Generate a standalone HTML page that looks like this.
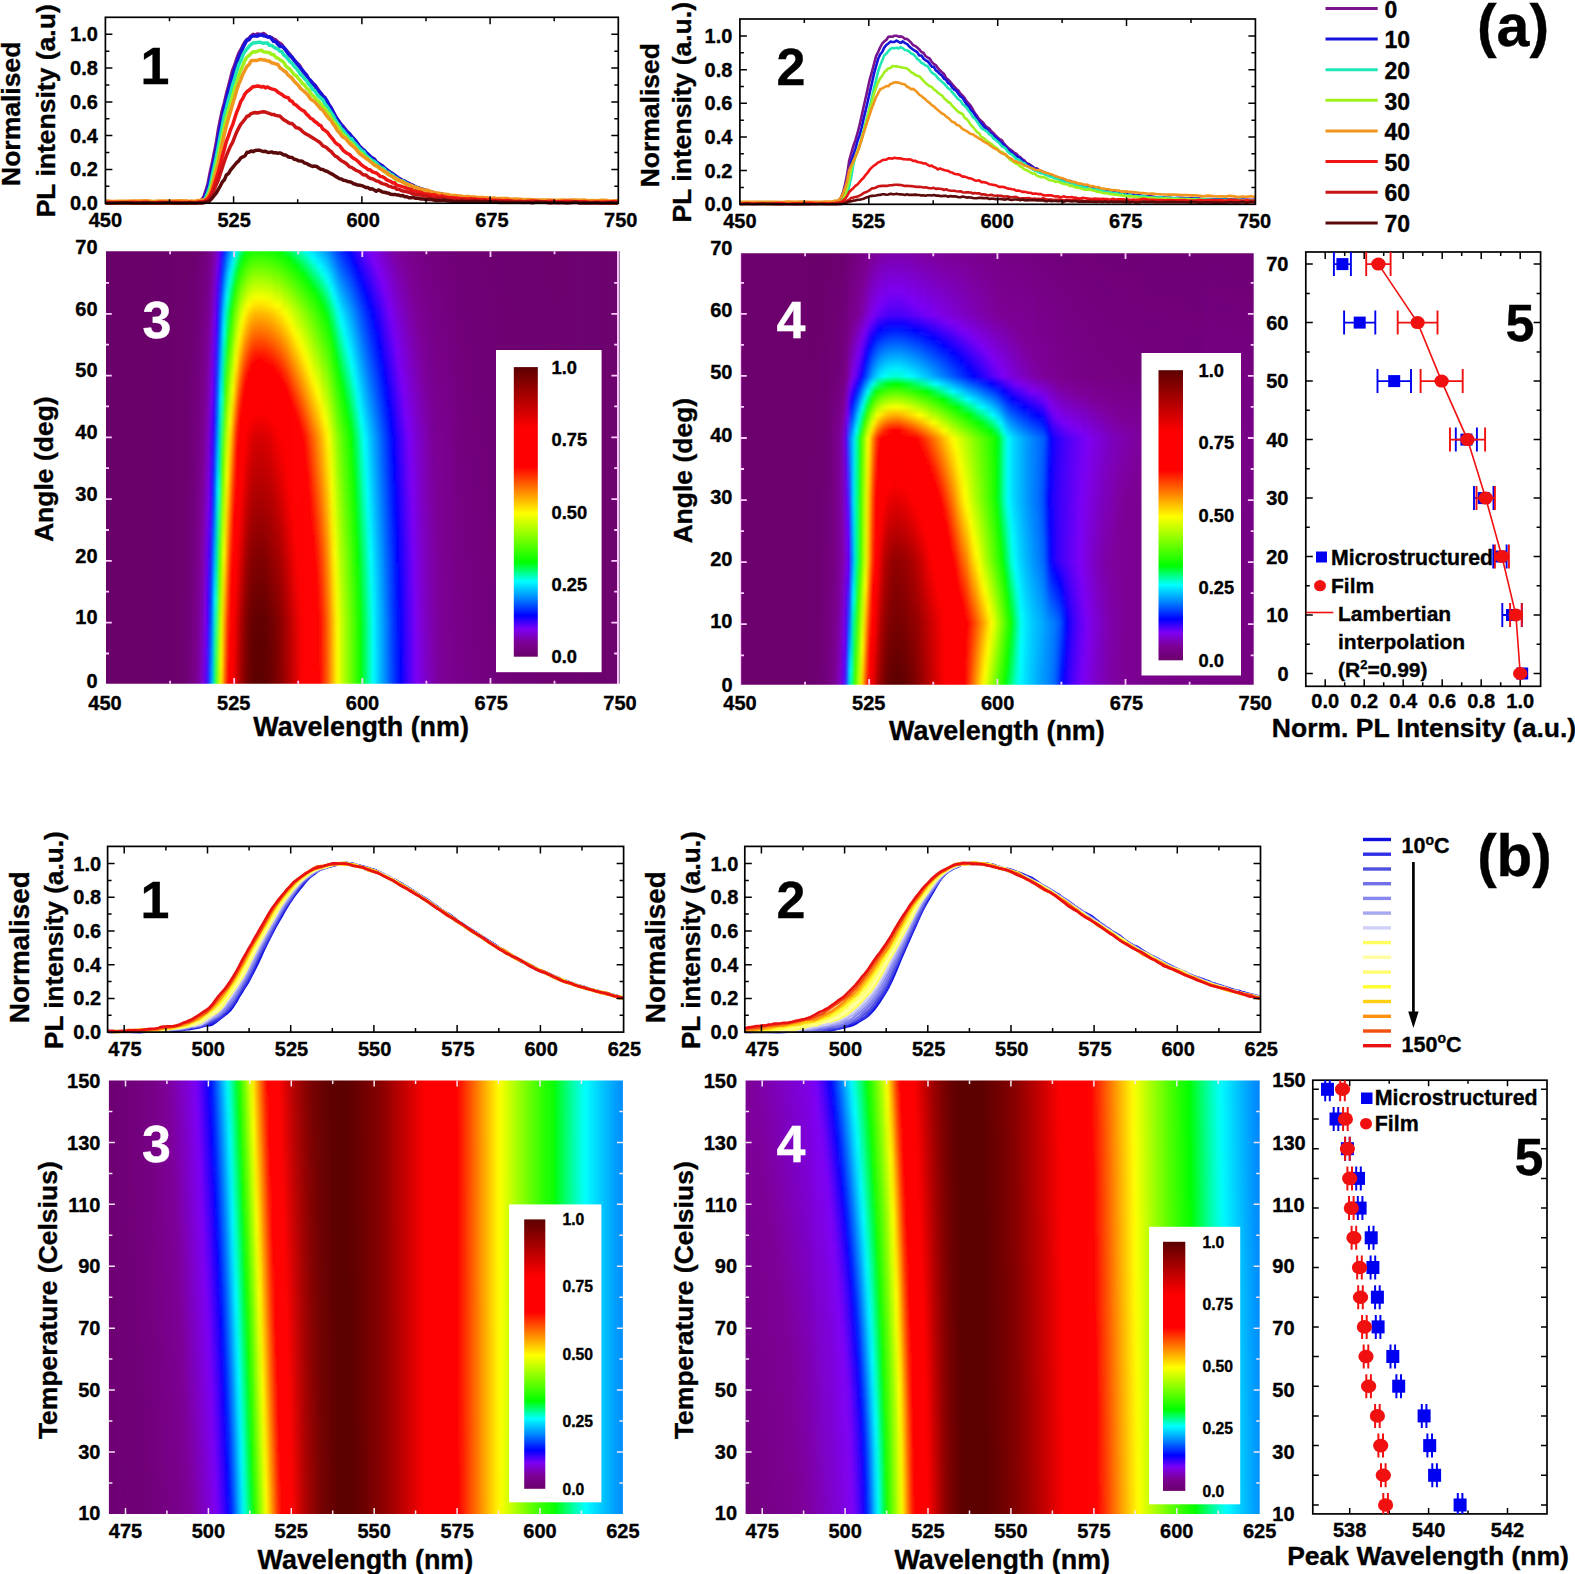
<!DOCTYPE html>
<html><head><meta charset="utf-8"><title>Figure</title>
<style>html,body{margin:0;padding:0;background:#fff}svg{display:block}text{font-family:"Liberation Sans",sans-serif;font-weight:bold;stroke-width:.35px}</style></head>
<body>
<svg width="1575" height="1574" viewBox="0 0 1575 1574">
<rect width="1575" height="1574" fill="#fff"/>
<defs>
<filter id="bl" filterUnits="userSpaceOnUse" x="0" y="0" width="1575" height="1574"><feGaussianBlur stdDeviation="1.7 0"/></filter>
<linearGradient id="p0" x2="0" y2="1"><stop offset="0.022" stop-color="#6c006c"/><stop offset="0.978" stop-color="#6e0073"/></linearGradient>
<linearGradient id="p1" x2="0" y2="1"><stop offset="0.022" stop-color="#6c006d"/><stop offset="0.978" stop-color="#710079"/></linearGradient>
<linearGradient id="p2" x2="0" y2="1"><stop offset="0.022" stop-color="#6c006e"/><stop offset="0.978" stop-color="#740080"/></linearGradient>
<linearGradient id="p3" x2="0" y2="1"><stop offset="0.022" stop-color="#6d0071"/><stop offset="0.978" stop-color="#770089"/></linearGradient>
<linearGradient id="p4" x2="0" y2="1"><stop offset="0.022" stop-color="#6e0073"/><stop offset="0.978" stop-color="#7c0094"/></linearGradient>
<linearGradient id="p5" x2="0" y2="1"><stop offset="0.022" stop-color="#700076"/><stop offset="0.722" stop-color="#7d0096"/><stop offset="0.978" stop-color="#7d00b3"/></linearGradient>
<linearGradient id="p6" x2="0" y2="1"><stop offset="0.022" stop-color="#71007a"/><stop offset="0.5" stop-color="#7d0096"/><stop offset="0.978" stop-color="#7d00d9"/></linearGradient>
<linearGradient id="p7" x2="0" y2="1"><stop offset="0.022" stop-color="#740080"/><stop offset="0.329" stop-color="#7d0098"/><stop offset="0.841" stop-color="#7d00f4"/><stop offset="0.978" stop-color="#5200f8"/></linearGradient>
<linearGradient id="p8" x2="0" y2="1"><stop offset="0.022" stop-color="#760085"/><stop offset="0.193" stop-color="#7d0098"/><stop offset="0.585" stop-color="#7d00f4"/><stop offset="0.824" stop-color="#0200ff"/><stop offset="0.978" stop-color="#002cff"/></linearGradient>
<linearGradient id="p9" x2="0" y2="1"><stop offset="0.022" stop-color="#7b0091"/><stop offset="0.329" stop-color="#7d00f3"/><stop offset="0.585" stop-color="#0100ff"/><stop offset="0.705" stop-color="#002eff"/><stop offset="0.978" stop-color="#00b0ff"/></linearGradient>
<linearGradient id="p10" x2="0" y2="1"><stop offset="0.022" stop-color="#7d00ab"/><stop offset="0.176" stop-color="#7900f5"/><stop offset="0.398" stop-color="#0003ff"/><stop offset="0.568" stop-color="#0061ff"/><stop offset="0.79" stop-color="#00fbff"/><stop offset="0.978" stop-color="#00ff2c"/></linearGradient>
<linearGradient id="p11" x2="0" y2="1"><stop offset="0.022" stop-color="#7d00e0"/><stop offset="0.056" stop-color="#7800f5"/><stop offset="0.159" stop-color="#1500fd"/><stop offset="0.193" stop-color="#0003ff"/><stop offset="0.295" stop-color="#0042ff"/><stop offset="0.551" stop-color="#00ffff"/><stop offset="0.722" stop-color="#01ff00"/><stop offset="0.841" stop-color="#49ff00"/><stop offset="0.978" stop-color="#8aff00"/></linearGradient>
<linearGradient id="p12" x2="0" y2="1"><stop offset="0.022" stop-color="#3f00fa"/><stop offset="0.073" stop-color="#0004ff"/><stop offset="0.159" stop-color="#0062ff"/><stop offset="0.346" stop-color="#00fffe"/><stop offset="0.483" stop-color="#00ff14"/><stop offset="0.5" stop-color="#03ff00"/><stop offset="0.841" stop-color="#deff00"/><stop offset="0.927" stop-color="#fffe00"/><stop offset="0.978" stop-color="#ffe900"/></linearGradient>
<linearGradient id="p13" x2="0" y2="1"><stop offset="0.022" stop-color="#001bff"/><stop offset="0.159" stop-color="#00d7ff"/><stop offset="0.193" stop-color="#00faff"/><stop offset="0.21" stop-color="#00ffe8"/><stop offset="0.329" stop-color="#01ff00"/><stop offset="0.432" stop-color="#57ff00"/><stop offset="0.688" stop-color="#feff00"/><stop offset="0.841" stop-color="#ffa300"/><stop offset="0.978" stop-color="#ff7000"/></linearGradient>
<linearGradient id="p14" x2="0" y2="1"><stop offset="0.022" stop-color="#005dff"/><stop offset="0.125" stop-color="#00fff9"/><stop offset="0.159" stop-color="#00ff95"/><stop offset="0.227" stop-color="#02ff00"/><stop offset="0.432" stop-color="#c2ff00"/><stop offset="0.517" stop-color="#faff00"/><stop offset="0.841" stop-color="#ff3100"/><stop offset="0.978" stop-color="#ff0000"/></linearGradient>
<linearGradient id="p15" x2="0" y2="1"><stop offset="0.022" stop-color="#0095ff"/><stop offset="0.073" stop-color="#00f1ff"/><stop offset="0.09" stop-color="#00ffdf"/><stop offset="0.159" stop-color="#02ff00"/><stop offset="0.398" stop-color="#faff00"/><stop offset="0.432" stop-color="#ffde00"/><stop offset="0.739" stop-color="#ff0400"/><stop offset="0.978" stop-color="#ff0000"/></linearGradient>
<linearGradient id="p16" x2="0" y2="1"><stop offset="0.022" stop-color="#00c8ff"/><stop offset="0.039" stop-color="#00eaff"/><stop offset="0.056" stop-color="#00ffe7"/><stop offset="0.107" stop-color="#00ff27"/><stop offset="0.125" stop-color="#09ff00"/><stop offset="0.159" stop-color="#3bff00"/><stop offset="0.329" stop-color="#fdff00"/><stop offset="0.432" stop-color="#ff8000"/><stop offset="0.602" stop-color="#ff0000"/><stop offset="0.978" stop-color="#fe0000"/></linearGradient>
<linearGradient id="p17" x2="0" y2="1"><stop offset="0.022" stop-color="#00fffe"/><stop offset="0.073" stop-color="#00ff29"/><stop offset="0.09" stop-color="#0cff00"/><stop offset="0.159" stop-color="#7aff00"/><stop offset="0.261" stop-color="#faff00"/><stop offset="0.278" stop-color="#ffed00"/><stop offset="0.432" stop-color="#ff1b00"/><stop offset="0.466" stop-color="#ff0100"/><stop offset="0.756" stop-color="#ff0000"/><stop offset="0.841" stop-color="#e70000"/><stop offset="0.978" stop-color="#d60000"/></linearGradient>
<linearGradient id="p18" x2="0" y2="1"><stop offset="0.022" stop-color="#00ffa5"/><stop offset="0.056" stop-color="#00ff0a"/><stop offset="0.073" stop-color="#1aff00"/><stop offset="0.159" stop-color="#b1ff00"/><stop offset="0.21" stop-color="#f7ff00"/><stop offset="0.227" stop-color="#ffef00"/><stop offset="0.381" stop-color="#ff0f00"/><stop offset="0.398" stop-color="#ff0000"/><stop offset="0.637" stop-color="#fe0000"/><stop offset="0.841" stop-color="#c10000"/><stop offset="0.978" stop-color="#b40000"/></linearGradient>
<linearGradient id="p19" x2="0" y2="1"><stop offset="0.022" stop-color="#00ff5a"/><stop offset="0.039" stop-color="#00ff08"/><stop offset="0.159" stop-color="#dfff00"/><stop offset="0.176" stop-color="#f8ff00"/><stop offset="0.193" stop-color="#ffed00"/><stop offset="0.346" stop-color="#ff0000"/><stop offset="0.534" stop-color="#ff0000"/><stop offset="0.841" stop-color="#a30000"/><stop offset="0.978" stop-color="#980000"/></linearGradient>
<linearGradient id="p20" x2="0" y2="1"><stop offset="0.022" stop-color="#00ff1f"/><stop offset="0.039" stop-color="#16ff00"/><stop offset="0.159" stop-color="#fffb00"/><stop offset="0.312" stop-color="#ff0400"/><stop offset="0.449" stop-color="#ff0000"/><stop offset="0.705" stop-color="#ab0000"/><stop offset="0.841" stop-color="#890000"/><stop offset="0.978" stop-color="#800000"/></linearGradient>
<linearGradient id="p21" x2="0" y2="1"><stop offset="0.022" stop-color="#07ff00"/><stop offset="0.142" stop-color="#fdff00"/><stop offset="0.159" stop-color="#ffdc00"/><stop offset="0.295" stop-color="#ff0000"/><stop offset="0.415" stop-color="#ff0000"/><stop offset="0.432" stop-color="#f10000"/><stop offset="0.705" stop-color="#970000"/><stop offset="0.841" stop-color="#770000"/><stop offset="0.978" stop-color="#700000"/></linearGradient>
<linearGradient id="p22" x2="0" y2="1"><stop offset="0.022" stop-color="#12ff00"/><stop offset="0.125" stop-color="#eaff00"/><stop offset="0.142" stop-color="#ffef00"/><stop offset="0.159" stop-color="#ffc900"/><stop offset="0.278" stop-color="#ff0000"/><stop offset="0.398" stop-color="#ff0000"/><stop offset="0.432" stop-color="#e30000"/><stop offset="0.705" stop-color="#890000"/><stop offset="0.841" stop-color="#6a0000"/><stop offset="0.978" stop-color="#640000"/></linearGradient>
<linearGradient id="p23" x2="0" y2="1"><stop offset="0.022" stop-color="#1aff00"/><stop offset="0.125" stop-color="#f5ff00"/><stop offset="0.142" stop-color="#ffe300"/><stop offset="0.159" stop-color="#ffbd00"/><stop offset="0.261" stop-color="#ff0c00"/><stop offset="0.278" stop-color="#ff0000"/><stop offset="0.381" stop-color="#ff0000"/><stop offset="0.432" stop-color="#da0000"/><stop offset="0.705" stop-color="#820000"/><stop offset="0.841" stop-color="#630000"/><stop offset="0.978" stop-color="#5f0000"/></linearGradient>
<linearGradient id="p24" x2="0" y2="1"><stop offset="0.022" stop-color="#1cff00"/><stop offset="0.125" stop-color="#f8ff00"/><stop offset="0.142" stop-color="#ffe000"/><stop offset="0.159" stop-color="#ffb900"/><stop offset="0.261" stop-color="#ff0700"/><stop offset="0.278" stop-color="#ff0000"/><stop offset="0.381" stop-color="#ff0000"/><stop offset="0.432" stop-color="#d80000"/><stop offset="0.705" stop-color="#7f0000"/><stop offset="0.841" stop-color="#610000"/><stop offset="0.978" stop-color="#5d0000"/></linearGradient>
<linearGradient id="p25" x2="0" y2="1"><stop offset="0.022" stop-color="#1dff00"/><stop offset="0.125" stop-color="#f9ff00"/><stop offset="0.142" stop-color="#ffde00"/><stop offset="0.159" stop-color="#ffb800"/><stop offset="0.261" stop-color="#ff0600"/><stop offset="0.278" stop-color="#ff0000"/><stop offset="0.381" stop-color="#ff0000"/><stop offset="0.432" stop-color="#d60000"/><stop offset="0.705" stop-color="#7e0000"/><stop offset="0.841" stop-color="#600000"/><stop offset="0.978" stop-color="#5c0000"/></linearGradient>
<linearGradient id="p26" x2="0" y2="1"><stop offset="0.022" stop-color="#1cff00"/><stop offset="0.125" stop-color="#f8ff00"/><stop offset="0.142" stop-color="#ffe000"/><stop offset="0.159" stop-color="#ffba00"/><stop offset="0.261" stop-color="#ff0800"/><stop offset="0.278" stop-color="#ff0000"/><stop offset="0.381" stop-color="#ff0000"/><stop offset="0.432" stop-color="#d80000"/><stop offset="0.705" stop-color="#800000"/><stop offset="0.841" stop-color="#610000"/><stop offset="0.978" stop-color="#5e0000"/></linearGradient>
<linearGradient id="p27" x2="0" y2="1"><stop offset="0.022" stop-color="#19ff00"/><stop offset="0.125" stop-color="#f4ff00"/><stop offset="0.142" stop-color="#ffe400"/><stop offset="0.159" stop-color="#ffbd00"/><stop offset="0.261" stop-color="#ff0c00"/><stop offset="0.278" stop-color="#ff0000"/><stop offset="0.381" stop-color="#ff0000"/><stop offset="0.432" stop-color="#db0000"/><stop offset="0.705" stop-color="#830000"/><stop offset="0.841" stop-color="#650000"/><stop offset="0.978" stop-color="#610000"/></linearGradient>
<linearGradient id="p28" x2="0" y2="1"><stop offset="0.022" stop-color="#16ff00"/><stop offset="0.125" stop-color="#f0ff00"/><stop offset="0.142" stop-color="#ffe900"/><stop offset="0.159" stop-color="#ffc300"/><stop offset="0.261" stop-color="#ff1300"/><stop offset="0.278" stop-color="#ff0000"/><stop offset="0.398" stop-color="#fb0000"/><stop offset="0.432" stop-color="#df0000"/><stop offset="0.568" stop-color="#b20000"/><stop offset="0.841" stop-color="#6a0000"/><stop offset="0.978" stop-color="#660000"/></linearGradient>
<linearGradient id="p29" x2="0" y2="1"><stop offset="0.022" stop-color="#11ff00"/><stop offset="0.125" stop-color="#e9ff00"/><stop offset="0.142" stop-color="#fff100"/><stop offset="0.159" stop-color="#ffcb00"/><stop offset="0.278" stop-color="#ff0000"/><stop offset="0.398" stop-color="#ff0000"/><stop offset="0.432" stop-color="#e50000"/><stop offset="0.705" stop-color="#8f0000"/><stop offset="0.841" stop-color="#710000"/><stop offset="0.978" stop-color="#6d0000"/></linearGradient>
<linearGradient id="p30" x2="0" y2="1"><stop offset="0.022" stop-color="#0cff00"/><stop offset="0.142" stop-color="#fff900"/><stop offset="0.159" stop-color="#ffd400"/><stop offset="0.278" stop-color="#ff0b00"/><stop offset="0.295" stop-color="#ff0000"/><stop offset="0.398" stop-color="#ff0000"/><stop offset="0.568" stop-color="#bf0000"/><stop offset="0.841" stop-color="#790000"/><stop offset="0.978" stop-color="#750000"/></linearGradient>
<linearGradient id="p31" x2="0" y2="1"><stop offset="0.022" stop-color="#05ff00"/><stop offset="0.142" stop-color="#fbff00"/><stop offset="0.159" stop-color="#ffdf00"/><stop offset="0.295" stop-color="#ff0000"/><stop offset="0.415" stop-color="#ff0000"/><stop offset="0.705" stop-color="#a00000"/><stop offset="0.841" stop-color="#830000"/><stop offset="0.978" stop-color="#7f0000"/></linearGradient>
<linearGradient id="p32" x2="0" y2="1"><stop offset="0.022" stop-color="#00ff07"/><stop offset="0.142" stop-color="#efff00"/><stop offset="0.159" stop-color="#ffec00"/><stop offset="0.295" stop-color="#ff0c00"/><stop offset="0.312" stop-color="#ff0000"/><stop offset="0.432" stop-color="#fd0000"/><stop offset="0.705" stop-color="#ab0000"/><stop offset="0.841" stop-color="#8e0000"/><stop offset="0.978" stop-color="#8a0000"/></linearGradient>
<linearGradient id="p33" x2="0" y2="1"><stop offset="0.022" stop-color="#00ff1f"/><stop offset="0.039" stop-color="#16ff00"/><stop offset="0.159" stop-color="#fffb00"/><stop offset="0.312" stop-color="#ff0500"/><stop offset="0.466" stop-color="#fe0000"/><stop offset="0.705" stop-color="#b80000"/><stop offset="0.841" stop-color="#9c0000"/><stop offset="0.978" stop-color="#980000"/></linearGradient>
<linearGradient id="p34" x2="0" y2="1"><stop offset="0.022" stop-color="#00ff39"/><stop offset="0.039" stop-color="#0bff00"/><stop offset="0.159" stop-color="#f3ff00"/><stop offset="0.176" stop-color="#fff100"/><stop offset="0.329" stop-color="#ff0000"/><stop offset="0.5" stop-color="#ff0000"/><stop offset="0.841" stop-color="#aa0000"/><stop offset="0.978" stop-color="#a70000"/></linearGradient>
<linearGradient id="p35" x2="0" y2="1"><stop offset="0.022" stop-color="#00ff55"/><stop offset="0.039" stop-color="#00ff02"/><stop offset="0.159" stop-color="#e2ff00"/><stop offset="0.176" stop-color="#fbff00"/><stop offset="0.193" stop-color="#ffe900"/><stop offset="0.346" stop-color="#ff0000"/><stop offset="0.551" stop-color="#ff0000"/><stop offset="0.841" stop-color="#ba0000"/><stop offset="0.978" stop-color="#b70000"/></linearGradient>
<linearGradient id="p36" x2="0" y2="1"><stop offset="0.022" stop-color="#00ff72"/><stop offset="0.039" stop-color="#00ff21"/><stop offset="0.056" stop-color="#13ff00"/><stop offset="0.159" stop-color="#d1ff00"/><stop offset="0.193" stop-color="#fffd00"/><stop offset="0.363" stop-color="#ff0000"/><stop offset="0.602" stop-color="#ff0000"/><stop offset="0.841" stop-color="#cb0000"/><stop offset="0.978" stop-color="#c70000"/></linearGradient>
<linearGradient id="p37" x2="0" y2="1"><stop offset="0.022" stop-color="#00ff8f"/><stop offset="0.039" stop-color="#00ff40"/><stop offset="0.056" stop-color="#06ff00"/><stop offset="0.159" stop-color="#beff00"/><stop offset="0.21" stop-color="#fff800"/><stop offset="0.381" stop-color="#ff0000"/><stop offset="0.671" stop-color="#fe0000"/><stop offset="0.841" stop-color="#dc0000"/><stop offset="0.978" stop-color="#d80000"/></linearGradient>
<linearGradient id="p38" x2="0" y2="1"><stop offset="0.022" stop-color="#00ffad"/><stop offset="0.056" stop-color="#00ff14"/><stop offset="0.073" stop-color="#16ff00"/><stop offset="0.159" stop-color="#acff00"/><stop offset="0.21" stop-color="#f1ff00"/><stop offset="0.227" stop-color="#fff500"/><stop offset="0.398" stop-color="#ff0300"/><stop offset="0.739" stop-color="#ff0000"/><stop offset="0.841" stop-color="#ed0000"/><stop offset="0.978" stop-color="#ea0000"/></linearGradient>
<linearGradient id="p39" x2="0" y2="1"><stop offset="0.022" stop-color="#00ffcb"/><stop offset="0.056" stop-color="#00ff35"/><stop offset="0.073" stop-color="#08ff00"/><stop offset="0.159" stop-color="#9aff00"/><stop offset="0.227" stop-color="#f4ff00"/><stop offset="0.244" stop-color="#fff300"/><stop offset="0.415" stop-color="#ff0800"/><stop offset="0.432" stop-color="#ff0000"/><stop offset="0.978" stop-color="#fb0000"/></linearGradient>
<linearGradient id="p40" x2="0" y2="1"><stop offset="0.022" stop-color="#00ffe9"/><stop offset="0.073" stop-color="#00ff0f"/><stop offset="0.09" stop-color="#16ff00"/><stop offset="0.159" stop-color="#88ff00"/><stop offset="0.244" stop-color="#f5ff00"/><stop offset="0.261" stop-color="#fff300"/><stop offset="0.432" stop-color="#ff0e00"/><stop offset="0.449" stop-color="#ff0500"/><stop offset="0.978" stop-color="#ff0000"/></linearGradient>
<linearGradient id="p41" x2="0" y2="1"><stop offset="0.022" stop-color="#00fbff"/><stop offset="0.073" stop-color="#00ff34"/><stop offset="0.09" stop-color="#07ff00"/><stop offset="0.159" stop-color="#75ff00"/><stop offset="0.261" stop-color="#f4ff00"/><stop offset="0.278" stop-color="#fff400"/><stop offset="0.432" stop-color="#ff2c00"/><stop offset="0.517" stop-color="#ff0000"/><stop offset="0.978" stop-color="#ff0000"/></linearGradient>
<linearGradient id="p42" x2="0" y2="1"><stop offset="0.022" stop-color="#00eaff"/><stop offset="0.039" stop-color="#00ffe1"/><stop offset="0.09" stop-color="#00ff14"/><stop offset="0.107" stop-color="#13ff00"/><stop offset="0.159" stop-color="#63ff00"/><stop offset="0.278" stop-color="#f2ff00"/><stop offset="0.295" stop-color="#fff700"/><stop offset="0.432" stop-color="#ff4b00"/><stop offset="0.568" stop-color="#ff0600"/><stop offset="0.978" stop-color="#ff0000"/></linearGradient>
<linearGradient id="p43" x2="0" y2="1"><stop offset="0.022" stop-color="#00daff"/><stop offset="0.039" stop-color="#00feff"/><stop offset="0.107" stop-color="#03ff00"/><stop offset="0.159" stop-color="#51ff00"/><stop offset="0.312" stop-color="#fffa00"/><stop offset="0.432" stop-color="#ff6800"/><stop offset="0.654" stop-color="#ff0000"/><stop offset="0.978" stop-color="#ff0000"/></linearGradient>
<linearGradient id="p44" x2="0" y2="1"><stop offset="0.022" stop-color="#00cbff"/><stop offset="0.039" stop-color="#00edff"/><stop offset="0.056" stop-color="#00ffdf"/><stop offset="0.107" stop-color="#00ff1f"/><stop offset="0.125" stop-color="#0dff00"/><stop offset="0.159" stop-color="#3fff00"/><stop offset="0.329" stop-color="#fffe00"/><stop offset="0.432" stop-color="#ff8500"/><stop offset="0.705" stop-color="#ff0900"/><stop offset="0.739" stop-color="#ff0000"/><stop offset="0.978" stop-color="#ff0000"/></linearGradient>
<linearGradient id="p45" x2="0" y2="1"><stop offset="0.022" stop-color="#00bbff"/><stop offset="0.056" stop-color="#00feff"/><stop offset="0.125" stop-color="#00ff08"/><stop offset="0.142" stop-color="#15ff00"/><stop offset="0.346" stop-color="#fbff00"/><stop offset="0.432" stop-color="#ffa100"/><stop offset="0.705" stop-color="#ff2900"/><stop offset="0.841" stop-color="#ff0000"/><stop offset="0.978" stop-color="#ff0000"/></linearGradient>
<linearGradient id="p46" x2="0" y2="1"><stop offset="0.022" stop-color="#00abff"/><stop offset="0.056" stop-color="#00ecff"/><stop offset="0.073" stop-color="#00ffe6"/><stop offset="0.125" stop-color="#00ff32"/><stop offset="0.142" stop-color="#04ff00"/><stop offset="0.381" stop-color="#fff800"/><stop offset="0.432" stop-color="#ffbf00"/><stop offset="0.705" stop-color="#ff4b00"/><stop offset="0.841" stop-color="#ff2300"/><stop offset="0.978" stop-color="#ff1e00"/></linearGradient>
<linearGradient id="p47" x2="0" y2="1"><stop offset="0.022" stop-color="#009aff"/><stop offset="0.073" stop-color="#00f8ff"/><stop offset="0.09" stop-color="#00ffd3"/><stop offset="0.142" stop-color="#00ff26"/><stop offset="0.159" stop-color="#08ff00"/><stop offset="0.398" stop-color="#fbff00"/><stop offset="0.432" stop-color="#ffdf00"/><stop offset="0.705" stop-color="#ff6f00"/><stop offset="0.841" stop-color="#ff4800"/><stop offset="0.978" stop-color="#ff4400"/></linearGradient>
<linearGradient id="p48" x2="0" y2="1"><stop offset="0.022" stop-color="#0086ff"/><stop offset="0.09" stop-color="#00fdff"/><stop offset="0.159" stop-color="#00ff25"/><stop offset="0.176" stop-color="#02ff00"/><stop offset="0.432" stop-color="#fbff00"/><stop offset="0.705" stop-color="#ff9900"/><stop offset="0.841" stop-color="#ff7400"/><stop offset="0.978" stop-color="#ff6f00"/></linearGradient>
<linearGradient id="p49" x2="0" y2="1"><stop offset="0.022" stop-color="#006fff"/><stop offset="0.107" stop-color="#00feff"/><stop offset="0.159" stop-color="#00ff65"/><stop offset="0.193" stop-color="#00ff14"/><stop offset="0.21" stop-color="#08ff00"/><stop offset="0.432" stop-color="#d4ff00"/><stop offset="0.534" stop-color="#faff00"/><stop offset="0.841" stop-color="#ffa400"/><stop offset="0.978" stop-color="#ff9f00"/></linearGradient>
<linearGradient id="p50" x2="0" y2="1"><stop offset="0.022" stop-color="#0057ff"/><stop offset="0.125" stop-color="#00faff"/><stop offset="0.159" stop-color="#00ffa6"/><stop offset="0.227" stop-color="#00ff0e"/><stop offset="0.244" stop-color="#09ff00"/><stop offset="0.432" stop-color="#acff00"/><stop offset="0.568" stop-color="#dcff00"/><stop offset="0.688" stop-color="#fffc00"/><stop offset="0.841" stop-color="#ffd500"/><stop offset="0.978" stop-color="#ffd100"/></linearGradient>
<linearGradient id="p51" x2="0" y2="1"><stop offset="0.022" stop-color="#0040ff"/><stop offset="0.142" stop-color="#00f4ff"/><stop offset="0.159" stop-color="#00ffe4"/><stop offset="0.261" stop-color="#00ff0d"/><stop offset="0.278" stop-color="#09ff00"/><stop offset="0.432" stop-color="#87ff00"/><stop offset="0.705" stop-color="#ddff00"/><stop offset="0.841" stop-color="#faff00"/><stop offset="0.978" stop-color="#feff00"/></linearGradient>
<linearGradient id="p52" x2="0" y2="1"><stop offset="0.022" stop-color="#002cff"/><stop offset="0.159" stop-color="#00f0ff"/><stop offset="0.176" stop-color="#00fff8"/><stop offset="0.295" stop-color="#00ff0b"/><stop offset="0.312" stop-color="#09ff00"/><stop offset="0.432" stop-color="#66ff00"/><stop offset="0.568" stop-color="#90ff00"/><stop offset="0.841" stop-color="#d3ff00"/><stop offset="0.978" stop-color="#d7ff00"/></linearGradient>
<linearGradient id="p53" x2="0" y2="1"><stop offset="0.022" stop-color="#001bff"/><stop offset="0.159" stop-color="#00d7ff"/><stop offset="0.193" stop-color="#00faff"/><stop offset="0.21" stop-color="#00ffe7"/><stop offset="0.329" stop-color="#00ff05"/><stop offset="0.346" stop-color="#0bff00"/><stop offset="0.432" stop-color="#4aff00"/><stop offset="0.705" stop-color="#97ff00"/><stop offset="0.841" stop-color="#b2ff00"/><stop offset="0.978" stop-color="#b5ff00"/></linearGradient>
<linearGradient id="p54" x2="0" y2="1"><stop offset="0.022" stop-color="#000bff"/><stop offset="0.159" stop-color="#00c1ff"/><stop offset="0.227" stop-color="#00fff7"/><stop offset="0.363" stop-color="#00ff00"/><stop offset="0.432" stop-color="#30ff00"/><stop offset="0.705" stop-color="#7aff00"/><stop offset="0.841" stop-color="#94ff00"/><stop offset="0.978" stop-color="#97ff00"/></linearGradient>
<linearGradient id="p55" x2="0" y2="1"><stop offset="0.022" stop-color="#0500ff"/><stop offset="0.159" stop-color="#00abff"/><stop offset="0.244" stop-color="#00faff"/><stop offset="0.261" stop-color="#00ffea"/><stop offset="0.398" stop-color="#01ff00"/><stop offset="0.432" stop-color="#18ff00"/><stop offset="0.705" stop-color="#5eff00"/><stop offset="0.841" stop-color="#77ff00"/><stop offset="0.978" stop-color="#7aff00"/></linearGradient>
<linearGradient id="p56" x2="0" y2="1"><stop offset="0.022" stop-color="#1800fd"/><stop offset="0.039" stop-color="#0002ff"/><stop offset="0.159" stop-color="#0094ff"/><stop offset="0.278" stop-color="#00feff"/><stop offset="0.432" stop-color="#00ff06"/><stop offset="0.841" stop-color="#58ff00"/><stop offset="0.978" stop-color="#5bff00"/></linearGradient>
<linearGradient id="p57" x2="0" y2="1"><stop offset="0.022" stop-color="#2b00fc"/><stop offset="0.056" stop-color="#0004ff"/><stop offset="0.159" stop-color="#007cff"/><stop offset="0.312" stop-color="#00fdff"/><stop offset="0.432" stop-color="#00ff4a"/><stop offset="0.551" stop-color="#00ff00"/><stop offset="0.841" stop-color="#38ff00"/><stop offset="0.978" stop-color="#3bff00"/></linearGradient>
<linearGradient id="p58" x2="0" y2="1"><stop offset="0.022" stop-color="#3f00fa"/><stop offset="0.073" stop-color="#0005ff"/><stop offset="0.159" stop-color="#0063ff"/><stop offset="0.346" stop-color="#00f9ff"/><stop offset="0.363" stop-color="#00fff1"/><stop offset="0.432" stop-color="#00ff8e"/><stop offset="0.688" stop-color="#01ff00"/><stop offset="0.841" stop-color="#19ff00"/><stop offset="0.978" stop-color="#1cff00"/></linearGradient>
<linearGradient id="p59" x2="0" y2="1"><stop offset="0.022" stop-color="#5100f9"/><stop offset="0.09" stop-color="#0004ff"/><stop offset="0.159" stop-color="#004bff"/><stop offset="0.398" stop-color="#00fffc"/><stop offset="0.432" stop-color="#00ffcd"/><stop offset="0.705" stop-color="#00ff3c"/><stop offset="0.841" stop-color="#00ff0a"/><stop offset="0.978" stop-color="#00ff04"/></linearGradient>
<linearGradient id="p60" x2="0" y2="1"><stop offset="0.022" stop-color="#6200f7"/><stop offset="0.107" stop-color="#0003ff"/><stop offset="0.159" stop-color="#0035ff"/><stop offset="0.432" stop-color="#00fbff"/><stop offset="0.449" stop-color="#00fffe"/><stop offset="0.705" stop-color="#00ff7e"/><stop offset="0.841" stop-color="#00ff4f"/><stop offset="0.978" stop-color="#00ff49"/></linearGradient>
<linearGradient id="p61" x2="0" y2="1"><stop offset="0.022" stop-color="#7200f6"/><stop offset="0.125" stop-color="#0001ff"/><stop offset="0.159" stop-color="#0021ff"/><stop offset="0.432" stop-color="#00ddff"/><stop offset="0.551" stop-color="#00fdff"/><stop offset="0.705" stop-color="#00ffbd"/><stop offset="0.841" stop-color="#00ff90"/><stop offset="0.978" stop-color="#00ff8a"/></linearGradient>
<linearGradient id="p62" x2="0" y2="1"><stop offset="0.022" stop-color="#7d00f2"/><stop offset="0.142" stop-color="#0200ff"/><stop offset="0.432" stop-color="#00c1ff"/><stop offset="0.688" stop-color="#00ffff"/><stop offset="0.841" stop-color="#00ffce"/><stop offset="0.978" stop-color="#00ffc8"/></linearGradient>
<linearGradient id="p63" x2="0" y2="1"><stop offset="0.022" stop-color="#7d00e7"/><stop offset="0.039" stop-color="#7d00f4"/><stop offset="0.159" stop-color="#0600ff"/><stop offset="0.176" stop-color="#0006ff"/><stop offset="0.432" stop-color="#00a6ff"/><stop offset="0.722" stop-color="#00e7ff"/><stop offset="0.841" stop-color="#00faff"/><stop offset="0.978" stop-color="#00fcff"/></linearGradient>
<linearGradient id="p64" x2="0" y2="1"><stop offset="0.022" stop-color="#7d00dd"/><stop offset="0.056" stop-color="#7d00f5"/><stop offset="0.159" stop-color="#1c00fd"/><stop offset="0.21" stop-color="#0008ff"/><stop offset="0.432" stop-color="#008dff"/><stop offset="0.756" stop-color="#00cfff"/><stop offset="0.978" stop-color="#00deff"/></linearGradient>
<linearGradient id="p65" x2="0" y2="1"><stop offset="0.022" stop-color="#7d00d3"/><stop offset="0.073" stop-color="#7d00f5"/><stop offset="0.159" stop-color="#3000fb"/><stop offset="0.227" stop-color="#0200ff"/><stop offset="0.432" stop-color="#0073ff"/><stop offset="0.705" stop-color="#00abff"/><stop offset="0.841" stop-color="#00beff"/><stop offset="0.978" stop-color="#00c0ff"/></linearGradient>
<linearGradient id="p66" x2="0" y2="1"><stop offset="0.022" stop-color="#7d00c9"/><stop offset="0.09" stop-color="#7d00f4"/><stop offset="0.159" stop-color="#4500f9"/><stop offset="0.278" stop-color="#0007ff"/><stop offset="0.432" stop-color="#0058ff"/><stop offset="0.705" stop-color="#008fff"/><stop offset="0.841" stop-color="#00a1ff"/><stop offset="0.978" stop-color="#00a3ff"/></linearGradient>
<linearGradient id="p67" x2="0" y2="1"><stop offset="0.022" stop-color="#7d00bf"/><stop offset="0.107" stop-color="#7d00f2"/><stop offset="0.312" stop-color="#0003ff"/><stop offset="0.432" stop-color="#003eff"/><stop offset="0.568" stop-color="#005aff"/><stop offset="0.841" stop-color="#0084ff"/><stop offset="0.978" stop-color="#0087ff"/></linearGradient>
<linearGradient id="p68" x2="0" y2="1"><stop offset="0.022" stop-color="#7d00b5"/><stop offset="0.142" stop-color="#7900f5"/><stop offset="0.363" stop-color="#0005ff"/><stop offset="0.432" stop-color="#0025ff"/><stop offset="0.705" stop-color="#0056ff"/><stop offset="0.841" stop-color="#0067ff"/><stop offset="0.978" stop-color="#0069ff"/></linearGradient>
<linearGradient id="p69" x2="0" y2="1"><stop offset="0.022" stop-color="#7d00ac"/><stop offset="0.159" stop-color="#7d00f3"/><stop offset="0.398" stop-color="#0200ff"/><stop offset="0.705" stop-color="#003bff"/><stop offset="0.978" stop-color="#004dff"/></linearGradient>
<linearGradient id="p70" x2="0" y2="1"><stop offset="0.022" stop-color="#7d00a3"/><stop offset="0.21" stop-color="#7800f5"/><stop offset="0.432" stop-color="#0c00fe"/><stop offset="0.483" stop-color="#0200ff"/><stop offset="0.841" stop-color="#002fff"/><stop offset="0.978" stop-color="#0031ff"/></linearGradient>
<linearGradient id="p71" x2="0" y2="1"><stop offset="0.022" stop-color="#7d009b"/><stop offset="0.244" stop-color="#7c00f5"/><stop offset="0.432" stop-color="#2700fc"/><stop offset="0.568" stop-color="#0e00fe"/><stop offset="0.654" stop-color="#0000ff"/><stop offset="0.841" stop-color="#0015ff"/><stop offset="0.978" stop-color="#0017ff"/></linearGradient>
<linearGradient id="p72" x2="0" y2="1"><stop offset="0.022" stop-color="#7d0095"/><stop offset="0.159" stop-color="#7d00cc"/><stop offset="0.295" stop-color="#7900f5"/><stop offset="0.432" stop-color="#3f00fa"/><stop offset="0.722" stop-color="#1100fe"/><stop offset="0.978" stop-color="#0200ff"/></linearGradient>
<linearGradient id="p73" x2="0" y2="1"><stop offset="0.022" stop-color="#7b0092"/><stop offset="0.329" stop-color="#7d00f4"/><stop offset="0.432" stop-color="#5600f8"/><stop offset="0.568" stop-color="#4000fa"/><stop offset="0.841" stop-color="#1e00fd"/><stop offset="0.978" stop-color="#1c00fd"/></linearGradient>
<linearGradient id="p74" x2="0" y2="1"><stop offset="0.022" stop-color="#7a008f"/><stop offset="0.381" stop-color="#7d00f5"/><stop offset="0.432" stop-color="#6a00f7"/><stop offset="0.705" stop-color="#4300fa"/><stop offset="0.978" stop-color="#3400fb"/></linearGradient>
<linearGradient id="p75" x2="0" y2="1"><stop offset="0.022" stop-color="#79008d"/><stop offset="0.09" stop-color="#7d0097"/><stop offset="0.432" stop-color="#7d00f5"/><stop offset="0.722" stop-color="#5800f8"/><stop offset="0.978" stop-color="#4b00f9"/></linearGradient>
<linearGradient id="p76" x2="0" y2="1"><stop offset="0.022" stop-color="#78008b"/><stop offset="0.107" stop-color="#7d0096"/><stop offset="0.432" stop-color="#7d00e7"/><stop offset="0.585" stop-color="#7c00f5"/><stop offset="0.841" stop-color="#6300f7"/><stop offset="0.978" stop-color="#6100f7"/></linearGradient>
<linearGradient id="p77" x2="0" y2="1"><stop offset="0.022" stop-color="#770088"/><stop offset="0.142" stop-color="#7d0097"/><stop offset="0.432" stop-color="#7d00d9"/><stop offset="0.773" stop-color="#7d00f4"/><stop offset="0.978" stop-color="#7700f5"/></linearGradient>
<linearGradient id="p78" x2="0" y2="1"><stop offset="0.022" stop-color="#760086"/><stop offset="0.176" stop-color="#7d0097"/><stop offset="0.432" stop-color="#7d00cc"/><stop offset="0.978" stop-color="#7d00ea"/></linearGradient>
<linearGradient id="p79" x2="0" y2="1"><stop offset="0.022" stop-color="#750084"/><stop offset="0.21" stop-color="#7d0096"/><stop offset="0.432" stop-color="#7d00c0"/><stop offset="0.978" stop-color="#7d00dc"/></linearGradient>
<linearGradient id="p80" x2="0" y2="1"><stop offset="0.022" stop-color="#750082"/><stop offset="0.261" stop-color="#7d0097"/><stop offset="0.432" stop-color="#7d00b5"/><stop offset="0.978" stop-color="#7d00ce"/></linearGradient>
<linearGradient id="p81" x2="0" y2="1"><stop offset="0.022" stop-color="#740080"/><stop offset="0.312" stop-color="#7d0097"/><stop offset="0.432" stop-color="#7d00aa"/><stop offset="0.978" stop-color="#7d00c2"/></linearGradient>
<linearGradient id="p82" x2="0" y2="1"><stop offset="0.022" stop-color="#73007f"/><stop offset="0.568" stop-color="#7d00a9"/><stop offset="0.978" stop-color="#7d00b7"/></linearGradient>
<linearGradient id="p83" x2="0" y2="1"><stop offset="0.022" stop-color="#73007d"/><stop offset="0.705" stop-color="#7d00a7"/><stop offset="0.978" stop-color="#7d00ad"/></linearGradient>
<linearGradient id="p84" x2="0" y2="1"><stop offset="0.022" stop-color="#72007c"/><stop offset="0.432" stop-color="#7c0094"/><stop offset="0.978" stop-color="#7d00a4"/></linearGradient>
<linearGradient id="p85" x2="0" y2="1"><stop offset="0.022" stop-color="#72007b"/><stop offset="0.432" stop-color="#7b0091"/><stop offset="0.978" stop-color="#7d009b"/></linearGradient>
<linearGradient id="p86" x2="0" y2="1"><stop offset="0.022" stop-color="#71007a"/><stop offset="0.432" stop-color="#7a008f"/><stop offset="0.978" stop-color="#7d0095"/></linearGradient>
<linearGradient id="p87" x2="0" y2="1"><stop offset="0.022" stop-color="#710079"/><stop offset="0.432" stop-color="#79008d"/><stop offset="0.978" stop-color="#7c0093"/></linearGradient>
<linearGradient id="p88" x2="0" y2="1"><stop offset="0.022" stop-color="#700078"/><stop offset="0.432" stop-color="#78008b"/><stop offset="0.978" stop-color="#7b0091"/></linearGradient>
<linearGradient id="p89" x2="0" y2="1"><stop offset="0.022" stop-color="#700077"/><stop offset="0.432" stop-color="#770089"/><stop offset="0.978" stop-color="#7a008f"/></linearGradient>
<linearGradient id="p90" x2="0" y2="1"><stop offset="0.022" stop-color="#700077"/><stop offset="0.432" stop-color="#770087"/><stop offset="0.978" stop-color="#79008d"/></linearGradient>
<linearGradient id="p91" x2="0" y2="1"><stop offset="0.022" stop-color="#700076"/><stop offset="0.978" stop-color="#78008b"/></linearGradient>
<linearGradient id="p92" x2="0" y2="1"><stop offset="0.022" stop-color="#6f0075"/><stop offset="0.978" stop-color="#780089"/></linearGradient>
<linearGradient id="p93" x2="0" y2="1"><stop offset="0.022" stop-color="#6f0075"/><stop offset="0.978" stop-color="#770088"/></linearGradient>
<linearGradient id="p94" x2="0" y2="1"><stop offset="0.022" stop-color="#6f0074"/><stop offset="0.978" stop-color="#760086"/></linearGradient>
<linearGradient id="p95" x2="0" y2="1"><stop offset="0.022" stop-color="#6f0074"/><stop offset="0.978" stop-color="#760085"/></linearGradient>
<linearGradient id="p96" x2="0" y2="1"><stop offset="0.022" stop-color="#6f0074"/><stop offset="0.978" stop-color="#750084"/></linearGradient>
<linearGradient id="p97" x2="0" y2="1"><stop offset="0.022" stop-color="#6e0073"/><stop offset="0.978" stop-color="#750083"/></linearGradient>
<linearGradient id="p98" x2="0" y2="1"><stop offset="0.022" stop-color="#6e0073"/><stop offset="0.978" stop-color="#740082"/></linearGradient>
<linearGradient id="p99" x2="0" y2="1"><stop offset="0.022" stop-color="#6e0072"/><stop offset="0.978" stop-color="#740081"/></linearGradient>
<linearGradient id="p100" x2="0" y2="1"><stop offset="0.022" stop-color="#6e0072"/><stop offset="0.978" stop-color="#740080"/></linearGradient>
<linearGradient id="p101" x2="0" y2="1"><stop offset="0.022" stop-color="#6e0072"/><stop offset="0.978" stop-color="#73007f"/></linearGradient>
<linearGradient id="p102" x2="0" y2="1"><stop offset="0.022" stop-color="#6e0071"/><stop offset="0.978" stop-color="#73007e"/></linearGradient>
<linearGradient id="p103" x2="0" y2="1"><stop offset="0.022" stop-color="#6e0071"/><stop offset="0.978" stop-color="#72007d"/></linearGradient>
<linearGradient id="p104" x2="0" y2="1"><stop offset="0.022" stop-color="#6d0071"/><stop offset="0.978" stop-color="#72007c"/></linearGradient>
<linearGradient id="p105" x2="0" y2="1"><stop offset="0.022" stop-color="#6d0071"/><stop offset="0.978" stop-color="#72007b"/></linearGradient>
<linearGradient id="p106" x2="0" y2="1"><stop offset="0.022" stop-color="#6d0070"/><stop offset="0.978" stop-color="#71007a"/></linearGradient>
<linearGradient id="p107" x2="0" y2="1"><stop offset="0.022" stop-color="#6d0070"/><stop offset="0.978" stop-color="#710079"/></linearGradient>
<linearGradient id="p108" x2="0" y2="1"><stop offset="0.022" stop-color="#6d0070"/><stop offset="0.978" stop-color="#710078"/></linearGradient>
<linearGradient id="p109" x2="0" y2="1"><stop offset="0.022" stop-color="#6d006f"/><stop offset="0.978" stop-color="#700078"/></linearGradient>
<linearGradient id="p110" x2="0" y2="1"><stop offset="0.022" stop-color="#6d006f"/><stop offset="0.978" stop-color="#700077"/></linearGradient>
<linearGradient id="p111" x2="0" y2="1"><stop offset="0.022" stop-color="#6d006f"/><stop offset="0.978" stop-color="#700076"/></linearGradient>
<linearGradient id="p112" x2="0" y2="1"><stop offset="0.022" stop-color="#6d006f"/><stop offset="0.978" stop-color="#6f0075"/></linearGradient>
<linearGradient id="p113" x2="0" y2="1"><stop offset="0.022" stop-color="#6c006e"/><stop offset="0.978" stop-color="#6f0075"/></linearGradient>
<linearGradient id="p114" x2="0" y2="1"><stop offset="0.022" stop-color="#6c006e"/><stop offset="0.978" stop-color="#6f0074"/></linearGradient>
<linearGradient id="p115" x2="0" y2="1"><stop offset="0.022" stop-color="#6c006e"/><stop offset="0.978" stop-color="#6e0073"/></linearGradient>
<linearGradient id="p116" x2="0" y2="1"><stop offset="0.022" stop-color="#6c006e"/><stop offset="0.978" stop-color="#6e0072"/></linearGradient>
<linearGradient id="p117" x2="0" y2="1"><stop offset="0.022" stop-color="#6c006d"/><stop offset="0.978" stop-color="#6e0072"/></linearGradient>
<linearGradient id="p118" x2="0" y2="1"><stop offset="0.022" stop-color="#6c006d"/><stop offset="0.978" stop-color="#6e0071"/></linearGradient>
<linearGradient id="p119" x2="0" y2="1"><stop offset="0.022" stop-color="#6c006d"/><stop offset="0.978" stop-color="#6d0071"/></linearGradient>
<linearGradient id="cbA3" x1="0" y1="0" x2="0" y2="1"><stop offset="0.000" stop-color="#5c0000"/><stop offset="0.213" stop-color="#ff0000"/><stop offset="0.344" stop-color="#ff0000"/><stop offset="0.505" stop-color="#ffff00"/><stop offset="0.674" stop-color="#00ff00"/><stop offset="0.740" stop-color="#00ffff"/><stop offset="0.800" stop-color="#0082ff"/><stop offset="0.858" stop-color="#0000ff"/><stop offset="0.904" stop-color="#7d00f5"/><stop offset="0.950" stop-color="#7d0096"/><stop offset="1.000" stop-color="#6b006b"/></linearGradient>
<linearGradient id="q0" x2="0" y2="1"><stop offset="0.022" stop-color="#6b006b"/><stop offset="0.978" stop-color="#6d0070"/></linearGradient>
<linearGradient id="q1" x2="0" y2="1"><stop offset="0.022" stop-color="#6b006b"/><stop offset="0.978" stop-color="#6d0071"/></linearGradient>
<linearGradient id="q2" x2="0" y2="1"><stop offset="0.022" stop-color="#6b006b"/><stop offset="0.978" stop-color="#6e0072"/></linearGradient>
<linearGradient id="q3" x2="0" y2="1"><stop offset="0.022" stop-color="#6b006c"/><stop offset="0.978" stop-color="#6f0075"/></linearGradient>
<linearGradient id="q4" x2="0" y2="1"><stop offset="0.022" stop-color="#6b006c"/><stop offset="0.978" stop-color="#710078"/></linearGradient>
<linearGradient id="q5" x2="0" y2="1"><stop offset="0.022" stop-color="#6b006c"/><stop offset="0.978" stop-color="#73007e"/></linearGradient>
<linearGradient id="q6" x2="0" y2="1"><stop offset="0.022" stop-color="#6c006d"/><stop offset="0.978" stop-color="#760084"/></linearGradient>
<linearGradient id="q7" x2="0" y2="1"><stop offset="0.022" stop-color="#6c006d"/><stop offset="0.295" stop-color="#6f0074"/><stop offset="0.432" stop-color="#750083"/><stop offset="0.705" stop-color="#740080"/><stop offset="0.978" stop-color="#79008c"/></linearGradient>
<linearGradient id="q8" x2="0" y2="1"><stop offset="0.022" stop-color="#6c006e"/><stop offset="0.295" stop-color="#700077"/><stop offset="0.432" stop-color="#78008a"/><stop offset="0.705" stop-color="#770087"/><stop offset="0.978" stop-color="#7d0096"/></linearGradient>
<linearGradient id="q9" x2="0" y2="1"><stop offset="0.022" stop-color="#6c006e"/><stop offset="0.295" stop-color="#71007a"/><stop offset="0.432" stop-color="#7c0093"/><stop offset="0.79" stop-color="#7d0095"/><stop offset="0.978" stop-color="#7d00b5"/></linearGradient>
<linearGradient id="q10" x2="0" y2="1"><stop offset="0.022" stop-color="#6d006f"/><stop offset="0.295" stop-color="#73007e"/><stop offset="0.398" stop-color="#7d0096"/><stop offset="0.432" stop-color="#7d00a9"/><stop offset="0.705" stop-color="#7d009f"/><stop offset="0.978" stop-color="#7d00da"/></linearGradient>
<linearGradient id="q11" x2="0" y2="1"><stop offset="0.022" stop-color="#6d0071"/><stop offset="0.295" stop-color="#760085"/><stop offset="0.346" stop-color="#7d0095"/><stop offset="0.432" stop-color="#7d00d4"/><stop offset="0.705" stop-color="#7d00bf"/><stop offset="0.875" stop-color="#7d00f0"/><stop offset="0.978" stop-color="#4f00f9"/></linearGradient>
<linearGradient id="q12" x2="0" y2="1"><stop offset="0.022" stop-color="#6f0074"/><stop offset="0.159" stop-color="#72007c"/><stop offset="0.295" stop-color="#7c0094"/><stop offset="0.381" stop-color="#7d00f4"/><stop offset="0.432" stop-color="#3000fb"/><stop offset="0.654" stop-color="#7d00f5"/><stop offset="0.705" stop-color="#7d00e8"/><stop offset="0.722" stop-color="#7d00f1"/><stop offset="0.875" stop-color="#0800fe"/><stop offset="0.978" stop-color="#004aff"/></linearGradient>
<linearGradient id="q13" x2="0" y2="1"><stop offset="0.022" stop-color="#710079"/><stop offset="0.21" stop-color="#7c0095"/><stop offset="0.295" stop-color="#7d00ca"/><stop offset="0.312" stop-color="#7d00ea"/><stop offset="0.329" stop-color="#6200f7"/><stop offset="0.363" stop-color="#0e00fe"/><stop offset="0.381" stop-color="#0017ff"/><stop offset="0.432" stop-color="#007eff"/><stop offset="0.671" stop-color="#0004ff"/><stop offset="0.705" stop-color="#0f00fe"/><stop offset="0.722" stop-color="#0004ff"/><stop offset="0.841" stop-color="#0079ff"/><stop offset="0.944" stop-color="#00fbff"/><stop offset="0.978" stop-color="#00ffb5"/></linearGradient>
<linearGradient id="q14" x2="0" y2="1"><stop offset="0.022" stop-color="#72007c"/><stop offset="0.176" stop-color="#7b0091"/><stop offset="0.295" stop-color="#7d00e8"/><stop offset="0.312" stop-color="#5c00f8"/><stop offset="0.329" stop-color="#2a00fc"/><stop offset="0.346" stop-color="#0006ff"/><stop offset="0.432" stop-color="#00ceff"/><stop offset="0.568" stop-color="#00dfff"/><stop offset="0.705" stop-color="#00afff"/><stop offset="0.773" stop-color="#00f5ff"/><stop offset="0.79" stop-color="#00fff0"/><stop offset="0.841" stop-color="#00ff8e"/><stop offset="0.944" stop-color="#00ff0f"/><stop offset="0.961" stop-color="#02ff00"/><stop offset="0.978" stop-color="#0bff00"/></linearGradient>
<linearGradient id="q15" x2="0" y2="1"><stop offset="0.022" stop-color="#73007f"/><stop offset="0.159" stop-color="#7b0092"/><stop offset="0.261" stop-color="#7d00eb"/><stop offset="0.295" stop-color="#6100f7"/><stop offset="0.312" stop-color="#2600fc"/><stop offset="0.329" stop-color="#0011ff"/><stop offset="0.415" stop-color="#00faff"/><stop offset="0.432" stop-color="#00ffb4"/><stop offset="0.568" stop-color="#00ff91"/><stop offset="0.705" stop-color="#00ff8d"/><stop offset="0.79" stop-color="#00ff10"/><stop offset="0.807" stop-color="#04ff00"/><stop offset="0.978" stop-color="#66ff00"/></linearGradient>
<linearGradient id="q16" x2="0" y2="1"><stop offset="0.022" stop-color="#750083"/><stop offset="0.159" stop-color="#7d009c"/><stop offset="0.244" stop-color="#7a00f5"/><stop offset="0.295" stop-color="#3200fb"/><stop offset="0.312" stop-color="#000fff"/><stop offset="0.381" stop-color="#00e9ff"/><stop offset="0.398" stop-color="#00ffc6"/><stop offset="0.432" stop-color="#00ff03"/><stop offset="0.568" stop-color="#13ff00"/><stop offset="0.705" stop-color="#18ff00"/><stop offset="0.978" stop-color="#c7ff00"/></linearGradient>
<linearGradient id="q17" x2="0" y2="1"><stop offset="0.022" stop-color="#770087"/><stop offset="0.107" stop-color="#7d0097"/><stop offset="0.159" stop-color="#7d00ad"/><stop offset="0.21" stop-color="#7d00ed"/><stop offset="0.227" stop-color="#6b00f6"/><stop offset="0.295" stop-color="#0004ff"/><stop offset="0.363" stop-color="#00fffa"/><stop offset="0.398" stop-color="#00ff18"/><stop offset="0.415" stop-color="#23ff00"/><stop offset="0.432" stop-color="#4fff00"/><stop offset="0.568" stop-color="#66ff00"/><stop offset="0.705" stop-color="#6fff00"/><stop offset="0.893" stop-color="#f9ff00"/><stop offset="0.978" stop-color="#ffc300"/></linearGradient>
<linearGradient id="q18" x2="0" y2="1"><stop offset="0.022" stop-color="#78008b"/><stop offset="0.073" stop-color="#7d0096"/><stop offset="0.159" stop-color="#7d00c1"/><stop offset="0.193" stop-color="#7d00f2"/><stop offset="0.261" stop-color="#0001ff"/><stop offset="0.295" stop-color="#0036ff"/><stop offset="0.329" stop-color="#00c8ff"/><stop offset="0.346" stop-color="#00ffe2"/><stop offset="0.363" stop-color="#00ff5f"/><stop offset="0.381" stop-color="#0eff00"/><stop offset="0.432" stop-color="#a7ff00"/><stop offset="0.568" stop-color="#c7ff00"/><stop offset="0.705" stop-color="#d1ff00"/><stop offset="0.756" stop-color="#fdff00"/><stop offset="0.978" stop-color="#ff4100"/></linearGradient>
<linearGradient id="q19" x2="0" y2="1"><stop offset="0.022" stop-color="#7a008f"/><stop offset="0.056" stop-color="#7d0099"/><stop offset="0.159" stop-color="#7d00d4"/><stop offset="0.176" stop-color="#7d00f0"/><stop offset="0.227" stop-color="#1600fd"/><stop offset="0.244" stop-color="#000cff"/><stop offset="0.295" stop-color="#0066ff"/><stop offset="0.312" stop-color="#00b8ff"/><stop offset="0.329" stop-color="#00ffef"/><stop offset="0.346" stop-color="#00ff5b"/><stop offset="0.363" stop-color="#16ff00"/><stop offset="0.432" stop-color="#fdff00"/><stop offset="0.568" stop-color="#ffcf00"/><stop offset="0.705" stop-color="#ffba00"/><stop offset="0.893" stop-color="#ff0b00"/><stop offset="0.91" stop-color="#ff0000"/><stop offset="0.978" stop-color="#ff0000"/></linearGradient>
<linearGradient id="q20" x2="0" y2="1"><stop offset="0.022" stop-color="#7c0093"/><stop offset="0.159" stop-color="#7d00e6"/><stop offset="0.176" stop-color="#6800f7"/><stop offset="0.21" stop-color="#1600fd"/><stop offset="0.227" stop-color="#000fff"/><stop offset="0.295" stop-color="#0094ff"/><stop offset="0.312" stop-color="#00edff"/><stop offset="0.329" stop-color="#00ff7d"/><stop offset="0.346" stop-color="#10ff00"/><stop offset="0.398" stop-color="#d0ff00"/><stop offset="0.415" stop-color="#ffed00"/><stop offset="0.432" stop-color="#ffaa00"/><stop offset="0.568" stop-color="#ff6500"/><stop offset="0.705" stop-color="#ff4100"/><stop offset="0.773" stop-color="#ff0000"/><stop offset="0.978" stop-color="#ff0000"/></linearGradient>
<linearGradient id="q21" x2="0" y2="1"><stop offset="0.022" stop-color="#7d0097"/><stop offset="0.159" stop-color="#7c00f5"/><stop offset="0.21" stop-color="#0007ff"/><stop offset="0.295" stop-color="#00b9ff"/><stop offset="0.312" stop-color="#00ffce"/><stop offset="0.329" stop-color="#00ff1c"/><stop offset="0.346" stop-color="#3bff00"/><stop offset="0.381" stop-color="#c6ff00"/><stop offset="0.398" stop-color="#fff200"/><stop offset="0.432" stop-color="#ff5f00"/><stop offset="0.568" stop-color="#ff0100"/><stop offset="0.858" stop-color="#ff0000"/><stop offset="0.978" stop-color="#d70000"/></linearGradient>
<linearGradient id="q22" x2="0" y2="1"><stop offset="0.022" stop-color="#7d009d"/><stop offset="0.142" stop-color="#7b00f5"/><stop offset="0.159" stop-color="#6b00f6"/><stop offset="0.193" stop-color="#0d00fe"/><stop offset="0.21" stop-color="#001cff"/><stop offset="0.295" stop-color="#00d8ff"/><stop offset="0.312" stop-color="#00ff8a"/><stop offset="0.329" stop-color="#14ff00"/><stop offset="0.381" stop-color="#f3ff00"/><stop offset="0.398" stop-color="#ffbe00"/><stop offset="0.432" stop-color="#ff2200"/><stop offset="0.466" stop-color="#ff0400"/><stop offset="0.739" stop-color="#ff0000"/><stop offset="0.978" stop-color="#ad0000"/></linearGradient>
<linearGradient id="q23" x2="0" y2="1"><stop offset="0.022" stop-color="#7d00a2"/><stop offset="0.125" stop-color="#7d00f1"/><stop offset="0.142" stop-color="#7100f6"/><stop offset="0.159" stop-color="#5f00f7"/><stop offset="0.193" stop-color="#0002ff"/><stop offset="0.295" stop-color="#00ecff"/><stop offset="0.312" stop-color="#00ff5c"/><stop offset="0.329" stop-color="#29ff00"/><stop offset="0.363" stop-color="#c4ff00"/><stop offset="0.381" stop-color="#ffec00"/><stop offset="0.432" stop-color="#ff0000"/><stop offset="0.637" stop-color="#fd0000"/><stop offset="0.841" stop-color="#b20000"/><stop offset="0.978" stop-color="#920000"/></linearGradient>
<linearGradient id="q24" x2="0" y2="1"><stop offset="0.022" stop-color="#7d00a5"/><stop offset="0.125" stop-color="#7a00f5"/><stop offset="0.159" stop-color="#5700f8"/><stop offset="0.176" stop-color="#2400fc"/><stop offset="0.193" stop-color="#000cff"/><stop offset="0.295" stop-color="#00fcff"/><stop offset="0.312" stop-color="#00ff39"/><stop offset="0.329" stop-color="#39ff00"/><stop offset="0.363" stop-color="#d8ff00"/><stop offset="0.381" stop-color="#ffd500"/><stop offset="0.415" stop-color="#ff2e00"/><stop offset="0.432" stop-color="#ff0000"/><stop offset="0.585" stop-color="#fe0000"/><stop offset="0.705" stop-color="#c00000"/><stop offset="0.978" stop-color="#7d0000"/></linearGradient>
<linearGradient id="q25" x2="0" y2="1"><stop offset="0.022" stop-color="#7d00a8"/><stop offset="0.125" stop-color="#7500f6"/><stop offset="0.159" stop-color="#5100f9"/><stop offset="0.176" stop-color="#1e00fd"/><stop offset="0.193" stop-color="#0012ff"/><stop offset="0.278" stop-color="#00dfff"/><stop offset="0.295" stop-color="#00fff1"/><stop offset="0.312" stop-color="#00ff22"/><stop offset="0.329" stop-color="#44ff00"/><stop offset="0.363" stop-color="#e6ff00"/><stop offset="0.381" stop-color="#ffc500"/><stop offset="0.415" stop-color="#ff1b00"/><stop offset="0.432" stop-color="#ff0000"/><stop offset="0.551" stop-color="#ff0000"/><stop offset="0.705" stop-color="#ab0000"/><stop offset="0.978" stop-color="#6e0000"/></linearGradient>
<linearGradient id="q26" x2="0" y2="1"><stop offset="0.022" stop-color="#7d00a9"/><stop offset="0.107" stop-color="#7d00f0"/><stop offset="0.159" stop-color="#4c00f9"/><stop offset="0.176" stop-color="#1800fd"/><stop offset="0.193" stop-color="#0017ff"/><stop offset="0.278" stop-color="#00e6ff"/><stop offset="0.295" stop-color="#00ffe3"/><stop offset="0.312" stop-color="#00ff10"/><stop offset="0.329" stop-color="#4cff00"/><stop offset="0.363" stop-color="#f0ff00"/><stop offset="0.381" stop-color="#ffb800"/><stop offset="0.415" stop-color="#ff0c00"/><stop offset="0.432" stop-color="#ff0000"/><stop offset="0.534" stop-color="#ff0000"/><stop offset="0.705" stop-color="#9d0000"/><stop offset="0.978" stop-color="#640000"/></linearGradient>
<linearGradient id="q27" x2="0" y2="1"><stop offset="0.022" stop-color="#7d00aa"/><stop offset="0.107" stop-color="#7d00f1"/><stop offset="0.159" stop-color="#4b00f9"/><stop offset="0.176" stop-color="#1600fd"/><stop offset="0.193" stop-color="#0019ff"/><stop offset="0.278" stop-color="#00eaff"/><stop offset="0.295" stop-color="#00ffdc"/><stop offset="0.312" stop-color="#00ff08"/><stop offset="0.363" stop-color="#f5ff00"/><stop offset="0.381" stop-color="#ffb300"/><stop offset="0.415" stop-color="#ff0500"/><stop offset="0.432" stop-color="#ff0000"/><stop offset="0.534" stop-color="#fd0000"/><stop offset="0.705" stop-color="#950000"/><stop offset="0.978" stop-color="#5f0000"/></linearGradient>
<linearGradient id="q28" x2="0" y2="1"><stop offset="0.022" stop-color="#7d00ab"/><stop offset="0.107" stop-color="#7d00f2"/><stop offset="0.159" stop-color="#4a00f9"/><stop offset="0.176" stop-color="#1500fd"/><stop offset="0.193" stop-color="#001aff"/><stop offset="0.278" stop-color="#00ebff"/><stop offset="0.295" stop-color="#00ffd9"/><stop offset="0.312" stop-color="#00ff05"/><stop offset="0.363" stop-color="#f7ff00"/><stop offset="0.381" stop-color="#ffb000"/><stop offset="0.415" stop-color="#ff0200"/><stop offset="0.534" stop-color="#fb0000"/><stop offset="0.705" stop-color="#920000"/><stop offset="0.978" stop-color="#5d0000"/></linearGradient>
<linearGradient id="q29" x2="0" y2="1"><stop offset="0.022" stop-color="#7d00ab"/><stop offset="0.107" stop-color="#7d00f2"/><stop offset="0.159" stop-color="#4a00f9"/><stop offset="0.176" stop-color="#1500fd"/><stop offset="0.193" stop-color="#001aff"/><stop offset="0.278" stop-color="#00ebff"/><stop offset="0.295" stop-color="#00ffd9"/><stop offset="0.312" stop-color="#00ff05"/><stop offset="0.363" stop-color="#f7ff00"/><stop offset="0.381" stop-color="#ffb000"/><stop offset="0.415" stop-color="#ff0200"/><stop offset="0.534" stop-color="#fb0000"/><stop offset="0.705" stop-color="#920000"/><stop offset="0.978" stop-color="#5c0000"/></linearGradient>
<linearGradient id="q30" x2="0" y2="1"><stop offset="0.022" stop-color="#7d00aa"/><stop offset="0.107" stop-color="#7d00f0"/><stop offset="0.159" stop-color="#4c00f9"/><stop offset="0.176" stop-color="#1700fd"/><stop offset="0.193" stop-color="#0018ff"/><stop offset="0.278" stop-color="#00e8ff"/><stop offset="0.295" stop-color="#00ffe0"/><stop offset="0.312" stop-color="#00ff0e"/><stop offset="0.329" stop-color="#4dff00"/><stop offset="0.363" stop-color="#f1ff00"/><stop offset="0.381" stop-color="#ffb800"/><stop offset="0.415" stop-color="#ff0b00"/><stop offset="0.432" stop-color="#ff0000"/><stop offset="0.534" stop-color="#ff0000"/><stop offset="0.705" stop-color="#940000"/><stop offset="0.978" stop-color="#5f0000"/></linearGradient>
<linearGradient id="q31" x2="0" y2="1"><stop offset="0.022" stop-color="#7d00a8"/><stop offset="0.107" stop-color="#7d00ee"/><stop offset="0.125" stop-color="#7400f6"/><stop offset="0.159" stop-color="#4f00f9"/><stop offset="0.176" stop-color="#1b00fd"/><stop offset="0.193" stop-color="#0014ff"/><stop offset="0.278" stop-color="#00e2ff"/><stop offset="0.295" stop-color="#00ffeb"/><stop offset="0.312" stop-color="#00ff1c"/><stop offset="0.329" stop-color="#46ff00"/><stop offset="0.363" stop-color="#e8ff00"/><stop offset="0.381" stop-color="#ffc200"/><stop offset="0.415" stop-color="#ff1900"/><stop offset="0.432" stop-color="#ff0000"/><stop offset="0.534" stop-color="#ff0000"/><stop offset="0.705" stop-color="#980000"/><stop offset="0.978" stop-color="#630000"/></linearGradient>
<linearGradient id="q32" x2="0" y2="1"><stop offset="0.022" stop-color="#7d00a7"/><stop offset="0.125" stop-color="#7700f6"/><stop offset="0.159" stop-color="#5200f8"/><stop offset="0.176" stop-color="#1f00fc"/><stop offset="0.193" stop-color="#0010ff"/><stop offset="0.278" stop-color="#00dcff"/><stop offset="0.295" stop-color="#00fff6"/><stop offset="0.312" stop-color="#00ff2a"/><stop offset="0.329" stop-color="#40ff00"/><stop offset="0.363" stop-color="#dfff00"/><stop offset="0.381" stop-color="#ffcc00"/><stop offset="0.415" stop-color="#ff2500"/><stop offset="0.432" stop-color="#ff0000"/><stop offset="0.551" stop-color="#ff0000"/><stop offset="0.705" stop-color="#9d0000"/><stop offset="0.978" stop-color="#680000"/></linearGradient>
<linearGradient id="q33" x2="0" y2="1"><stop offset="0.022" stop-color="#7d00a6"/><stop offset="0.125" stop-color="#7a00f5"/><stop offset="0.159" stop-color="#5700f8"/><stop offset="0.176" stop-color="#2400fc"/><stop offset="0.193" stop-color="#000cff"/><stop offset="0.295" stop-color="#00fcff"/><stop offset="0.312" stop-color="#00ff3b"/><stop offset="0.329" stop-color="#38ff00"/><stop offset="0.363" stop-color="#d6ff00"/><stop offset="0.381" stop-color="#ffd800"/><stop offset="0.415" stop-color="#ff3200"/><stop offset="0.432" stop-color="#ff0000"/><stop offset="0.568" stop-color="#fb0000"/><stop offset="0.705" stop-color="#a50000"/><stop offset="0.978" stop-color="#6f0000"/></linearGradient>
<linearGradient id="q34" x2="0" y2="1"><stop offset="0.022" stop-color="#7d00a4"/><stop offset="0.125" stop-color="#7d00f4"/><stop offset="0.159" stop-color="#5c00f8"/><stop offset="0.193" stop-color="#0006ff"/><stop offset="0.295" stop-color="#00f3ff"/><stop offset="0.312" stop-color="#00ff4e"/><stop offset="0.329" stop-color="#2fff00"/><stop offset="0.363" stop-color="#cbff00"/><stop offset="0.381" stop-color="#ffe400"/><stop offset="0.415" stop-color="#ff4000"/><stop offset="0.432" stop-color="#ff0000"/><stop offset="0.568" stop-color="#ff0000"/><stop offset="0.705" stop-color="#af0000"/><stop offset="0.841" stop-color="#8c0000"/><stop offset="0.978" stop-color="#780000"/></linearGradient>
<linearGradient id="q35" x2="0" y2="1"><stop offset="0.022" stop-color="#7d00a3"/><stop offset="0.125" stop-color="#7d00f0"/><stop offset="0.142" stop-color="#7200f6"/><stop offset="0.159" stop-color="#6100f7"/><stop offset="0.193" stop-color="#0000ff"/><stop offset="0.295" stop-color="#00e9ff"/><stop offset="0.312" stop-color="#00ff63"/><stop offset="0.329" stop-color="#26ff00"/><stop offset="0.363" stop-color="#c0ff00"/><stop offset="0.381" stop-color="#fff100"/><stop offset="0.432" stop-color="#ff0000"/><stop offset="0.585" stop-color="#ff0000"/><stop offset="0.705" stop-color="#b90000"/><stop offset="0.841" stop-color="#940000"/><stop offset="0.978" stop-color="#820000"/></linearGradient>
<linearGradient id="q36" x2="0" y2="1"><stop offset="0.022" stop-color="#7d00a1"/><stop offset="0.142" stop-color="#7700f5"/><stop offset="0.159" stop-color="#6700f7"/><stop offset="0.193" stop-color="#0700fe"/><stop offset="0.295" stop-color="#00dfff"/><stop offset="0.312" stop-color="#00ff79"/><stop offset="0.329" stop-color="#1cff00"/><stop offset="0.381" stop-color="#ffff00"/><stop offset="0.432" stop-color="#ff1100"/><stop offset="0.449" stop-color="#ff0000"/><stop offset="0.602" stop-color="#ff0000"/><stop offset="0.705" stop-color="#c40000"/><stop offset="0.841" stop-color="#9e0000"/><stop offset="0.978" stop-color="#8d0000"/></linearGradient>
<linearGradient id="q37" x2="0" y2="1"><stop offset="0.022" stop-color="#7d00a0"/><stop offset="0.142" stop-color="#7c00f5"/><stop offset="0.159" stop-color="#6c00f6"/><stop offset="0.193" stop-color="#0f00fe"/><stop offset="0.21" stop-color="#001aff"/><stop offset="0.295" stop-color="#00d5ff"/><stop offset="0.312" stop-color="#00ff8f"/><stop offset="0.329" stop-color="#12ff00"/><stop offset="0.381" stop-color="#f1ff00"/><stop offset="0.398" stop-color="#ffc000"/><stop offset="0.432" stop-color="#ff2400"/><stop offset="0.466" stop-color="#ff0000"/><stop offset="0.619" stop-color="#ff0000"/><stop offset="0.705" stop-color="#d10000"/><stop offset="0.841" stop-color="#aa0000"/><stop offset="0.978" stop-color="#9a0000"/></linearGradient>
<linearGradient id="q38" x2="0" y2="1"><stop offset="0.022" stop-color="#7d009e"/><stop offset="0.142" stop-color="#7d00f2"/><stop offset="0.159" stop-color="#7200f6"/><stop offset="0.193" stop-color="#1600fd"/><stop offset="0.21" stop-color="#0013ff"/><stop offset="0.295" stop-color="#00caff"/><stop offset="0.312" stop-color="#00ffa7"/><stop offset="0.329" stop-color="#08ff00"/><stop offset="0.381" stop-color="#e2ff00"/><stop offset="0.398" stop-color="#ffd100"/><stop offset="0.432" stop-color="#ff3800"/><stop offset="0.466" stop-color="#ff0b00"/><stop offset="0.483" stop-color="#ff0000"/><stop offset="0.637" stop-color="#ff0000"/><stop offset="0.705" stop-color="#de0000"/><stop offset="0.841" stop-color="#b60000"/><stop offset="0.978" stop-color="#a80000"/></linearGradient>
<linearGradient id="q39" x2="0" y2="1"><stop offset="0.022" stop-color="#7d009c"/><stop offset="0.159" stop-color="#7700f5"/><stop offset="0.193" stop-color="#1e00fd"/><stop offset="0.21" stop-color="#000cff"/><stop offset="0.295" stop-color="#00beff"/><stop offset="0.312" stop-color="#00ffc0"/><stop offset="0.329" stop-color="#00ff09"/><stop offset="0.381" stop-color="#d3ff00"/><stop offset="0.398" stop-color="#ffe300"/><stop offset="0.432" stop-color="#ff4d00"/><stop offset="0.483" stop-color="#ff0a00"/><stop offset="0.5" stop-color="#ff0000"/><stop offset="0.671" stop-color="#fd0000"/><stop offset="0.841" stop-color="#c20000"/><stop offset="0.978" stop-color="#b50000"/></linearGradient>
<linearGradient id="q40" x2="0" y2="1"><stop offset="0.022" stop-color="#7d009b"/><stop offset="0.159" stop-color="#7d00f5"/><stop offset="0.21" stop-color="#0004ff"/><stop offset="0.295" stop-color="#00b2ff"/><stop offset="0.312" stop-color="#00ffda"/><stop offset="0.329" stop-color="#00ff27"/><stop offset="0.346" stop-color="#37ff00"/><stop offset="0.398" stop-color="#fff500"/><stop offset="0.432" stop-color="#ff6200"/><stop offset="0.5" stop-color="#ff0900"/><stop offset="0.517" stop-color="#ff0000"/><stop offset="0.688" stop-color="#ff0000"/><stop offset="0.841" stop-color="#ce0000"/><stop offset="0.978" stop-color="#c20000"/></linearGradient>
<linearGradient id="q41" x2="0" y2="1"><stop offset="0.022" stop-color="#7d0099"/><stop offset="0.159" stop-color="#7d00f0"/><stop offset="0.21" stop-color="#0500ff"/><stop offset="0.295" stop-color="#00a6ff"/><stop offset="0.312" stop-color="#00fff4"/><stop offset="0.329" stop-color="#00ff45"/><stop offset="0.346" stop-color="#2aff00"/><stop offset="0.398" stop-color="#f8ff00"/><stop offset="0.415" stop-color="#ffbf00"/><stop offset="0.432" stop-color="#ff7700"/><stop offset="0.517" stop-color="#ff0a00"/><stop offset="0.534" stop-color="#ff0000"/><stop offset="0.722" stop-color="#ff0000"/><stop offset="0.841" stop-color="#da0000"/><stop offset="0.978" stop-color="#cf0000"/></linearGradient>
<linearGradient id="q42" x2="0" y2="1"><stop offset="0.022" stop-color="#7d0097"/><stop offset="0.159" stop-color="#7d00ec"/><stop offset="0.176" stop-color="#6100f7"/><stop offset="0.21" stop-color="#0f00fe"/><stop offset="0.227" stop-color="#0015ff"/><stop offset="0.295" stop-color="#009aff"/><stop offset="0.312" stop-color="#00f6ff"/><stop offset="0.329" stop-color="#00ff63"/><stop offset="0.346" stop-color="#1cff00"/><stop offset="0.398" stop-color="#e6ff00"/><stop offset="0.415" stop-color="#ffd300"/><stop offset="0.432" stop-color="#ff8c00"/><stop offset="0.534" stop-color="#ff0c00"/><stop offset="0.551" stop-color="#ff0000"/><stop offset="0.756" stop-color="#ff0000"/><stop offset="0.841" stop-color="#e50000"/><stop offset="0.978" stop-color="#dd0000"/></linearGradient>
<linearGradient id="q43" x2="0" y2="1"><stop offset="0.022" stop-color="#7d0096"/><stop offset="0.159" stop-color="#7d00e7"/><stop offset="0.176" stop-color="#6800f7"/><stop offset="0.21" stop-color="#1900fd"/><stop offset="0.227" stop-color="#000cff"/><stop offset="0.295" stop-color="#008dff"/><stop offset="0.312" stop-color="#00e8ff"/><stop offset="0.329" stop-color="#00ff82"/><stop offset="0.346" stop-color="#0fff00"/><stop offset="0.398" stop-color="#d4ff00"/><stop offset="0.415" stop-color="#ffe700"/><stop offset="0.432" stop-color="#ffa300"/><stop offset="0.568" stop-color="#ff0000"/><stop offset="0.79" stop-color="#ff0000"/><stop offset="0.841" stop-color="#f10000"/><stop offset="0.978" stop-color="#ea0000"/></linearGradient>
<linearGradient id="q44" x2="0" y2="1"><stop offset="0.022" stop-color="#7d0095"/><stop offset="0.159" stop-color="#7d00e2"/><stop offset="0.176" stop-color="#6f00f6"/><stop offset="0.227" stop-color="#0003ff"/><stop offset="0.295" stop-color="#0081ff"/><stop offset="0.312" stop-color="#00d9ff"/><stop offset="0.329" stop-color="#00ffa1"/><stop offset="0.346" stop-color="#01ff00"/><stop offset="0.415" stop-color="#fffc00"/><stop offset="0.432" stop-color="#ffb900"/><stop offset="0.585" stop-color="#ff0600"/><stop offset="0.978" stop-color="#f80000"/></linearGradient>
<linearGradient id="q45" x2="0" y2="1"><stop offset="0.022" stop-color="#7c0094"/><stop offset="0.159" stop-color="#7d00de"/><stop offset="0.176" stop-color="#7600f6"/><stop offset="0.227" stop-color="#0700fe"/><stop offset="0.295" stop-color="#0074ff"/><stop offset="0.312" stop-color="#00cbff"/><stop offset="0.329" stop-color="#00ffbf"/><stop offset="0.346" stop-color="#00ff1f"/><stop offset="0.363" stop-color="#32ff00"/><stop offset="0.415" stop-color="#eeff00"/><stop offset="0.432" stop-color="#ffd000"/><stop offset="0.619" stop-color="#ff0100"/><stop offset="0.978" stop-color="#ff0000"/></linearGradient>
<linearGradient id="q46" x2="0" y2="1"><stop offset="0.022" stop-color="#7c0093"/><stop offset="0.159" stop-color="#7d00da"/><stop offset="0.176" stop-color="#7d00f5"/><stop offset="0.227" stop-color="#1200fe"/><stop offset="0.244" stop-color="#000fff"/><stop offset="0.295" stop-color="#0068ff"/><stop offset="0.312" stop-color="#00beff"/><stop offset="0.329" stop-color="#00ffdc"/><stop offset="0.346" stop-color="#00ff41"/><stop offset="0.363" stop-color="#24ff00"/><stop offset="0.415" stop-color="#daff00"/><stop offset="0.432" stop-color="#ffe600"/><stop offset="0.654" stop-color="#ff0000"/><stop offset="0.978" stop-color="#ff0000"/></linearGradient>
<linearGradient id="q47" x2="0" y2="1"><stop offset="0.022" stop-color="#7c0093"/><stop offset="0.159" stop-color="#7d00d5"/><stop offset="0.176" stop-color="#7d00f0"/><stop offset="0.244" stop-color="#0005ff"/><stop offset="0.295" stop-color="#005bff"/><stop offset="0.329" stop-color="#00fffa"/><stop offset="0.346" stop-color="#00ff61"/><stop offset="0.363" stop-color="#15ff00"/><stop offset="0.432" stop-color="#fffa00"/><stop offset="0.688" stop-color="#ff0000"/><stop offset="0.978" stop-color="#ff0000"/></linearGradient>
<linearGradient id="q48" x2="0" y2="1"><stop offset="0.022" stop-color="#7b0092"/><stop offset="0.159" stop-color="#7d00d1"/><stop offset="0.176" stop-color="#7d00ea"/><stop offset="0.193" stop-color="#6a00f7"/><stop offset="0.244" stop-color="#0500ff"/><stop offset="0.295" stop-color="#004eff"/><stop offset="0.329" stop-color="#00f3ff"/><stop offset="0.346" stop-color="#00ff81"/><stop offset="0.363" stop-color="#08ff00"/><stop offset="0.432" stop-color="#f1ff00"/><stop offset="0.449" stop-color="#ffff00"/><stop offset="0.568" stop-color="#ff9800"/><stop offset="0.722" stop-color="#ff0000"/><stop offset="0.978" stop-color="#ff0000"/></linearGradient>
<linearGradient id="q49" x2="0" y2="1"><stop offset="0.022" stop-color="#7b0091"/><stop offset="0.159" stop-color="#7d00cc"/><stop offset="0.176" stop-color="#7d00e5"/><stop offset="0.193" stop-color="#7200f6"/><stop offset="0.244" stop-color="#1100fe"/><stop offset="0.261" stop-color="#000dff"/><stop offset="0.295" stop-color="#0042ff"/><stop offset="0.329" stop-color="#00e4ff"/><stop offset="0.346" stop-color="#00ffa0"/><stop offset="0.363" stop-color="#00ff0e"/><stop offset="0.381" stop-color="#34ff00"/><stop offset="0.432" stop-color="#dfff00"/><stop offset="0.483" stop-color="#fffa00"/><stop offset="0.568" stop-color="#ffb900"/><stop offset="0.705" stop-color="#ff2b00"/><stop offset="0.756" stop-color="#ff0000"/><stop offset="0.978" stop-color="#ff0000"/></linearGradient>
<linearGradient id="q50" x2="0" y2="1"><stop offset="0.022" stop-color="#7b0091"/><stop offset="0.159" stop-color="#7d00c8"/><stop offset="0.193" stop-color="#7a00f5"/><stop offset="0.261" stop-color="#0002ff"/><stop offset="0.295" stop-color="#0035ff"/><stop offset="0.329" stop-color="#00d5ff"/><stop offset="0.346" stop-color="#00ffbe"/><stop offset="0.363" stop-color="#00ff2f"/><stop offset="0.381" stop-color="#26ff00"/><stop offset="0.432" stop-color="#cdff00"/><stop offset="0.5" stop-color="#f8ff00"/><stop offset="0.568" stop-color="#ffd900"/><stop offset="0.79" stop-color="#ff0000"/><stop offset="0.978" stop-color="#ff0000"/></linearGradient>
<linearGradient id="q51" x2="0" y2="1"><stop offset="0.022" stop-color="#7a0090"/><stop offset="0.159" stop-color="#7d00c4"/><stop offset="0.193" stop-color="#7d00f1"/><stop offset="0.261" stop-color="#0a00fe"/><stop offset="0.295" stop-color="#0029ff"/><stop offset="0.329" stop-color="#00c6ff"/><stop offset="0.346" stop-color="#00ffdc"/><stop offset="0.363" stop-color="#00ff4f"/><stop offset="0.381" stop-color="#18ff00"/><stop offset="0.432" stop-color="#bcff00"/><stop offset="0.551" stop-color="#feff00"/><stop offset="0.568" stop-color="#fff700"/><stop offset="0.807" stop-color="#ff0600"/><stop offset="0.978" stop-color="#ff0000"/></linearGradient>
<linearGradient id="q52" x2="0" y2="1"><stop offset="0.022" stop-color="#7a008f"/><stop offset="0.159" stop-color="#7d00bf"/><stop offset="0.193" stop-color="#7d00eb"/><stop offset="0.21" stop-color="#6d00f6"/><stop offset="0.278" stop-color="#0005ff"/><stop offset="0.295" stop-color="#001cff"/><stop offset="0.346" stop-color="#00fff9"/><stop offset="0.363" stop-color="#00ff6f"/><stop offset="0.381" stop-color="#0aff00"/><stop offset="0.432" stop-color="#acff00"/><stop offset="0.585" stop-color="#fcff00"/><stop offset="0.841" stop-color="#ff0000"/><stop offset="0.978" stop-color="#ff1f00"/></linearGradient>
<linearGradient id="q53" x2="0" y2="1"><stop offset="0.022" stop-color="#7a008e"/><stop offset="0.159" stop-color="#7d00bb"/><stop offset="0.21" stop-color="#7600f6"/><stop offset="0.278" stop-color="#0800fe"/><stop offset="0.295" stop-color="#0010ff"/><stop offset="0.346" stop-color="#00f3ff"/><stop offset="0.363" stop-color="#00ff8f"/><stop offset="0.381" stop-color="#00ff08"/><stop offset="0.432" stop-color="#9bff00"/><stop offset="0.568" stop-color="#d4ff00"/><stop offset="0.619" stop-color="#fffe00"/><stop offset="0.705" stop-color="#ffb100"/><stop offset="0.841" stop-color="#ff1d00"/><stop offset="0.978" stop-color="#ff4600"/></linearGradient>
<linearGradient id="q54" x2="0" y2="1"><stop offset="0.022" stop-color="#79008e"/><stop offset="0.073" stop-color="#7d0096"/><stop offset="0.159" stop-color="#7d00b7"/><stop offset="0.21" stop-color="#7d00f3"/><stop offset="0.295" stop-color="#0005ff"/><stop offset="0.346" stop-color="#00e3ff"/><stop offset="0.363" stop-color="#00ffae"/><stop offset="0.381" stop-color="#00ff2a"/><stop offset="0.398" stop-color="#23ff00"/><stop offset="0.432" stop-color="#8aff00"/><stop offset="0.568" stop-color="#bdff00"/><stop offset="0.654" stop-color="#fffd00"/><stop offset="0.705" stop-color="#ffd200"/><stop offset="0.841" stop-color="#ff3a00"/><stop offset="0.978" stop-color="#ff7000"/></linearGradient>
<linearGradient id="q55" x2="0" y2="1"><stop offset="0.022" stop-color="#79008d"/><stop offset="0.159" stop-color="#7d00b3"/><stop offset="0.21" stop-color="#7d00ed"/><stop offset="0.227" stop-color="#6e00f6"/><stop offset="0.295" stop-color="#0900fe"/><stop offset="0.346" stop-color="#00d4ff"/><stop offset="0.363" stop-color="#00ffce"/><stop offset="0.381" stop-color="#00ff4d"/><stop offset="0.398" stop-color="#15ff00"/><stop offset="0.432" stop-color="#79ff00"/><stop offset="0.568" stop-color="#a6ff00"/><stop offset="0.688" stop-color="#feff00"/><stop offset="0.841" stop-color="#ff5800"/><stop offset="0.978" stop-color="#ff9b00"/></linearGradient>
<linearGradient id="q56" x2="0" y2="1"><stop offset="0.022" stop-color="#79008c"/><stop offset="0.159" stop-color="#7d00af"/><stop offset="0.227" stop-color="#7800f5"/><stop offset="0.295" stop-color="#1600fd"/><stop offset="0.312" stop-color="#0037ff"/><stop offset="0.346" stop-color="#00c5ff"/><stop offset="0.363" stop-color="#00ffed"/><stop offset="0.381" stop-color="#00ff6f"/><stop offset="0.398" stop-color="#06ff00"/><stop offset="0.432" stop-color="#69ff00"/><stop offset="0.568" stop-color="#90ff00"/><stop offset="0.722" stop-color="#ffff00"/><stop offset="0.841" stop-color="#ff7700"/><stop offset="0.978" stop-color="#ffc500"/></linearGradient>
<linearGradient id="q57" x2="0" y2="1"><stop offset="0.022" stop-color="#78008b"/><stop offset="0.159" stop-color="#7d00ab"/><stop offset="0.227" stop-color="#7d00f2"/><stop offset="0.295" stop-color="#2400fc"/><stop offset="0.312" stop-color="#002aff"/><stop offset="0.363" stop-color="#00f9ff"/><stop offset="0.398" stop-color="#00ff13"/><stop offset="0.415" stop-color="#29ff00"/><stop offset="0.432" stop-color="#59ff00"/><stop offset="0.568" stop-color="#79ff00"/><stop offset="0.705" stop-color="#ceff00"/><stop offset="0.756" stop-color="#fff800"/><stop offset="0.841" stop-color="#ff9700"/><stop offset="0.978" stop-color="#ffee00"/></linearGradient>
<linearGradient id="q58" x2="0" y2="1"><stop offset="0.022" stop-color="#78008a"/><stop offset="0.159" stop-color="#7d00a7"/><stop offset="0.227" stop-color="#7d00eb"/><stop offset="0.244" stop-color="#7400f6"/><stop offset="0.295" stop-color="#3100fb"/><stop offset="0.312" stop-color="#001eff"/><stop offset="0.363" stop-color="#00e9ff"/><stop offset="0.381" stop-color="#00ffaf"/><stop offset="0.398" stop-color="#00ff36"/><stop offset="0.415" stop-color="#1aff00"/><stop offset="0.432" stop-color="#4aff00"/><stop offset="0.568" stop-color="#63ff00"/><stop offset="0.705" stop-color="#b1ff00"/><stop offset="0.773" stop-color="#faff00"/><stop offset="0.841" stop-color="#ffb700"/><stop offset="0.944" stop-color="#fffd00"/><stop offset="0.978" stop-color="#eaff00"/></linearGradient>
<linearGradient id="q59" x2="0" y2="1"><stop offset="0.022" stop-color="#78008a"/><stop offset="0.159" stop-color="#7d00a3"/><stop offset="0.244" stop-color="#7d00f4"/><stop offset="0.295" stop-color="#3f00fa"/><stop offset="0.312" stop-color="#0011ff"/><stop offset="0.363" stop-color="#00d9ff"/><stop offset="0.381" stop-color="#00ffcf"/><stop offset="0.398" stop-color="#00ff59"/><stop offset="0.415" stop-color="#0cff00"/><stop offset="0.432" stop-color="#3aff00"/><stop offset="0.568" stop-color="#4dff00"/><stop offset="0.705" stop-color="#94ff00"/><stop offset="0.807" stop-color="#fffe00"/><stop offset="0.841" stop-color="#ffd900"/><stop offset="0.893" stop-color="#fffe00"/><stop offset="0.978" stop-color="#c5ff00"/></linearGradient>
<linearGradient id="q60" x2="0" y2="1"><stop offset="0.022" stop-color="#770089"/><stop offset="0.159" stop-color="#7d009f"/><stop offset="0.244" stop-color="#7d00ec"/><stop offset="0.261" stop-color="#7400f6"/><stop offset="0.295" stop-color="#4c00f9"/><stop offset="0.312" stop-color="#0005ff"/><stop offset="0.363" stop-color="#00c8ff"/><stop offset="0.381" stop-color="#00fff1"/><stop offset="0.415" stop-color="#00ff0a"/><stop offset="0.432" stop-color="#29ff00"/><stop offset="0.568" stop-color="#36ff00"/><stop offset="0.705" stop-color="#77ff00"/><stop offset="0.841" stop-color="#fffb00"/><stop offset="0.978" stop-color="#a0ff00"/></linearGradient>
<linearGradient id="q61" x2="0" y2="1"><stop offset="0.022" stop-color="#770088"/><stop offset="0.159" stop-color="#7d009b"/><stop offset="0.261" stop-color="#7d00f3"/><stop offset="0.295" stop-color="#5900f8"/><stop offset="0.312" stop-color="#0a00fe"/><stop offset="0.329" stop-color="#0039ff"/><stop offset="0.381" stop-color="#00f3ff"/><stop offset="0.398" stop-color="#00ffa5"/><stop offset="0.415" stop-color="#00ff35"/><stop offset="0.432" stop-color="#17ff00"/><stop offset="0.568" stop-color="#1dff00"/><stop offset="0.705" stop-color="#5aff00"/><stop offset="0.841" stop-color="#e0ff00"/><stop offset="0.978" stop-color="#7bff00"/></linearGradient>
<linearGradient id="q62" x2="0" y2="1"><stop offset="0.022" stop-color="#770087"/><stop offset="0.159" stop-color="#7d0098"/><stop offset="0.261" stop-color="#7d00eb"/><stop offset="0.295" stop-color="#6500f7"/><stop offset="0.312" stop-color="#1900fd"/><stop offset="0.329" stop-color="#002aff"/><stop offset="0.381" stop-color="#00deff"/><stop offset="0.398" stop-color="#00ffd1"/><stop offset="0.432" stop-color="#02ff00"/><stop offset="0.568" stop-color="#04ff00"/><stop offset="0.705" stop-color="#3eff00"/><stop offset="0.841" stop-color="#baff00"/><stop offset="0.978" stop-color="#58ff00"/></linearGradient>
<linearGradient id="q63" x2="0" y2="1"><stop offset="0.022" stop-color="#760086"/><stop offset="0.159" stop-color="#7d0095"/><stop offset="0.278" stop-color="#7d00f1"/><stop offset="0.295" stop-color="#7100f6"/><stop offset="0.312" stop-color="#2a00fc"/><stop offset="0.329" stop-color="#0018ff"/><stop offset="0.398" stop-color="#00f9ff"/><stop offset="0.432" stop-color="#00ff3f"/><stop offset="0.568" stop-color="#00ff43"/><stop offset="0.637" stop-color="#03ff00"/><stop offset="0.705" stop-color="#21ff00"/><stop offset="0.841" stop-color="#93ff00"/><stop offset="0.978" stop-color="#36ff00"/></linearGradient>
<linearGradient id="q64" x2="0" y2="1"><stop offset="0.022" stop-color="#760085"/><stop offset="0.159" stop-color="#7c0094"/><stop offset="0.295" stop-color="#7d00f5"/><stop offset="0.329" stop-color="#0004ff"/><stop offset="0.398" stop-color="#00d5ff"/><stop offset="0.415" stop-color="#00fff1"/><stop offset="0.432" stop-color="#00ff95"/><stop offset="0.568" stop-color="#00ff98"/><stop offset="0.688" stop-color="#00ff0a"/><stop offset="0.705" stop-color="#04ff00"/><stop offset="0.841" stop-color="#6bff00"/><stop offset="0.978" stop-color="#18ff00"/></linearGradient>
<linearGradient id="q65" x2="0" y2="1"><stop offset="0.022" stop-color="#760085"/><stop offset="0.159" stop-color="#7b0092"/><stop offset="0.295" stop-color="#7d00ed"/><stop offset="0.329" stop-color="#1100fe"/><stop offset="0.346" stop-color="#0023ff"/><stop offset="0.415" stop-color="#00e1ff"/><stop offset="0.432" stop-color="#00ffe2"/><stop offset="0.568" stop-color="#00ffe2"/><stop offset="0.705" stop-color="#00ff45"/><stop offset="0.739" stop-color="#00ff08"/><stop offset="0.756" stop-color="#09ff00"/><stop offset="0.841" stop-color="#44ff00"/><stop offset="0.961" stop-color="#05ff00"/><stop offset="0.978" stop-color="#00ff0a"/></linearGradient>
<linearGradient id="q66" x2="0" y2="1"><stop offset="0.022" stop-color="#750084"/><stop offset="0.176" stop-color="#7d0096"/><stop offset="0.295" stop-color="#7d00e4"/><stop offset="0.312" stop-color="#5a00f8"/><stop offset="0.329" stop-color="#2100fc"/><stop offset="0.346" stop-color="#0013ff"/><stop offset="0.432" stop-color="#00f4ff"/><stop offset="0.568" stop-color="#00f4ff"/><stop offset="0.585" stop-color="#00fcff"/><stop offset="0.705" stop-color="#00ff99"/><stop offset="0.79" stop-color="#00ff08"/><stop offset="0.807" stop-color="#08ff00"/><stop offset="0.841" stop-color="#1fff00"/><stop offset="0.91" stop-color="#01ff00"/><stop offset="0.978" stop-color="#00ff4c"/></linearGradient>
<linearGradient id="q67" x2="0" y2="1"><stop offset="0.022" stop-color="#750083"/><stop offset="0.176" stop-color="#7c0094"/><stop offset="0.295" stop-color="#7d00dc"/><stop offset="0.312" stop-color="#6700f7"/><stop offset="0.346" stop-color="#0005ff"/><stop offset="0.432" stop-color="#00e0ff"/><stop offset="0.568" stop-color="#00e0ff"/><stop offset="0.654" stop-color="#00feff"/><stop offset="0.705" stop-color="#00ffe1"/><stop offset="0.841" stop-color="#00ff09"/><stop offset="0.978" stop-color="#00ff8a"/></linearGradient>
<linearGradient id="q68" x2="0" y2="1"><stop offset="0.022" stop-color="#750083"/><stop offset="0.176" stop-color="#7c0093"/><stop offset="0.295" stop-color="#7d00d4"/><stop offset="0.312" stop-color="#7300f6"/><stop offset="0.346" stop-color="#0800fe"/><stop offset="0.432" stop-color="#00cfff"/><stop offset="0.568" stop-color="#00cfff"/><stop offset="0.722" stop-color="#00fffc"/><stop offset="0.841" stop-color="#00ff60"/><stop offset="0.978" stop-color="#00ffc1"/></linearGradient>
<linearGradient id="q69" x2="0" y2="1"><stop offset="0.022" stop-color="#750082"/><stop offset="0.193" stop-color="#7d0095"/><stop offset="0.295" stop-color="#7d00cc"/><stop offset="0.312" stop-color="#7d00f4"/><stop offset="0.346" stop-color="#1600fd"/><stop offset="0.363" stop-color="#0019ff"/><stop offset="0.432" stop-color="#00c0ff"/><stop offset="0.568" stop-color="#00c1ff"/><stop offset="0.705" stop-color="#00e1ff"/><stop offset="0.756" stop-color="#00fbff"/><stop offset="0.841" stop-color="#00ffb4"/><stop offset="0.978" stop-color="#00ffef"/></linearGradient>
<linearGradient id="q70" x2="0" y2="1"><stop offset="0.022" stop-color="#740082"/><stop offset="0.21" stop-color="#7d0099"/><stop offset="0.295" stop-color="#7d00c5"/><stop offset="0.312" stop-color="#7d00ec"/><stop offset="0.346" stop-color="#2300fc"/><stop offset="0.363" stop-color="#000eff"/><stop offset="0.432" stop-color="#00b3ff"/><stop offset="0.568" stop-color="#00b3ff"/><stop offset="0.705" stop-color="#00d0ff"/><stop offset="0.824" stop-color="#00feff"/><stop offset="0.841" stop-color="#00fff4"/><stop offset="0.893" stop-color="#00ffff"/><stop offset="0.978" stop-color="#00f4ff"/></linearGradient>
<linearGradient id="q71" x2="0" y2="1"><stop offset="0.022" stop-color="#740081"/><stop offset="0.21" stop-color="#7d0095"/><stop offset="0.295" stop-color="#7d00be"/><stop offset="0.312" stop-color="#7d00e4"/><stop offset="0.329" stop-color="#6100f7"/><stop offset="0.363" stop-color="#0003ff"/><stop offset="0.432" stop-color="#00a6ff"/><stop offset="0.568" stop-color="#00a6ff"/><stop offset="0.705" stop-color="#00c1ff"/><stop offset="0.841" stop-color="#00f1ff"/><stop offset="0.978" stop-color="#00e4ff"/></linearGradient>
<linearGradient id="q72" x2="0" y2="1"><stop offset="0.022" stop-color="#740080"/><stop offset="0.227" stop-color="#7d0098"/><stop offset="0.295" stop-color="#7d00b7"/><stop offset="0.312" stop-color="#7d00dd"/><stop offset="0.329" stop-color="#6c00f6"/><stop offset="0.363" stop-color="#0900fe"/><stop offset="0.432" stop-color="#0099ff"/><stop offset="0.568" stop-color="#0099ff"/><stop offset="0.705" stop-color="#00b3ff"/><stop offset="0.841" stop-color="#00e1ff"/><stop offset="0.978" stop-color="#00d5ff"/></linearGradient>
<linearGradient id="q73" x2="0" y2="1"><stop offset="0.022" stop-color="#740080"/><stop offset="0.227" stop-color="#7d0095"/><stop offset="0.295" stop-color="#7d00b1"/><stop offset="0.312" stop-color="#7d00d6"/><stop offset="0.329" stop-color="#7600f6"/><stop offset="0.363" stop-color="#1500fd"/><stop offset="0.381" stop-color="#0016ff"/><stop offset="0.432" stop-color="#008dff"/><stop offset="0.568" stop-color="#008bff"/><stop offset="0.705" stop-color="#00a5ff"/><stop offset="0.841" stop-color="#00d4ff"/><stop offset="0.978" stop-color="#00c8ff"/></linearGradient>
<linearGradient id="q74" x2="0" y2="1"><stop offset="0.022" stop-color="#74007f"/><stop offset="0.244" stop-color="#7d0097"/><stop offset="0.295" stop-color="#7d00ac"/><stop offset="0.329" stop-color="#7d00f4"/><stop offset="0.363" stop-color="#1f00fd"/><stop offset="0.381" stop-color="#000eff"/><stop offset="0.432" stop-color="#0083ff"/><stop offset="0.568" stop-color="#0080ff"/><stop offset="0.705" stop-color="#0096ff"/><stop offset="0.841" stop-color="#00c8ff"/><stop offset="0.978" stop-color="#00bcff"/></linearGradient>
<linearGradient id="q75" x2="0" y2="1"><stop offset="0.022" stop-color="#73007f"/><stop offset="0.261" stop-color="#7d0099"/><stop offset="0.295" stop-color="#7d00a6"/><stop offset="0.329" stop-color="#7d00ee"/><stop offset="0.381" stop-color="#0005ff"/><stop offset="0.432" stop-color="#007aff"/><stop offset="0.568" stop-color="#0075ff"/><stop offset="0.705" stop-color="#008aff"/><stop offset="0.841" stop-color="#00beff"/><stop offset="0.978" stop-color="#00b1ff"/></linearGradient>
<linearGradient id="q76" x2="0" y2="1"><stop offset="0.022" stop-color="#73007e"/><stop offset="0.159" stop-color="#770087"/><stop offset="0.278" stop-color="#7d009b"/><stop offset="0.295" stop-color="#7d00a1"/><stop offset="0.329" stop-color="#7d00e7"/><stop offset="0.346" stop-color="#6100f7"/><stop offset="0.381" stop-color="#0400ff"/><stop offset="0.432" stop-color="#006fff"/><stop offset="0.568" stop-color="#0067ff"/><stop offset="0.705" stop-color="#007eff"/><stop offset="0.841" stop-color="#00b4ff"/><stop offset="0.978" stop-color="#00a4ff"/></linearGradient>
<linearGradient id="q77" x2="0" y2="1"><stop offset="0.022" stop-color="#73007e"/><stop offset="0.278" stop-color="#7d0096"/><stop offset="0.295" stop-color="#7d009c"/><stop offset="0.329" stop-color="#7d00e0"/><stop offset="0.346" stop-color="#6b00f6"/><stop offset="0.381" stop-color="#1100fe"/><stop offset="0.398" stop-color="#0017ff"/><stop offset="0.432" stop-color="#0062ff"/><stop offset="0.568" stop-color="#0056ff"/><stop offset="0.705" stop-color="#006eff"/><stop offset="0.841" stop-color="#00aaff"/><stop offset="0.978" stop-color="#0098ff"/></linearGradient>
<linearGradient id="q78" x2="0" y2="1"><stop offset="0.022" stop-color="#73007d"/><stop offset="0.295" stop-color="#7d0097"/><stop offset="0.329" stop-color="#7d00d8"/><stop offset="0.346" stop-color="#7800f5"/><stop offset="0.398" stop-color="#0008ff"/><stop offset="0.432" stop-color="#004fff"/><stop offset="0.568" stop-color="#0033ff"/><stop offset="0.705" stop-color="#0057ff"/><stop offset="0.841" stop-color="#009dff"/><stop offset="0.978" stop-color="#008eff"/></linearGradient>
<linearGradient id="q79" x2="0" y2="1"><stop offset="0.022" stop-color="#72007d"/><stop offset="0.295" stop-color="#7c0094"/><stop offset="0.346" stop-color="#7d00e5"/><stop offset="0.363" stop-color="#6d00f6"/><stop offset="0.415" stop-color="#0000ff"/><stop offset="0.432" stop-color="#001eff"/><stop offset="0.568" stop-color="#0002ff"/><stop offset="0.705" stop-color="#0022ff"/><stop offset="0.841" stop-color="#0091ff"/><stop offset="0.978" stop-color="#0085ff"/></linearGradient>
<linearGradient id="q80" x2="0" y2="1"><stop offset="0.022" stop-color="#72007c"/><stop offset="0.295" stop-color="#7c0093"/><stop offset="0.363" stop-color="#7d00ef"/><stop offset="0.432" stop-color="#0600ff"/><stop offset="0.568" stop-color="#1300fd"/><stop offset="0.705" stop-color="#0600ff"/><stop offset="0.841" stop-color="#0086ff"/><stop offset="0.978" stop-color="#0078ff"/></linearGradient>
<linearGradient id="q81" x2="0" y2="1"><stop offset="0.022" stop-color="#72007c"/><stop offset="0.295" stop-color="#7b0091"/><stop offset="0.363" stop-color="#7d00e6"/><stop offset="0.381" stop-color="#7300f6"/><stop offset="0.432" stop-color="#1800fd"/><stop offset="0.568" stop-color="#2500fc"/><stop offset="0.705" stop-color="#1c00fd"/><stop offset="0.722" stop-color="#0600ff"/><stop offset="0.841" stop-color="#007aff"/><stop offset="0.978" stop-color="#0068ff"/></linearGradient>
<linearGradient id="q82" x2="0" y2="1"><stop offset="0.022" stop-color="#72007b"/><stop offset="0.295" stop-color="#7a008f"/><stop offset="0.312" stop-color="#7d009c"/><stop offset="0.381" stop-color="#7d00f4"/><stop offset="0.398" stop-color="#6200f7"/><stop offset="0.432" stop-color="#2800fc"/><stop offset="0.568" stop-color="#3400fb"/><stop offset="0.705" stop-color="#2e00fb"/><stop offset="0.739" stop-color="#0200ff"/><stop offset="0.841" stop-color="#006aff"/><stop offset="0.978" stop-color="#004bff"/></linearGradient>
<linearGradient id="q83" x2="0" y2="1"><stop offset="0.022" stop-color="#72007b"/><stop offset="0.295" stop-color="#7a008e"/><stop offset="0.312" stop-color="#7d0097"/><stop offset="0.381" stop-color="#7d00ec"/><stop offset="0.398" stop-color="#6d00f6"/><stop offset="0.432" stop-color="#3500fb"/><stop offset="0.568" stop-color="#4000fa"/><stop offset="0.705" stop-color="#3d00fa"/><stop offset="0.756" stop-color="#0001ff"/><stop offset="0.841" stop-color="#0056ff"/><stop offset="0.978" stop-color="#0019ff"/></linearGradient>
<linearGradient id="q84" x2="0" y2="1"><stop offset="0.022" stop-color="#72007b"/><stop offset="0.295" stop-color="#79008c"/><stop offset="0.312" stop-color="#7d0095"/><stop offset="0.398" stop-color="#7600f6"/><stop offset="0.432" stop-color="#4000fa"/><stop offset="0.705" stop-color="#4900f9"/><stop offset="0.773" stop-color="#0800fe"/><stop offset="0.841" stop-color="#0030ff"/><stop offset="0.944" stop-color="#0006ff"/><stop offset="0.978" stop-color="#0a00fe"/></linearGradient>
<linearGradient id="q85" x2="0" y2="1"><stop offset="0.022" stop-color="#71007a"/><stop offset="0.295" stop-color="#79008b"/><stop offset="0.329" stop-color="#7d00a4"/><stop offset="0.398" stop-color="#7d00f4"/><stop offset="0.415" stop-color="#6400f7"/><stop offset="0.432" stop-color="#4a00f9"/><stop offset="0.705" stop-color="#5400f8"/><stop offset="0.841" stop-color="#0003ff"/><stop offset="0.978" stop-color="#2300fc"/></linearGradient>
<linearGradient id="q86" x2="0" y2="1"><stop offset="0.022" stop-color="#71007a"/><stop offset="0.295" stop-color="#78008a"/><stop offset="0.329" stop-color="#7d00a1"/><stop offset="0.398" stop-color="#7d00ee"/><stop offset="0.415" stop-color="#6c00f6"/><stop offset="0.432" stop-color="#5200f8"/><stop offset="0.705" stop-color="#5d00f8"/><stop offset="0.841" stop-color="#1800fd"/><stop offset="0.978" stop-color="#3800fb"/></linearGradient>
<linearGradient id="q87" x2="0" y2="1"><stop offset="0.022" stop-color="#71007a"/><stop offset="0.295" stop-color="#780089"/><stop offset="0.329" stop-color="#7d009d"/><stop offset="0.398" stop-color="#7d00ea"/><stop offset="0.415" stop-color="#7300f6"/><stop offset="0.432" stop-color="#5a00f8"/><stop offset="0.705" stop-color="#6600f7"/><stop offset="0.841" stop-color="#2f00fb"/><stop offset="0.978" stop-color="#4a00f9"/></linearGradient>
<linearGradient id="q88" x2="0" y2="1"><stop offset="0.022" stop-color="#71007a"/><stop offset="0.295" stop-color="#770088"/><stop offset="0.329" stop-color="#7d009a"/><stop offset="0.415" stop-color="#7900f5"/><stop offset="0.432" stop-color="#6100f7"/><stop offset="0.705" stop-color="#7000f6"/><stop offset="0.841" stop-color="#4200fa"/><stop offset="0.978" stop-color="#5a00f8"/></linearGradient>
<linearGradient id="q89" x2="0" y2="1"><stop offset="0.022" stop-color="#710079"/><stop offset="0.295" stop-color="#770087"/><stop offset="0.329" stop-color="#7d0097"/><stop offset="0.415" stop-color="#7d00f3"/><stop offset="0.432" stop-color="#6700f7"/><stop offset="0.705" stop-color="#7b00f5"/><stop offset="0.841" stop-color="#5300f8"/><stop offset="0.978" stop-color="#6800f7"/></linearGradient>
<linearGradient id="q90" x2="0" y2="1"><stop offset="0.022" stop-color="#710079"/><stop offset="0.295" stop-color="#760086"/><stop offset="0.329" stop-color="#7d0095"/><stop offset="0.415" stop-color="#7d00ee"/><stop offset="0.432" stop-color="#6e00f6"/><stop offset="0.568" stop-color="#7d00f4"/><stop offset="0.739" stop-color="#7d00f5"/><stop offset="0.841" stop-color="#6200f7"/><stop offset="0.978" stop-color="#7600f6"/></linearGradient>
<linearGradient id="q91" x2="0" y2="1"><stop offset="0.022" stop-color="#710079"/><stop offset="0.295" stop-color="#760085"/><stop offset="0.329" stop-color="#7c0094"/><stop offset="0.432" stop-color="#7600f6"/><stop offset="0.705" stop-color="#7d00e4"/><stop offset="0.79" stop-color="#7d00f5"/><stop offset="0.841" stop-color="#7000f6"/><stop offset="0.978" stop-color="#7d00f0"/></linearGradient>
<linearGradient id="q92" x2="0" y2="1"><stop offset="0.022" stop-color="#710079"/><stop offset="0.295" stop-color="#760085"/><stop offset="0.346" stop-color="#7d009f"/><stop offset="0.432" stop-color="#7d00f4"/><stop offset="0.705" stop-color="#7d00da"/><stop offset="0.841" stop-color="#7d00f4"/><stop offset="0.978" stop-color="#7d00e5"/></linearGradient>
<linearGradient id="q93" x2="0" y2="1"><stop offset="0.022" stop-color="#710078"/><stop offset="0.295" stop-color="#750084"/><stop offset="0.346" stop-color="#7d009c"/><stop offset="0.432" stop-color="#7d00ed"/><stop offset="0.705" stop-color="#7d00d0"/><stop offset="0.841" stop-color="#7d00e9"/><stop offset="0.978" stop-color="#7d00db"/></linearGradient>
<linearGradient id="q94" x2="0" y2="1"><stop offset="0.022" stop-color="#710078"/><stop offset="0.295" stop-color="#750083"/><stop offset="0.346" stop-color="#7d0098"/><stop offset="0.432" stop-color="#7d00e7"/><stop offset="0.705" stop-color="#7d00c7"/><stop offset="0.841" stop-color="#7d00de"/><stop offset="0.978" stop-color="#7d00d1"/></linearGradient>
<linearGradient id="q95" x2="0" y2="1"><stop offset="0.022" stop-color="#700078"/><stop offset="0.295" stop-color="#750083"/><stop offset="0.346" stop-color="#7d0095"/><stop offset="0.432" stop-color="#7d00e0"/><stop offset="0.705" stop-color="#7d00bd"/><stop offset="0.841" stop-color="#7d00d4"/><stop offset="0.978" stop-color="#7d00c8"/></linearGradient>
<linearGradient id="q96" x2="0" y2="1"><stop offset="0.022" stop-color="#700078"/><stop offset="0.295" stop-color="#750082"/><stop offset="0.346" stop-color="#7c0094"/><stop offset="0.432" stop-color="#7d00d9"/><stop offset="0.705" stop-color="#7d00b5"/><stop offset="0.841" stop-color="#7d00ca"/><stop offset="0.978" stop-color="#7d00bf"/></linearGradient>
<linearGradient id="q97" x2="0" y2="1"><stop offset="0.022" stop-color="#700078"/><stop offset="0.295" stop-color="#750082"/><stop offset="0.363" stop-color="#7d009c"/><stop offset="0.432" stop-color="#7d00d3"/><stop offset="0.705" stop-color="#7d00ae"/><stop offset="0.841" stop-color="#7d00c0"/><stop offset="0.978" stop-color="#7d00b8"/></linearGradient>
<linearGradient id="q98" x2="0" y2="1"><stop offset="0.022" stop-color="#700078"/><stop offset="0.295" stop-color="#740082"/><stop offset="0.363" stop-color="#7d0099"/><stop offset="0.432" stop-color="#7d00cc"/><stop offset="0.705" stop-color="#7d00a7"/><stop offset="0.841" stop-color="#7d00b8"/><stop offset="0.978" stop-color="#7d00b1"/></linearGradient>
<linearGradient id="q99" x2="0" y2="1"><stop offset="0.022" stop-color="#700077"/><stop offset="0.295" stop-color="#740081"/><stop offset="0.363" stop-color="#7d0096"/><stop offset="0.432" stop-color="#7d00c7"/><stop offset="0.705" stop-color="#7d00a2"/><stop offset="0.841" stop-color="#7d00b0"/><stop offset="0.978" stop-color="#7d00ab"/></linearGradient>
<linearGradient id="q100" x2="0" y2="1"><stop offset="0.022" stop-color="#700077"/><stop offset="0.295" stop-color="#740081"/><stop offset="0.363" stop-color="#7c0094"/><stop offset="0.432" stop-color="#7d00c1"/><stop offset="0.705" stop-color="#7d009e"/><stop offset="0.841" stop-color="#7d00aa"/><stop offset="0.978" stop-color="#7d00a6"/></linearGradient>
<linearGradient id="q101" x2="0" y2="1"><stop offset="0.022" stop-color="#700077"/><stop offset="0.295" stop-color="#740081"/><stop offset="0.381" stop-color="#7d009a"/><stop offset="0.432" stop-color="#7d00bc"/><stop offset="0.705" stop-color="#7d009a"/><stop offset="0.841" stop-color="#7d00a6"/><stop offset="0.978" stop-color="#7d00a1"/></linearGradient>
<linearGradient id="q102" x2="0" y2="1"><stop offset="0.022" stop-color="#700077"/><stop offset="0.295" stop-color="#740080"/><stop offset="0.381" stop-color="#7d0097"/><stop offset="0.432" stop-color="#7d00b7"/><stop offset="0.568" stop-color="#7d00a0"/><stop offset="0.705" stop-color="#7d0097"/><stop offset="0.841" stop-color="#7d00a2"/><stop offset="0.978" stop-color="#7d009c"/></linearGradient>
<linearGradient id="q103" x2="0" y2="1"><stop offset="0.022" stop-color="#700077"/><stop offset="0.295" stop-color="#740080"/><stop offset="0.381" stop-color="#7d0095"/><stop offset="0.432" stop-color="#7d00b3"/><stop offset="0.654" stop-color="#7d0096"/><stop offset="0.841" stop-color="#7d009f"/><stop offset="0.978" stop-color="#7d0098"/></linearGradient>
<linearGradient id="q104" x2="0" y2="1"><stop offset="0.022" stop-color="#700077"/><stop offset="0.295" stop-color="#740080"/><stop offset="0.381" stop-color="#7c0094"/><stop offset="0.432" stop-color="#7d00af"/><stop offset="0.585" stop-color="#7d0096"/><stop offset="0.978" stop-color="#7d0095"/></linearGradient>
<linearGradient id="q105" x2="0" y2="1"><stop offset="0.022" stop-color="#700077"/><stop offset="0.295" stop-color="#740080"/><stop offset="0.398" stop-color="#7d0099"/><stop offset="0.432" stop-color="#7d00ab"/><stop offset="0.568" stop-color="#7c0095"/><stop offset="0.978" stop-color="#7c0094"/></linearGradient>
<linearGradient id="q106" x2="0" y2="1"><stop offset="0.022" stop-color="#700076"/><stop offset="0.295" stop-color="#740080"/><stop offset="0.398" stop-color="#7d0096"/><stop offset="0.432" stop-color="#7d00a8"/><stop offset="0.568" stop-color="#7c0093"/><stop offset="0.978" stop-color="#7b0092"/></linearGradient>
<linearGradient id="q107" x2="0" y2="1"><stop offset="0.022" stop-color="#700076"/><stop offset="0.295" stop-color="#74007f"/><stop offset="0.432" stop-color="#7d00a4"/><stop offset="0.568" stop-color="#7b0092"/><stop offset="0.978" stop-color="#7b0091"/></linearGradient>
<linearGradient id="q108" x2="0" y2="1"><stop offset="0.022" stop-color="#700076"/><stop offset="0.295" stop-color="#73007f"/><stop offset="0.432" stop-color="#7d00a1"/><stop offset="0.568" stop-color="#7b0090"/><stop offset="0.978" stop-color="#7a0090"/></linearGradient>
<linearGradient id="q109" x2="0" y2="1"><stop offset="0.022" stop-color="#700076"/><stop offset="0.295" stop-color="#73007f"/><stop offset="0.432" stop-color="#7d009d"/><stop offset="0.568" stop-color="#7a008f"/><stop offset="0.978" stop-color="#7a008f"/></linearGradient>
<linearGradient id="q110" x2="0" y2="1"><stop offset="0.022" stop-color="#700076"/><stop offset="0.295" stop-color="#73007f"/><stop offset="0.432" stop-color="#7d009a"/><stop offset="0.568" stop-color="#7a008e"/><stop offset="0.978" stop-color="#7a008e"/></linearGradient>
<linearGradient id="q111" x2="0" y2="1"><stop offset="0.022" stop-color="#700076"/><stop offset="0.295" stop-color="#73007f"/><stop offset="0.432" stop-color="#7d0097"/><stop offset="0.568" stop-color="#79008d"/><stop offset="0.978" stop-color="#79008d"/></linearGradient>
<linearGradient id="q112" x2="0" y2="1"><stop offset="0.022" stop-color="#700076"/><stop offset="0.295" stop-color="#73007e"/><stop offset="0.432" stop-color="#7d0095"/><stop offset="0.568" stop-color="#79008c"/><stop offset="0.978" stop-color="#79008c"/></linearGradient>
<linearGradient id="q113" x2="0" y2="1"><stop offset="0.022" stop-color="#6f0076"/><stop offset="0.295" stop-color="#73007e"/><stop offset="0.432" stop-color="#7c0094"/><stop offset="0.568" stop-color="#78008b"/><stop offset="0.978" stop-color="#79008c"/></linearGradient>
<linearGradient id="q114" x2="0" y2="1"><stop offset="0.022" stop-color="#6f0076"/><stop offset="0.295" stop-color="#73007e"/><stop offset="0.432" stop-color="#7c0093"/><stop offset="0.978" stop-color="#78008b"/></linearGradient>
<linearGradient id="q115" x2="0" y2="1"><stop offset="0.022" stop-color="#6f0076"/><stop offset="0.295" stop-color="#73007e"/><stop offset="0.432" stop-color="#7b0092"/><stop offset="0.978" stop-color="#78008b"/></linearGradient>
<linearGradient id="q116" x2="0" y2="1"><stop offset="0.022" stop-color="#6f0076"/><stop offset="0.295" stop-color="#73007e"/><stop offset="0.432" stop-color="#7b0092"/><stop offset="0.978" stop-color="#78008a"/></linearGradient>
<linearGradient id="q117" x2="0" y2="1"><stop offset="0.022" stop-color="#6f0075"/><stop offset="0.295" stop-color="#73007e"/><stop offset="0.432" stop-color="#7b0091"/><stop offset="0.978" stop-color="#78008a"/></linearGradient>
<linearGradient id="q118" x2="0" y2="1"><stop offset="0.022" stop-color="#6f0075"/><stop offset="0.295" stop-color="#73007e"/><stop offset="0.432" stop-color="#7b0090"/><stop offset="0.978" stop-color="#780089"/></linearGradient>
<linearGradient id="q119" x2="0" y2="1"><stop offset="0.022" stop-color="#6f0075"/><stop offset="0.295" stop-color="#73007e"/><stop offset="0.432" stop-color="#7a0090"/><stop offset="0.978" stop-color="#770089"/></linearGradient>
<linearGradient id="q120" x2="0" y2="1"><stop offset="0.022" stop-color="#6f0075"/><stop offset="0.295" stop-color="#73007d"/><stop offset="0.432" stop-color="#7a008f"/><stop offset="0.978" stop-color="#770088"/></linearGradient>
<linearGradient id="q121" x2="0" y2="1"><stop offset="0.022" stop-color="#6f0075"/><stop offset="0.295" stop-color="#73007d"/><stop offset="0.432" stop-color="#7a008e"/><stop offset="0.978" stop-color="#770087"/></linearGradient>
<linearGradient id="q122" x2="0" y2="1"><stop offset="0.022" stop-color="#6f0075"/><stop offset="0.295" stop-color="#73007d"/><stop offset="0.432" stop-color="#79008d"/><stop offset="0.978" stop-color="#770087"/></linearGradient>
<linearGradient id="q123" x2="0" y2="1"><stop offset="0.022" stop-color="#6f0075"/><stop offset="0.295" stop-color="#73007d"/><stop offset="0.432" stop-color="#79008d"/><stop offset="0.978" stop-color="#760086"/></linearGradient>
<linearGradient id="q124" x2="0" y2="1"><stop offset="0.022" stop-color="#6f0075"/><stop offset="0.295" stop-color="#72007d"/><stop offset="0.432" stop-color="#79008d"/><stop offset="0.978" stop-color="#760086"/></linearGradient>
<linearGradient id="q125" x2="0" y2="1"><stop offset="0.022" stop-color="#6f0075"/><stop offset="0.295" stop-color="#72007d"/><stop offset="0.432" stop-color="#79008c"/><stop offset="0.978" stop-color="#760086"/></linearGradient>
<linearGradient id="q126" x2="0" y2="1"><stop offset="0.022" stop-color="#6f0075"/><stop offset="0.295" stop-color="#72007d"/><stop offset="0.432" stop-color="#79008c"/><stop offset="0.978" stop-color="#760085"/></linearGradient>
<linearGradient id="q127" x2="0" y2="1"><stop offset="0.022" stop-color="#6f0075"/><stop offset="0.295" stop-color="#72007d"/><stop offset="0.432" stop-color="#79008b"/><stop offset="0.978" stop-color="#760085"/></linearGradient>
<linearGradient id="q128" x2="0" y2="1"><stop offset="0.022" stop-color="#6f0075"/><stop offset="0.295" stop-color="#72007c"/><stop offset="0.432" stop-color="#78008b"/><stop offset="0.978" stop-color="#760085"/></linearGradient>
<linearGradient id="q129" x2="0" y2="1"><stop offset="0.022" stop-color="#6f0075"/><stop offset="0.432" stop-color="#78008b"/><stop offset="0.978" stop-color="#760085"/></linearGradient>
<linearGradient id="q130" x2="0" y2="1"><stop offset="0.022" stop-color="#6f0075"/><stop offset="0.432" stop-color="#78008a"/><stop offset="0.978" stop-color="#760084"/></linearGradient>
<linearGradient id="q131" x2="0" y2="1"><stop offset="0.022" stop-color="#6f0075"/><stop offset="0.432" stop-color="#78008a"/><stop offset="0.978" stop-color="#750084"/></linearGradient>
<linearGradient id="q132" x2="0" y2="1"><stop offset="0.022" stop-color="#6f0075"/><stop offset="0.432" stop-color="#780089"/><stop offset="0.978" stop-color="#750084"/></linearGradient>
<linearGradient id="q133" x2="0" y2="1"><stop offset="0.022" stop-color="#6f0075"/><stop offset="0.432" stop-color="#780089"/><stop offset="0.978" stop-color="#750083"/></linearGradient>
<linearGradient id="q134" x2="0" y2="1"><stop offset="0.022" stop-color="#6f0075"/><stop offset="0.432" stop-color="#770089"/><stop offset="0.978" stop-color="#750083"/></linearGradient>
<linearGradient id="q135" x2="0" y2="1"><stop offset="0.022" stop-color="#6f0075"/><stop offset="0.432" stop-color="#770088"/><stop offset="0.978" stop-color="#750083"/></linearGradient>
<linearGradient id="q136" x2="0" y2="1"><stop offset="0.022" stop-color="#6f0074"/><stop offset="0.432" stop-color="#770088"/><stop offset="0.978" stop-color="#750082"/></linearGradient>
<linearGradient id="q137" x2="0" y2="1"><stop offset="0.022" stop-color="#6f0074"/><stop offset="0.432" stop-color="#770087"/><stop offset="0.978" stop-color="#750082"/></linearGradient>
<linearGradient id="q138" x2="0" y2="1"><stop offset="0.022" stop-color="#6f0074"/><stop offset="0.432" stop-color="#770087"/><stop offset="0.978" stop-color="#740082"/></linearGradient>
<linearGradient id="q139" x2="0" y2="1"><stop offset="0.022" stop-color="#6f0074"/><stop offset="0.432" stop-color="#770087"/><stop offset="0.978" stop-color="#740081"/></linearGradient>
<linearGradient id="cbA4" x1="0" y1="0" x2="0" y2="1"><stop offset="0.000" stop-color="#5c0000"/><stop offset="0.213" stop-color="#ff0000"/><stop offset="0.344" stop-color="#ff0000"/><stop offset="0.505" stop-color="#ffff00"/><stop offset="0.674" stop-color="#00ff00"/><stop offset="0.740" stop-color="#00ffff"/><stop offset="0.800" stop-color="#0082ff"/><stop offset="0.858" stop-color="#0000ff"/><stop offset="0.904" stop-color="#7d00f5"/><stop offset="0.950" stop-color="#7d0096"/><stop offset="1.000" stop-color="#6b006b"/></linearGradient>
<linearGradient id="r0" x2="0" y2="1"><stop offset="0.022" stop-color="#700078"/><stop offset="0.978" stop-color="#6e0073"/></linearGradient>
<linearGradient id="r1" x2="0" y2="1"><stop offset="0.022" stop-color="#710079"/><stop offset="0.978" stop-color="#6e0073"/></linearGradient>
<linearGradient id="r2" x2="0" y2="1"><stop offset="0.022" stop-color="#71007a"/><stop offset="0.978" stop-color="#6f0074"/></linearGradient>
<linearGradient id="r3" x2="0" y2="1"><stop offset="0.022" stop-color="#72007b"/><stop offset="0.978" stop-color="#6f0074"/></linearGradient>
<linearGradient id="r4" x2="0" y2="1"><stop offset="0.022" stop-color="#72007d"/><stop offset="0.978" stop-color="#6f0074"/></linearGradient>
<linearGradient id="r5" x2="0" y2="1"><stop offset="0.022" stop-color="#73007e"/><stop offset="0.978" stop-color="#6f0075"/></linearGradient>
<linearGradient id="r6" x2="0" y2="1"><stop offset="0.022" stop-color="#740080"/><stop offset="0.978" stop-color="#6f0076"/></linearGradient>
<linearGradient id="r7" x2="0" y2="1"><stop offset="0.022" stop-color="#740082"/><stop offset="0.978" stop-color="#700077"/></linearGradient>
<linearGradient id="r8" x2="0" y2="1"><stop offset="0.022" stop-color="#750083"/><stop offset="0.978" stop-color="#700078"/></linearGradient>
<linearGradient id="r9" x2="0" y2="1"><stop offset="0.022" stop-color="#760085"/><stop offset="0.978" stop-color="#710079"/></linearGradient>
<linearGradient id="r10" x2="0" y2="1"><stop offset="0.022" stop-color="#770087"/><stop offset="0.978" stop-color="#71007a"/></linearGradient>
<linearGradient id="r11" x2="0" y2="1"><stop offset="0.022" stop-color="#78008a"/><stop offset="0.978" stop-color="#72007c"/></linearGradient>
<linearGradient id="r12" x2="0" y2="1"><stop offset="0.022" stop-color="#79008d"/><stop offset="0.978" stop-color="#73007d"/></linearGradient>
<linearGradient id="r13" x2="0" y2="1"><stop offset="0.022" stop-color="#7b0090"/><stop offset="0.978" stop-color="#73007f"/></linearGradient>
<linearGradient id="r14" x2="0" y2="1"><stop offset="0.022" stop-color="#7c0094"/><stop offset="0.978" stop-color="#740080"/></linearGradient>
<linearGradient id="r15" x2="0" y2="1"><stop offset="0.022" stop-color="#7d0099"/><stop offset="0.978" stop-color="#750082"/></linearGradient>
<linearGradient id="r16" x2="0" y2="1"><stop offset="0.022" stop-color="#7d00a2"/><stop offset="0.227" stop-color="#7c0094"/><stop offset="0.978" stop-color="#750084"/></linearGradient>
<linearGradient id="r17" x2="0" y2="1"><stop offset="0.022" stop-color="#7d00aa"/><stop offset="0.295" stop-color="#7d0096"/><stop offset="0.978" stop-color="#760086"/></linearGradient>
<linearGradient id="r18" x2="0" y2="1"><stop offset="0.022" stop-color="#7d00b3"/><stop offset="0.398" stop-color="#7d0096"/><stop offset="0.978" stop-color="#770088"/></linearGradient>
<linearGradient id="r19" x2="0" y2="1"><stop offset="0.022" stop-color="#7d00bc"/><stop offset="0.534" stop-color="#7d0095"/><stop offset="0.978" stop-color="#78008a"/></linearGradient>
<linearGradient id="r20" x2="0" y2="1"><stop offset="0.022" stop-color="#7d00c5"/><stop offset="0.637" stop-color="#7d0096"/><stop offset="0.978" stop-color="#79008d"/></linearGradient>
<linearGradient id="r21" x2="0" y2="1"><stop offset="0.022" stop-color="#7d00ce"/><stop offset="0.739" stop-color="#7d0098"/><stop offset="0.978" stop-color="#7b0091"/></linearGradient>
<linearGradient id="r22" x2="0" y2="1"><stop offset="0.022" stop-color="#7d00d8"/><stop offset="0.978" stop-color="#7c0094"/></linearGradient>
<linearGradient id="r23" x2="0" y2="1"><stop offset="0.022" stop-color="#7d00e4"/><stop offset="0.978" stop-color="#7d009a"/></linearGradient>
<linearGradient id="r24" x2="0" y2="1"><stop offset="0.022" stop-color="#7d00f0"/><stop offset="0.978" stop-color="#7d00a3"/></linearGradient>
<linearGradient id="r25" x2="0" y2="1"><stop offset="0.022" stop-color="#7100f6"/><stop offset="0.124" stop-color="#7d00f3"/><stop offset="0.978" stop-color="#7d00ad"/></linearGradient>
<linearGradient id="r26" x2="0" y2="1"><stop offset="0.022" stop-color="#5b00f8"/><stop offset="0.227" stop-color="#7d00f5"/><stop offset="0.978" stop-color="#7d00b6"/></linearGradient>
<linearGradient id="r27" x2="0" y2="1"><stop offset="0.022" stop-color="#4100fa"/><stop offset="0.363" stop-color="#7d00f4"/><stop offset="0.978" stop-color="#7d00c0"/></linearGradient>
<linearGradient id="r28" x2="0" y2="1"><stop offset="0.022" stop-color="#2500fc"/><stop offset="0.5" stop-color="#7d00f4"/><stop offset="0.978" stop-color="#7d00ca"/></linearGradient>
<linearGradient id="r29" x2="0" y2="1"><stop offset="0.022" stop-color="#0400ff"/><stop offset="0.329" stop-color="#4b00f9"/><stop offset="0.602" stop-color="#7a00f5"/><stop offset="0.978" stop-color="#7d00d5"/></linearGradient>
<linearGradient id="r30" x2="0" y2="1"><stop offset="0.022" stop-color="#001cff"/><stop offset="0.159" stop-color="#0500ff"/><stop offset="0.466" stop-color="#4b00f9"/><stop offset="0.739" stop-color="#7900f5"/><stop offset="0.978" stop-color="#7d00e2"/></linearGradient>
<linearGradient id="r31" x2="0" y2="1"><stop offset="0.022" stop-color="#0044ff"/><stop offset="0.295" stop-color="#0500ff"/><stop offset="0.671" stop-color="#5800f8"/><stop offset="0.91" stop-color="#7c00f5"/><stop offset="0.978" stop-color="#7d00f0"/></linearGradient>
<linearGradient id="r32" x2="0" y2="1"><stop offset="0.022" stop-color="#0070ff"/><stop offset="0.398" stop-color="#0003ff"/><stop offset="0.739" stop-color="#4a00f9"/><stop offset="0.978" stop-color="#6f00f6"/></linearGradient>
<linearGradient id="r33" x2="0" y2="1"><stop offset="0.022" stop-color="#009eff"/><stop offset="0.534" stop-color="#0005ff"/><stop offset="0.978" stop-color="#5700f8"/></linearGradient>
<linearGradient id="r34" x2="0" y2="1"><stop offset="0.022" stop-color="#00caff"/><stop offset="0.671" stop-color="#0007ff"/><stop offset="0.978" stop-color="#3b00fa"/></linearGradient>
<linearGradient id="r35" x2="0" y2="1"><stop offset="0.022" stop-color="#00f6ff"/><stop offset="0.773" stop-color="#0013ff"/><stop offset="0.876" stop-color="#0400ff"/><stop offset="0.978" stop-color="#1900fd"/></linearGradient>
<linearGradient id="r36" x2="0" y2="1"><stop offset="0.022" stop-color="#00ffc7"/><stop offset="0.159" stop-color="#00fdff"/><stop offset="0.807" stop-color="#0037ff"/><stop offset="0.978" stop-color="#000cff"/></linearGradient>
<linearGradient id="r37" x2="0" y2="1"><stop offset="0.022" stop-color="#00ff80"/><stop offset="0.329" stop-color="#00fcff"/><stop offset="0.978" stop-color="#003aff"/></linearGradient>
<linearGradient id="r38" x2="0" y2="1"><stop offset="0.022" stop-color="#00ff32"/><stop offset="0.5" stop-color="#00fcff"/><stop offset="0.978" stop-color="#0072ff"/></linearGradient>
<linearGradient id="r39" x2="0" y2="1"><stop offset="0.022" stop-color="#12ff00"/><stop offset="0.09" stop-color="#02ff00"/><stop offset="0.124" stop-color="#00ff0d"/><stop offset="0.295" stop-color="#00ff60"/><stop offset="0.671" stop-color="#00feff"/><stop offset="0.978" stop-color="#00acff"/></linearGradient>
<linearGradient id="r40" x2="0" y2="1"><stop offset="0.022" stop-color="#41ff00"/><stop offset="0.261" stop-color="#03ff00"/><stop offset="0.841" stop-color="#00fff9"/><stop offset="0.978" stop-color="#00e3ff"/></linearGradient>
<linearGradient id="r41" x2="0" y2="1"><stop offset="0.022" stop-color="#77ff00"/><stop offset="0.466" stop-color="#00ff04"/><stop offset="0.671" stop-color="#00ff64"/><stop offset="0.978" stop-color="#00ffd9"/></linearGradient>
<linearGradient id="r42" x2="0" y2="1"><stop offset="0.022" stop-color="#b0ff00"/><stop offset="0.363" stop-color="#47ff00"/><stop offset="0.637" stop-color="#02ff00"/><stop offset="0.978" stop-color="#00ff89"/></linearGradient>
<linearGradient id="r43" x2="0" y2="1"><stop offset="0.022" stop-color="#e8ff00"/><stop offset="0.534" stop-color="#4cff00"/><stop offset="0.841" stop-color="#02ff00"/><stop offset="0.978" stop-color="#00ff35"/></linearGradient>
<linearGradient id="r44" x2="0" y2="1"><stop offset="0.022" stop-color="#ffe100"/><stop offset="0.124" stop-color="#ffff00"/><stop offset="0.705" stop-color="#53ff00"/><stop offset="0.978" stop-color="#14ff00"/></linearGradient>
<linearGradient id="r45" x2="0" y2="1"><stop offset="0.022" stop-color="#ffaa00"/><stop offset="0.329" stop-color="#faff00"/><stop offset="0.978" stop-color="#46ff00"/></linearGradient>
<linearGradient id="r46" x2="0" y2="1"><stop offset="0.022" stop-color="#ff7400"/><stop offset="0.5" stop-color="#fffe00"/><stop offset="0.978" stop-color="#7fff00"/></linearGradient>
<linearGradient id="r47" x2="0" y2="1"><stop offset="0.022" stop-color="#ff3f00"/><stop offset="0.705" stop-color="#ffff00"/><stop offset="0.978" stop-color="#baff00"/></linearGradient>
<linearGradient id="r48" x2="0" y2="1"><stop offset="0.022" stop-color="#ff0b00"/><stop offset="0.807" stop-color="#ffe300"/><stop offset="0.91" stop-color="#fffc00"/><stop offset="0.978" stop-color="#f4ff00"/></linearGradient>
<linearGradient id="r49" x2="0" y2="1"><stop offset="0.022" stop-color="#ff0000"/><stop offset="0.193" stop-color="#ff0600"/><stop offset="0.978" stop-color="#ffd300"/></linearGradient>
<linearGradient id="r50" x2="0" y2="1"><stop offset="0.022" stop-color="#ff0000"/><stop offset="0.363" stop-color="#ff0000"/><stop offset="0.978" stop-color="#ff9c00"/></linearGradient>
<linearGradient id="r51" x2="0" y2="1"><stop offset="0.022" stop-color="#ff0000"/><stop offset="0.568" stop-color="#ff0200"/><stop offset="0.978" stop-color="#ff6500"/></linearGradient>
<linearGradient id="r52" x2="0" y2="1"><stop offset="0.022" stop-color="#ff0000"/><stop offset="0.773" stop-color="#ff0100"/><stop offset="0.978" stop-color="#ff2f00"/></linearGradient>
<linearGradient id="r53" x2="0" y2="1"><stop offset="0.022" stop-color="#f70000"/><stop offset="0.124" stop-color="#ff0000"/><stop offset="0.978" stop-color="#ff0000"/></linearGradient>
<linearGradient id="r54" x2="0" y2="1"><stop offset="0.022" stop-color="#e50000"/><stop offset="0.329" stop-color="#ff0000"/><stop offset="0.978" stop-color="#ff0000"/></linearGradient>
<linearGradient id="r55" x2="0" y2="1"><stop offset="0.022" stop-color="#d50000"/><stop offset="0.534" stop-color="#ff0000"/><stop offset="0.978" stop-color="#ff0000"/></linearGradient>
<linearGradient id="r56" x2="0" y2="1"><stop offset="0.022" stop-color="#c50000"/><stop offset="0.739" stop-color="#ff0000"/><stop offset="0.978" stop-color="#ff0000"/></linearGradient>
<linearGradient id="r57" x2="0" y2="1"><stop offset="0.022" stop-color="#b70000"/><stop offset="0.978" stop-color="#fe0000"/></linearGradient>
<linearGradient id="r58" x2="0" y2="1"><stop offset="0.022" stop-color="#ab0000"/><stop offset="0.978" stop-color="#e90000"/></linearGradient>
<linearGradient id="r59" x2="0" y2="1"><stop offset="0.022" stop-color="#a00000"/><stop offset="0.978" stop-color="#d60000"/></linearGradient>
<linearGradient id="r60" x2="0" y2="1"><stop offset="0.022" stop-color="#950000"/><stop offset="0.978" stop-color="#c40000"/></linearGradient>
<linearGradient id="r61" x2="0" y2="1"><stop offset="0.022" stop-color="#8c0000"/><stop offset="0.978" stop-color="#b40000"/></linearGradient>
<linearGradient id="r62" x2="0" y2="1"><stop offset="0.022" stop-color="#830000"/><stop offset="0.978" stop-color="#a60000"/></linearGradient>
<linearGradient id="r63" x2="0" y2="1"><stop offset="0.022" stop-color="#7b0000"/><stop offset="0.978" stop-color="#9a0000"/></linearGradient>
<linearGradient id="r64" x2="0" y2="1"><stop offset="0.022" stop-color="#740000"/><stop offset="0.978" stop-color="#8f0000"/></linearGradient>
<linearGradient id="r65" x2="0" y2="1"><stop offset="0.022" stop-color="#700000"/><stop offset="0.978" stop-color="#840000"/></linearGradient>
<linearGradient id="r66" x2="0" y2="1"><stop offset="0.022" stop-color="#6b0000"/><stop offset="0.978" stop-color="#7b0000"/></linearGradient>
<linearGradient id="r67" x2="0" y2="1"><stop offset="0.022" stop-color="#670000"/><stop offset="0.978" stop-color="#740000"/></linearGradient>
<linearGradient id="r68" x2="0" y2="1"><stop offset="0.022" stop-color="#640000"/><stop offset="0.978" stop-color="#6f0000"/></linearGradient>
<linearGradient id="r69" x2="0" y2="1"><stop offset="0.022" stop-color="#610000"/><stop offset="0.978" stop-color="#6b0000"/></linearGradient>
<linearGradient id="r70" x2="0" y2="1"><stop offset="0.022" stop-color="#5e0000"/><stop offset="0.978" stop-color="#670000"/></linearGradient>
<linearGradient id="r71" x2="0" y2="1"><stop offset="0.022" stop-color="#5d0000"/><stop offset="0.978" stop-color="#630000"/></linearGradient>
<linearGradient id="r72" x2="0" y2="1"><stop offset="0.022" stop-color="#610000"/><stop offset="0.978" stop-color="#5d0000"/></linearGradient>
<linearGradient id="r73" x2="0" y2="1"><stop offset="0.022" stop-color="#640000"/><stop offset="0.978" stop-color="#5e0000"/></linearGradient>
<linearGradient id="r74" x2="0" y2="1"><stop offset="0.022" stop-color="#670000"/><stop offset="0.978" stop-color="#610000"/></linearGradient>
<linearGradient id="r75" x2="0" y2="1"><stop offset="0.022" stop-color="#6b0000"/><stop offset="0.978" stop-color="#640000"/></linearGradient>
<linearGradient id="r76" x2="0" y2="1"><stop offset="0.022" stop-color="#6e0000"/><stop offset="0.978" stop-color="#680000"/></linearGradient>
<linearGradient id="r77" x2="0" y2="1"><stop offset="0.022" stop-color="#720000"/><stop offset="0.978" stop-color="#6c0000"/></linearGradient>
<linearGradient id="r78" x2="0" y2="1"><stop offset="0.022" stop-color="#760000"/><stop offset="0.978" stop-color="#710000"/></linearGradient>
<linearGradient id="r79" x2="0" y2="1"><stop offset="0.022" stop-color="#a40000"/><stop offset="0.978" stop-color="#9f0000"/></linearGradient>
<linearGradient id="r80" x2="0" y2="1"><stop offset="0.022" stop-color="#ac0000"/><stop offset="0.978" stop-color="#a70000"/></linearGradient>
<linearGradient id="r81" x2="0" y2="1"><stop offset="0.022" stop-color="#b40000"/><stop offset="0.978" stop-color="#af0000"/></linearGradient>
<linearGradient id="r82" x2="0" y2="1"><stop offset="0.022" stop-color="#ff1200"/><stop offset="0.978" stop-color="#ff0c00"/></linearGradient>
<linearGradient id="r83" x2="0" y2="1"><stop offset="0.022" stop-color="#ff2400"/><stop offset="0.978" stop-color="#ff1e00"/></linearGradient>
<linearGradient id="r84" x2="0" y2="1"><stop offset="0.022" stop-color="#ff3700"/><stop offset="0.978" stop-color="#ff3100"/></linearGradient>
<linearGradient id="r85" x2="0" y2="1"><stop offset="0.022" stop-color="#ff4a00"/><stop offset="0.978" stop-color="#ff4400"/></linearGradient>
<linearGradient id="r86" x2="0" y2="1"><stop offset="0.022" stop-color="#ff5c00"/><stop offset="0.978" stop-color="#ff5600"/></linearGradient>
<linearGradient id="r87" x2="0" y2="1"><stop offset="0.022" stop-color="#ff6f00"/><stop offset="0.978" stop-color="#ff6900"/></linearGradient>
<linearGradient id="r88" x2="0" y2="1"><stop offset="0.022" stop-color="#ff8100"/><stop offset="0.978" stop-color="#ff7b00"/></linearGradient>
<linearGradient id="r89" x2="0" y2="1"><stop offset="0.022" stop-color="#ff9400"/><stop offset="0.978" stop-color="#ff8e00"/></linearGradient>
<linearGradient id="r90" x2="0" y2="1"><stop offset="0.022" stop-color="#ffa600"/><stop offset="0.978" stop-color="#ffa000"/></linearGradient>
<linearGradient id="r91" x2="0" y2="1"><stop offset="0.022" stop-color="#ffb800"/><stop offset="0.978" stop-color="#ffb200"/></linearGradient>
<linearGradient id="r92" x2="0" y2="1"><stop offset="0.022" stop-color="#ffc900"/><stop offset="0.978" stop-color="#ffc400"/></linearGradient>
<linearGradient id="r93" x2="0" y2="1"><stop offset="0.022" stop-color="#ffdb00"/><stop offset="0.978" stop-color="#ffd500"/></linearGradient>
<linearGradient id="r94" x2="0" y2="1"><stop offset="0.022" stop-color="#ffec00"/><stop offset="0.978" stop-color="#ffe600"/></linearGradient>
<linearGradient id="r95" x2="0" y2="1"><stop offset="0.022" stop-color="#fffd00"/><stop offset="0.978" stop-color="#fff700"/></linearGradient>
<linearGradient id="r96" x2="0" y2="1"><stop offset="0.022" stop-color="#f1ff00"/><stop offset="0.978" stop-color="#f7ff00"/></linearGradient>
<linearGradient id="r97" x2="0" y2="1"><stop offset="0.022" stop-color="#e2ff00"/><stop offset="0.978" stop-color="#e7ff00"/></linearGradient>
<linearGradient id="r98" x2="0" y2="1"><stop offset="0.022" stop-color="#d2ff00"/><stop offset="0.978" stop-color="#d7ff00"/></linearGradient>
<linearGradient id="r99" x2="0" y2="1"><stop offset="0.022" stop-color="#c2ff00"/><stop offset="0.978" stop-color="#c7ff00"/></linearGradient>
<linearGradient id="r100" x2="0" y2="1"><stop offset="0.022" stop-color="#b3ff00"/><stop offset="0.978" stop-color="#b8ff00"/></linearGradient>
<linearGradient id="r101" x2="0" y2="1"><stop offset="0.022" stop-color="#a4ff00"/><stop offset="0.978" stop-color="#a9ff00"/></linearGradient>
<linearGradient id="r102" x2="0" y2="1"><stop offset="0.022" stop-color="#95ff00"/><stop offset="0.978" stop-color="#9aff00"/></linearGradient>
<linearGradient id="r103" x2="0" y2="1"><stop offset="0.022" stop-color="#86ff00"/><stop offset="0.978" stop-color="#8bff00"/></linearGradient>
<linearGradient id="r104" x2="0" y2="1"><stop offset="0.022" stop-color="#00ff0e"/><stop offset="0.978" stop-color="#00ff05"/></linearGradient>
<linearGradient id="r105" x2="0" y2="1"><stop offset="0.022" stop-color="#00ff2b"/><stop offset="0.978" stop-color="#00ff21"/></linearGradient>
<linearGradient id="r106" x2="0" y2="1"><stop offset="0.022" stop-color="#00ff46"/><stop offset="0.978" stop-color="#00ff3d"/></linearGradient>
<linearGradient id="r107" x2="0" y2="1"><stop offset="0.022" stop-color="#00ff61"/><stop offset="0.978" stop-color="#00ff58"/></linearGradient>
<linearGradient id="r108" x2="0" y2="1"><stop offset="0.022" stop-color="#00ff7b"/><stop offset="0.978" stop-color="#00ff72"/></linearGradient>
<linearGradient id="r109" x2="0" y2="1"><stop offset="0.022" stop-color="#00ff94"/><stop offset="0.978" stop-color="#00ff8c"/></linearGradient>
<linearGradient id="r110" x2="0" y2="1"><stop offset="0.022" stop-color="#00ffac"/><stop offset="0.978" stop-color="#00ffa4"/></linearGradient>
<linearGradient id="r111" x2="0" y2="1"><stop offset="0.022" stop-color="#00ffc3"/><stop offset="0.978" stop-color="#00ffbc"/></linearGradient>
<linearGradient id="r112" x2="0" y2="1"><stop offset="0.022" stop-color="#00ffd9"/><stop offset="0.978" stop-color="#00ffd2"/></linearGradient>
<linearGradient id="r113" x2="0" y2="1"><stop offset="0.022" stop-color="#00ffee"/><stop offset="0.978" stop-color="#00ffe7"/></linearGradient>
<linearGradient id="cbB3" x1="0" y1="0" x2="0" y2="1"><stop offset="0.000" stop-color="#5c0000"/><stop offset="0.213" stop-color="#ff0000"/><stop offset="0.344" stop-color="#ff0000"/><stop offset="0.505" stop-color="#ffff00"/><stop offset="0.674" stop-color="#00ff00"/><stop offset="0.740" stop-color="#00ffff"/><stop offset="0.800" stop-color="#0082ff"/><stop offset="0.858" stop-color="#0000ff"/><stop offset="0.904" stop-color="#7d00f5"/><stop offset="0.950" stop-color="#7d0096"/><stop offset="1.000" stop-color="#6b006b"/></linearGradient>
<linearGradient id="s0" x2="0" y2="1"><stop offset="0.022" stop-color="#7d0098"/><stop offset="0.978" stop-color="#73007e"/></linearGradient>
<linearGradient id="s1" x2="0" y2="1"><stop offset="0.022" stop-color="#7d009b"/><stop offset="0.978" stop-color="#74007f"/></linearGradient>
<linearGradient id="s2" x2="0" y2="1"><stop offset="0.022" stop-color="#7d009e"/><stop offset="0.978" stop-color="#740081"/></linearGradient>
<linearGradient id="s3" x2="0" y2="1"><stop offset="0.022" stop-color="#7d00a2"/><stop offset="0.295" stop-color="#7b0091"/><stop offset="0.978" stop-color="#750082"/></linearGradient>
<linearGradient id="s4" x2="0" y2="1"><stop offset="0.022" stop-color="#7d00a5"/><stop offset="0.193" stop-color="#7d0096"/><stop offset="0.978" stop-color="#750083"/></linearGradient>
<linearGradient id="s5" x2="0" y2="1"><stop offset="0.022" stop-color="#7d00a8"/><stop offset="0.261" stop-color="#7d0095"/><stop offset="0.978" stop-color="#750084"/></linearGradient>
<linearGradient id="s6" x2="0" y2="1"><stop offset="0.022" stop-color="#7d00ac"/><stop offset="0.295" stop-color="#7d0095"/><stop offset="0.978" stop-color="#760085"/></linearGradient>
<linearGradient id="s7" x2="0" y2="1"><stop offset="0.022" stop-color="#7d00b0"/><stop offset="0.329" stop-color="#7d0095"/><stop offset="0.978" stop-color="#760086"/></linearGradient>
<linearGradient id="s8" x2="0" y2="1"><stop offset="0.022" stop-color="#7d00b4"/><stop offset="0.363" stop-color="#7d0096"/><stop offset="0.978" stop-color="#770087"/></linearGradient>
<linearGradient id="s9" x2="0" y2="1"><stop offset="0.022" stop-color="#7d00b8"/><stop offset="0.398" stop-color="#7d0096"/><stop offset="0.978" stop-color="#770089"/></linearGradient>
<linearGradient id="s10" x2="0" y2="1"><stop offset="0.022" stop-color="#7d00bc"/><stop offset="0.432" stop-color="#7d0097"/><stop offset="0.978" stop-color="#78008a"/></linearGradient>
<linearGradient id="s11" x2="0" y2="1"><stop offset="0.022" stop-color="#7d00c0"/><stop offset="0.5" stop-color="#7d0096"/><stop offset="0.978" stop-color="#79008b"/></linearGradient>
<linearGradient id="s12" x2="0" y2="1"><stop offset="0.022" stop-color="#7d00c4"/><stop offset="0.534" stop-color="#7d0096"/><stop offset="0.978" stop-color="#79008d"/></linearGradient>
<linearGradient id="s13" x2="0" y2="1"><stop offset="0.022" stop-color="#7d00c8"/><stop offset="0.568" stop-color="#7d0097"/><stop offset="0.978" stop-color="#7a008e"/></linearGradient>
<linearGradient id="s14" x2="0" y2="1"><stop offset="0.022" stop-color="#7d00cc"/><stop offset="0.637" stop-color="#7d0096"/><stop offset="0.978" stop-color="#7a0090"/></linearGradient>
<linearGradient id="s15" x2="0" y2="1"><stop offset="0.022" stop-color="#7d00d0"/><stop offset="0.637" stop-color="#7d009a"/><stop offset="0.978" stop-color="#7b0091"/></linearGradient>
<linearGradient id="s16" x2="0" y2="1"><stop offset="0.022" stop-color="#7d00d4"/><stop offset="0.602" stop-color="#7d00a0"/><stop offset="0.978" stop-color="#7c0093"/></linearGradient>
<linearGradient id="s17" x2="0" y2="1"><stop offset="0.022" stop-color="#7d00d8"/><stop offset="0.637" stop-color="#7d00a2"/><stop offset="0.978" stop-color="#7c0095"/></linearGradient>
<linearGradient id="s18" x2="0" y2="1"><stop offset="0.022" stop-color="#7d00dc"/><stop offset="0.637" stop-color="#7d00a6"/><stop offset="0.978" stop-color="#7d0096"/></linearGradient>
<linearGradient id="s19" x2="0" y2="1"><stop offset="0.022" stop-color="#7d00e0"/><stop offset="0.637" stop-color="#7d00ab"/><stop offset="0.978" stop-color="#7d009b"/></linearGradient>
<linearGradient id="s20" x2="0" y2="1"><stop offset="0.022" stop-color="#7d00e5"/><stop offset="0.637" stop-color="#7d00b0"/><stop offset="0.978" stop-color="#7d009f"/></linearGradient>
<linearGradient id="s21" x2="0" y2="1"><stop offset="0.022" stop-color="#7d00eb"/><stop offset="0.637" stop-color="#7d00b4"/><stop offset="0.978" stop-color="#7d00a3"/></linearGradient>
<linearGradient id="s22" x2="0" y2="1"><stop offset="0.022" stop-color="#7d00f2"/><stop offset="0.602" stop-color="#7d00bc"/><stop offset="0.978" stop-color="#7d00a8"/></linearGradient>
<linearGradient id="s23" x2="0" y2="1"><stop offset="0.022" stop-color="#7500f6"/><stop offset="0.056" stop-color="#7d00f5"/><stop offset="0.637" stop-color="#7d00bf"/><stop offset="0.978" stop-color="#7d00ad"/></linearGradient>
<linearGradient id="s24" x2="0" y2="1"><stop offset="0.022" stop-color="#6400f7"/><stop offset="0.124" stop-color="#7d00f2"/><stop offset="0.637" stop-color="#7d00c4"/><stop offset="0.978" stop-color="#7d00b2"/></linearGradient>
<linearGradient id="s25" x2="0" y2="1"><stop offset="0.022" stop-color="#4d00f9"/><stop offset="0.159" stop-color="#7d00f5"/><stop offset="0.432" stop-color="#7d00d8"/><stop offset="0.978" stop-color="#7d00b7"/></linearGradient>
<linearGradient id="s26" x2="0" y2="1"><stop offset="0.022" stop-color="#3400fb"/><stop offset="0.124" stop-color="#6300f7"/><stop offset="0.227" stop-color="#7d00f3"/><stop offset="0.5" stop-color="#7d00d8"/><stop offset="0.978" stop-color="#7d00bd"/></linearGradient>
<linearGradient id="s27" x2="0" y2="1"><stop offset="0.022" stop-color="#1700fd"/><stop offset="0.159" stop-color="#5a00f8"/><stop offset="0.261" stop-color="#7b00f5"/><stop offset="0.534" stop-color="#7d00da"/><stop offset="0.978" stop-color="#7d00c3"/></linearGradient>
<linearGradient id="s28" x2="0" y2="1"><stop offset="0.022" stop-color="#0005ff"/><stop offset="0.227" stop-color="#5f00f7"/><stop offset="0.329" stop-color="#7d00f5"/><stop offset="0.602" stop-color="#7d00da"/><stop offset="0.978" stop-color="#7d00c8"/></linearGradient>
<linearGradient id="s29" x2="0" y2="1"><stop offset="0.022" stop-color="#0022ff"/><stop offset="0.09" stop-color="#0100ff"/><stop offset="0.261" stop-color="#5500f8"/><stop offset="0.398" stop-color="#7d00f4"/><stop offset="0.637" stop-color="#7d00dd"/><stop offset="0.978" stop-color="#7d00ce"/></linearGradient>
<linearGradient id="s30" x2="0" y2="1"><stop offset="0.022" stop-color="#0045ff"/><stop offset="0.159" stop-color="#0600fe"/><stop offset="0.329" stop-color="#5800f8"/><stop offset="0.466" stop-color="#7d00f4"/><stop offset="0.978" stop-color="#7d00d3"/></linearGradient>
<linearGradient id="s31" x2="0" y2="1"><stop offset="0.022" stop-color="#006bff"/><stop offset="0.159" stop-color="#0017ff"/><stop offset="0.227" stop-color="#0b00fe"/><stop offset="0.398" stop-color="#5a00f8"/><stop offset="0.534" stop-color="#7d00f4"/><stop offset="0.978" stop-color="#7d00d8"/></linearGradient>
<linearGradient id="s32" x2="0" y2="1"><stop offset="0.022" stop-color="#0091ff"/><stop offset="0.261" stop-color="#0003ff"/><stop offset="0.466" stop-color="#5a00f8"/><stop offset="0.602" stop-color="#7d00f5"/><stop offset="0.978" stop-color="#7d00dd"/></linearGradient>
<linearGradient id="s33" x2="0" y2="1"><stop offset="0.022" stop-color="#00b6ff"/><stop offset="0.329" stop-color="#0002ff"/><stop offset="0.5" stop-color="#4c00f9"/><stop offset="0.637" stop-color="#7400f6"/><stop offset="0.705" stop-color="#7d00f3"/><stop offset="0.978" stop-color="#7d00e3"/></linearGradient>
<linearGradient id="s34" x2="0" y2="1"><stop offset="0.022" stop-color="#00daff"/><stop offset="0.398" stop-color="#0002ff"/><stop offset="0.568" stop-color="#4900f9"/><stop offset="0.705" stop-color="#7000f6"/><stop offset="0.807" stop-color="#7d00f3"/><stop offset="0.978" stop-color="#7d00eb"/></linearGradient>
<linearGradient id="s35" x2="0" y2="1"><stop offset="0.022" stop-color="#00fbff"/><stop offset="0.159" stop-color="#00b6ff"/><stop offset="0.466" stop-color="#0004ff"/><stop offset="0.739" stop-color="#6100f7"/><stop offset="0.876" stop-color="#7800f5"/><stop offset="0.978" stop-color="#7d00f4"/></linearGradient>
<linearGradient id="s36" x2="0" y2="1"><stop offset="0.022" stop-color="#00ffd0"/><stop offset="0.09" stop-color="#00feff"/><stop offset="0.227" stop-color="#00b9ff"/><stop offset="0.534" stop-color="#0008ff"/><stop offset="0.773" stop-color="#4f00f9"/><stop offset="0.978" stop-color="#6e00f6"/></linearGradient>
<linearGradient id="s37" x2="0" y2="1"><stop offset="0.022" stop-color="#00ffa0"/><stop offset="0.159" stop-color="#00fffb"/><stop offset="0.295" stop-color="#00beff"/><stop offset="0.534" stop-color="#0030ff"/><stop offset="0.637" stop-color="#0001ff"/><stop offset="0.807" stop-color="#3a00fa"/><stop offset="0.978" stop-color="#5600f8"/></linearGradient>
<linearGradient id="s38" x2="0" y2="1"><stop offset="0.022" stop-color="#00ff71"/><stop offset="0.261" stop-color="#00f8ff"/><stop offset="0.602" stop-color="#003aff"/><stop offset="0.705" stop-color="#000cff"/><stop offset="0.739" stop-color="#0000ff"/><stop offset="0.876" stop-color="#2800fc"/><stop offset="0.978" stop-color="#3700fb"/></linearGradient>
<linearGradient id="s39" x2="0" y2="1"><stop offset="0.022" stop-color="#00ff3d"/><stop offset="0.227" stop-color="#00ffb5"/><stop offset="0.329" stop-color="#00fffe"/><stop offset="0.773" stop-color="#001cff"/><stop offset="0.876" stop-color="#0200ff"/><stop offset="0.978" stop-color="#1200fe"/></linearGradient>
<linearGradient id="s40" x2="0" y2="1"><stop offset="0.022" stop-color="#00ff00"/><stop offset="0.432" stop-color="#00fbff"/><stop offset="0.807" stop-color="#0041ff"/><stop offset="0.91" stop-color="#0020ff"/><stop offset="0.978" stop-color="#0016ff"/></linearGradient>
<linearGradient id="s41" x2="0" y2="1"><stop offset="0.022" stop-color="#1cff00"/><stop offset="0.124" stop-color="#00ff00"/><stop offset="0.534" stop-color="#00faff"/><stop offset="0.841" stop-color="#006fff"/><stop offset="0.978" stop-color="#004bff"/></linearGradient>
<linearGradient id="s42" x2="0" y2="1"><stop offset="0.022" stop-color="#3cff00"/><stop offset="0.227" stop-color="#02ff00"/><stop offset="0.637" stop-color="#00feff"/><stop offset="0.841" stop-color="#00adff"/><stop offset="0.978" stop-color="#008bff"/></linearGradient>
<linearGradient id="s43" x2="0" y2="1"><stop offset="0.022" stop-color="#5fff00"/><stop offset="0.363" stop-color="#00ff06"/><stop offset="0.773" stop-color="#00feff"/><stop offset="0.978" stop-color="#00caff"/></linearGradient>
<linearGradient id="s44" x2="0" y2="1"><stop offset="0.022" stop-color="#85ff00"/><stop offset="0.466" stop-color="#05ff00"/><stop offset="0.5" stop-color="#00ff08"/><stop offset="0.807" stop-color="#00ffb5"/><stop offset="0.91" stop-color="#00ffe3"/><stop offset="0.978" stop-color="#00fff3"/></linearGradient>
<linearGradient id="s45" x2="0" y2="1"><stop offset="0.022" stop-color="#afff00"/><stop offset="0.329" stop-color="#4eff00"/><stop offset="0.637" stop-color="#01ff00"/><stop offset="0.841" stop-color="#00ff65"/><stop offset="0.978" stop-color="#00ff8d"/></linearGradient>
<linearGradient id="s46" x2="0" y2="1"><stop offset="0.022" stop-color="#dbff00"/><stop offset="0.329" stop-color="#76ff00"/><stop offset="0.602" stop-color="#2fff00"/><stop offset="0.841" stop-color="#01ff00"/><stop offset="0.978" stop-color="#00ff24"/></linearGradient>
<linearGradient id="s47" x2="0" y2="1"><stop offset="0.022" stop-color="#fff300"/><stop offset="0.056" stop-color="#fdff00"/><stop offset="0.329" stop-color="#a1ff00"/><stop offset="0.568" stop-color="#60ff00"/><stop offset="0.807" stop-color="#30ff00"/><stop offset="0.978" stop-color="#1dff00"/></linearGradient>
<linearGradient id="s48" x2="0" y2="1"><stop offset="0.022" stop-color="#ffb500"/><stop offset="0.193" stop-color="#fdff00"/><stop offset="0.637" stop-color="#7cff00"/><stop offset="0.841" stop-color="#56ff00"/><stop offset="0.978" stop-color="#49ff00"/></linearGradient>
<linearGradient id="s49" x2="0" y2="1"><stop offset="0.022" stop-color="#ff6f00"/><stop offset="0.193" stop-color="#ffc600"/><stop offset="0.329" stop-color="#fffe00"/><stop offset="0.705" stop-color="#9bff00"/><stop offset="0.978" stop-color="#76ff00"/></linearGradient>
<linearGradient id="s50" x2="0" y2="1"><stop offset="0.022" stop-color="#ff2c00"/><stop offset="0.295" stop-color="#ffb200"/><stop offset="0.5" stop-color="#ffff00"/><stop offset="0.773" stop-color="#beff00"/><stop offset="0.978" stop-color="#a5ff00"/></linearGradient>
<linearGradient id="s51" x2="0" y2="1"><stop offset="0.022" stop-color="#ff0000"/><stop offset="0.09" stop-color="#ff0f00"/><stop offset="0.466" stop-color="#ffb500"/><stop offset="0.671" stop-color="#fff700"/><stop offset="0.705" stop-color="#ffff00"/><stop offset="0.978" stop-color="#d7ff00"/></linearGradient>
<linearGradient id="s52" x2="0" y2="1"><stop offset="0.022" stop-color="#ff0000"/><stop offset="0.193" stop-color="#ff0100"/><stop offset="0.671" stop-color="#ffb700"/><stop offset="0.841" stop-color="#ffe100"/><stop offset="0.978" stop-color="#fff100"/></linearGradient>
<linearGradient id="s53" x2="0" y2="1"><stop offset="0.022" stop-color="#ff0000"/><stop offset="0.329" stop-color="#ff0000"/><stop offset="0.739" stop-color="#ff8400"/><stop offset="0.978" stop-color="#ffaf00"/></linearGradient>
<linearGradient id="s54" x2="0" y2="1"><stop offset="0.022" stop-color="#ff0000"/><stop offset="0.5" stop-color="#ff0000"/><stop offset="0.807" stop-color="#ff4f00"/><stop offset="0.978" stop-color="#ff6800"/></linearGradient>
<linearGradient id="s55" x2="0" y2="1"><stop offset="0.022" stop-color="#ff0000"/><stop offset="0.705" stop-color="#ff0000"/><stop offset="0.978" stop-color="#ff2500"/></linearGradient>
<linearGradient id="s56" x2="0" y2="1"><stop offset="0.022" stop-color="#fc0000"/><stop offset="0.978" stop-color="#ff0000"/></linearGradient>
<linearGradient id="s57" x2="0" y2="1"><stop offset="0.022" stop-color="#ec0000"/><stop offset="0.193" stop-color="#ff0000"/><stop offset="0.978" stop-color="#ff0000"/></linearGradient>
<linearGradient id="s58" x2="0" y2="1"><stop offset="0.022" stop-color="#dc0000"/><stop offset="0.363" stop-color="#ff0000"/><stop offset="0.978" stop-color="#ff0000"/></linearGradient>
<linearGradient id="s59" x2="0" y2="1"><stop offset="0.022" stop-color="#cc0000"/><stop offset="0.534" stop-color="#ff0000"/><stop offset="0.978" stop-color="#ff0000"/></linearGradient>
<linearGradient id="s60" x2="0" y2="1"><stop offset="0.022" stop-color="#bd0000"/><stop offset="0.739" stop-color="#fe0000"/><stop offset="0.978" stop-color="#ff0000"/></linearGradient>
<linearGradient id="s61" x2="0" y2="1"><stop offset="0.022" stop-color="#ae0000"/><stop offset="0.671" stop-color="#e70000"/><stop offset="0.978" stop-color="#f70000"/></linearGradient>
<linearGradient id="s62" x2="0" y2="1"><stop offset="0.022" stop-color="#a10000"/><stop offset="0.978" stop-color="#e30000"/></linearGradient>
<linearGradient id="s63" x2="0" y2="1"><stop offset="0.022" stop-color="#940000"/><stop offset="0.978" stop-color="#ce0000"/></linearGradient>
<linearGradient id="s64" x2="0" y2="1"><stop offset="0.022" stop-color="#8a0000"/><stop offset="0.978" stop-color="#ba0000"/></linearGradient>
<linearGradient id="s65" x2="0" y2="1"><stop offset="0.022" stop-color="#800000"/><stop offset="0.978" stop-color="#a60000"/></linearGradient>
<linearGradient id="s66" x2="0" y2="1"><stop offset="0.022" stop-color="#780000"/><stop offset="0.978" stop-color="#940000"/></linearGradient>
<linearGradient id="s67" x2="0" y2="1"><stop offset="0.022" stop-color="#710000"/><stop offset="0.978" stop-color="#860000"/></linearGradient>
<linearGradient id="s68" x2="0" y2="1"><stop offset="0.022" stop-color="#6a0000"/><stop offset="0.978" stop-color="#7c0000"/></linearGradient>
<linearGradient id="s69" x2="0" y2="1"><stop offset="0.022" stop-color="#640000"/><stop offset="0.978" stop-color="#730000"/></linearGradient>
<linearGradient id="s70" x2="0" y2="1"><stop offset="0.022" stop-color="#600000"/><stop offset="0.978" stop-color="#6c0000"/></linearGradient>
<linearGradient id="s71" x2="0" y2="1"><stop offset="0.022" stop-color="#5e0000"/><stop offset="0.978" stop-color="#650000"/></linearGradient>
<linearGradient id="s72" x2="0" y2="1"><stop offset="0.022" stop-color="#630000"/><stop offset="0.978" stop-color="#5e0000"/></linearGradient>
<linearGradient id="s73" x2="0" y2="1"><stop offset="0.022" stop-color="#660000"/><stop offset="0.978" stop-color="#600000"/></linearGradient>
<linearGradient id="s74" x2="0" y2="1"><stop offset="0.022" stop-color="#690000"/><stop offset="0.978" stop-color="#630000"/></linearGradient>
<linearGradient id="s75" x2="0" y2="1"><stop offset="0.022" stop-color="#6d0000"/><stop offset="0.978" stop-color="#660000"/></linearGradient>
<linearGradient id="s76" x2="0" y2="1"><stop offset="0.022" stop-color="#700000"/><stop offset="0.978" stop-color="#6a0000"/></linearGradient>
<linearGradient id="s77" x2="0" y2="1"><stop offset="0.022" stop-color="#740000"/><stop offset="0.978" stop-color="#6d0000"/></linearGradient>
<linearGradient id="s78" x2="0" y2="1"><stop offset="0.022" stop-color="#780000"/><stop offset="0.978" stop-color="#710000"/></linearGradient>
<linearGradient id="s79" x2="0" y2="1"><stop offset="0.022" stop-color="#7c0000"/><stop offset="0.978" stop-color="#750000"/></linearGradient>
<linearGradient id="s80" x2="0" y2="1"><stop offset="0.022" stop-color="#810000"/><stop offset="0.978" stop-color="#7a0000"/></linearGradient>
<linearGradient id="s81" x2="0" y2="1"><stop offset="0.022" stop-color="#860000"/><stop offset="0.978" stop-color="#7e0000"/></linearGradient>
<linearGradient id="s82" x2="0" y2="1"><stop offset="0.022" stop-color="#8c0000"/><stop offset="0.978" stop-color="#830000"/></linearGradient>
<linearGradient id="s83" x2="0" y2="1"><stop offset="0.022" stop-color="#920000"/><stop offset="0.978" stop-color="#880000"/></linearGradient>
<linearGradient id="s84" x2="0" y2="1"><stop offset="0.022" stop-color="#990000"/><stop offset="0.978" stop-color="#8e0000"/></linearGradient>
<linearGradient id="s85" x2="0" y2="1"><stop offset="0.022" stop-color="#a00000"/><stop offset="0.978" stop-color="#950000"/></linearGradient>
<linearGradient id="s86" x2="0" y2="1"><stop offset="0.022" stop-color="#a70000"/><stop offset="0.978" stop-color="#9b0000"/></linearGradient>
<linearGradient id="s87" x2="0" y2="1"><stop offset="0.022" stop-color="#af0000"/><stop offset="0.978" stop-color="#a30000"/></linearGradient>
<linearGradient id="s88" x2="0" y2="1"><stop offset="0.022" stop-color="#b60000"/><stop offset="0.978" stop-color="#aa0000"/></linearGradient>
<linearGradient id="s89" x2="0" y2="1"><stop offset="0.022" stop-color="#be0000"/><stop offset="0.978" stop-color="#b10000"/></linearGradient>
<linearGradient id="s90" x2="0" y2="1"><stop offset="0.022" stop-color="#c60000"/><stop offset="0.978" stop-color="#b90000"/></linearGradient>
<linearGradient id="s91" x2="0" y2="1"><stop offset="0.022" stop-color="#cd0000"/><stop offset="0.978" stop-color="#c10000"/></linearGradient>
<linearGradient id="s92" x2="0" y2="1"><stop offset="0.022" stop-color="#d60000"/><stop offset="0.978" stop-color="#c80000"/></linearGradient>
<linearGradient id="s93" x2="0" y2="1"><stop offset="0.022" stop-color="#de0000"/><stop offset="0.978" stop-color="#d00000"/></linearGradient>
<linearGradient id="s94" x2="0" y2="1"><stop offset="0.022" stop-color="#e70000"/><stop offset="0.978" stop-color="#d80000"/></linearGradient>
<linearGradient id="s95" x2="0" y2="1"><stop offset="0.022" stop-color="#f00000"/><stop offset="0.978" stop-color="#e10000"/></linearGradient>
<linearGradient id="s96" x2="0" y2="1"><stop offset="0.022" stop-color="#f90000"/><stop offset="0.978" stop-color="#e90000"/></linearGradient>
<linearGradient id="s97" x2="0" y2="1"><stop offset="0.022" stop-color="#ff0000"/><stop offset="0.978" stop-color="#f20000"/></linearGradient>
<linearGradient id="s98" x2="0" y2="1"><stop offset="0.022" stop-color="#ff0000"/><stop offset="0.978" stop-color="#fb0000"/></linearGradient>
<linearGradient id="s99" x2="0" y2="1"><stop offset="0.022" stop-color="#ff0f00"/><stop offset="0.295" stop-color="#ff0000"/><stop offset="0.978" stop-color="#ff0000"/></linearGradient>
<linearGradient id="s100" x2="0" y2="1"><stop offset="0.022" stop-color="#ff2200"/><stop offset="0.637" stop-color="#ff0400"/><stop offset="0.978" stop-color="#ff0000"/></linearGradient>
<linearGradient id="s101" x2="0" y2="1"><stop offset="0.022" stop-color="#ff3400"/><stop offset="0.978" stop-color="#ff0f00"/></linearGradient>
<linearGradient id="s102" x2="0" y2="1"><stop offset="0.022" stop-color="#ff4700"/><stop offset="0.978" stop-color="#ff2300"/></linearGradient>
<linearGradient id="s103" x2="0" y2="1"><stop offset="0.022" stop-color="#ff5a00"/><stop offset="0.978" stop-color="#ff3600"/></linearGradient>
<linearGradient id="s104" x2="0" y2="1"><stop offset="0.022" stop-color="#ff6d00"/><stop offset="0.978" stop-color="#ff4900"/></linearGradient>
<linearGradient id="s105" x2="0" y2="1"><stop offset="0.022" stop-color="#ff7f00"/><stop offset="0.978" stop-color="#ff5d00"/></linearGradient>
<linearGradient id="s106" x2="0" y2="1"><stop offset="0.022" stop-color="#ff9200"/><stop offset="0.978" stop-color="#ff7000"/></linearGradient>
<linearGradient id="s107" x2="0" y2="1"><stop offset="0.022" stop-color="#ffa400"/><stop offset="0.978" stop-color="#ff8300"/></linearGradient>
<linearGradient id="s108" x2="0" y2="1"><stop offset="0.022" stop-color="#ffb600"/><stop offset="0.978" stop-color="#ff9600"/></linearGradient>
<linearGradient id="s109" x2="0" y2="1"><stop offset="0.022" stop-color="#ffc700"/><stop offset="0.978" stop-color="#ffa900"/></linearGradient>
<linearGradient id="s110" x2="0" y2="1"><stop offset="0.022" stop-color="#ffd900"/><stop offset="0.978" stop-color="#ffbb00"/></linearGradient>
<linearGradient id="s111" x2="0" y2="1"><stop offset="0.022" stop-color="#ffea00"/><stop offset="0.978" stop-color="#ffcd00"/></linearGradient>
<linearGradient id="s112" x2="0" y2="1"><stop offset="0.022" stop-color="#fffa00"/><stop offset="0.978" stop-color="#ffde00"/></linearGradient>
<linearGradient id="s113" x2="0" y2="1"><stop offset="0.022" stop-color="#f4ff00"/><stop offset="0.329" stop-color="#ffff00"/><stop offset="0.978" stop-color="#ffef00"/></linearGradient>
<linearGradient id="s114" x2="0" y2="1"><stop offset="0.022" stop-color="#e4ff00"/><stop offset="0.978" stop-color="#feff00"/></linearGradient>
<linearGradient id="s115" x2="0" y2="1"><stop offset="0.022" stop-color="#d5ff00"/><stop offset="0.978" stop-color="#efff00"/></linearGradient>
<linearGradient id="s116" x2="0" y2="1"><stop offset="0.022" stop-color="#c5ff00"/><stop offset="0.978" stop-color="#dfff00"/></linearGradient>
<linearGradient id="s117" x2="0" y2="1"><stop offset="0.022" stop-color="#b6ff00"/><stop offset="0.978" stop-color="#d0ff00"/></linearGradient>
<linearGradient id="s118" x2="0" y2="1"><stop offset="0.022" stop-color="#a7ff00"/><stop offset="0.978" stop-color="#c1ff00"/></linearGradient>
<linearGradient id="s119" x2="0" y2="1"><stop offset="0.022" stop-color="#98ff00"/><stop offset="0.978" stop-color="#b2ff00"/></linearGradient>
<linearGradient id="s120" x2="0" y2="1"><stop offset="0.022" stop-color="#8aff00"/><stop offset="0.978" stop-color="#a4ff00"/></linearGradient>
<linearGradient id="s121" x2="0" y2="1"><stop offset="0.022" stop-color="#7bff00"/><stop offset="0.978" stop-color="#96ff00"/></linearGradient>
<linearGradient id="s122" x2="0" y2="1"><stop offset="0.022" stop-color="#6eff00"/><stop offset="0.978" stop-color="#88ff00"/></linearGradient>
<linearGradient id="s123" x2="0" y2="1"><stop offset="0.022" stop-color="#60ff00"/><stop offset="0.978" stop-color="#7aff00"/></linearGradient>
<linearGradient id="s124" x2="0" y2="1"><stop offset="0.022" stop-color="#53ff00"/><stop offset="0.978" stop-color="#6dff00"/></linearGradient>
<linearGradient id="s125" x2="0" y2="1"><stop offset="0.022" stop-color="#46ff00"/><stop offset="0.978" stop-color="#5fff00"/></linearGradient>
<linearGradient id="s126" x2="0" y2="1"><stop offset="0.022" stop-color="#3aff00"/><stop offset="0.978" stop-color="#53ff00"/></linearGradient>
<linearGradient id="s127" x2="0" y2="1"><stop offset="0.022" stop-color="#2eff00"/><stop offset="0.978" stop-color="#46ff00"/></linearGradient>
<linearGradient id="s128" x2="0" y2="1"><stop offset="0.022" stop-color="#22ff00"/><stop offset="0.978" stop-color="#3aff00"/></linearGradient>
<linearGradient id="s129" x2="0" y2="1"><stop offset="0.022" stop-color="#16ff00"/><stop offset="0.978" stop-color="#2eff00"/></linearGradient>
<linearGradient id="s130" x2="0" y2="1"><stop offset="0.022" stop-color="#0bff00"/><stop offset="0.978" stop-color="#22ff00"/></linearGradient>
<linearGradient id="s131" x2="0" y2="1"><stop offset="0.022" stop-color="#00ff00"/><stop offset="0.978" stop-color="#17ff00"/></linearGradient>
<linearGradient id="s132" x2="0" y2="1"><stop offset="0.022" stop-color="#00ff1c"/><stop offset="0.363" stop-color="#00ff01"/><stop offset="0.978" stop-color="#0bff00"/></linearGradient>
<linearGradient id="s133" x2="0" y2="1"><stop offset="0.022" stop-color="#00ff37"/><stop offset="0.568" stop-color="#00ff10"/><stop offset="0.978" stop-color="#00ff00"/></linearGradient>
<linearGradient id="s134" x2="0" y2="1"><stop offset="0.022" stop-color="#00ff52"/><stop offset="0.568" stop-color="#00ff2b"/><stop offset="0.978" stop-color="#00ff1c"/></linearGradient>
<linearGradient id="s135" x2="0" y2="1"><stop offset="0.022" stop-color="#00ff6c"/><stop offset="0.568" stop-color="#00ff46"/><stop offset="0.978" stop-color="#00ff37"/></linearGradient>
<linearGradient id="s136" x2="0" y2="1"><stop offset="0.022" stop-color="#00ff85"/><stop offset="0.568" stop-color="#00ff60"/><stop offset="0.978" stop-color="#00ff51"/></linearGradient>
<linearGradient id="s137" x2="0" y2="1"><stop offset="0.022" stop-color="#00ff9d"/><stop offset="0.978" stop-color="#00ff6b"/></linearGradient>
<linearGradient id="s138" x2="0" y2="1"><stop offset="0.022" stop-color="#00ffb4"/><stop offset="0.978" stop-color="#00ff84"/></linearGradient>
<linearGradient id="s139" x2="0" y2="1"><stop offset="0.022" stop-color="#00ffcb"/><stop offset="0.978" stop-color="#00ff9d"/></linearGradient>
<linearGradient id="s140" x2="0" y2="1"><stop offset="0.022" stop-color="#00ffe1"/><stop offset="0.978" stop-color="#00ffb4"/></linearGradient>
<linearGradient id="s141" x2="0" y2="1"><stop offset="0.022" stop-color="#00fff6"/><stop offset="0.978" stop-color="#00ffcb"/></linearGradient>
<linearGradient id="s142" x2="0" y2="1"><stop offset="0.022" stop-color="#00f8ff"/><stop offset="0.978" stop-color="#00ffe1"/></linearGradient>
<linearGradient id="s143" x2="0" y2="1"><stop offset="0.022" stop-color="#00edff"/><stop offset="0.978" stop-color="#00fff6"/></linearGradient>
<linearGradient id="s144" x2="0" y2="1"><stop offset="0.022" stop-color="#00e3ff"/><stop offset="0.978" stop-color="#00f8ff"/></linearGradient>
<linearGradient id="s145" x2="0" y2="1"><stop offset="0.022" stop-color="#00d8ff"/><stop offset="0.978" stop-color="#00edff"/></linearGradient>
<linearGradient id="s146" x2="0" y2="1"><stop offset="0.022" stop-color="#00ceff"/><stop offset="0.978" stop-color="#00e3ff"/></linearGradient>
<linearGradient id="s147" x2="0" y2="1"><stop offset="0.022" stop-color="#00c4ff"/><stop offset="0.978" stop-color="#00d8ff"/></linearGradient>
<linearGradient id="s148" x2="0" y2="1"><stop offset="0.022" stop-color="#00baff"/><stop offset="0.978" stop-color="#00ceff"/></linearGradient>
<linearGradient id="s149" x2="0" y2="1"><stop offset="0.022" stop-color="#00b0ff"/><stop offset="0.978" stop-color="#00c4ff"/></linearGradient>
<linearGradient id="s150" x2="0" y2="1"><stop offset="0.022" stop-color="#00a7ff"/><stop offset="0.978" stop-color="#00baff"/></linearGradient>
<linearGradient id="s151" x2="0" y2="1"><stop offset="0.022" stop-color="#009eff"/><stop offset="0.978" stop-color="#00b0ff"/></linearGradient>
<linearGradient id="s152" x2="0" y2="1"><stop offset="0.022" stop-color="#0095ff"/><stop offset="0.978" stop-color="#00a7ff"/></linearGradient>
<linearGradient id="s153" x2="0" y2="1"><stop offset="0.022" stop-color="#008dff"/><stop offset="0.978" stop-color="#009eff"/></linearGradient>
<linearGradient id="s154" x2="0" y2="1"><stop offset="0.022" stop-color="#0085ff"/><stop offset="0.978" stop-color="#0095ff"/></linearGradient>
<linearGradient id="cbB4" x1="0" y1="0" x2="0" y2="1"><stop offset="0.000" stop-color="#5c0000"/><stop offset="0.213" stop-color="#ff0000"/><stop offset="0.344" stop-color="#ff0000"/><stop offset="0.505" stop-color="#ffff00"/><stop offset="0.674" stop-color="#00ff00"/><stop offset="0.740" stop-color="#00ffff"/><stop offset="0.800" stop-color="#0082ff"/><stop offset="0.858" stop-color="#0000ff"/><stop offset="0.904" stop-color="#7d00f5"/><stop offset="0.950" stop-color="#7d0096"/><stop offset="1.000" stop-color="#6b006b"/></linearGradient>
</defs>
<clipPath id="cl1"><rect x="105.4" y="17.3" width="512.9" height="187.4"/></clipPath>
<g clip-path="url(#cl1)">
<polyline points="105.4,203.2 112.2,203.1 119.1,203.2 125.9,203.2 132.8,203.2 139.6,203.2 146.4,203.1 153.3,202.7 160.1,203.1 166.9,203.1 173.8,202.9 180.6,202.8 187.5,202.8 189.5,203 191.6,202.7 193.6,202.4 195.7,202.8 197.7,202.3 199.8,201.8 201.8,199.7 203.9,196.9 205.9,190.9 208,183.9 210,173.5 212.1,164.1 214.1,154.2 216.2,143.7 218.2,130.9 220.3,120 222.3,110.7 224.4,103 226.4,94.3 228.5,86.5 230.5,78.6 232.6,70.3 234.7,65.2 236.7,59 238.8,53.4 240.8,50 242.9,45.7 244.9,42.1 247,39.6 249,38.4 251.1,36 253.1,34.3 255.2,35.7 257.2,33.9 259.3,34.2 261.3,34.8 263.4,33.5 265.4,34.8 267.5,36.7 269.5,36.8 271.6,37.6 273.6,39.2 275.7,40 277.7,42 279.8,43.2 281.8,44.6 283.9,48 285.9,49.7 288,52.4 290,54.5 292.1,57.8 294.1,60 296.2,62.3 298.3,64.2 300.3,66.7 302.4,70.7 304.4,73 306.5,74.8 308.5,78.9 310.6,80.7 312.6,83 314.7,84.8 316.7,87.6 318.8,90.6 320.8,93.2 322.9,95.7 324.9,97.5 327,101.5 329,104.7 331.1,107.8 333.1,111.7 335.2,115.3 337.2,119.3 339.3,121.9 341.3,124.9 343.4,126.7 345.4,129.3 347.5,131.9 349.5,133.8 351.6,136.6 353.6,138.4 355.7,141.3 357.7,143.5 359.8,146.7 361.8,148.2 363.9,151.2 366,153.3 368,154.5 370.1,156.6 372.1,157.9 374.2,158.8 376.2,161.8 378.3,163.4 380.3,164.6 382.4,166.1 384.4,168 386.5,169.6 388.5,170.8 390.6,172.4 392.6,174.4 394.7,175.4 396.7,176.8 398.8,178.5 400.8,179.2 402.9,180.8 404.9,181.2 407,182.5 409,183.5 411.1,184.7 413.1,185.4 415.2,187 417.2,187.6 419.3,188 421.3,189.6 423.4,189.4 425.4,190.9 427.5,190.8 429.6,192 431.6,192 433.7,192.8 435.7,193.9 437.8,193.5 439.8,193.9 441.9,194.7 443.9,195.1 446,195.4 448,196 450.1,195.7 452.1,196.4 454.2,196.5 456.2,197 458.3,197.2 460.3,197.6 462.4,197.1 464.4,197.7 466.5,197.5 468.5,198 470.6,198.4 472.6,198.4 474.7,198.6 476.7,198.6 478.8,198.9 480.8,199 482.9,199.4 484.9,199.4 487,198.8 489,199.6 491.1,199.8 493.2,199.6 495.2,199.4 497.3,200.3 498.6,200 502.9,200.4 507.2,200.9 511.4,200.5 515.7,200.9 520,201.1 524.3,201.5 528.5,201.3 532.8,201.6 537.1,201.6 541.4,202 545.6,202.1 549.9,201.5 554.2,202 558.5,201.9 562.7,202.1 567,202.2 571.3,202.3 575.6,202.1 579.8,202.4 584.1,202.4 588.4,202.4 592.7,202.2 596.9,202.3 601.2,202.4 605.5,202.7 609.8,202.9 614,202.4 618.3,202.4" stroke="#7a148c" stroke-width="3.5" fill="none" stroke-linejoin="round"/>
<polyline points="105.4,203.2 112.2,203.1 119.1,203 125.9,203 132.8,202.9 139.6,203.2 146.4,202.7 153.3,203.2 160.1,202.8 166.9,202.9 173.8,202.8 180.6,202.5 187.5,202.5 189.5,203.1 191.6,203.2 193.6,202.5 195.7,202.8 197.7,202.3 199.8,201.8 201.8,201 203.9,199 205.9,194.3 208,188.1 210,179.6 212.1,169.8 214.1,160.7 216.2,150.4 218.2,138 220.3,126.8 222.3,117.3 224.4,107.3 226.4,99.4 228.5,91.1 230.5,83.8 232.6,76 234.7,69.4 236.7,63.1 238.8,56.9 240.8,52.7 242.9,47.7 244.9,43.9 247,39.9 249,39.9 251.1,36.6 253.1,36.1 255.2,35.6 257.2,36.2 259.3,35.4 261.3,34.8 263.4,35.7 265.4,36.1 267.5,36.9 269.5,36.9 271.6,38.8 273.6,41.3 275.7,41.7 277.7,44 279.8,46.4 281.8,46.6 283.9,47.5 285.9,50.6 288,53.6 290,55.9 292.1,57.1 294.1,60.2 296.2,62.9 298.3,65.5 300.3,68 302.4,70.1 304.4,72.9 306.5,75.7 308.5,79 310.6,80.7 312.6,84 314.7,85.5 316.7,89.3 318.8,91.1 320.8,93.5 322.9,96.8 324.9,97.9 327,101 329,105.3 331.1,108.1 333.1,111.9 335.2,117 337.2,119 339.3,122.3 341.3,125.1 343.4,128.2 345.4,130.1 347.5,132.4 349.5,133.9 351.6,136.7 353.6,139.2 355.7,140.9 357.7,144.3 359.8,146.6 361.8,149.4 363.9,150 366,152.2 368,154.2 370.1,156.1 372.1,158.2 374.2,159.9 376.2,161.8 378.3,163.4 380.3,164.9 382.4,165.9 384.4,167.9 386.5,169.7 388.5,171.5 390.6,173 392.6,173.5 394.7,175.4 396.7,176.9 398.8,178.4 400.8,179.9 402.9,180.6 404.9,181.3 407,182.8 409,183.7 411.1,184.6 413.1,185.5 415.2,187 417.2,187.4 419.3,188.4 421.3,188.7 423.4,190 425.4,190.2 427.5,190.6 429.6,191.9 431.6,192.5 433.7,192.8 435.7,193.4 437.8,194.2 439.8,194.2 441.9,194.1 443.9,195.2 446,195.5 448,196 450.1,195.9 452.1,196.7 454.2,196.9 456.2,196.4 458.3,197.3 460.3,196.9 462.4,197 464.4,197.6 466.5,197.7 468.5,197.5 470.6,198.2 472.6,198.5 474.7,198.9 476.7,198.6 478.8,198.4 480.8,198.7 482.9,199.3 484.9,199.4 487,199.5 489,199.4 491.1,199.6 493.2,199.6 495.2,199.7 497.3,200 498.6,200 502.9,200.2 507.2,200.5 511.4,200.6 515.7,200.4 520,201 524.3,201.3 528.5,201.8 532.8,201.4 537.1,202.1 541.4,202 545.6,201.6 549.9,201.7 554.2,202 558.5,202.4 562.7,202.2 567,202.3 571.3,202 575.6,201.7 579.8,202.3 584.1,202.6 588.4,202.7 592.7,202.5 596.9,202.5 601.2,202.8 605.5,202.6 609.8,202.9 614,202.4 618.3,202.4" stroke="#1414dc" stroke-width="3.5" fill="none" stroke-linejoin="round"/>
<polyline points="105.4,203 112.2,203.2 119.1,203 125.9,203.2 132.8,203.2 139.6,203.2 146.4,203.2 153.3,203.2 160.1,202.9 166.9,203.1 173.8,202.9 180.6,202.7 187.5,203.2 189.5,203.1 191.6,202.8 193.6,202.7 195.7,202.7 197.7,202.3 199.8,202.2 201.8,201.9 203.9,200.1 205.9,197.1 208,192.3 210,186.4 212.1,176 214.1,167.1 216.2,157.4 218.2,147.4 220.3,135.9 222.3,125.8 224.4,115 226.4,108.2 228.5,99.4 230.5,92.9 232.6,84.9 234.7,78.6 236.7,71.3 238.8,64.6 240.8,60.8 242.9,55 244.9,51.4 247,49 249,46.4 251.1,44.4 253.1,42.9 255.2,42.7 257.2,42.6 259.3,42.1 261.3,42.6 263.4,43.2 265.4,42.9 267.5,42.9 269.5,45.3 271.6,45.4 273.6,46.9 275.7,48.3 277.7,48.7 279.8,51.1 281.8,51.7 283.9,55.1 285.9,56.5 288,59.1 290,61.7 292.1,63.3 294.1,66.2 296.2,68.2 298.3,71 300.3,74.1 302.4,76 304.4,78.4 306.5,80.4 308.5,83.9 310.6,85.9 312.6,89.4 314.7,90.5 316.7,93.8 318.8,96.5 320.8,98 322.9,99.8 324.9,103.8 327,106.4 329,109.4 331.1,112.9 333.1,115.6 335.2,119.6 337.2,122.8 339.3,125.3 341.3,128.6 343.4,130.5 345.4,133.4 347.5,135.7 349.5,138.1 351.6,138.6 353.6,141.9 355.7,144 357.7,146.4 359.8,148.6 361.8,150.8 363.9,151.9 366,155.1 368,157.2 370.1,158.7 372.1,160.6 374.2,161.4 376.2,163 378.3,165.3 380.3,167 382.4,168.1 384.4,169 386.5,172.2 388.5,172.3 390.6,174.4 392.6,174.9 394.7,177.1 396.7,178.1 398.8,179.8 400.8,180.8 402.9,181 404.9,182.2 407,183.6 409,184.7 411.1,186 413.1,186.3 415.2,187.1 417.2,188 419.3,188.8 421.3,189.9 423.4,190.3 425.4,191 427.5,191.2 429.6,191.6 431.6,192.8 433.7,193.6 435.7,193.8 437.8,194.5 439.8,194.9 441.9,195.1 443.9,195.7 446,195.5 448,196.1 450.1,196.2 452.1,196.6 454.2,197 456.2,197.3 458.3,197.3 460.3,197.6 462.4,197.6 464.4,197.9 466.5,198.4 468.5,198.2 470.6,198.8 472.6,198.7 474.7,198.8 476.7,199.4 478.8,198.9 480.8,199.1 482.9,199.3 484.9,199.5 487,199.6 489,199.9 491.1,199.8 493.2,200 495.2,199.9 497.3,200.4 498.6,200.1 502.9,200.3 507.2,200.6 511.4,200.9 515.7,200.9 520,201.6 524.3,201.2 528.5,201.4 532.8,201.5 537.1,201.6 541.4,201.9 545.6,201.9 549.9,201.7 554.2,201.9 558.5,202 562.7,202.5 567,202 571.3,202 575.6,202 579.8,202.3 584.1,202.8 588.4,202.2 592.7,202.5 596.9,203.1 601.2,202.5 605.5,203 609.8,202.9 614,202.8 618.3,202.4" stroke="#1ee6b4" stroke-width="3.5" fill="none" stroke-linejoin="round"/>
<polyline points="105.4,203.2 112.2,203.1 119.1,202.8 125.9,202.8 132.8,203.2 139.6,203.2 146.4,203.2 153.3,203.2 160.1,203 166.9,202.9 173.8,203 180.6,202.8 187.5,203.1 189.5,202.9 191.6,202.7 193.6,202.7 195.7,202.5 197.7,202.5 199.8,202.5 201.8,202.1 203.9,201.4 205.9,199.7 208,195.8 210,190.6 212.1,183.2 214.1,175 216.2,166 218.2,156.8 220.3,146.3 222.3,136.4 224.4,126.3 226.4,117.5 228.5,110.3 230.5,103.5 232.6,95.9 234.7,88.1 236.7,83.1 238.8,75.6 240.8,69.8 242.9,65.2 244.9,60.5 247,57.3 249,55.4 251.1,53.4 253.1,51.8 255.2,52 257.2,51.4 259.3,50.6 261.3,50.1 263.4,51.7 265.4,52.1 267.5,52.5 269.5,52.6 271.6,54.5 273.6,54.6 275.7,57.3 277.7,58.2 279.8,59.7 281.8,60.8 283.9,62.5 285.9,66.1 288,67.8 290,69.2 292.1,72 294.1,74.8 296.2,75.7 298.3,78.3 300.3,80.6 302.4,83.5 304.4,85 306.5,88.1 308.5,89.7 310.6,93.2 312.6,95.5 314.7,97.2 316.7,99.9 318.8,101.4 320.8,103.9 322.9,106.8 324.9,108.8 327,111.6 329,113.9 331.1,117.9 333.1,121 335.2,123.4 337.2,126 339.3,129 341.3,132.5 343.4,134.8 345.4,136.3 347.5,139.1 349.5,141.5 351.6,143.1 353.6,145.1 355.7,147.9 357.7,150.4 359.8,152.4 361.8,153.5 363.9,156 366,157.5 368,159.1 370.1,160.6 372.1,162.7 374.2,163.9 376.2,166 378.3,167.3 380.3,169 382.4,169.6 384.4,171.5 386.5,173.2 388.5,174.4 390.6,175.7 392.6,176.7 394.7,178.8 396.7,179.8 398.8,180.7 400.8,180.8 402.9,182.4 404.9,183.7 407,184.4 409,184.8 411.1,186.4 413.1,187.3 415.2,187.6 417.2,188.7 419.3,189.4 421.3,190.5 423.4,190.4 425.4,191.1 427.5,192.1 429.6,192.6 431.6,194 433.7,193.7 435.7,194.4 437.8,194.7 439.8,195 441.9,195.6 443.9,196.4 446,196 448,196.7 450.1,196.8 452.1,197.1 454.2,197.3 456.2,198.1 458.3,197.3 460.3,197.7 462.4,197.7 464.4,197.6 466.5,198.3 468.5,199 470.6,198.9 472.6,199.1 474.7,199.1 476.7,199.1 478.8,199.8 480.8,199.2 482.9,199.9 484.9,199.5 487,199.7 489,199.9 491.1,199.9 493.2,200.2 495.2,200.3 497.3,200.7 498.6,200.3 502.9,200 507.2,200.2 511.4,200.6 515.7,201 520,201.5 524.3,201.1 528.5,201.6 532.8,201.7 537.1,201.8 541.4,201.8 545.6,202 549.9,202 554.2,202.3 558.5,202.2 562.7,201.6 567,202.2 571.3,202.3 575.6,202.2 579.8,202.2 584.1,202.7 588.4,202.5 592.7,202.3 596.9,202.5 601.2,202.6 605.5,202.3 609.8,202.8 614,202.7 618.3,202.8" stroke="#a0f01e" stroke-width="3.5" fill="none" stroke-linejoin="round"/>
<polyline points="105.4,200.8 112.2,201.6 119.1,201.3 125.9,201.2 132.8,201 139.6,201 146.4,200.8 153.3,201.4 160.1,200.9 166.9,201.1 173.8,201.1 180.6,200.8 187.5,201.1 189.5,201.4 191.6,201 193.6,201.2 195.7,201 197.7,200.6 199.8,200.5 201.8,200 203.9,200 205.9,199 208,196.7 210,192.8 212.1,187.4 214.1,178.9 216.2,171.2 218.2,163.7 220.3,153.3 222.3,143.6 224.4,133.9 226.4,125.9 228.5,118.4 230.5,111.8 232.6,104.3 234.7,97.5 236.7,90.2 238.8,84.1 240.8,79.6 242.9,74.2 244.9,70.2 247,66.3 249,64.7 251.1,60.9 253.1,60.4 255.2,60.5 257.2,60.5 259.3,59.5 261.3,59.4 263.4,60.1 265.4,60.1 267.5,61 269.5,61.1 271.6,62.8 273.6,63.3 275.7,63.9 277.7,64.2 279.8,67.7 281.8,69 283.9,70.9 285.9,71.9 288,74.9 290,76.6 292.1,78.4 294.1,81.1 296.2,83.3 298.3,85.2 300.3,88.2 302.4,90 304.4,91.6 306.5,93.5 308.5,95.9 310.6,99 312.6,100.4 314.7,101.9 316.7,104.1 318.8,106.5 320.8,109 322.9,110.4 324.9,113.4 327,116.1 329,118.7 331.1,120.5 333.1,124.2 335.2,126.7 337.2,130.4 339.3,132.4 341.3,135.5 343.4,137.5 345.4,138.2 347.5,140.9 349.5,143.4 351.6,145.2 353.6,147 355.7,148.7 357.7,151.4 359.8,154 361.8,155.2 363.9,156.8 366,158.5 368,159.6 370.1,161.6 372.1,162.9 374.2,165.1 376.2,165.7 378.3,166.7 380.3,168.5 382.4,170.1 384.4,171.5 386.5,172.2 388.5,174.5 390.6,175.5 392.6,176.5 394.7,177.6 396.7,179.1 398.8,180 400.8,181.2 402.9,182 404.9,183 407,184.2 409,184.6 411.1,185.1 413.1,186.5 415.2,187.1 417.2,187.5 419.3,188.8 421.3,189.1 423.4,190.1 425.4,190 427.5,190.2 429.6,190.9 431.6,192.1 433.7,192.2 435.7,192.9 437.8,193.3 439.8,193.2 441.9,194.4 443.9,194 446,194.6 448,194.4 450.1,195.1 452.1,195.5 454.2,195.5 456.2,195.6 458.3,196 460.3,196 462.4,196.5 464.4,197.1 466.5,196.4 468.5,196.6 470.6,196.9 472.6,197.1 474.7,196.9 476.7,197.5 478.8,197.6 480.8,197.6 482.9,197.4 484.9,198.2 487,197.6 489,198.2 491.1,198.4 493.2,197.9 495.2,198.3 497.3,198.8 498.6,198.6 502.9,198.4 507.2,198.6 511.4,199.2 515.7,199.1 520,199.2 524.3,199.7 528.5,199.6 532.8,199.8 537.1,200 541.4,200 545.6,199.9 549.9,200 554.2,200.2 558.5,200.3 562.7,199.9 567,200.2 571.3,200.1 575.6,200.1 579.8,200.3 584.1,199.9 588.4,200.7 592.7,200.4 596.9,200.7 601.2,200.2 605.5,200.2 609.8,201.1 614,200.9 618.3,200.6" stroke="#f0961e" stroke-width="3.5" fill="none" stroke-linejoin="round"/>
<polyline points="105.4,202.3 112.2,202.4 119.1,202.5 125.9,202.4 132.8,202.3 139.6,202.5 146.4,202.2 153.3,202.9 160.1,202.3 166.9,202.6 173.8,202.2 180.6,202.4 187.5,202.5 189.5,202.2 191.6,202.5 193.6,202.5 195.7,202.6 197.7,202.2 199.8,201.9 201.8,201.7 203.9,201.6 205.9,200.3 208,199 210,196.1 212.1,191.5 214.1,185.2 216.2,178.9 218.2,172.3 220.3,164.8 222.3,156.5 224.4,149 226.4,141.3 228.5,135.9 230.5,129.8 232.6,124.9 234.7,118.2 236.7,112.1 238.8,107.3 240.8,101.4 242.9,98.3 244.9,94.1 247,91.5 249,90.2 251.1,88.4 253.1,86.7 255.2,86.4 257.2,86.1 259.3,86.2 261.3,87.1 263.4,86.4 265.4,87.9 267.5,86.9 269.5,88.1 271.6,88.9 273.6,89.4 275.7,90.1 277.7,92 279.8,93.4 281.8,94.3 283.9,96.3 285.9,97.2 288,97.4 290,100.5 292.1,101.3 294.1,104.2 296.2,105.1 298.3,107.2 300.3,108.8 302.4,110.3 304.4,111.4 306.5,114.1 308.5,115.9 310.6,118.3 312.6,119.3 314.7,121.5 316.7,122.6 318.8,124.8 320.8,125.6 322.9,129.2 324.9,130.3 327,131.8 329,134.6 331.1,137.2 333.1,139.5 335.2,142.5 337.2,144.2 339.3,145.3 341.3,147.9 343.4,150.6 345.4,152.2 347.5,153.5 349.5,154.5 351.6,156.8 353.6,158.4 355.7,159.5 357.7,161.1 359.8,163.3 361.8,165.1 363.9,166.7 366,167.8 368,169.7 370.1,169.8 372.1,171.6 374.2,172.4 376.2,173 378.3,174.4 380.3,176.4 382.4,176.8 384.4,177.8 386.5,179.6 388.5,180.7 390.6,181.4 392.6,182.9 394.7,182.8 396.7,185.1 398.8,185.6 400.8,186.1 402.9,186.9 404.9,187.5 407,188.2 409,189 411.1,189.2 413.1,190.9 415.2,190.9 417.2,191.7 419.3,192 421.3,192.6 423.4,193.5 425.4,193.9 427.5,193.9 429.6,194.5 431.6,195.2 433.7,194.8 435.7,195.1 437.8,196.5 439.8,196.3 441.9,195.9 443.9,196.7 446,197.1 448,197.4 450.1,197.7 452.1,197.8 454.2,198.1 456.2,197.9 458.3,198.4 460.3,198.5 462.4,198.9 464.4,198.7 466.5,199 468.5,199 470.6,198.8 472.6,199.1 474.7,199.1 476.7,199.3 478.8,199.5 480.8,199.6 482.9,199.7 484.9,199.5 487,200.1 489,199.6 491.1,200 493.2,200.3 495.2,200.3 497.3,200.4 498.6,200.3 502.9,200.7 507.2,200.4 511.4,201 515.7,201.5 520,201.3 524.3,201.7 528.5,201.3 532.8,201.1 537.1,201.3 541.4,201.8 545.6,201.7 549.9,201.2 554.2,201.6 558.5,201.7 562.7,201.5 567,201.2 571.3,201.5 575.6,201.8 579.8,201.8 584.1,201.8 588.4,202.1 592.7,202.3 596.9,202 601.2,202.3 605.5,202.1 609.8,202.1 614,201.6 618.3,202.3" stroke="#f01414" stroke-width="3.5" fill="none" stroke-linejoin="round"/>
<polyline points="105.4,203.2 112.2,203.2 119.1,203.1 125.9,202.9 132.8,203.2 139.6,203.2 146.4,203.2 153.3,203.2 160.1,203 166.9,203.1 173.8,203.2 180.6,203.2 187.5,203 189.5,202.9 191.6,203.2 193.6,203.1 195.7,203.2 197.7,203.2 199.8,202.5 201.8,203.2 203.9,202.6 205.9,201.6 208,200.6 210,198.4 212.1,194.7 214.1,189.9 216.2,184.7 218.2,180.2 220.3,173.7 222.3,167.6 224.4,161.2 226.4,155.6 228.5,150.6 230.5,146.1 232.6,142.3 234.7,136.9 236.7,132 238.8,127.9 240.8,124.2 242.9,121.8 244.9,119.2 247,116.3 249,115.7 251.1,113.6 253.1,113 255.2,112.5 257.2,113 259.3,112.5 261.3,112.1 263.4,111.8 265.4,112 267.5,112.9 269.5,113.5 271.6,114.4 273.6,114.4 275.7,115.4 277.7,115.8 279.8,116.1 281.8,118 283.9,119.9 285.9,120.8 288,122.4 290,123.5 292.1,123.6 294.1,125.5 296.2,127.8 298.3,128.1 300.3,129.2 302.4,131.4 304.4,133 306.5,134.2 308.5,135.3 310.6,136.6 312.6,137.7 314.7,139.1 316.7,140.4 318.8,141.7 320.8,143.4 322.9,145.8 324.9,146.6 327,148 329,150.1 331.1,151.4 333.1,153.9 335.2,156.1 337.2,156.9 339.3,159 341.3,160.7 343.4,161.8 345.4,163 347.5,164.6 349.5,166.9 351.6,167.4 353.6,168.7 355.7,170.2 357.7,171 359.8,171.9 361.8,173.7 363.9,175.1 366,175 368,177 370.1,178.3 372.1,178.7 374.2,179.6 376.2,180.9 378.3,181.3 380.3,182.6 382.4,183.6 384.4,184.1 386.5,184.7 388.5,186.1 390.6,186.5 392.6,187.5 394.7,187.2 396.7,189.2 398.8,189.2 400.8,190.3 402.9,191 404.9,191.3 407,191.8 409,192.2 411.1,193 413.1,193.8 415.2,194.3 417.2,194.4 419.3,194.9 421.3,195 423.4,195.8 425.4,196 427.5,196.2 429.6,196.9 431.6,197.7 433.7,197.9 435.7,198.3 437.8,197.7 439.8,198.6 441.9,198.3 443.9,198.6 446,198.5 448,198.9 450.1,199.3 452.1,199.5 454.2,199.6 456.2,199.7 458.3,200 460.3,200 462.4,199.6 464.4,200.6 466.5,200.2 468.5,200.6 470.6,200.4 472.6,200.3 474.7,200.7 476.7,200.5 478.8,201.2 480.8,200.6 482.9,201.1 484.9,200.9 487,201 489,201.8 491.1,201.4 493.2,201.2 495.2,201 497.3,201.3 498.6,201.4 502.9,202 507.2,201.4 511.4,201.4 515.7,202 520,202.1 524.3,202.6 528.5,202 532.8,201.6 537.1,202.2 541.4,202.1 545.6,202.3 549.9,202.7 554.2,202.2 558.5,202.8 562.7,202.6 567,202.6 571.3,202.4 575.6,202.6 579.8,202.6 584.1,202.9 588.4,203.1 592.7,202.8 596.9,203 601.2,203.1 605.5,203.2 609.8,203 614,203.2 618.3,203.2" stroke="#c81414" stroke-width="3.5" fill="none" stroke-linejoin="round"/>
<polyline points="105.4,203.2 112.2,203.2 119.1,203.1 125.9,202.8 132.8,203.2 139.6,203.2 146.4,203 153.3,203.2 160.1,203.2 166.9,202.8 173.8,203.2 180.6,203.2 187.5,203.2 189.5,203 191.6,203 193.6,203.2 195.7,203.2 197.7,202.9 199.8,202.9 201.8,203.1 203.9,202.6 205.9,202.2 208,202.1 210,200.4 212.1,198.2 214.1,195.7 216.2,193.2 218.2,189.7 220.3,186 222.3,182 224.4,179.8 226.4,174.9 228.5,173.6 230.5,170.2 232.6,167.6 234.7,165 236.7,162.6 238.8,160.8 240.8,158 242.9,156.8 244.9,156 247,152.3 249,152.3 251.1,151 253.1,151.7 255.2,150.4 257.2,150.2 259.3,150.2 261.3,150.9 263.4,151.5 265.4,151.2 267.5,152.3 269.5,152.4 271.6,151.9 273.6,152.8 275.7,152.8 277.7,153.3 279.8,152.9 281.8,153.7 283.9,155 285.9,155.1 288,156.7 290,157.3 292.1,157.5 294.1,159.2 296.2,159.6 298.3,160.8 300.3,161 302.4,161.2 304.4,163 306.5,163.4 308.5,164.7 310.6,165.6 312.6,166.4 314.7,166.1 316.7,166.5 318.8,168.1 320.8,169.3 322.9,169.6 324.9,170.8 327,171.3 329,172.5 331.1,173.6 333.1,174.6 335.2,176.1 337.2,177.2 339.3,178.6 341.3,179 343.4,180.2 345.4,180.5 347.5,181.5 349.5,181.8 351.6,182.4 353.6,183.8 355.7,184.3 357.7,185.1 359.8,185.2 361.8,185.6 363.9,186.5 366,187.6 368,187.6 370.1,189.1 372.1,188.7 374.2,189.9 376.2,191.2 378.3,189.9 380.3,190.8 382.4,192.1 384.4,192.2 386.5,192.8 388.5,193.2 390.6,194.2 392.6,194.4 394.7,194.4 396.7,194.9 398.8,195.1 400.8,195.8 402.9,195.5 404.9,196.7 407,196.7 409,197.7 411.1,197.8 413.1,197.3 415.2,198.2 417.2,198.1 419.3,198.5 421.3,199.1 423.4,199.1 425.4,199.4 427.5,199.6 429.6,199.4 431.6,199.6 433.7,200.1 435.7,200.4 437.8,200.2 439.8,200.5 441.9,200.3 443.9,200 446,200.6 448,200.9 450.1,201 452.1,201.3 454.2,201.4 456.2,201.5 458.3,201.4 460.3,201.5 462.4,201.2 464.4,201.6 466.5,201.6 468.5,201.9 470.6,201.2 472.6,201.6 474.7,201.3 476.7,201.6 478.8,201.5 480.8,201.9 482.9,201.7 484.9,201.3 487,202.3 489,201.7 491.1,201.6 493.2,202 495.2,202 497.3,201.9 498.6,202.4 502.9,202.2 507.2,202.6 511.4,202.6 515.7,202.6 520,202.6 524.3,202.6 528.5,202.5 532.8,203 537.1,202.2 541.4,202.5 545.6,202.6 549.9,202.9 554.2,202.8 558.5,202.7 562.7,202.7 567,203.2 571.3,202.7 575.6,202.2 579.8,203.2 584.1,202.7 588.4,202.9 592.7,203 596.9,202.7 601.2,203.2 605.5,203 609.8,202.7 614,203.1 618.3,203.1" stroke="#5a0a0a" stroke-width="3.5" fill="none" stroke-linejoin="round"/>
</g>
<rect x="105.4" y="17.3" width="512.9" height="185.9" fill="none" stroke="#000" stroke-width="1.7"/>
<path d="M233.6 203.2v-7M233.6 17.3v7M361.9 203.2v-7M361.9 17.3v7M490.1 203.2v-7M490.1 17.3v7M169.5 203.2v-4M169.5 17.3v4M297.7 203.2v-4M297.7 17.3v4M426 203.2v-4M426 17.3v4M554.2 203.2v-4M554.2 17.3v4M105.4 169.4h7M618.3 169.4h-7M105.4 135.6h7M618.3 135.6h-7M105.4 101.9h7M618.3 101.9h-7M105.4 68.1h7M618.3 68.1h-7M105.4 34.3h7M618.3 34.3h-7M105.4 186.3h4M618.3 186.3h-4M105.4 152.5h4M618.3 152.5h-4M105.4 118.8h4M618.3 118.8h-4M105.4 85h4M618.3 85h-4M105.4 51.2h4M618.3 51.2h-4" stroke="#000" stroke-width="1.5" fill="none"/>
<text x="105.4" y="226.5" font-size="20" text-anchor="middle" fill="#000" stroke="#000">450</text>
<text x="234.2" y="226.5" font-size="20" text-anchor="middle" fill="#000" stroke="#000">525</text>
<text x="363.1" y="226.5" font-size="20" text-anchor="middle" fill="#000" stroke="#000">600</text>
<text x="491.9" y="226.5" font-size="20" text-anchor="middle" fill="#000" stroke="#000">675</text>
<text x="620.8" y="226.5" font-size="20" text-anchor="middle" fill="#000" stroke="#000">750</text>
<text x="97.9" y="209.9" font-size="20" text-anchor="end" fill="#000" stroke="#000">0.0</text>
<text x="97.9" y="176.4" font-size="20" text-anchor="end" fill="#000" stroke="#000">0.2</text>
<text x="97.9" y="142.6" font-size="20" text-anchor="end" fill="#000" stroke="#000">0.4</text>
<text x="97.9" y="108.9" font-size="20" text-anchor="end" fill="#000" stroke="#000">0.6</text>
<text x="97.9" y="75.1" font-size="20" text-anchor="end" fill="#000" stroke="#000">0.8</text>
<text x="97.9" y="41.3" font-size="20" text-anchor="end" fill="#000" stroke="#000">1.0</text>
<text x="20.3" y="113.8" font-size="26.5" text-anchor="middle" fill="#000" stroke="#000" transform="rotate(-90 20.3 113.8)">Normalised</text>
<text x="54.6" y="110.8" font-size="26.5" text-anchor="middle" fill="#000" stroke="#000" transform="rotate(-90 54.6 110.8)">PL intensity (a.u)</text>
<text x="155" y="83.7" font-size="52" text-anchor="middle" fill="#000" stroke="#000">1</text>
<clipPath id="cl2"><rect x="739.9" y="19" width="515.5" height="186.8"/></clipPath>
<g clip-path="url(#cl2)">
<polyline points="739.9,203.6 746.8,203.7 753.6,203.3 760.5,203.8 767.4,203.4 774.3,203.9 781.1,203.5 788,203.7 794.9,204.3 801.8,203.6 808.6,203.9 815.5,203.7 822.4,203.1 824.4,203.7 826.5,203.7 828.6,203 830.6,203.1 832.7,202.5 834.8,202.5 836.8,202.3 838.9,200.6 840.9,197.7 843,192.5 845.1,184.4 847.1,174.6 849.2,160.6 851.2,153.3 853.3,146.2 855.4,140.1 857.4,133.5 859.5,125.4 861.6,116.1 863.6,106.8 865.7,97.8 867.7,88.9 869.8,79.4 871.9,71.9 873.9,64.3 876,56.3 878.1,52 880.1,47.5 882.2,43.6 884.2,41.5 886.3,39.9 888.4,36.8 890.4,36.6 892.5,36.8 894.5,35.7 896.6,35.7 898.7,36.6 900.7,36.4 902.8,37.1 904.9,39 906.9,38.9 909,40.6 911,42.5 913.1,45.1 915.2,46 917.2,47.6 919.3,49.4 921.4,52 923.4,52.8 925.5,56 927.5,57.3 929.6,58.5 931.7,61.8 933.7,63.9 935.8,65.1 937.9,68.2 939.9,70.3 942,72.2 944,73.9 946.1,78.1 948.2,79.5 950.2,81.9 952.3,84.3 954.3,86.5 956.4,88.9 958.5,90.6 960.5,93.7 962.6,95.7 964.7,98.1 966.7,101.4 968.8,103.7 970.8,105.9 972.9,109.7 975,113.3 977,115.9 979.1,119.1 981.2,120.9 983.2,122.8 985.3,125.8 987.3,127.5 989.4,128.7 991.5,131.4 993.5,133 995.6,135.5 997.6,137.4 999.7,139.3 1001.8,140.1 1003.8,143.4 1005.9,145.6 1008,147.6 1010,149.4 1012.1,150.8 1014.1,152.7 1016.2,153.6 1018.3,156.1 1020.3,157.2 1022.4,159.3 1024.5,160.7 1026.5,163 1028.6,163.9 1030.6,165.2 1032.7,166.6 1034.8,168.5 1036.8,168.4 1038.9,170 1041,171 1043,171.8 1045.1,172.7 1047.1,173.3 1049.2,174.8 1051.3,175.4 1053.3,175.7 1055.4,176.5 1057.4,177.4 1059.5,178.2 1061.6,179 1063.6,179.4 1065.7,179.7 1067.8,181.2 1069.8,180.9 1071.9,181.8 1073.9,182.9 1076,183.1 1078.1,184.5 1080.1,185.2 1082.2,185.6 1084.3,185.8 1086.3,186.3 1088.4,186.9 1090.4,187.2 1092.5,188.4 1094.6,188 1096.6,189.1 1098.7,189.3 1100.7,189.7 1102.8,190.4 1104.9,190.9 1106.9,191.2 1109,191.3 1111.1,191.5 1113.1,191.9 1115.2,192.8 1117.2,193.1 1119.3,193.5 1121.4,193.4 1123.4,194.4 1125.5,193.7 1127.6,194.5 1129.6,194.8 1131.7,194.7 1133.7,194.7 1135.1,195.1 1139.4,195.4 1143.7,196.1 1148,196.1 1152.3,196.5 1156.6,197.2 1160.9,197 1165.2,197.6 1169.5,197.7 1173.8,198.2 1178.1,198.2 1182.4,198 1186.7,198.8 1191,198.4 1195.3,198.6 1199.6,198.8 1203.9,199.6 1208.1,199.1 1212.4,199 1216.7,199.6 1221,199.4 1225.3,200.2 1229.6,199.4 1233.9,199.9 1238.2,199.6 1242.5,200.4 1246.8,199.7 1251.1,200 1255.4,199.8" stroke="#7a148c" stroke-width="2.6" fill="none" stroke-linejoin="round"/>
<polyline points="739.9,203.9 746.8,203.8 753.6,203.1 760.5,203.8 767.4,203.8 774.3,203.7 781.1,203.9 788,203.4 794.9,203.2 801.8,203.8 808.6,204 815.5,203.3 822.4,203.3 824.4,203.3 826.5,203.2 828.6,203.7 830.6,203.4 832.7,203.6 834.8,203.3 836.8,202.4 838.9,202.3 840.9,200.1 843,198.2 845.1,193.3 847.1,184.7 849.2,174.8 851.2,161.6 853.3,155.1 855.4,148.6 857.4,141.4 859.5,135.3 861.6,128 863.6,118.7 865.7,110.1 867.7,101.5 869.8,92.1 871.9,83.2 873.9,74.1 876,66.5 878.1,59.1 880.1,54.5 882.2,52 884.2,47.6 886.3,45.1 888.4,43.4 890.4,41.6 892.5,42 894.5,41.9 896.6,40.5 898.7,41.8 900.7,42.8 902.8,41.4 904.9,43.1 906.9,43.9 909,46.2 911,47.9 913.1,49.6 915.2,50.8 917.2,52.1 919.3,55.5 921.4,55.5 923.4,58.5 925.5,60.3 927.5,61.2 929.6,63.7 931.7,66.6 933.7,66.7 935.8,70.4 937.9,71.9 939.9,74.1 942,75.5 944,78.7 946.1,80 948.2,83.2 950.2,84.4 952.3,87.7 954.3,89.7 956.4,90.8 958.5,94 960.5,96.5 962.6,97.8 964.7,101.3 966.7,104.5 968.8,106.4 970.8,110.3 972.9,112.1 975,115.1 977,118.8 979.1,121.5 981.2,123.4 983.2,125.7 985.3,128.2 987.3,129.4 989.4,132.5 991.5,133.6 993.5,135.4 995.6,137.2 997.6,138.9 999.7,141.6 1001.8,142.8 1003.8,145.2 1005.9,147.4 1008,149.7 1010,151.5 1012.1,152.5 1014.1,154.8 1016.2,156 1018.3,157.2 1020.3,158.7 1022.4,160.1 1024.5,162.3 1026.5,164.1 1028.6,164.6 1030.6,166.2 1032.7,167.1 1034.8,168.8 1036.8,169.4 1038.9,170.5 1041,171.5 1043,172.5 1045.1,173.4 1047.1,174.3 1049.2,175.1 1051.3,175.6 1053.3,176.9 1055.4,176.7 1057.4,178.1 1059.5,178.4 1061.6,179.5 1063.6,180.2 1065.7,180.1 1067.8,181.6 1069.8,182.6 1071.9,183 1073.9,183.5 1076,183.2 1078.1,184.5 1080.1,184.8 1082.2,186.1 1084.3,186.1 1086.3,186.5 1088.4,186.6 1090.4,188 1092.5,188 1094.6,188.6 1096.6,189.5 1098.7,189.6 1100.7,190.1 1102.8,191.2 1104.9,190.7 1106.9,191.1 1109,191.9 1111.1,192.5 1113.1,192 1115.2,192.8 1117.2,192.9 1119.3,193.1 1121.4,194 1123.4,193.9 1125.5,194.5 1127.6,194.6 1129.6,194.9 1131.7,195.1 1133.7,195 1135.1,195.4 1139.4,196 1143.7,196.4 1148,196.6 1152.3,197.3 1156.6,197.5 1160.9,197.6 1165.2,198 1169.5,198 1173.8,198.3 1178.1,197.7 1182.4,198.1 1186.7,198.5 1191,198.8 1195.3,198.3 1199.6,198.9 1203.9,199.2 1208.1,199.2 1212.4,199.3 1216.7,199.1 1221,199.6 1225.3,199.1 1229.6,200 1233.9,199.7 1238.2,200.2 1242.5,199.5 1246.8,200.1 1251.1,200.1 1255.4,199.9" stroke="#1414dc" stroke-width="2.6" fill="none" stroke-linejoin="round"/>
<polyline points="739.9,203.4 746.8,203.9 753.6,203.8 760.5,204 767.4,203.6 774.3,203.7 781.1,203.8 788,203.8 794.9,203.8 801.8,203.8 808.6,203.5 815.5,203.3 822.4,204 824.4,203.6 826.5,203.7 828.6,203.4 830.6,203.7 832.7,203.5 834.8,203.5 836.8,202.9 838.9,202.7 840.9,202.3 843,200.9 845.1,198.8 847.1,194.7 849.2,186.2 851.2,177.4 853.3,164.6 855.4,156.7 857.4,151.1 859.5,145.6 861.6,138.9 863.6,130.6 865.7,122.7 867.7,115.2 869.8,106.6 871.9,97.5 873.9,88.4 876,80.4 878.1,71.5 880.1,65.4 882.2,60.6 884.2,55.5 886.3,53.6 888.4,51.1 890.4,48.9 892.5,48 894.5,48.2 896.6,47.8 898.7,48.4 900.7,47.1 902.8,48.3 904.9,50 906.9,50.3 909,51.4 911,53.3 913.1,54.2 915.2,56.1 917.2,58.9 919.3,60.3 921.4,62.8 923.4,63.7 925.5,65.5 927.5,65.9 929.6,69.4 931.7,72.6 933.7,73.8 935.8,75.4 937.9,78.2 939.9,80.1 942,81.8 944,83.5 946.1,85.8 948.2,88.3 950.2,89.5 952.3,92.4 954.3,94.5 956.4,97.2 958.5,99.2 960.5,100.7 962.6,104.2 964.7,105.8 966.7,107.8 968.8,111 970.8,113.5 972.9,117.1 975,118.7 977,121.5 979.1,124.5 981.2,127.7 983.2,129.4 985.3,130.4 987.3,131.9 989.4,134.4 991.5,135.7 993.5,138.4 995.6,139.9 997.6,141.7 999.7,143.4 1001.8,146.3 1003.8,147.1 1005.9,148.9 1008,151.9 1010,153.7 1012.1,154.7 1014.1,156.7 1016.2,159 1018.3,159.2 1020.3,161 1022.4,162.7 1024.5,163.1 1026.5,165.3 1028.6,167 1030.6,167.9 1032.7,169.5 1034.8,170.5 1036.8,171.1 1038.9,172.4 1041,173.3 1043,173.4 1045.1,174.5 1047.1,175.3 1049.2,176.2 1051.3,176.9 1053.3,177.3 1055.4,178.5 1057.4,178.5 1059.5,180.2 1061.6,180.6 1063.6,181.7 1065.7,181.9 1067.8,182.2 1069.8,182.5 1071.9,183.9 1073.9,184.2 1076,185 1078.1,185.7 1080.1,186.4 1082.2,186.5 1084.3,187.6 1086.3,187.4 1088.4,187.9 1090.4,188.6 1092.5,189.2 1094.6,189.8 1096.6,189.1 1098.7,190.6 1100.7,190.1 1102.8,190.8 1104.9,191.6 1106.9,192.2 1109,191.9 1111.1,192.1 1113.1,193.3 1115.2,193.4 1117.2,193.3 1119.3,193.9 1121.4,193.6 1123.4,194.7 1125.5,194.6 1127.6,195.4 1129.6,194.6 1131.7,195.7 1133.7,196.4 1135.1,195.9 1139.4,196.3 1143.7,196.1 1148,197.1 1152.3,197.4 1156.6,197.5 1160.9,197.4 1165.2,198.1 1169.5,197.9 1173.8,198.2 1178.1,198.6 1182.4,198.7 1186.7,198.8 1191,199.2 1195.3,198.8 1199.6,199.6 1203.9,199 1208.1,199.2 1212.4,199.6 1216.7,199.9 1221,199.8 1225.3,199.7 1229.6,199.8 1233.9,200 1238.2,199.8 1242.5,200.3 1246.8,200.2 1251.1,200.7 1255.4,200.1" stroke="#1ee6b4" stroke-width="2.6" fill="none" stroke-linejoin="round"/>
<polyline points="739.9,203.7 746.8,203.8 753.6,203.5 760.5,203.6 767.4,204.3 774.3,203.7 781.1,204.1 788,203.5 794.9,203.2 801.8,203.9 808.6,203.7 815.5,203.8 822.4,203.6 824.4,203.5 826.5,203.3 828.6,203.8 830.6,203.1 832.7,203.6 834.8,203.1 836.8,202.6 838.9,202.3 840.9,201.5 843,199.4 845.1,195 847.1,188 849.2,179.5 851.2,168.9 853.3,162.1 855.4,157.1 857.4,151.4 859.5,145.6 861.6,138.7 863.6,132.1 865.7,124.3 867.7,116.6 869.8,108.4 871.9,102.6 873.9,93.7 876,88 878.1,82.3 880.1,78.6 882.2,75.8 884.2,72.3 886.3,70.6 888.4,68.2 890.4,68.2 892.5,66 894.5,66.3 896.6,66.4 898.7,66.8 900.7,67.1 902.8,67.8 904.9,68 906.9,68.5 909,70 911,72.2 913.1,73.1 915.2,74.9 917.2,75.7 919.3,76.2 921.4,78.5 923.4,80.6 925.5,83 927.5,84.5 929.6,86.3 931.7,86.7 933.7,89.3 935.8,90.7 937.9,92.8 939.9,94.3 942,95.3 944,98.3 946.1,99.9 948.2,102 950.2,103 952.3,105.9 954.3,107.9 956.4,110 958.5,112 960.5,113 962.6,114 964.7,117.9 966.7,119.1 968.8,121.7 970.8,124.9 972.9,127 975,129.5 977,132.1 979.1,133.1 981.2,136.9 983.2,137.7 985.3,139.4 987.3,141.5 989.4,142.7 991.5,143.9 993.5,145.8 995.6,147.3 997.6,148.8 999.7,151.7 1001.8,151.9 1003.8,153.2 1005.9,155.5 1008,157.2 1010,159.8 1012.1,160.7 1014.1,162.4 1016.2,163.7 1018.3,164.4 1020.3,166.5 1022.4,167.5 1024.5,169.5 1026.5,170 1028.6,171.1 1030.6,172.5 1032.7,173.6 1034.8,173.5 1036.8,175.6 1038.9,176.4 1041,177.1 1043,177.1 1045.1,177.5 1047.1,178.9 1049.2,180 1051.3,180.5 1053.3,180.6 1055.4,181.9 1057.4,181.6 1059.5,182.2 1061.6,183.3 1063.6,183.7 1065.7,184.2 1067.8,184.5 1069.8,185.9 1071.9,185.7 1073.9,186.8 1076,187.4 1078.1,187.6 1080.1,188.2 1082.2,188.9 1084.3,189.6 1086.3,189.8 1088.4,189.4 1090.4,189.6 1092.5,190.5 1094.6,190.7 1096.6,191.6 1098.7,191.9 1100.7,192.1 1102.8,193 1104.9,193.3 1106.9,193.3 1109,193.8 1111.1,194.3 1113.1,194.2 1115.2,194.7 1117.2,194.6 1119.3,195.2 1121.4,195.5 1123.4,195.6 1125.5,196 1127.6,196.3 1129.6,196.4 1131.7,196.3 1133.7,196.5 1135.1,196.5 1139.4,197.7 1143.7,197.7 1148,198 1152.3,198.1 1156.6,198.6 1160.9,198.8 1165.2,198.6 1169.5,198.9 1173.8,199.4 1178.1,198.8 1182.4,199.1 1186.7,199.6 1191,199.4 1195.3,199.9 1199.6,199.5 1203.9,200 1208.1,200.3 1212.4,200.2 1216.7,200.4 1221,200.3 1225.3,200.4 1229.6,200.5 1233.9,200.7 1238.2,201.6 1242.5,200.6 1246.8,201.2 1251.1,200.7 1255.4,200.5" stroke="#a0f01e" stroke-width="2.6" fill="none" stroke-linejoin="round"/>
<polyline points="739.9,201.7 746.8,201.9 753.6,201.8 760.5,201.8 767.4,201.9 774.3,201.9 781.1,202 788,201.5 794.9,201.8 801.8,201.6 808.6,201.8 815.5,201.7 822.4,201.7 824.4,201.6 826.5,201.5 828.6,201.6 830.6,201.6 832.7,201.5 834.8,200.6 836.8,200.8 838.9,199.7 840.9,197.5 843,193.8 845.1,188 847.1,181.3 849.2,170.3 851.2,165.7 853.3,161.4 855.4,156.8 857.4,152.2 859.5,146.7 861.6,139.8 863.6,133.1 865.7,126.7 867.7,120.7 869.8,114.3 871.9,107.8 873.9,103.1 876,97.1 878.1,93.3 880.1,89.5 882.2,88.3 884.2,87.3 886.3,86 888.4,86.3 890.4,83.9 892.5,83.3 894.5,82.4 896.6,82.4 898.7,82.6 900.7,83.4 902.8,83.9 904.9,84.4 906.9,86.7 909,87.5 911,89.2 913.1,88.9 915.2,90.4 917.2,92.2 919.3,94.8 921.4,95.8 923.4,97.8 925.5,99.4 927.5,101.4 929.6,102.8 931.7,105.1 933.7,106.2 935.8,108.2 937.9,110.1 939.9,111.7 942,113.5 944,114.4 946.1,116.6 948.2,117.9 950.2,119.8 952.3,121.9 954.3,122.2 956.4,124.7 958.5,125.3 960.5,126.8 962.6,129.2 964.7,130.2 966.7,131.2 968.8,132.6 970.8,134 972.9,134.3 975,136 977,137 979.1,138.6 981.2,139.6 983.2,141.3 985.3,142.3 987.3,143.3 989.4,144.9 991.5,146.4 993.5,148 995.6,148.8 997.6,150 999.7,151.6 1001.8,153.2 1003.8,154.1 1005.9,154.6 1008,157.1 1010,158.1 1012.1,159.2 1014.1,161.5 1016.2,161.4 1018.3,162.7 1020.3,162.7 1022.4,164.3 1024.5,165.4 1026.5,166 1028.6,166.7 1030.6,167.8 1032.7,168.4 1034.8,169.7 1036.8,170 1038.9,170.3 1041,170.6 1043,171.8 1045.1,172.7 1047.1,173.1 1049.2,173.8 1051.3,174.2 1053.3,175.1 1055.4,176.2 1057.4,176.7 1059.5,177.4 1061.6,178 1063.6,178.6 1065.7,179.6 1067.8,180.7 1069.8,180.9 1071.9,182 1073.9,181.8 1076,182.5 1078.1,183.7 1080.1,183.4 1082.2,183.9 1084.3,184.7 1086.3,184.6 1088.4,185 1090.4,186.4 1092.5,186.1 1094.6,186.7 1096.6,187.1 1098.7,187.3 1100.7,188.2 1102.8,188.5 1104.9,188.9 1106.9,189.2 1109,189.3 1111.1,190.1 1113.1,190.2 1115.2,190 1117.2,190.5 1119.3,190.6 1121.4,191.6 1123.4,191.4 1125.5,191.6 1127.6,191.6 1129.6,192 1131.7,191.8 1133.7,192.3 1135.1,192.4 1139.4,192.8 1143.7,193 1148,193.7 1152.3,193.5 1156.6,194 1160.9,194.3 1165.2,194.5 1169.5,194.6 1173.8,194.6 1178.1,194.7 1182.4,195.1 1186.7,195.1 1191,195.4 1195.3,195.2 1199.6,195.7 1203.9,196.4 1208.1,195.6 1212.4,196 1216.7,196.5 1221,196.3 1225.3,196.6 1229.6,195.9 1233.9,196.4 1238.2,197.1 1242.5,196.5 1246.8,196.9 1251.1,196.2 1255.4,197.1" stroke="#f0961e" stroke-width="2.6" fill="none" stroke-linejoin="round"/>
<polyline points="739.9,203.9 746.8,203.4 753.6,203.5 760.5,203.5 767.4,203.9 774.3,203.3 781.1,203.1 788,203.9 794.9,203.2 801.8,203.6 808.6,202.9 815.5,203.3 822.4,203.5 824.4,203.2 826.5,203.3 828.6,203.5 830.6,203.2 832.7,203.4 834.8,203.6 836.8,202.5 838.9,202.7 840.9,202.1 843,200.4 845.1,198.7 847.1,196 849.2,192 851.2,190 853.3,188.2 855.4,185.9 857.4,184.5 859.5,182.1 861.6,179.7 863.6,177.8 865.7,174.8 867.7,172.7 869.8,169.5 871.9,167.4 873.9,165.6 876,164.4 878.1,162.4 880.1,161.7 882.2,160.2 884.2,159.8 886.3,159.6 888.4,158.4 890.4,158.2 892.5,158.6 894.5,157.7 896.6,158.3 898.7,158.4 900.7,158.4 902.8,159.1 904.9,159.3 906.9,159.5 909,159.2 911,159.7 913.1,160.9 915.2,160.7 917.2,161.9 919.3,162.3 921.4,162.6 923.4,163.5 925.5,163.2 927.5,164.7 929.6,166 931.7,165.6 933.7,167 935.8,167.7 937.9,169.4 939.9,168.5 942,169.3 944,169.9 946.1,170.5 948.2,170.9 950.2,172.2 952.3,172.5 954.3,173.8 956.4,174.3 958.5,174.4 960.5,175.3 962.6,176.6 964.7,176.6 966.7,177.4 968.8,178.3 970.8,178.4 972.9,179.4 975,180.4 977,180.8 979.1,180.3 981.2,182.1 983.2,182 985.3,182.5 987.3,183 989.4,184.3 991.5,184.5 993.5,184.9 995.6,185.2 997.6,186.2 999.7,186.9 1001.8,186.7 1003.8,187.1 1005.9,187.8 1008,188.6 1010,188.8 1012.1,189.3 1014.1,189.5 1016.2,190.7 1018.3,190.6 1020.3,191.1 1022.4,191.9 1024.5,191.8 1026.5,192.3 1028.6,192.8 1030.6,192.8 1032.7,193.7 1034.8,193.6 1036.8,193.8 1038.9,194.1 1041,194.1 1043,195.1 1045.1,195.5 1047.1,195.2 1049.2,195.4 1051.3,195.2 1053.3,195.9 1055.4,196.5 1057.4,196.2 1059.5,196.9 1061.6,197.3 1063.6,196.3 1065.7,197.1 1067.8,197.2 1069.8,197.3 1071.9,197.1 1073.9,197.7 1076,197.6 1078.1,198.4 1080.1,198.6 1082.2,197.9 1084.3,198 1086.3,198.4 1088.4,198.6 1090.4,198.7 1092.5,199 1094.6,198.5 1096.6,198.8 1098.7,198.9 1100.7,199 1102.8,198.8 1104.9,199 1106.9,199 1109,199.6 1111.1,199.2 1113.1,198.7 1115.2,199.5 1117.2,199.4 1119.3,199.2 1121.4,199.2 1123.4,199.3 1125.5,200 1127.6,199.4 1129.6,199.9 1131.7,199.9 1133.7,199.5 1135.1,199.8 1139.4,199.5 1143.7,198.9 1148,199.6 1152.3,199.7 1156.6,200.1 1160.9,200.1 1165.2,200.3 1169.5,200.1 1173.8,200.3 1178.1,200.2 1182.4,200.1 1186.7,200.4 1191,200.5 1195.3,200.5 1199.6,200.1 1203.9,200.2 1208.1,200 1212.4,200 1216.7,200.4 1221,200.1 1225.3,200.7 1229.6,199.7 1233.9,200 1238.2,200.4 1242.5,200.7 1246.8,200.3 1251.1,200.9 1255.4,200.6" stroke="#f01414" stroke-width="2.6" fill="none" stroke-linejoin="round"/>
<polyline points="739.9,204.1 746.8,204.2 753.6,204.3 760.5,204 767.4,204.3 774.3,204.2 781.1,204.3 788,204.3 794.9,204.1 801.8,204.3 808.6,203.8 815.5,204.3 822.4,203.8 824.4,204.3 826.5,204.1 828.6,204.3 830.6,204.3 832.7,204.1 834.8,203.9 836.8,204.3 838.9,203.6 840.9,203.8 843,202.9 845.1,201.9 847.1,200.7 849.2,199.8 851.2,197.9 853.3,197.6 855.4,197 857.4,196.4 859.5,195.7 861.6,194.6 863.6,193 865.7,192.2 867.7,191.4 869.8,190.1 871.9,188.4 873.9,188.2 876,187.5 878.1,186.3 880.1,186.1 882.2,185.9 884.2,185.8 886.3,185.9 888.4,185.6 890.4,185.2 892.5,185.1 894.5,184.8 896.6,184.8 898.7,184.9 900.7,185 902.8,185.5 904.9,186.1 906.9,185.7 909,186 911,186.1 913.1,186.2 915.2,186.7 917.2,186.9 919.3,186.8 921.4,187 923.4,187.5 925.5,187.3 927.5,187.8 929.6,188.3 931.7,188.2 933.7,187.8 935.8,188.9 937.9,188.6 939.9,188.8 942,189 944,190 946.1,189.3 948.2,190.2 950.2,190.6 952.3,190.8 954.3,190.8 956.4,191.2 958.5,191.5 960.5,191.3 962.6,192.2 964.7,192.5 966.7,192.2 968.8,192.4 970.8,192.5 972.9,193.5 975,193 977,193.4 979.1,193.2 981.2,194.4 983.2,194.2 985.3,194.6 987.3,195.2 989.4,195.1 991.5,194.8 993.5,195.5 995.6,195.8 997.6,195.5 999.7,195.7 1001.8,195.9 1003.8,196.6 1005.9,196.5 1008,196.4 1010,197.1 1012.1,197.3 1014.1,197 1016.2,196.9 1018.3,197.9 1020.3,198.5 1022.4,198.3 1024.5,198.3 1026.5,198.2 1028.6,198.1 1030.6,198.5 1032.7,198.7 1034.8,198.6 1036.8,199 1038.9,198.9 1041,199.2 1043,198.3 1045.1,198.9 1047.1,199.5 1049.2,199.6 1051.3,199.6 1053.3,200 1055.4,199.8 1057.4,199.9 1059.5,199.5 1061.6,200 1063.6,200.2 1065.7,200.4 1067.8,200.4 1069.8,200.2 1071.9,200.3 1073.9,200 1076,200.5 1078.1,200.1 1080.1,200.4 1082.2,200.6 1084.3,201.2 1086.3,201 1088.4,200.5 1090.4,200.4 1092.5,200.8 1094.6,200.7 1096.6,201 1098.7,201.1 1100.7,201.2 1102.8,200.8 1104.9,201 1106.9,201.2 1109,201.2 1111.1,201 1113.1,201.1 1115.2,201.5 1117.2,200.8 1119.3,201.2 1121.4,201.3 1123.4,201 1125.5,201.1 1127.6,201.4 1129.6,201.3 1131.7,201.7 1133.7,201.6 1135.1,202.1 1139.4,201.2 1143.7,202.1 1148,201.4 1152.3,201.9 1156.6,202 1160.9,201.8 1165.2,201.7 1169.5,201.6 1173.8,201.3 1178.1,201.7 1182.4,201.6 1186.7,202 1191,201.7 1195.3,201.9 1199.6,202.1 1203.9,202 1208.1,202 1212.4,202 1216.7,201.9 1221,202.2 1225.3,202.3 1229.6,201.9 1233.9,202.5 1238.2,202.3 1242.5,201.7 1246.8,202.8 1251.1,202.3 1255.4,202" stroke="#c81414" stroke-width="2.6" fill="none" stroke-linejoin="round"/>
<polyline points="739.9,204.3 746.8,203.7 753.6,204.3 760.5,203.9 767.4,203.9 774.3,204.1 781.1,204.3 788,204.2 794.9,204.3 801.8,204.1 808.6,204.3 815.5,204.3 822.4,204 824.4,204.3 826.5,204.3 828.6,204.2 830.6,204.3 832.7,204 834.8,204.1 836.8,204.3 838.9,204.1 840.9,204.1 843,203.8 845.1,203.1 847.1,202.7 849.2,201.4 851.2,201.4 853.3,200.6 855.4,200.5 857.4,199.8 859.5,199.7 861.6,199.2 863.6,198.8 865.7,197.7 867.7,197.1 869.8,196.2 871.9,195.9 873.9,195.8 876,195.5 878.1,195 880.1,194.9 882.2,194.3 884.2,194.3 886.3,194.7 888.4,194.5 890.4,193.8 892.5,194.1 894.5,194.3 896.6,193.8 898.7,194.3 900.7,194.4 902.8,194.5 904.9,195 906.9,194.2 909,194.9 911,194.8 913.1,194.9 915.2,194.6 917.2,194.9 919.3,195 921.4,195.6 923.4,195.2 925.5,195.7 927.5,195.2 929.6,195.3 931.7,195.5 933.7,195 935.8,195.6 937.9,195.6 939.9,195.9 942,196.1 944,195.8 946.1,195.9 948.2,196.7 950.2,196.1 952.3,196.4 954.3,196.3 956.4,196.6 958.5,197.2 960.5,197.3 962.6,196.5 964.7,197 966.7,197.6 968.8,197.2 970.8,197.5 972.9,198 975,198.3 977,198.2 979.1,197.7 981.2,197.9 983.2,198.1 985.3,198.1 987.3,198.1 989.4,199 991.5,198.6 993.5,198.8 995.6,199.1 997.6,199 999.7,199 1001.8,199.1 1003.8,199.6 1005.9,199.4 1008,198.8 1010,199.7 1012.1,200 1014.1,199.5 1016.2,199.5 1018.3,199.6 1020.3,200.2 1022.4,199.6 1024.5,200.2 1026.5,200.4 1028.6,200.3 1030.6,200.2 1032.7,200.1 1034.8,200.2 1036.8,200.4 1038.9,200.2 1041,200.5 1043,200.4 1045.1,201.1 1047.1,201.2 1049.2,200.6 1051.3,201.3 1053.3,201 1055.4,201 1057.4,201.2 1059.5,201.2 1061.6,200.8 1063.6,201.9 1065.7,201 1067.8,200.7 1069.8,201.3 1071.9,201.4 1073.9,201.2 1076,201 1078.1,201.8 1080.1,201.5 1082.2,201.6 1084.3,201.4 1086.3,201.6 1088.4,201.5 1090.4,201.8 1092.5,201.7 1094.6,201.9 1096.6,201.9 1098.7,201.8 1100.7,201.8 1102.8,202.1 1104.9,201.4 1106.9,201.9 1109,202.2 1111.1,201.6 1113.1,202.1 1115.2,201.8 1117.2,201.9 1119.3,201.9 1121.4,201.9 1123.4,202.1 1125.5,202 1127.6,201.5 1129.6,202.6 1131.7,202 1133.7,202 1135.1,202.4 1139.4,202.5 1143.7,201.6 1148,202.3 1152.3,201.7 1156.6,202.1 1160.9,202.2 1165.2,202.1 1169.5,202.1 1173.8,202 1178.1,202.2 1182.4,202.3 1186.7,202.3 1191,202 1195.3,202.1 1199.6,202.6 1203.9,202.5 1208.1,202.3 1212.4,202.6 1216.7,202.5 1221,202.7 1225.3,202.5 1229.6,202.3 1233.9,202.2 1238.2,202.5 1242.5,201.9 1246.8,202.5 1251.1,201.7 1255.4,202.2" stroke="#5a0a0a" stroke-width="2.6" fill="none" stroke-linejoin="round"/>
</g>
<rect x="739.9" y="19" width="515.5" height="185.3" fill="none" stroke="#000" stroke-width="1.7"/>
<path d="M868.8 204.3v-7M868.8 19v7M997.7 204.3v-7M997.7 19v7M1126.5 204.3v-7M1126.5 19v7M804.3 204.3v-4M804.3 19v4M933.2 204.3v-4M933.2 19v4M1062.1 204.3v-4M1062.1 19v4M1191 204.3v-4M1191 19v4M739.9 170.6h7M1255.4 170.6h-7M739.9 137h7M1255.4 137h-7M739.9 103.3h7M1255.4 103.3h-7M739.9 69.7h7M1255.4 69.7h-7M739.9 36h7M1255.4 36h-7M739.9 187.5h4M1255.4 187.5h-4M739.9 153.8h4M1255.4 153.8h-4M739.9 120.2h4M1255.4 120.2h-4M739.9 86.5h4M1255.4 86.5h-4M739.9 52.8h4M1255.4 52.8h-4" stroke="#000" stroke-width="1.5" fill="none"/>
<text x="739.9" y="227.6" font-size="20" text-anchor="middle" fill="#000" stroke="#000">450</text>
<text x="868.5" y="227.6" font-size="20" text-anchor="middle" fill="#000" stroke="#000">525</text>
<text x="997.2" y="227.6" font-size="20" text-anchor="middle" fill="#000" stroke="#000">600</text>
<text x="1125.8" y="227.6" font-size="20" text-anchor="middle" fill="#000" stroke="#000">675</text>
<text x="1254.4" y="227.6" font-size="20" text-anchor="middle" fill="#000" stroke="#000">750</text>
<text x="732.4" y="211" font-size="20" text-anchor="end" fill="#000" stroke="#000">0.0</text>
<text x="732.4" y="177.6" font-size="20" text-anchor="end" fill="#000" stroke="#000">0.2</text>
<text x="732.4" y="144" font-size="20" text-anchor="end" fill="#000" stroke="#000">0.4</text>
<text x="732.4" y="110.3" font-size="20" text-anchor="end" fill="#000" stroke="#000">0.6</text>
<text x="732.4" y="76.7" font-size="20" text-anchor="end" fill="#000" stroke="#000">0.8</text>
<text x="732.4" y="43" font-size="20" text-anchor="end" fill="#000" stroke="#000">1.0</text>
<text x="659" y="115.2" font-size="26.5" text-anchor="middle" fill="#000" stroke="#000" transform="rotate(-90 659 115.2)">Normalised</text>
<text x="691.5" y="112.2" font-size="26.5" text-anchor="middle" fill="#000" stroke="#000" transform="rotate(-90 691.5 112.2)">PL intensity (a.u.)</text>
<text x="791" y="85" font-size="52" text-anchor="middle" fill="#000" stroke="#000">2</text>
<path d="M1325.5 8.4L1377.7 8.4" stroke="#7a148c" stroke-width="3"/>
<text x="1384.5" y="17.6" font-size="23" text-anchor="start" fill="#000" stroke="#000">0</text>
<path d="M1325.5 39L1377.7 39" stroke="#1414dc" stroke-width="3"/>
<text x="1384.5" y="48.2" font-size="23" text-anchor="start" fill="#000" stroke="#000">10</text>
<path d="M1325.5 69.7L1377.7 69.7" stroke="#1ee6b4" stroke-width="3"/>
<text x="1384.5" y="78.9" font-size="23" text-anchor="start" fill="#000" stroke="#000">20</text>
<path d="M1325.5 100.3L1377.7 100.3" stroke="#a0f01e" stroke-width="3"/>
<text x="1384.5" y="109.5" font-size="23" text-anchor="start" fill="#000" stroke="#000">30</text>
<path d="M1325.5 131L1377.7 131" stroke="#f0961e" stroke-width="3"/>
<text x="1384.5" y="140.2" font-size="23" text-anchor="start" fill="#000" stroke="#000">40</text>
<path d="M1325.5 161.6L1377.7 161.6" stroke="#f01414" stroke-width="3"/>
<text x="1384.5" y="170.8" font-size="23" text-anchor="start" fill="#000" stroke="#000">50</text>
<path d="M1325.5 192.2L1377.7 192.2" stroke="#c81414" stroke-width="3"/>
<text x="1384.5" y="201.4" font-size="23" text-anchor="start" fill="#000" stroke="#000">60</text>
<path d="M1325.5 222.9L1377.7 222.9" stroke="#5a0a0a" stroke-width="3"/>
<text x="1384.5" y="232.1" font-size="23" text-anchor="start" fill="#000" stroke="#000">70</text>
<text x="1513" y="46" font-size="59" text-anchor="middle" fill="#000" stroke="#000">(a)</text>
<clipPath id="hcp"><rect x="106" y="251.2" width="511.2" height="432.5"/></clipPath>
<g clip-path="url(#hcp)"><g filter="url(#bl)">
<rect x="94" y="241.2" width="15.6" height="452.5" fill="#6b006b"/>
<rect x="109" y="241.2" width="3.6" height="452.5" fill="#6b006b"/>
<rect x="112" y="241.2" width="3.6" height="452.5" fill="#6b006b"/>
<rect x="115" y="241.2" width="3.6" height="452.5" fill="#6b006b"/>
<rect x="118" y="241.2" width="3.6" height="452.5" fill="#6b006b"/>
<rect x="120.9" y="241.2" width="3.6" height="452.5" fill="#6b006b"/>
<rect x="123.9" y="241.2" width="3.6" height="452.5" fill="#6b006b"/>
<rect x="126.9" y="241.2" width="3.6" height="452.5" fill="#6b006b"/>
<rect x="129.9" y="241.2" width="3.6" height="452.5" fill="#6b006b"/>
<rect x="132.9" y="241.2" width="3.6" height="452.5" fill="#6b006b"/>
<rect x="135.9" y="241.2" width="3.6" height="452.5" fill="#6b006b"/>
<rect x="138.9" y="241.2" width="3.6" height="452.5" fill="#6b006b"/>
<rect x="141.9" y="241.2" width="3.6" height="452.5" fill="#6b006b"/>
<rect x="144.9" y="241.2" width="3.6" height="452.5" fill="#6b006b"/>
<rect x="147.9" y="241.2" width="3.6" height="452.5" fill="#6b006b"/>
<rect x="150.8" y="241.2" width="3.6" height="452.5" fill="#6b006c"/>
<rect x="153.8" y="241.2" width="3.6" height="452.5" fill="#6b006c"/>
<rect x="156.8" y="241.2" width="3.6" height="452.5" fill="#6b006c"/>
<rect x="159.8" y="241.2" width="3.6" height="452.5" fill="#6b006c"/>
<rect x="162.8" y="241.2" width="3.6" height="452.5" fill="#6b006c"/>
<rect x="165.8" y="241.2" width="3.6" height="452.5" fill="#6b006c"/>
<rect x="168.8" y="241.2" width="3.6" height="452.5" fill="#6b006c"/>
<rect x="171.8" y="241.2" width="3.6" height="452.5" fill="#6c006c"/>
<rect x="174.8" y="241.2" width="3.6" height="452.5" fill="#6c006d"/>
<rect x="177.7" y="241.2" width="3.6" height="452.5" fill="#6c006d"/>
<rect x="180.7" y="241.2" width="3.6" height="452.5" fill="#6c006e"/>
<rect x="183.7" y="241.2" width="3.6" height="452.5" fill="url(#p0)"/>
<rect x="186.7" y="241.2" width="3.6" height="452.5" fill="url(#p1)"/>
<rect x="189.7" y="241.2" width="3.6" height="452.5" fill="url(#p2)"/>
<rect x="192.7" y="241.2" width="3.6" height="452.5" fill="url(#p3)"/>
<rect x="195.7" y="241.2" width="3.6" height="452.5" fill="url(#p4)"/>
<rect x="198.7" y="241.2" width="3.6" height="452.5" fill="url(#p5)"/>
<rect x="201.7" y="241.2" width="3.6" height="452.5" fill="url(#p6)"/>
<rect x="204.7" y="241.2" width="3.6" height="452.5" fill="url(#p7)"/>
<rect x="207.6" y="241.2" width="3.6" height="452.5" fill="url(#p8)"/>
<rect x="210.6" y="241.2" width="3.6" height="452.5" fill="url(#p9)"/>
<rect x="213.6" y="241.2" width="3.6" height="452.5" fill="url(#p10)"/>
<rect x="216.6" y="241.2" width="3.6" height="452.5" fill="url(#p11)"/>
<rect x="219.6" y="241.2" width="3.6" height="452.5" fill="url(#p12)"/>
<rect x="222.6" y="241.2" width="3.6" height="452.5" fill="url(#p13)"/>
<rect x="225.6" y="241.2" width="3.6" height="452.5" fill="url(#p14)"/>
<rect x="228.6" y="241.2" width="3.6" height="452.5" fill="url(#p15)"/>
<rect x="231.6" y="241.2" width="3.6" height="452.5" fill="url(#p16)"/>
<rect x="234.5" y="241.2" width="3.6" height="452.5" fill="url(#p17)"/>
<rect x="237.5" y="241.2" width="3.6" height="452.5" fill="url(#p18)"/>
<rect x="240.5" y="241.2" width="3.6" height="452.5" fill="url(#p19)"/>
<rect x="243.5" y="241.2" width="3.6" height="452.5" fill="url(#p20)"/>
<rect x="246.5" y="241.2" width="3.6" height="452.5" fill="url(#p21)"/>
<rect x="249.5" y="241.2" width="3.6" height="452.5" fill="url(#p22)"/>
<rect x="252.5" y="241.2" width="3.6" height="452.5" fill="url(#p23)"/>
<rect x="255.5" y="241.2" width="3.6" height="452.5" fill="url(#p24)"/>
<rect x="258.5" y="241.2" width="3.6" height="452.5" fill="url(#p25)"/>
<rect x="261.5" y="241.2" width="3.6" height="452.5" fill="url(#p26)"/>
<rect x="264.4" y="241.2" width="3.6" height="452.5" fill="url(#p27)"/>
<rect x="267.4" y="241.2" width="3.6" height="452.5" fill="url(#p28)"/>
<rect x="270.4" y="241.2" width="3.6" height="452.5" fill="url(#p29)"/>
<rect x="273.4" y="241.2" width="3.6" height="452.5" fill="url(#p30)"/>
<rect x="276.4" y="241.2" width="3.6" height="452.5" fill="url(#p31)"/>
<rect x="279.4" y="241.2" width="3.6" height="452.5" fill="url(#p32)"/>
<rect x="282.4" y="241.2" width="3.6" height="452.5" fill="url(#p33)"/>
<rect x="285.4" y="241.2" width="3.6" height="452.5" fill="url(#p34)"/>
<rect x="288.4" y="241.2" width="3.6" height="452.5" fill="url(#p35)"/>
<rect x="291.3" y="241.2" width="3.6" height="452.5" fill="url(#p36)"/>
<rect x="294.3" y="241.2" width="3.6" height="452.5" fill="url(#p37)"/>
<rect x="297.3" y="241.2" width="3.6" height="452.5" fill="url(#p38)"/>
<rect x="300.3" y="241.2" width="3.6" height="452.5" fill="url(#p39)"/>
<rect x="303.3" y="241.2" width="3.6" height="452.5" fill="url(#p40)"/>
<rect x="306.3" y="241.2" width="3.6" height="452.5" fill="url(#p41)"/>
<rect x="309.3" y="241.2" width="3.6" height="452.5" fill="url(#p42)"/>
<rect x="312.3" y="241.2" width="3.6" height="452.5" fill="url(#p43)"/>
<rect x="315.3" y="241.2" width="3.6" height="452.5" fill="url(#p44)"/>
<rect x="318.3" y="241.2" width="3.6" height="452.5" fill="url(#p45)"/>
<rect x="321.2" y="241.2" width="3.6" height="452.5" fill="url(#p46)"/>
<rect x="324.2" y="241.2" width="3.6" height="452.5" fill="url(#p47)"/>
<rect x="327.2" y="241.2" width="3.6" height="452.5" fill="url(#p48)"/>
<rect x="330.2" y="241.2" width="3.6" height="452.5" fill="url(#p49)"/>
<rect x="333.2" y="241.2" width="3.6" height="452.5" fill="url(#p50)"/>
<rect x="336.2" y="241.2" width="3.6" height="452.5" fill="url(#p51)"/>
<rect x="339.2" y="241.2" width="3.6" height="452.5" fill="url(#p52)"/>
<rect x="342.2" y="241.2" width="3.6" height="452.5" fill="url(#p53)"/>
<rect x="345.2" y="241.2" width="3.6" height="452.5" fill="url(#p54)"/>
<rect x="348.1" y="241.2" width="3.6" height="452.5" fill="url(#p55)"/>
<rect x="351.1" y="241.2" width="3.6" height="452.5" fill="url(#p56)"/>
<rect x="354.1" y="241.2" width="3.6" height="452.5" fill="url(#p57)"/>
<rect x="357.1" y="241.2" width="3.6" height="452.5" fill="url(#p58)"/>
<rect x="360.1" y="241.2" width="3.6" height="452.5" fill="url(#p59)"/>
<rect x="363.1" y="241.2" width="3.6" height="452.5" fill="url(#p60)"/>
<rect x="366.1" y="241.2" width="3.6" height="452.5" fill="url(#p61)"/>
<rect x="369.1" y="241.2" width="3.6" height="452.5" fill="url(#p62)"/>
<rect x="372.1" y="241.2" width="3.6" height="452.5" fill="url(#p63)"/>
<rect x="375.1" y="241.2" width="3.6" height="452.5" fill="url(#p64)"/>
<rect x="378" y="241.2" width="3.6" height="452.5" fill="url(#p65)"/>
<rect x="381" y="241.2" width="3.6" height="452.5" fill="url(#p66)"/>
<rect x="384" y="241.2" width="3.6" height="452.5" fill="url(#p67)"/>
<rect x="387" y="241.2" width="3.6" height="452.5" fill="url(#p68)"/>
<rect x="390" y="241.2" width="3.6" height="452.5" fill="url(#p69)"/>
<rect x="393" y="241.2" width="3.6" height="452.5" fill="url(#p70)"/>
<rect x="396" y="241.2" width="3.6" height="452.5" fill="url(#p71)"/>
<rect x="399" y="241.2" width="3.6" height="452.5" fill="url(#p72)"/>
<rect x="402" y="241.2" width="3.6" height="452.5" fill="url(#p73)"/>
<rect x="404.9" y="241.2" width="3.6" height="452.5" fill="url(#p74)"/>
<rect x="407.9" y="241.2" width="3.6" height="452.5" fill="url(#p75)"/>
<rect x="410.9" y="241.2" width="3.6" height="452.5" fill="url(#p76)"/>
<rect x="413.9" y="241.2" width="3.6" height="452.5" fill="url(#p77)"/>
<rect x="416.9" y="241.2" width="3.6" height="452.5" fill="url(#p78)"/>
<rect x="419.9" y="241.2" width="3.6" height="452.5" fill="url(#p79)"/>
<rect x="422.9" y="241.2" width="3.6" height="452.5" fill="url(#p80)"/>
<rect x="425.9" y="241.2" width="3.6" height="452.5" fill="url(#p81)"/>
<rect x="428.9" y="241.2" width="3.6" height="452.5" fill="url(#p82)"/>
<rect x="431.9" y="241.2" width="3.6" height="452.5" fill="url(#p83)"/>
<rect x="434.8" y="241.2" width="3.6" height="452.5" fill="url(#p84)"/>
<rect x="437.8" y="241.2" width="3.6" height="452.5" fill="url(#p85)"/>
<rect x="440.8" y="241.2" width="3.6" height="452.5" fill="url(#p86)"/>
<rect x="443.8" y="241.2" width="3.6" height="452.5" fill="url(#p87)"/>
<rect x="446.8" y="241.2" width="3.6" height="452.5" fill="url(#p88)"/>
<rect x="449.8" y="241.2" width="3.6" height="452.5" fill="url(#p89)"/>
<rect x="452.8" y="241.2" width="3.6" height="452.5" fill="url(#p90)"/>
<rect x="455.8" y="241.2" width="3.6" height="452.5" fill="url(#p91)"/>
<rect x="458.8" y="241.2" width="3.6" height="452.5" fill="url(#p92)"/>
<rect x="461.7" y="241.2" width="3.6" height="452.5" fill="url(#p93)"/>
<rect x="464.7" y="241.2" width="3.6" height="452.5" fill="url(#p94)"/>
<rect x="467.7" y="241.2" width="3.6" height="452.5" fill="url(#p95)"/>
<rect x="470.7" y="241.2" width="3.6" height="452.5" fill="url(#p96)"/>
<rect x="473.7" y="241.2" width="3.6" height="452.5" fill="url(#p97)"/>
<rect x="476.7" y="241.2" width="3.6" height="452.5" fill="url(#p98)"/>
<rect x="479.7" y="241.2" width="3.6" height="452.5" fill="url(#p99)"/>
<rect x="482.7" y="241.2" width="3.6" height="452.5" fill="url(#p100)"/>
<rect x="485.7" y="241.2" width="3.6" height="452.5" fill="url(#p101)"/>
<rect x="488.7" y="241.2" width="3.6" height="452.5" fill="url(#p102)"/>
<rect x="491.6" y="241.2" width="3.6" height="452.5" fill="url(#p103)"/>
<rect x="494.6" y="241.2" width="3.6" height="452.5" fill="url(#p104)"/>
<rect x="497.6" y="241.2" width="3.6" height="452.5" fill="url(#p105)"/>
<rect x="500.6" y="241.2" width="3.6" height="452.5" fill="url(#p106)"/>
<rect x="503.6" y="241.2" width="3.6" height="452.5" fill="url(#p107)"/>
<rect x="506.6" y="241.2" width="3.6" height="452.5" fill="url(#p108)"/>
<rect x="509.6" y="241.2" width="3.6" height="452.5" fill="url(#p109)"/>
<rect x="512.6" y="241.2" width="3.6" height="452.5" fill="url(#p110)"/>
<rect x="515.6" y="241.2" width="3.6" height="452.5" fill="url(#p111)"/>
<rect x="518.5" y="241.2" width="3.6" height="452.5" fill="url(#p112)"/>
<rect x="521.5" y="241.2" width="3.6" height="452.5" fill="url(#p113)"/>
<rect x="524.5" y="241.2" width="3.6" height="452.5" fill="url(#p114)"/>
<rect x="527.5" y="241.2" width="3.6" height="452.5" fill="url(#p114)"/>
<rect x="530.5" y="241.2" width="3.6" height="452.5" fill="url(#p114)"/>
<rect x="533.5" y="241.2" width="3.6" height="452.5" fill="url(#p115)"/>
<rect x="536.5" y="241.2" width="3.6" height="452.5" fill="url(#p115)"/>
<rect x="539.5" y="241.2" width="3.6" height="452.5" fill="url(#p115)"/>
<rect x="542.5" y="241.2" width="3.6" height="452.5" fill="url(#p116)"/>
<rect x="545.5" y="241.2" width="3.6" height="452.5" fill="url(#p117)"/>
<rect x="548.4" y="241.2" width="3.6" height="452.5" fill="url(#p117)"/>
<rect x="551.4" y="241.2" width="3.6" height="452.5" fill="url(#p117)"/>
<rect x="554.4" y="241.2" width="3.6" height="452.5" fill="url(#p118)"/>
<rect x="557.4" y="241.2" width="3.6" height="452.5" fill="url(#p118)"/>
<rect x="560.4" y="241.2" width="3.6" height="452.5" fill="url(#p119)"/>
<rect x="563.4" y="241.2" width="3.6" height="452.5" fill="url(#p119)"/>
<rect x="566.4" y="241.2" width="3.6" height="452.5" fill="#6d006f"/>
<rect x="569.4" y="241.2" width="3.6" height="452.5" fill="#6d006f"/>
<rect x="572.4" y="241.2" width="3.6" height="452.5" fill="#6d006f"/>
<rect x="575.3" y="241.2" width="3.6" height="452.5" fill="#6d006f"/>
<rect x="578.3" y="241.2" width="3.6" height="452.5" fill="#6c006f"/>
<rect x="581.3" y="241.2" width="3.6" height="452.5" fill="#6c006e"/>
<rect x="584.3" y="241.2" width="3.6" height="452.5" fill="#6c006e"/>
<rect x="587.3" y="241.2" width="3.6" height="452.5" fill="#6c006e"/>
<rect x="590.3" y="241.2" width="3.6" height="452.5" fill="#6c006e"/>
<rect x="593.3" y="241.2" width="3.6" height="452.5" fill="#6c006e"/>
<rect x="596.3" y="241.2" width="3.6" height="452.5" fill="#6c006e"/>
<rect x="599.3" y="241.2" width="3.6" height="452.5" fill="#6c006e"/>
<rect x="602.3" y="241.2" width="3.6" height="452.5" fill="#6c006e"/>
<rect x="605.2" y="241.2" width="3.6" height="452.5" fill="#6c006d"/>
<rect x="608.2" y="241.2" width="3.6" height="452.5" fill="#6c006d"/>
<rect x="611.2" y="241.2" width="3.6" height="452.5" fill="#6c006d"/>
<rect x="614.2" y="241.2" width="15.6" height="452.5" fill="#6c006d"/>
</g></g>
<path d="M234.2 683.7v-5.8M234.2 251.2v5.8M362.3 683.7v-5.8M362.3 251.2v5.8M490.5 683.7v-5.8M490.5 251.2v5.8M170.1 683.7v-3M170.1 251.2v3M298.2 683.7v-3M298.2 251.2v3M426.4 683.7v-3M426.4 251.2v3M554.5 683.7v-3M554.5 251.2v3M106 622.6h5.8M617.2 622.6h-5.8M106 560.9h5.8M617.2 560.9h-5.8M106 499.1h5.8M617.2 499.1h-5.8M106 437.3h5.8M617.2 437.3h-5.8M106 375.6h5.8M617.2 375.6h-5.8M106 313.8h5.8M617.2 313.8h-5.8M106 653.5h3M617.2 653.5h-3M106 591.7h3M617.2 591.7h-3M106 530h3M617.2 530h-3M106 468.2h3M617.2 468.2h-3M106 406.4h3M617.2 406.4h-3M106 344.7h3M617.2 344.7h-3M106 282.9h3M617.2 282.9h-3" stroke="#ffccff" stroke-width="1.8" fill="none"/>
<text x="105" y="710" font-size="20" text-anchor="middle" fill="#000" stroke="#000">450</text>
<text x="233.8" y="710" font-size="20" text-anchor="middle" fill="#000" stroke="#000">525</text>
<text x="362.5" y="710" font-size="20" text-anchor="middle" fill="#000" stroke="#000">600</text>
<text x="491.3" y="710" font-size="20" text-anchor="middle" fill="#000" stroke="#000">675</text>
<text x="620" y="710" font-size="20" text-anchor="middle" fill="#000" stroke="#000">750</text>
<text x="97.6" y="688" font-size="20" text-anchor="end" fill="#000" stroke="#000">0</text>
<text x="97.6" y="624.4" font-size="20" text-anchor="end" fill="#000" stroke="#000">10</text>
<text x="97.6" y="562.7" font-size="20" text-anchor="end" fill="#000" stroke="#000">20</text>
<text x="97.6" y="500.9" font-size="20" text-anchor="end" fill="#000" stroke="#000">30</text>
<text x="97.6" y="439.1" font-size="20" text-anchor="end" fill="#000" stroke="#000">40</text>
<text x="97.6" y="377.4" font-size="20" text-anchor="end" fill="#000" stroke="#000">50</text>
<text x="97.6" y="315.6" font-size="20" text-anchor="end" fill="#000" stroke="#000">60</text>
<text x="97.6" y="253.8" font-size="20" text-anchor="end" fill="#000" stroke="#000">70</text>
<text x="53.5" y="469.2" font-size="26.5" text-anchor="middle" fill="#000" stroke="#000" transform="rotate(-90 53.5 469.2)">Angle (deg)</text>
<text x="361.1" y="735.5" font-size="26.9" text-anchor="middle" fill="#000" stroke="#000">Wavelength (nm)</text>
<text x="157" y="337.8" font-size="52" text-anchor="middle" fill="#fff" stroke="#fff">3</text>
<rect x="496" y="350" width="105.6" height="322.2" fill="#fff"/>
<rect x="513.8" y="367.1" width="24" height="289.6" fill="url(#cbA3)"/>
<text x="551.5" y="373.7" font-size="18.3" text-anchor="start" fill="#000" stroke="#000">1.0</text>
<text x="551.5" y="446.1" font-size="18.3" text-anchor="start" fill="#000" stroke="#000">0.75</text>
<text x="551.5" y="518.5" font-size="18.3" text-anchor="start" fill="#000" stroke="#000">0.50</text>
<text x="551.5" y="590.9" font-size="18.3" text-anchor="start" fill="#000" stroke="#000">0.25</text>
<text x="551.5" y="663.3" font-size="18.3" text-anchor="start" fill="#000" stroke="#000">0.0</text>
<rect x="617" y="251.2" width="1.9" height="432.5" fill="#ffc4ff"/><rect x="618.9" y="251.2" width="1" height="432.5" fill="#8a6a9a"/>
<clipPath id="hcq"><rect x="741" y="253.2" width="512.7" height="431.6"/></clipPath>
<g clip-path="url(#hcq)"><g filter="url(#bl)">
<rect x="729" y="243.2" width="15.6" height="451.6" fill="#6c006d"/>
<rect x="744" y="243.2" width="3.6" height="451.6" fill="#6c006d"/>
<rect x="747" y="243.2" width="3.6" height="451.6" fill="#6c006d"/>
<rect x="750" y="243.2" width="3.6" height="451.6" fill="#6c006d"/>
<rect x="753" y="243.2" width="3.6" height="451.6" fill="#6c006d"/>
<rect x="756" y="243.2" width="3.6" height="451.6" fill="#6c006d"/>
<rect x="759" y="243.2" width="3.6" height="451.6" fill="#6c006d"/>
<rect x="762" y="243.2" width="3.6" height="451.6" fill="#6c006d"/>
<rect x="765" y="243.2" width="3.6" height="451.6" fill="#6c006d"/>
<rect x="768" y="243.2" width="3.6" height="451.6" fill="#6c006d"/>
<rect x="771" y="243.2" width="3.6" height="451.6" fill="#6c006d"/>
<rect x="774" y="243.2" width="3.6" height="451.6" fill="#6c006d"/>
<rect x="777" y="243.2" width="3.6" height="451.6" fill="#6c006d"/>
<rect x="780" y="243.2" width="3.6" height="451.6" fill="#6c006d"/>
<rect x="783" y="243.2" width="3.6" height="451.6" fill="#6c006d"/>
<rect x="786" y="243.2" width="3.6" height="451.6" fill="#6c006d"/>
<rect x="789" y="243.2" width="3.6" height="451.6" fill="#6c006d"/>
<rect x="792" y="243.2" width="3.6" height="451.6" fill="#6c006d"/>
<rect x="795" y="243.2" width="3.6" height="451.6" fill="#6c006d"/>
<rect x="798" y="243.2" width="3.6" height="451.6" fill="#6c006d"/>
<rect x="801" y="243.2" width="3.6" height="451.6" fill="#6c006d"/>
<rect x="804" y="243.2" width="3.6" height="451.6" fill="#6c006d"/>
<rect x="807" y="243.2" width="3.6" height="451.6" fill="#6c006e"/>
<rect x="810" y="243.2" width="3.6" height="451.6" fill="url(#q0)"/>
<rect x="813" y="243.2" width="3.6" height="451.6" fill="url(#q1)"/>
<rect x="816" y="243.2" width="3.6" height="451.6" fill="url(#q2)"/>
<rect x="819" y="243.2" width="3.6" height="451.6" fill="url(#q3)"/>
<rect x="822" y="243.2" width="3.6" height="451.6" fill="url(#q4)"/>
<rect x="825" y="243.2" width="3.6" height="451.6" fill="url(#q5)"/>
<rect x="827.9" y="243.2" width="3.6" height="451.6" fill="url(#q6)"/>
<rect x="830.9" y="243.2" width="3.6" height="451.6" fill="url(#q7)"/>
<rect x="833.9" y="243.2" width="3.6" height="451.6" fill="url(#q8)"/>
<rect x="836.9" y="243.2" width="3.6" height="451.6" fill="url(#q9)"/>
<rect x="839.9" y="243.2" width="3.6" height="451.6" fill="url(#q10)"/>
<rect x="842.9" y="243.2" width="3.6" height="451.6" fill="url(#q11)"/>
<rect x="845.9" y="243.2" width="3.6" height="451.6" fill="url(#q12)"/>
<rect x="848.9" y="243.2" width="3.6" height="451.6" fill="url(#q13)"/>
<rect x="851.9" y="243.2" width="3.6" height="451.6" fill="url(#q14)"/>
<rect x="854.9" y="243.2" width="3.6" height="451.6" fill="url(#q15)"/>
<rect x="857.9" y="243.2" width="3.6" height="451.6" fill="url(#q16)"/>
<rect x="860.9" y="243.2" width="3.6" height="451.6" fill="url(#q17)"/>
<rect x="863.9" y="243.2" width="3.6" height="451.6" fill="url(#q18)"/>
<rect x="866.9" y="243.2" width="3.6" height="451.6" fill="url(#q19)"/>
<rect x="869.9" y="243.2" width="3.6" height="451.6" fill="url(#q20)"/>
<rect x="872.9" y="243.2" width="3.6" height="451.6" fill="url(#q21)"/>
<rect x="875.9" y="243.2" width="3.6" height="451.6" fill="url(#q22)"/>
<rect x="878.9" y="243.2" width="3.6" height="451.6" fill="url(#q23)"/>
<rect x="881.9" y="243.2" width="3.6" height="451.6" fill="url(#q24)"/>
<rect x="884.9" y="243.2" width="3.6" height="451.6" fill="url(#q25)"/>
<rect x="887.9" y="243.2" width="3.6" height="451.6" fill="url(#q26)"/>
<rect x="890.9" y="243.2" width="3.6" height="451.6" fill="url(#q27)"/>
<rect x="893.9" y="243.2" width="3.6" height="451.6" fill="url(#q28)"/>
<rect x="896.9" y="243.2" width="3.6" height="451.6" fill="url(#q29)"/>
<rect x="899.9" y="243.2" width="3.6" height="451.6" fill="url(#q30)"/>
<rect x="902.9" y="243.2" width="3.6" height="451.6" fill="url(#q31)"/>
<rect x="905.9" y="243.2" width="3.6" height="451.6" fill="url(#q32)"/>
<rect x="908.9" y="243.2" width="3.6" height="451.6" fill="url(#q33)"/>
<rect x="911.9" y="243.2" width="3.6" height="451.6" fill="url(#q34)"/>
<rect x="914.9" y="243.2" width="3.6" height="451.6" fill="url(#q35)"/>
<rect x="917.9" y="243.2" width="3.6" height="451.6" fill="url(#q36)"/>
<rect x="920.9" y="243.2" width="3.6" height="451.6" fill="url(#q37)"/>
<rect x="923.9" y="243.2" width="3.6" height="451.6" fill="url(#q38)"/>
<rect x="926.9" y="243.2" width="3.6" height="451.6" fill="url(#q39)"/>
<rect x="929.9" y="243.2" width="3.6" height="451.6" fill="url(#q40)"/>
<rect x="932.9" y="243.2" width="3.6" height="451.6" fill="url(#q41)"/>
<rect x="935.9" y="243.2" width="3.6" height="451.6" fill="url(#q42)"/>
<rect x="938.9" y="243.2" width="3.6" height="451.6" fill="url(#q43)"/>
<rect x="941.9" y="243.2" width="3.6" height="451.6" fill="url(#q44)"/>
<rect x="944.9" y="243.2" width="3.6" height="451.6" fill="url(#q45)"/>
<rect x="947.9" y="243.2" width="3.6" height="451.6" fill="url(#q46)"/>
<rect x="950.9" y="243.2" width="3.6" height="451.6" fill="url(#q47)"/>
<rect x="953.9" y="243.2" width="3.6" height="451.6" fill="url(#q48)"/>
<rect x="956.9" y="243.2" width="3.6" height="451.6" fill="url(#q49)"/>
<rect x="959.9" y="243.2" width="3.6" height="451.6" fill="url(#q50)"/>
<rect x="962.9" y="243.2" width="3.6" height="451.6" fill="url(#q51)"/>
<rect x="965.9" y="243.2" width="3.6" height="451.6" fill="url(#q52)"/>
<rect x="968.9" y="243.2" width="3.6" height="451.6" fill="url(#q53)"/>
<rect x="971.9" y="243.2" width="3.6" height="451.6" fill="url(#q54)"/>
<rect x="974.9" y="243.2" width="3.6" height="451.6" fill="url(#q55)"/>
<rect x="977.9" y="243.2" width="3.6" height="451.6" fill="url(#q56)"/>
<rect x="980.9" y="243.2" width="3.6" height="451.6" fill="url(#q57)"/>
<rect x="983.9" y="243.2" width="3.6" height="451.6" fill="url(#q58)"/>
<rect x="986.9" y="243.2" width="3.6" height="451.6" fill="url(#q59)"/>
<rect x="989.9" y="243.2" width="3.6" height="451.6" fill="url(#q60)"/>
<rect x="992.9" y="243.2" width="3.6" height="451.6" fill="url(#q61)"/>
<rect x="995.9" y="243.2" width="3.6" height="451.6" fill="url(#q62)"/>
<rect x="998.8" y="243.2" width="3.6" height="451.6" fill="url(#q63)"/>
<rect x="1001.8" y="243.2" width="3.6" height="451.6" fill="url(#q64)"/>
<rect x="1004.8" y="243.2" width="3.6" height="451.6" fill="url(#q65)"/>
<rect x="1007.8" y="243.2" width="3.6" height="451.6" fill="url(#q66)"/>
<rect x="1010.8" y="243.2" width="3.6" height="451.6" fill="url(#q67)"/>
<rect x="1013.8" y="243.2" width="3.6" height="451.6" fill="url(#q68)"/>
<rect x="1016.8" y="243.2" width="3.6" height="451.6" fill="url(#q69)"/>
<rect x="1019.8" y="243.2" width="3.6" height="451.6" fill="url(#q70)"/>
<rect x="1022.8" y="243.2" width="3.6" height="451.6" fill="url(#q71)"/>
<rect x="1025.8" y="243.2" width="3.6" height="451.6" fill="url(#q72)"/>
<rect x="1028.8" y="243.2" width="3.6" height="451.6" fill="url(#q73)"/>
<rect x="1031.8" y="243.2" width="3.6" height="451.6" fill="url(#q74)"/>
<rect x="1034.8" y="243.2" width="3.6" height="451.6" fill="url(#q75)"/>
<rect x="1037.8" y="243.2" width="3.6" height="451.6" fill="url(#q76)"/>
<rect x="1040.8" y="243.2" width="3.6" height="451.6" fill="url(#q77)"/>
<rect x="1043.8" y="243.2" width="3.6" height="451.6" fill="url(#q78)"/>
<rect x="1046.8" y="243.2" width="3.6" height="451.6" fill="url(#q79)"/>
<rect x="1049.8" y="243.2" width="3.6" height="451.6" fill="url(#q80)"/>
<rect x="1052.8" y="243.2" width="3.6" height="451.6" fill="url(#q81)"/>
<rect x="1055.8" y="243.2" width="3.6" height="451.6" fill="url(#q82)"/>
<rect x="1058.8" y="243.2" width="3.6" height="451.6" fill="url(#q83)"/>
<rect x="1061.8" y="243.2" width="3.6" height="451.6" fill="url(#q84)"/>
<rect x="1064.8" y="243.2" width="3.6" height="451.6" fill="url(#q85)"/>
<rect x="1067.8" y="243.2" width="3.6" height="451.6" fill="url(#q86)"/>
<rect x="1070.8" y="243.2" width="3.6" height="451.6" fill="url(#q87)"/>
<rect x="1073.8" y="243.2" width="3.6" height="451.6" fill="url(#q88)"/>
<rect x="1076.8" y="243.2" width="3.6" height="451.6" fill="url(#q89)"/>
<rect x="1079.8" y="243.2" width="3.6" height="451.6" fill="url(#q90)"/>
<rect x="1082.8" y="243.2" width="3.6" height="451.6" fill="url(#q91)"/>
<rect x="1085.8" y="243.2" width="3.6" height="451.6" fill="url(#q92)"/>
<rect x="1088.8" y="243.2" width="3.6" height="451.6" fill="url(#q93)"/>
<rect x="1091.8" y="243.2" width="3.6" height="451.6" fill="url(#q94)"/>
<rect x="1094.8" y="243.2" width="3.6" height="451.6" fill="url(#q95)"/>
<rect x="1097.8" y="243.2" width="3.6" height="451.6" fill="url(#q96)"/>
<rect x="1100.8" y="243.2" width="3.6" height="451.6" fill="url(#q97)"/>
<rect x="1103.8" y="243.2" width="3.6" height="451.6" fill="url(#q98)"/>
<rect x="1106.8" y="243.2" width="3.6" height="451.6" fill="url(#q99)"/>
<rect x="1109.8" y="243.2" width="3.6" height="451.6" fill="url(#q100)"/>
<rect x="1112.8" y="243.2" width="3.6" height="451.6" fill="url(#q101)"/>
<rect x="1115.8" y="243.2" width="3.6" height="451.6" fill="url(#q102)"/>
<rect x="1118.8" y="243.2" width="3.6" height="451.6" fill="url(#q103)"/>
<rect x="1121.8" y="243.2" width="3.6" height="451.6" fill="url(#q104)"/>
<rect x="1124.8" y="243.2" width="3.6" height="451.6" fill="url(#q105)"/>
<rect x="1127.8" y="243.2" width="3.6" height="451.6" fill="url(#q106)"/>
<rect x="1130.8" y="243.2" width="3.6" height="451.6" fill="url(#q107)"/>
<rect x="1133.8" y="243.2" width="3.6" height="451.6" fill="url(#q108)"/>
<rect x="1136.8" y="243.2" width="3.6" height="451.6" fill="url(#q109)"/>
<rect x="1139.8" y="243.2" width="3.6" height="451.6" fill="url(#q110)"/>
<rect x="1142.8" y="243.2" width="3.6" height="451.6" fill="url(#q111)"/>
<rect x="1145.8" y="243.2" width="3.6" height="451.6" fill="url(#q112)"/>
<rect x="1148.8" y="243.2" width="3.6" height="451.6" fill="url(#q113)"/>
<rect x="1151.8" y="243.2" width="3.6" height="451.6" fill="url(#q114)"/>
<rect x="1154.8" y="243.2" width="3.6" height="451.6" fill="url(#q115)"/>
<rect x="1157.8" y="243.2" width="3.6" height="451.6" fill="url(#q116)"/>
<rect x="1160.8" y="243.2" width="3.6" height="451.6" fill="url(#q117)"/>
<rect x="1163.8" y="243.2" width="3.6" height="451.6" fill="url(#q118)"/>
<rect x="1166.8" y="243.2" width="3.6" height="451.6" fill="url(#q119)"/>
<rect x="1169.7" y="243.2" width="3.6" height="451.6" fill="url(#q120)"/>
<rect x="1172.7" y="243.2" width="3.6" height="451.6" fill="url(#q120)"/>
<rect x="1175.7" y="243.2" width="3.6" height="451.6" fill="url(#q121)"/>
<rect x="1178.7" y="243.2" width="3.6" height="451.6" fill="url(#q121)"/>
<rect x="1181.7" y="243.2" width="3.6" height="451.6" fill="url(#q122)"/>
<rect x="1184.7" y="243.2" width="3.6" height="451.6" fill="url(#q123)"/>
<rect x="1187.7" y="243.2" width="3.6" height="451.6" fill="url(#q124)"/>
<rect x="1190.7" y="243.2" width="3.6" height="451.6" fill="url(#q125)"/>
<rect x="1193.7" y="243.2" width="3.6" height="451.6" fill="url(#q126)"/>
<rect x="1196.7" y="243.2" width="3.6" height="451.6" fill="url(#q127)"/>
<rect x="1199.7" y="243.2" width="3.6" height="451.6" fill="url(#q128)"/>
<rect x="1202.7" y="243.2" width="3.6" height="451.6" fill="url(#q129)"/>
<rect x="1205.7" y="243.2" width="3.6" height="451.6" fill="url(#q130)"/>
<rect x="1208.7" y="243.2" width="3.6" height="451.6" fill="url(#q130)"/>
<rect x="1211.7" y="243.2" width="3.6" height="451.6" fill="url(#q131)"/>
<rect x="1214.7" y="243.2" width="3.6" height="451.6" fill="url(#q132)"/>
<rect x="1217.7" y="243.2" width="3.6" height="451.6" fill="url(#q133)"/>
<rect x="1220.7" y="243.2" width="3.6" height="451.6" fill="url(#q134)"/>
<rect x="1223.7" y="243.2" width="3.6" height="451.6" fill="url(#q134)"/>
<rect x="1226.7" y="243.2" width="3.6" height="451.6" fill="url(#q135)"/>
<rect x="1229.7" y="243.2" width="3.6" height="451.6" fill="url(#q136)"/>
<rect x="1232.7" y="243.2" width="3.6" height="451.6" fill="url(#q136)"/>
<rect x="1235.7" y="243.2" width="3.6" height="451.6" fill="url(#q136)"/>
<rect x="1238.7" y="243.2" width="3.6" height="451.6" fill="url(#q137)"/>
<rect x="1241.7" y="243.2" width="3.6" height="451.6" fill="url(#q138)"/>
<rect x="1244.7" y="243.2" width="3.6" height="451.6" fill="url(#q139)"/>
<rect x="1247.7" y="243.2" width="3.6" height="451.6" fill="url(#q139)"/>
<rect x="1250.7" y="243.2" width="15.6" height="451.6" fill="url(#q139)"/>
</g></g>
<path d="M869.2 684.8v-5.8M869.2 253.2v5.8M997.4 684.8v-5.8M997.4 253.2v5.8M1125.5 684.8v-5.8M1125.5 253.2v5.8M805.1 684.8v-3M805.1 253.2v3M933.3 684.8v-3M933.3 253.2v3M1061.4 684.8v-3M1061.4 253.2v3M1189.6 684.8v-3M1189.6 253.2v3M741 624.2h5.8M1253.7 624.2h-5.8M741 562.1h5.8M1253.7 562.1h-5.8M741 500.1h5.8M1253.7 500.1h-5.8M741 438h5.8M1253.7 438h-5.8M741 375.9h5.8M1253.7 375.9h-5.8M741 313.8h5.8M1253.7 313.8h-5.8M741 655.3h3M1253.7 655.3h-3M741 593.2h3M1253.7 593.2h-3M741 531.1h3M1253.7 531.1h-3M741 469h3M1253.7 469h-3M741 406.9h3M1253.7 406.9h-3M741 344.9h3M1253.7 344.9h-3M741 282.8h3M1253.7 282.8h-3" stroke="#ffccff" stroke-width="1.8" fill="none"/>
<text x="740" y="710.3" font-size="20" text-anchor="middle" fill="#000" stroke="#000">450</text>
<text x="868.8" y="710.3" font-size="20" text-anchor="middle" fill="#000" stroke="#000">525</text>
<text x="997.6" y="710.3" font-size="20" text-anchor="middle" fill="#000" stroke="#000">600</text>
<text x="1126.5" y="710.3" font-size="20" text-anchor="middle" fill="#000" stroke="#000">675</text>
<text x="1255.3" y="710.3" font-size="20" text-anchor="middle" fill="#000" stroke="#000">750</text>
<text x="732.5" y="691.6" font-size="20" text-anchor="end" fill="#000" stroke="#000">0</text>
<text x="732.5" y="627.7" font-size="20" text-anchor="end" fill="#000" stroke="#000">10</text>
<text x="732.5" y="565.6" font-size="20" text-anchor="end" fill="#000" stroke="#000">20</text>
<text x="732.5" y="503.6" font-size="20" text-anchor="end" fill="#000" stroke="#000">30</text>
<text x="732.5" y="441.5" font-size="20" text-anchor="end" fill="#000" stroke="#000">40</text>
<text x="732.5" y="379.4" font-size="20" text-anchor="end" fill="#000" stroke="#000">50</text>
<text x="732.5" y="317.3" font-size="20" text-anchor="end" fill="#000" stroke="#000">60</text>
<text x="732.5" y="255.2" font-size="20" text-anchor="end" fill="#000" stroke="#000">70</text>
<text x="692" y="470.7" font-size="26.5" text-anchor="middle" fill="#000" stroke="#000" transform="rotate(-90 692 470.7)">Angle (deg)</text>
<text x="996.9" y="739.5" font-size="26.9" text-anchor="middle" fill="#000" stroke="#000">Wavelength (nm)</text>
<text x="791" y="337.8" font-size="52" text-anchor="middle" fill="#fff" stroke="#fff">4</text>
<rect x="1141.5" y="353" width="99.5" height="322.5" fill="#fff"/>
<rect x="1158.5" y="370.2" width="24.5" height="290.1" fill="url(#cbA4)"/>
<text x="1198.5" y="376.8" font-size="18.3" text-anchor="start" fill="#000" stroke="#000">1.0</text>
<text x="1198.5" y="449.3" font-size="18.3" text-anchor="start" fill="#000" stroke="#000">0.75</text>
<text x="1198.5" y="521.8" font-size="18.3" text-anchor="start" fill="#000" stroke="#000">0.50</text>
<text x="1198.5" y="594.4" font-size="18.3" text-anchor="start" fill="#000" stroke="#000">0.25</text>
<text x="1198.5" y="666.9" font-size="18.3" text-anchor="start" fill="#000" stroke="#000">0.0</text>
<rect x="740.2" y="253.2" width="1" height="431.6" fill="#ffc4ff"/>
<rect x="1305.8" y="252" width="234.8" height="434.3" fill="none" stroke="#000" stroke-width="1.7"/>
<path d="M1325.2 686.3v-7M1325.2 252v7M1364.2 686.3v-7M1364.2 252v7M1403.2 686.3v-7M1403.2 252v7M1442.2 686.3v-7M1442.2 252v7M1481.2 686.3v-7M1481.2 252v7M1520.2 686.3v-7M1520.2 252v7M1344.7 686.3v-4M1344.7 252v4M1383.7 686.3v-4M1383.7 252v4M1422.7 686.3v-4M1422.7 252v4M1461.7 686.3v-4M1461.7 252v4M1500.7 686.3v-4M1500.7 252v4M1305.8 673.5h7M1540.6 673.5h-7M1305.8 615h7M1540.6 615h-7M1305.8 556.5h7M1540.6 556.5h-7M1305.8 498.1h7M1540.6 498.1h-7M1305.8 439.6h7M1540.6 439.6h-7M1305.8 381.1h7M1540.6 381.1h-7M1305.8 322.6h7M1540.6 322.6h-7M1305.8 264.1h7M1540.6 264.1h-7M1305.8 644.3h4M1540.6 644.3h-4M1305.8 585.8h4M1540.6 585.8h-4M1305.8 527.3h4M1540.6 527.3h-4M1305.8 468.8h4M1540.6 468.8h-4M1305.8 410.3h4M1540.6 410.3h-4M1305.8 351.9h4M1540.6 351.9h-4M1305.8 293.4h4M1540.6 293.4h-4" stroke="#000" stroke-width="1.5" fill="none"/>
<text x="1325.2" y="707.6" font-size="20" text-anchor="middle" fill="#000" stroke="#000">0.0</text>
<text x="1364.2" y="707.6" font-size="20" text-anchor="middle" fill="#000" stroke="#000">0.2</text>
<text x="1403.2" y="707.6" font-size="20" text-anchor="middle" fill="#000" stroke="#000">0.4</text>
<text x="1442.2" y="707.6" font-size="20" text-anchor="middle" fill="#000" stroke="#000">0.6</text>
<text x="1481.2" y="707.6" font-size="20" text-anchor="middle" fill="#000" stroke="#000">0.8</text>
<text x="1520.2" y="707.6" font-size="20" text-anchor="middle" fill="#000" stroke="#000">1.0</text>
<text x="1288.5" y="680.7" font-size="20" text-anchor="end" fill="#000" stroke="#000">0</text>
<text x="1288.5" y="622.2" font-size="20" text-anchor="end" fill="#000" stroke="#000">10</text>
<text x="1288.5" y="563.7" font-size="20" text-anchor="end" fill="#000" stroke="#000">20</text>
<text x="1288.5" y="505.3" font-size="20" text-anchor="end" fill="#000" stroke="#000">30</text>
<text x="1288.5" y="446.8" font-size="20" text-anchor="end" fill="#000" stroke="#000">40</text>
<text x="1288.5" y="388.3" font-size="20" text-anchor="end" fill="#000" stroke="#000">50</text>
<text x="1288.5" y="329.8" font-size="20" text-anchor="end" fill="#000" stroke="#000">60</text>
<text x="1288.5" y="271.3" font-size="20" text-anchor="end" fill="#000" stroke="#000">70</text>
<text x="1424" y="736.5" font-size="26.5" text-anchor="middle" fill="#000" stroke="#000">Norm. PL Intensity (a.u.)</text>
<text x="1520" y="340.5" font-size="52" text-anchor="middle" fill="#000" stroke="#000">5</text>
<rect x="1516.2" y="667.5" width="12" height="12" fill="#0000f0"/>
<path d="M1502.3 615H1521.8M1502.3 603v24M1521.8 603v24" stroke="#0000f0" stroke-width="1.9" fill="none"/>
<rect x="1506" y="609" width="12" height="12" fill="#0000f0"/>
<path d="M1493.3 556.5H1506.6M1493.3 544.5v24M1506.6 544.5v24" stroke="#0000f0" stroke-width="1.9" fill="none"/>
<rect x="1493.9" y="550.5" width="12" height="12" fill="#0000f0"/>
<path d="M1474 498.1H1493.5M1474 486.1v24M1493.5 486.1v24" stroke="#0000f0" stroke-width="1.9" fill="none"/>
<rect x="1477.7" y="492.1" width="12" height="12" fill="#0000f0"/>
<path d="M1455.8 439.6H1476.9M1455.8 427.6v24M1476.9 427.6v24" stroke="#0000f0" stroke-width="1.9" fill="none"/>
<rect x="1460.4" y="433.6" width="12" height="12" fill="#0000f0"/>
<path d="M1377.5 381.1H1411M1377.5 369.1v24M1411 369.1v24" stroke="#0000f0" stroke-width="1.9" fill="none"/>
<rect x="1388.2" y="375.1" width="12" height="12" fill="#0000f0"/>
<path d="M1344.1 322.6H1375.3M1344.1 310.6v24M1375.3 310.6v24" stroke="#0000f0" stroke-width="1.9" fill="none"/>
<rect x="1353.7" y="316.6" width="12" height="12" fill="#0000f0"/>
<path d="M1333.9 264.1H1350.9M1333.9 252.1v24M1350.9 252.1v24" stroke="#0000f0" stroke-width="1.9" fill="none"/>
<rect x="1336.4" y="258.1" width="12" height="12" fill="#0000f0"/>
<polyline points="1520.2,673.5 1515.9,615 1501.9,556.5 1485.7,498.1 1467.5,439.6 1441.6,381.1 1417.6,322.6 1378.4,264.1" stroke="#f01010" stroke-width="1.6" fill="none"/>
<ellipse cx="1520.2" cy="673.5" rx="7.2" ry="6.5" fill="#f01010"/>
<path d="M1510.1 615H1521.8M1510.1 603v24M1521.8 603v24" stroke="#f01010" stroke-width="1.9" fill="none"/>
<ellipse cx="1515.9" cy="615" rx="7.2" ry="6.5" fill="#f01010"/>
<path d="M1494.9 556.5H1508.9M1494.9 544.5v24M1508.9 544.5v24" stroke="#f01010" stroke-width="1.9" fill="none"/>
<ellipse cx="1501.9" cy="556.5" rx="7.2" ry="6.5" fill="#f01010"/>
<path d="M1476.5 498.1H1494.9M1476.5 486.1v24M1494.9 486.1v24" stroke="#f01010" stroke-width="1.9" fill="none"/>
<ellipse cx="1485.7" cy="498.1" rx="7.2" ry="6.5" fill="#f01010"/>
<path d="M1450 439.6H1485.1M1450 427.6v24M1485.1 427.6v24" stroke="#f01010" stroke-width="1.9" fill="none"/>
<ellipse cx="1467.5" cy="439.6" rx="7.2" ry="6.5" fill="#f01010"/>
<path d="M1420.6 381.1H1462.7M1420.6 369.1v24M1462.7 369.1v24" stroke="#f01010" stroke-width="1.9" fill="none"/>
<ellipse cx="1441.6" cy="381.1" rx="7.2" ry="6.5" fill="#f01010"/>
<path d="M1397.7 322.6H1437.5M1397.7 310.6v24M1437.5 310.6v24" stroke="#f01010" stroke-width="1.9" fill="none"/>
<ellipse cx="1417.6" cy="322.6" rx="7.2" ry="6.5" fill="#f01010"/>
<path d="M1366.2 264.1H1390.6M1366.2 252.1v24M1390.6 252.1v24" stroke="#f01010" stroke-width="1.9" fill="none"/>
<ellipse cx="1378.4" cy="264.1" rx="7.2" ry="6.5" fill="#f01010"/>
<rect x="1316" y="551.5" width="11" height="11" fill="#0000f0"/>
<text x="1331" y="565.4" font-size="21.3" text-anchor="start" fill="#000" stroke="#000">Microstructured</text>
<ellipse cx="1320" cy="585.7" rx="6" ry="5.6" fill="#f01010"/>
<text x="1331" y="592.8" font-size="21" text-anchor="start" fill="#000" stroke="#000">Film</text>
<path d="M1306 612.5L1333.3 612.5" stroke="#f01010" stroke-width="1.6"/>
<text x="1338" y="620.7" font-size="21" text-anchor="start" fill="#000" stroke="#000">Lambertian</text>
<text x="1338" y="648.7" font-size="21" text-anchor="start" fill="#000" stroke="#000">interpolation</text>
<text x="1338" y="677.2" font-size="21" text-anchor="start" fill="#000" stroke="#000">(R<tspan font-size="13" dy="-8">2</tspan><tspan dy="8">=0.99)</tspan></text>
<clipPath id="clb1"><rect x="107.6" y="846.4" width="516" height="187.2"/></clipPath>
<g clip-path="url(#clb1)">
<polyline points="107.6,1031.7 110.6,1032.1 113.6,1032.1 116.6,1032.1 119.6,1031.2 122.6,1031.5 125.6,1031 128.6,1031.6 131.6,1031 134.6,1032.1 137.6,1032 140.6,1032.1 143.6,1031.5 146.5,1031.4 149.5,1031.6 152.5,1031.4 155.5,1031.2 158.5,1030.6 161.5,1030.5 164.5,1030.2 167.5,1030.2 170.5,1030.7 173.5,1031.2 176.5,1030.6 179.5,1029.9 182.5,1029.2 185.5,1029.3 188.5,1029.1 191.5,1028.7 194.5,1028.2 197.5,1027.8 200.5,1026.7 203.5,1025.9 206.5,1025.2 209.5,1025.2 212.5,1024.2 215.5,1022.2 218.5,1019.7 221.5,1017.4 224.4,1015.2 227.4,1012.9 230.4,1010 233.4,1005.9 236.4,1001.4 239.4,995.7 242.4,991.2 245.4,986.2 248.4,981.5 251.4,975.7 254.4,969.9 257.4,964 260.4,957.5 263.4,950.7 266.4,944.4 269.4,938.4 272.4,932.6 275.4,926.8 278.4,921.6 281.4,916.5 284.4,911.2 287.4,906.1 290.4,901.4 293.4,897 296.4,893 299.4,889.2 302.3,885.7 305.3,882 308.3,878.7 311.3,875.4 314.3,873.1 317.3,870.8 320.3,869.1 323.3,867.5 326.3,866.9 329.3,866.3 332.3,865.7 335.3,865 338.3,864.3 341.3,863.6 344.3,863.3 347.3,862.9 350.3,863.5 353.3,863.9 356.3,865 359.3,865.9 362.3,866.7 365.3,867.6 368.3,868 371.3,869 374.3,869.9 377.3,871.4 380.2,873.2 383.2,874.7 386.2,876.3 389.2,877.3 392.2,878.9 395.2,880 398.2,881.8 401.2,883.4 404.2,885.5 407.2,887.4 410.2,889.2 413.2,890.9 416.2,893 419.2,894.9 422.2,896.5 425.2,898.3 428.2,900.5 431.2,903.4 434.2,905.8 437.2,907.5 440.2,909.4 443.2,911 446.2,912.9 449.2,914.3 452.2,916.6 455.2,918.8 458.1,921.3 461.1,922.9 464.1,925 467.1,927.2 470.1,928.9 473.1,930.8 476.1,932.7 479.1,934.7 482.1,936.6 485.1,938.5 488.1,940.6 491.1,942.3 494.1,944.1 497.1,946.1 500.1,948.5 503.1,950.5 506.1,952.5 509.1,954 512.1,955.6 515.1,957.6 518.1,959.3 521.1,960.9 524.1,961.9 527.1,963.8 530.1,965.2 533.1,967 536,968.5 539,970.5 542,971.7 545,972.5 548,973.3 551,974.6 554,976.4 557,978.1 560,979.7 563,980.6 566,982.1 569,982.9 572,983.8 575,984.5 578,985.4 581,986.7 584,988 587,989.2 590,989.5 593,989.7 596,990.5 599,991.3 602,992.4 605,992.6 608,993.5 610.9,994.3 613.9,995.2 616.9,996.2 619.9,997 622.9,997.8" stroke="#1010e0" stroke-width="2.6" fill="none" stroke-linejoin="round"/>
<polyline points="107.6,1032 110.6,1032 113.6,1031.7 116.6,1031.8 119.6,1031.4 122.6,1031.5 125.6,1031.6 128.6,1031.6 131.6,1031.1 134.6,1030.9 137.6,1031.6 140.6,1032.1 143.6,1032 146.5,1031.5 149.5,1030.8 152.5,1031.2 155.5,1031 158.5,1031.4 161.5,1030.6 164.5,1030.6 167.5,1030 170.5,1030.4 173.5,1030.5 176.5,1030.9 179.5,1030.6 182.5,1030.2 185.5,1029.2 188.5,1028.3 191.5,1027.5 194.5,1027.5 197.5,1027.3 200.5,1026.9 203.5,1025.6 206.5,1024.7 209.5,1023.3 212.5,1022.3 215.5,1021.1 218.5,1019.3 221.5,1017.2 224.4,1014.2 227.4,1011.2 230.4,1007.7 233.4,1003.9 236.4,999 239.4,994.3 242.4,989.5 245.4,984.9 248.4,979.6 251.4,973.7 254.4,967.3 257.4,960.4 260.4,954.3 263.4,948.3 266.4,942.8 269.4,936.7 272.4,931.1 275.4,925.7 278.4,919.9 281.4,914.7 284.4,909.6 287.4,905 290.4,900.4 293.4,896 296.4,891.5 299.4,887.5 302.3,883.8 305.3,880.8 308.3,878.3 311.3,876 314.3,873.9 317.3,871.5 320.3,869.7 323.3,868.5 326.3,867.5 329.3,866.3 332.3,865.6 335.3,864.5 338.3,864.1 341.3,863.3 344.3,863.3 347.3,863.3 350.3,863.7 353.3,863.9 356.3,864.8 359.3,865.5 362.3,866.7 365.3,867.7 368.3,868.7 371.3,869.9 374.3,870 377.3,871.3 380.2,872.6 383.2,874.4 386.2,875.6 389.2,877.5 392.2,879.2 395.2,880.9 398.2,882.2 401.2,883.8 404.2,885.4 407.2,887.1 410.2,889.1 413.2,891.5 416.2,893.5 419.2,895.4 422.2,897.2 425.2,899.2 428.2,901.5 431.2,903 434.2,904.5 437.2,906.5 440.2,908.9 443.2,911.5 446.2,913.2 449.2,915.2 452.2,917.1 455.2,919.5 458.1,921.5 461.1,923.8 464.1,925.5 467.1,927.7 470.1,929.3 473.1,931.4 476.1,932.9 479.1,935 482.1,936.7 485.1,939.2 488.1,940.9 491.1,943.1 494.1,944.7 497.1,946.6 500.1,948.1 503.1,950.5 506.1,952.2 509.1,954.5 512.1,955.4 515.1,957.7 518.1,959.3 521.1,961.7 524.1,962.5 527.1,964.1 530.1,965.2 533.1,967.3 536,968.9 539,970.5 542,971.6 545,972.5 548,973.5 551,975.1 554,976.3 557,977.9 560,979 563,979.7 566,980.7 569,981.9 572,983.6 575,984.9 578,985.6 581,986.7 584,987.7 587,989 590,989.6 593,989.8 596,991.2 599,991.7 602,992.8 605,993.3 608,994.3 610.9,995 613.9,995 616.9,995.8 619.9,997 622.9,998" stroke="#3030e8" stroke-width="2.6" fill="none" stroke-linejoin="round"/>
<polyline points="107.6,1031.1 110.6,1031.2 113.6,1032 116.6,1032 119.6,1031.9 122.6,1031.1 125.6,1031.4 128.6,1031.4 131.6,1031.8 134.6,1031.4 137.6,1031 140.6,1031.3 143.6,1031.9 146.5,1031.7 149.5,1031.2 152.5,1031.2 155.5,1031.5 158.5,1031.3 161.5,1030.8 164.5,1030.8 167.5,1030.7 170.5,1030.6 173.5,1030.2 176.5,1030 179.5,1029.7 182.5,1029.5 185.5,1028.5 188.5,1027.9 191.5,1027.4 194.5,1027 197.5,1026.4 200.5,1025.4 203.5,1024.7 206.5,1023.4 209.5,1021.9 212.5,1020.4 215.5,1019 218.5,1017 221.5,1014.5 224.4,1011.9 227.4,1009.4 230.4,1006.4 233.4,1002.1 236.4,997 239.4,991.5 242.4,987 245.4,982 248.4,976.9 251.4,970.6 254.4,964.6 257.4,958.3 260.4,952.3 263.4,946.9 266.4,941.2 269.4,935.9 272.4,929.7 275.4,923.9 278.4,917.9 281.4,912.7 284.4,907.9 287.4,903.4 290.4,899.2 293.4,894.6 296.4,890.4 299.4,886.7 302.3,883.3 305.3,880.3 308.3,877.5 311.3,874.8 314.3,872 317.3,870.1 320.3,868.8 323.3,868.6 326.3,867.6 329.3,866.7 332.3,865.9 335.3,865.1 338.3,864.3 341.3,863.6 344.3,863.6 347.3,864.1 350.3,864.1 353.3,864.8 356.3,865.3 359.3,865.8 362.3,866.3 365.3,867.1 368.3,868.6 371.3,870 374.3,871.1 377.3,872 380.2,873.2 383.2,874.4 386.2,875.7 389.2,876.8 392.2,878.9 395.2,881.2 398.2,883.6 401.2,884.7 404.2,886.1 407.2,887.2 410.2,889.5 413.2,891.8 416.2,893.8 419.2,895.5 422.2,897.4 425.2,899.4 428.2,901.3 431.2,903 434.2,905.4 437.2,908.1 440.2,910.3 443.2,912.1 446.2,913.7 449.2,915.7 452.2,918 455.2,919.7 458.1,921.6 461.1,923.3 464.1,925.7 467.1,927.9 470.1,929.8 473.1,931.8 476.1,933.9 479.1,936 482.1,937.4 485.1,939 488.1,940.4 491.1,942.6 494.1,944.6 497.1,947.2 500.1,949.1 503.1,950.4 506.1,951.7 509.1,953.1 512.1,955.1 515.1,956.9 518.1,958.8 521.1,960.6 524.1,962.1 527.1,963.5 530.1,965 533.1,966.7 536,968.4 539,970.1 542,971.7 545,972.6 548,974.4 551,975.6 554,976.5 557,977.3 560,978.8 563,980.6 566,981.4 569,982.2 572,983.2 575,984.5 578,985.6 581,985.9 584,986.8 587,987.8 590,989.5 593,990.3 596,990.9 599,991.4 602,992.2 605,993.4 608,994.2 610.9,995 613.9,995.4 616.9,996.6 619.9,997.4 622.9,997.9" stroke="#5050e0" stroke-width="2.6" fill="none" stroke-linejoin="round"/>
<polyline points="107.6,1031.9 110.6,1032.1 113.6,1032 116.6,1032 119.6,1031.9 122.6,1032 125.6,1032.1 128.6,1031.8 131.6,1032.1 134.6,1032.1 137.6,1032.1 140.6,1032.1 143.6,1031.7 146.5,1031.4 149.5,1031.1 152.5,1031.4 155.5,1030.6 158.5,1030.3 161.5,1029.6 164.5,1030.3 167.5,1030.6 170.5,1030.4 173.5,1029.9 176.5,1029.4 179.5,1029.2 182.5,1029.1 185.5,1028.4 188.5,1028 191.5,1027 194.5,1026.8 197.5,1026 200.5,1025.6 203.5,1024.3 206.5,1022.9 209.5,1021 212.5,1019.3 215.5,1017.4 218.5,1016.1 221.5,1013.6 224.4,1011.1 227.4,1007 230.4,1003.5 233.4,999.5 236.4,995 239.4,990 242.4,984.4 245.4,979.5 248.4,974.3 251.4,968.4 254.4,962.2 257.4,955.2 260.4,949.4 263.4,943.5 266.4,938.3 269.4,932.3 272.4,926.9 275.4,921.3 278.4,916.5 281.4,910.7 284.4,906.3 287.4,902.1 290.4,898 293.4,893.5 296.4,888.5 299.4,884.5 302.3,881.1 305.3,878.8 308.3,876.8 311.3,874.6 314.3,872.6 317.3,870.6 320.3,869.7 323.3,868.3 326.3,867.3 329.3,865.1 332.3,864.2 335.3,863.7 338.3,863.7 341.3,863.9 344.3,863.8 347.3,864.6 350.3,864.2 353.3,864.5 356.3,865 359.3,866.1 362.3,866.9 365.3,867.4 368.3,868.3 371.3,869.8 374.3,871.1 377.3,872.2 380.2,873 383.2,874.4 386.2,876.2 389.2,877.7 392.2,879.4 395.2,880.5 398.2,882.5 401.2,883.8 404.2,885.4 407.2,887.1 410.2,888.9 413.2,891.4 416.2,893.6 419.2,895.6 422.2,896.9 425.2,898.4 428.2,900 431.2,902.3 434.2,904.7 437.2,907.1 440.2,909.2 443.2,911.3 446.2,913.9 449.2,915.7 452.2,918 455.2,919.5 458.1,922.1 461.1,923.5 464.1,925.9 467.1,927.3 470.1,930 473.1,931.8 476.1,933.7 479.1,935.4 482.1,937.3 485.1,939.6 488.1,941.9 491.1,943.7 494.1,945.3 497.1,946.8 500.1,948.5 503.1,950.6 506.1,952.4 509.1,954.3 512.1,956 515.1,956.8 518.1,958.9 521.1,960.3 524.1,962.2 527.1,963.9 530.1,966.1 533.1,967.8 536,968.9 539,969.8 542,971 545,972.3 548,974 551,976.3 554,977.5 557,978.7 560,979.2 563,980.3 566,981.6 569,982.4 572,983.3 575,983.8 578,985.5 581,986.8 584,988.1 587,988.8 590,989.9 593,990.4 596,991.1 599,991.5 602,992.5 605,993 608,993.8 610.9,995.1 613.9,996.2 616.9,997 619.9,996.7 622.9,997.2" stroke="#7070e8" stroke-width="2.6" fill="none" stroke-linejoin="round"/>
<polyline points="107.6,1031.8 110.6,1032 113.6,1031.7 116.6,1031.8 119.6,1031.7 122.6,1032.1 125.6,1031.8 128.6,1031.8 131.6,1032 134.6,1031.9 137.6,1031.9 140.6,1031.3 143.6,1031.3 146.5,1030.7 149.5,1030.4 152.5,1030.5 155.5,1030.7 158.5,1031.2 161.5,1030.4 164.5,1030.1 167.5,1029.2 170.5,1029.5 173.5,1029.8 176.5,1029.4 179.5,1029 182.5,1028 185.5,1027.9 188.5,1027.2 191.5,1026.6 194.5,1026.4 197.5,1025.6 200.5,1025 203.5,1023.6 206.5,1022.1 209.5,1020 212.5,1018.1 215.5,1016.8 218.5,1014.8 221.5,1012.1 224.4,1008.6 227.4,1005.4 230.4,1001.7 233.4,997.6 236.4,992.7 239.4,987.5 242.4,982.1 245.4,977.2 248.4,971.7 251.4,965.8 254.4,959.6 257.4,953.5 260.4,947.1 263.4,941.3 266.4,935.5 269.4,930.6 272.4,925.2 275.4,920.5 278.4,915.1 281.4,909.9 284.4,904.2 287.4,899.5 290.4,895.3 293.4,891.7 296.4,888.3 299.4,884.9 302.3,881.5 305.3,878.8 308.3,876 311.3,874 314.3,872.2 317.3,870.8 320.3,869.6 323.3,868.5 326.3,867 329.3,865.8 332.3,864.6 335.3,864 338.3,863.2 341.3,863.1 344.3,863 347.3,863.4 350.3,863.6 353.3,864.4 356.3,865.5 359.3,866.5 362.3,867.5 365.3,868 368.3,868.9 371.3,869.9 374.3,870.8 377.3,871.4 380.2,872.4 383.2,873.6 386.2,875.6 389.2,877.4 392.2,879.3 395.2,881 398.2,882.8 401.2,884.3 404.2,886 407.2,887.8 410.2,889.9 413.2,891.2 416.2,892.8 419.2,894.6 422.2,897.1 425.2,899.3 428.2,901.8 431.2,903.7 434.2,905.2 437.2,907.4 440.2,909 443.2,911.8 446.2,913.6 449.2,915.8 452.2,917.4 455.2,919.3 458.1,921.8 461.1,923.9 464.1,926.2 467.1,927.1 470.1,929.2 473.1,930.9 476.1,933.8 479.1,935.8 482.1,938.1 485.1,939.5 488.1,941.4 491.1,942.8 494.1,945.1 497.1,946.9 500.1,948.5 503.1,950.4 506.1,952.5 509.1,954.4 512.1,956.2 515.1,957.6 518.1,959.2 521.1,960.8 524.1,962.1 527.1,964.1 530.1,965.1 533.1,966.5 536,967.9 539,969.7 542,971.7 545,972.9 548,973.9 551,975.3 554,976.4 557,978.3 560,979.4 563,981.3 566,981.6 569,982.5 572,983.1 575,984.8 578,985.5 581,987.1 584,987.8 587,988.4 590,988.9 593,989.7 596,990.9 599,991.8 602,992.6 605,993.3 608,993.7 610.9,994.4 613.9,995.4 616.9,996 619.9,996.8 622.9,997.4" stroke="#8888f0" stroke-width="2.6" fill="none" stroke-linejoin="round"/>
<polyline points="107.6,1031.1 110.6,1031.2 113.6,1032.1 116.6,1032.1 119.6,1031.9 122.6,1031.5 125.6,1032.1 128.6,1032.1 131.6,1032.1 134.6,1031.8 137.6,1031.6 140.6,1031.6 143.6,1031 146.5,1030.7 149.5,1030.7 152.5,1031 155.5,1030.4 158.5,1029.9 161.5,1029.7 164.5,1030.2 167.5,1030.4 170.5,1030 173.5,1029.5 176.5,1028.7 179.5,1028.4 182.5,1027.6 185.5,1027.2 188.5,1026.6 191.5,1026.3 194.5,1025.9 197.5,1024.7 200.5,1023.8 203.5,1022.5 206.5,1021.3 209.5,1019.2 212.5,1017.3 215.5,1015.7 218.5,1013.2 221.5,1010.1 224.4,1006.1 227.4,1002.5 230.4,998.3 233.4,994.6 236.4,989.9 239.4,985.7 242.4,980.6 245.4,975.1 248.4,968.9 251.4,963.2 254.4,956.9 257.4,951.3 260.4,945.4 263.4,940.2 266.4,935 269.4,929.3 272.4,923.7 275.4,918.1 278.4,912.9 281.4,908.1 284.4,903.5 287.4,899.7 290.4,895.4 293.4,891.6 296.4,887.6 299.4,884.1 302.3,880.8 305.3,878.4 308.3,876.4 311.3,874.2 314.3,871.6 317.3,869.4 320.3,867.8 323.3,866.6 326.3,865.7 329.3,865.1 332.3,864.9 335.3,864.7 338.3,864.4 341.3,863.8 344.3,863.5 347.3,863.6 350.3,864.1 353.3,864.6 356.3,865.2 359.3,865.9 362.3,866.8 365.3,868 368.3,869.3 371.3,870.2 374.3,871 377.3,871.8 380.2,873.3 383.2,874.2 386.2,875.8 389.2,877.3 392.2,879.5 395.2,881.3 398.2,883 401.2,884.4 404.2,885.6 407.2,887.2 410.2,889.3 413.2,891.3 416.2,893.1 419.2,895.2 422.2,897.3 425.2,899.5 428.2,901.3 431.2,903.1 434.2,905 437.2,907.8 440.2,909.7 443.2,911.3 446.2,912.5 449.2,914.9 452.2,917.7 455.2,920 458.1,922.1 461.1,923.7 464.1,925.8 467.1,927.3 470.1,929.1 473.1,931.5 476.1,933.6 479.1,936.1 482.1,937.9 485.1,940.1 488.1,941.9 491.1,943.1 494.1,945.2 497.1,946.7 500.1,948.2 503.1,949.4 506.1,951.3 509.1,953.6 512.1,955.8 515.1,957.5 518.1,959.1 521.1,960.3 524.1,961.4 527.1,962.9 530.1,964.6 533.1,966.4 536,968.4 539,970.2 542,972 545,973.2 548,974.1 551,975.4 554,976.1 557,977.1 560,978.1 563,979.8 566,981.2 569,982.3 572,983.6 575,984.7 578,985.7 581,986.4 584,987 587,987.7 590,988.9 593,990.1 596,991.4 599,991.8 602,992.9 605,993.2 608,993.9 610.9,994.2 613.9,995.2 616.9,996.3 619.9,996.8 622.9,997.4" stroke="#a8a8f0" stroke-width="2.6" fill="none" stroke-linejoin="round"/>
<polyline points="107.6,1031.4 110.6,1031.2 113.6,1031 116.6,1030.9 119.6,1030.9 122.6,1030.7 125.6,1031.5 128.6,1031.3 131.6,1031.7 134.6,1031.3 137.6,1031.4 140.6,1031.2 143.6,1030.6 146.5,1030.9 149.5,1030.9 152.5,1031.3 155.5,1030.4 158.5,1030.3 161.5,1029.8 164.5,1030 167.5,1029.4 170.5,1029 173.5,1028.6 176.5,1028.4 179.5,1028.6 182.5,1027.9 185.5,1027.2 188.5,1026.4 191.5,1025.5 194.5,1025.6 197.5,1025 200.5,1024.5 203.5,1022.6 206.5,1020.4 209.5,1018.2 212.5,1016 215.5,1013.6 218.5,1011.3 221.5,1008.6 224.4,1005.6 227.4,1001.1 230.4,997.2 233.4,992.5 236.4,988.1 239.4,982.8 242.4,978 245.4,972.9 248.4,967 251.4,960.5 254.4,954.6 257.4,948.7 260.4,943.3 263.4,937.3 266.4,931.7 269.4,926.4 272.4,921.7 275.4,916.8 278.4,911.2 281.4,905.9 284.4,901.5 287.4,897.1 290.4,893.4 293.4,889.4 296.4,886.4 299.4,882.8 302.3,880.1 305.3,877 308.3,874.9 311.3,872.8 314.3,871.6 317.3,869.6 320.3,868.4 323.3,867 326.3,866.5 329.3,865.6 332.3,864.7 335.3,863.9 338.3,863.3 341.3,863.3 344.3,863.4 347.3,864.2 350.3,864.5 353.3,864.9 356.3,864.9 359.3,866.5 362.3,867.8 365.3,869.6 368.3,870.2 371.3,870.5 374.3,870.8 377.3,871.7 380.2,873.1 383.2,874.4 386.2,876 389.2,877.5 392.2,879.3 395.2,881.5 398.2,883.5 401.2,884.9 404.2,886.2 407.2,887.9 410.2,890.2 413.2,892 416.2,893.6 419.2,895.4 422.2,897.5 425.2,900.6 428.2,902.7 431.2,904.9 434.2,906.7 437.2,908.4 440.2,909.8 443.2,911.8 446.2,913.9 449.2,916 452.2,917.7 455.2,919.7 458.1,922.2 461.1,924.2 464.1,926.8 467.1,928.6 470.1,930.1 473.1,932 476.1,934 479.1,936.4 482.1,938 485.1,939.7 488.1,941.1 491.1,943.3 494.1,945.3 497.1,947.5 500.1,949.1 503.1,950.8 506.1,952.3 509.1,953.6 512.1,955.3 515.1,957.1 518.1,958.9 521.1,960.6 524.1,962.4 527.1,964.6 530.1,966 533.1,967.1 536,968.4 539,969.9 542,971.1 545,972.2 548,973.9 551,975.5 554,977 557,977.7 560,979 563,980.4 566,981.9 569,983.4 572,984.3 575,985.4 578,985.8 581,987 584,987.9 587,989.2 590,990 593,990.6 596,991.3 599,991.7 602,992.9 605,993.5 608,994.8 610.9,995.3 613.9,996.2 616.9,996.3 619.9,996.8 622.9,997.3" stroke="#d0d0f8" stroke-width="2.6" fill="none" stroke-linejoin="round"/>
<polyline points="107.6,1031.5 110.6,1031.5 113.6,1031.3 116.6,1031.3 119.6,1031.3 122.6,1031.5 125.6,1031.6 128.6,1031.6 131.6,1031.4 134.6,1031.1 137.6,1030.7 140.6,1030.7 143.6,1031.2 146.5,1031.3 149.5,1031.1 152.5,1030.3 155.5,1030.2 158.5,1030 161.5,1029.9 164.5,1029.7 167.5,1029.3 170.5,1028.8 173.5,1027.9 176.5,1027.3 179.5,1027.1 182.5,1027.3 185.5,1026.7 188.5,1026.2 191.5,1025.2 194.5,1024.7 197.5,1023.6 200.5,1022.3 203.5,1020.5 206.5,1018.4 209.5,1016.3 212.5,1014.7 215.5,1013 218.5,1010.8 221.5,1007.4 224.4,1003.4 227.4,998.9 230.4,994.6 233.4,990.3 236.4,986 239.4,981.6 242.4,976.9 245.4,971.4 248.4,964.9 251.4,958.8 254.4,952.3 257.4,946.5 260.4,940.7 263.4,935.7 266.4,930.7 269.4,925.3 272.4,919.9 275.4,914.6 278.4,909.4 281.4,904.6 284.4,900.2 287.4,896.2 290.4,892.5 293.4,888.7 296.4,885.5 299.4,882.2 302.3,879.5 305.3,876.9 308.3,874.1 311.3,872.3 314.3,870.4 317.3,869.4 320.3,868.5 323.3,867.6 326.3,867.1 329.3,866.1 332.3,865.2 335.3,864.2 338.3,863.3 341.3,863 344.3,862.8 347.3,863.3 350.3,864 353.3,864.6 356.3,865.6 359.3,866.4 362.3,867.2 365.3,867.8 368.3,868.5 371.3,869.7 374.3,870.7 377.3,872.1 380.2,873.5 383.2,875.4 386.2,876.5 389.2,878.3 392.2,879.3 395.2,880.9 398.2,882.7 401.2,884.8 404.2,887 407.2,888.5 410.2,890.1 413.2,891.6 416.2,894 419.2,896.1 422.2,898 425.2,899.4 428.2,901.1 431.2,903.6 434.2,905.6 437.2,908.1 440.2,909.8 443.2,911.8 446.2,913.5 449.2,915.8 452.2,917.8 455.2,920.3 458.1,922.4 461.1,924.3 464.1,926 467.1,928 470.1,930.4 473.1,932.3 476.1,933.5 479.1,935 482.1,936.7 485.1,939.5 488.1,941.7 491.1,943.7 494.1,944.9 497.1,946.6 500.1,948.6 503.1,950 506.1,951.5 509.1,953.2 512.1,955.6 515.1,957.2 518.1,959 521.1,960.1 524.1,961.8 527.1,963.5 530.1,965.3 533.1,967.4 536,968.5 539,969.9 542,970.7 545,972.1 548,973.5 551,975 554,976.5 557,977.9 560,978.8 563,980.1 566,981.3 569,983 572,984.2 575,985.6 578,986.4 581,987.2 584,987.8 587,989 590,989.9 593,990.9 596,991.6 599,991.5 602,991.8 605,992.4 608,994.1 610.9,995 613.9,996.2 616.9,996.3 619.9,997.1 622.9,997.4" stroke="#ffff60" stroke-width="2.6" fill="none" stroke-linejoin="round"/>
<polyline points="107.6,1031.7 110.6,1031.8 113.6,1032.1 116.6,1032 119.6,1032.1 122.6,1032.1 125.6,1032.1 128.6,1032 131.6,1031.6 134.6,1031.1 137.6,1030.8 140.6,1030.6 143.6,1030.7 146.5,1030.4 149.5,1030.8 152.5,1030.5 155.5,1030.8 158.5,1030.4 161.5,1030.3 164.5,1029.8 167.5,1029 170.5,1028.4 173.5,1028.5 176.5,1028.2 179.5,1027.5 182.5,1026.1 185.5,1025.1 188.5,1025 191.5,1024.8 194.5,1024.5 197.5,1023.1 200.5,1021 203.5,1019.2 206.5,1017.5 209.5,1015.7 212.5,1013.8 215.5,1011.4 218.5,1008.1 221.5,1003.8 224.4,1000 227.4,995.9 230.4,992.3 233.4,988.1 236.4,984.7 239.4,979.5 242.4,974.2 245.4,967.4 248.4,961.7 251.4,955.6 254.4,950.8 257.4,944.8 260.4,939.6 263.4,933.8 266.4,929.3 269.4,923.7 272.4,918.2 275.4,912.7 278.4,908.1 281.4,903.8 284.4,899.2 287.4,895.1 290.4,890.9 293.4,887.4 296.4,884.2 299.4,881.7 302.3,879.6 305.3,877.2 308.3,874.6 311.3,871.8 314.3,870 317.3,868.8 320.3,868.3 323.3,867.2 326.3,866.3 329.3,864.9 332.3,864.3 335.3,863.7 338.3,863.1 341.3,862.9 344.3,863.1 347.3,864.3 350.3,865.1 353.3,865.7 356.3,866 359.3,866.3 362.3,867.5 365.3,868.5 368.3,869.3 371.3,869.7 374.3,870.6 377.3,872.3 380.2,873.6 383.2,874.8 386.2,875.7 389.2,877.5 392.2,878.8 395.2,880.6 398.2,882.3 401.2,885.1 404.2,887 407.2,889.1 410.2,890.4 413.2,892 416.2,893.9 419.2,895.3 422.2,897.7 425.2,899.6 428.2,902 431.2,904 434.2,905.8 437.2,907.8 440.2,909.6 443.2,911.3 446.2,913.5 449.2,915.4 452.2,918.1 455.2,920.5 458.1,922.7 461.1,924.5 464.1,926.2 467.1,927.8 470.1,930.3 473.1,932.4 476.1,935.1 479.1,936.1 482.1,937.9 485.1,939.5 488.1,942 491.1,943.5 494.1,945.3 497.1,946.8 500.1,949.3 503.1,950.7 506.1,952.4 509.1,953.5 512.1,955.2 515.1,957.1 518.1,959 521.1,960.8 524.1,962.3 527.1,963.9 530.1,965.6 533.1,967.4 536,968.6 539,969.8 542,971 545,972.1 548,974.1 551,975.4 554,976.8 557,977.7 560,979.3 563,980.6 566,981.5 569,982.5 572,983.8 575,985.2 578,986.2 581,987.4 584,988.2 587,989 590,990 593,990.9 596,991.4 599,992.1 602,992.5 605,993.3 608,994.4 610.9,995.6 613.9,996.3 616.9,996.2 619.9,996.4 622.9,996.9" stroke="#ffffa0" stroke-width="2.6" fill="none" stroke-linejoin="round"/>
<polyline points="107.6,1031.6 110.6,1031.9 113.6,1031.4 116.6,1031.8 119.6,1031.2 122.6,1031.3 125.6,1031.2 128.6,1031.2 131.6,1031.5 134.6,1031.3 137.6,1031 140.6,1029.6 143.6,1029.2 146.5,1029.3 149.5,1030.4 152.5,1030.2 155.5,1030.4 158.5,1030.1 161.5,1030 164.5,1029.5 167.5,1028.6 170.5,1028 173.5,1027.4 176.5,1027.4 179.5,1027.5 182.5,1027.2 185.5,1026.3 188.5,1025.2 191.5,1023.8 194.5,1022.7 197.5,1021.6 200.5,1020 203.5,1018.6 206.5,1016.6 209.5,1014.2 212.5,1011.3 215.5,1008.7 218.5,1006.1 221.5,1002.6 224.4,998.2 227.4,994.4 230.4,990.6 233.4,986.6 236.4,981.5 239.4,976.7 242.4,971.2 245.4,965.9 248.4,959.2 251.4,953.4 254.4,947.6 257.4,942.8 260.4,937.3 263.4,931.8 266.4,926.6 269.4,921.6 272.4,916.9 275.4,911.9 278.4,907.6 281.4,903.2 284.4,899.1 287.4,895 290.4,890.7 293.4,886.8 296.4,883.3 299.4,880.8 302.3,878.2 305.3,876.3 308.3,874.3 311.3,872.3 314.3,869.9 317.3,867.9 320.3,867.1 323.3,866.7 326.3,866.2 329.3,865.2 332.3,864.5 335.3,864.1 338.3,864.3 341.3,864.4 344.3,864.1 347.3,864 350.3,864.5 353.3,865.5 356.3,866.5 359.3,866.9 362.3,867.8 365.3,868.6 368.3,870.2 371.3,871.2 374.3,872 377.3,872.3 380.2,873.5 383.2,875.2 386.2,876.7 389.2,878.1 392.2,879.7 395.2,881.5 398.2,883.1 401.2,884.4 404.2,886.1 407.2,888 410.2,890.1 413.2,892.1 416.2,894.2 419.2,896.3 422.2,898 425.2,900.1 428.2,901.6 431.2,903.8 434.2,905.5 437.2,907.7 440.2,909.7 443.2,911.4 446.2,913.6 449.2,915.8 452.2,918.2 455.2,919.6 458.1,921.3 461.1,923.4 464.1,925.9 467.1,928.3 470.1,930.1 473.1,931.9 476.1,933.1 479.1,935.5 482.1,937.3 485.1,939.7 488.1,941.3 491.1,943.5 494.1,945.6 497.1,947.2 500.1,948.7 503.1,950.7 506.1,952.1 509.1,954.2 512.1,955.2 515.1,957.1 518.1,958.4 521.1,960.3 524.1,961.8 527.1,963.7 530.1,965.6 533.1,967.2 536,968.5 539,969.2 542,971.3 545,972.9 548,974.5 551,975.6 554,976.9 557,977.9 560,978.4 563,979.8 566,981.1 569,982.3 572,983 575,984.3 578,985.5 581,986.9 584,988 587,988.8 590,989.4 593,989.6 596,990.7 599,992.1 602,993.5 605,994 608,994.1 610.9,994.7 613.9,995.6 616.9,996 619.9,996.9 622.9,997.3" stroke="#ffff70" stroke-width="2.6" fill="none" stroke-linejoin="round"/>
<polyline points="107.6,1031.5 110.6,1031.8 113.6,1031.6 116.6,1032.1 119.6,1032 122.6,1032.1 125.6,1031.5 128.6,1031 131.6,1031.1 134.6,1030.9 137.6,1030.4 140.6,1030.3 143.6,1030.1 146.5,1030.8 149.5,1030.7 152.5,1030.3 155.5,1029.6 158.5,1029.1 161.5,1029.2 164.5,1028.8 167.5,1028.8 170.5,1028.3 173.5,1028.1 176.5,1027.4 179.5,1026.7 182.5,1026.2 185.5,1025.6 188.5,1024.3 191.5,1022.9 194.5,1021.1 197.5,1020 200.5,1018.3 203.5,1016.5 206.5,1014.3 209.5,1011.8 212.5,1009.7 215.5,1007 218.5,1004.4 221.5,1001.6 224.4,998.1 227.4,994 230.4,988.7 233.4,984.2 236.4,979.3 239.4,974.1 242.4,968.6 245.4,962.8 248.4,956.9 251.4,950.9 254.4,945.8 257.4,940.6 260.4,935.5 263.4,930 266.4,925 269.4,919.9 272.4,914.5 275.4,909.5 278.4,904.5 281.4,900.4 284.4,896.7 287.4,893.2 290.4,889.4 293.4,885.8 296.4,881.8 299.4,879.3 302.3,876.9 305.3,875 308.3,872.6 311.3,870.6 314.3,869.3 317.3,868.2 320.3,867 323.3,865.8 326.3,865.2 329.3,864.5 332.3,863.9 335.3,863.2 338.3,863.9 341.3,864.3 344.3,864.9 347.3,864.5 350.3,864.8 353.3,864.9 356.3,865.4 359.3,866.3 362.3,867.4 365.3,868 368.3,869.1 371.3,870 374.3,871 377.3,871.8 380.2,873.6 383.2,875.3 386.2,877 389.2,878.1 392.2,879.6 395.2,881.1 398.2,882.8 401.2,884.6 404.2,886.4 407.2,888 410.2,889.9 413.2,891.8 416.2,893.8 419.2,895.9 422.2,897.9 425.2,900.1 428.2,902.3 431.2,904 434.2,905.8 437.2,907.6 440.2,910 443.2,912 446.2,914 449.2,916 452.2,918.2 455.2,919.9 458.1,922.1 461.1,923.6 464.1,926.3 467.1,928.3 470.1,930.3 473.1,931.9 476.1,933.7 479.1,935.8 482.1,938 485.1,939.8 488.1,942.3 491.1,944 494.1,946.1 497.1,947.2 500.1,948.6 503.1,950.4 506.1,951.9 509.1,954.1 512.1,956.1 515.1,958.8 518.1,960 521.1,961.1 524.1,962.3 527.1,964.5 530.1,966.3 533.1,967.3 536,968.6 539,969.3 542,971.1 545,973 548,974.6 551,976 554,976.7 557,977.8 560,979 563,979.8 566,981.4 569,982.6 572,983.9 575,985.1 578,985.6 581,986.4 584,987.1 587,988.2 590,989.2 593,990.1 596,990.8 599,991.8 602,992.3 605,993.6 608,994.2 610.9,995 613.9,995.6 616.9,996.4 619.9,997.3 622.9,997.8" stroke="#ffff30" stroke-width="2.6" fill="none" stroke-linejoin="round"/>
<polyline points="107.6,1031.6 110.6,1031.5 113.6,1031.2 116.6,1030.9 119.6,1031.4 122.6,1031.6 125.6,1031.3 128.6,1030.9 131.6,1030.5 134.6,1030.5 137.6,1030.1 140.6,1030.3 143.6,1030.5 146.5,1030.4 149.5,1030.1 152.5,1029.6 155.5,1029.2 158.5,1029 161.5,1028.8 164.5,1028.4 167.5,1028.3 170.5,1028.1 173.5,1027.9 176.5,1027 179.5,1026.3 182.5,1025.6 185.5,1025 188.5,1023.7 191.5,1022.4 194.5,1021.2 197.5,1019.7 200.5,1018.3 203.5,1015.6 206.5,1013.7 209.5,1011.3 212.5,1009.1 215.5,1006 218.5,1002.5 221.5,998.5 224.4,994.4 227.4,990.1 230.4,986 233.4,982 236.4,977 239.4,972 242.4,966 245.4,960.9 248.4,955.1 251.4,949.5 254.4,944 257.4,938.4 260.4,933.1 263.4,927.7 266.4,923 269.4,917.8 272.4,912.4 275.4,907.6 278.4,903.1 281.4,898.9 284.4,895.4 287.4,892 290.4,889 293.4,885.3 296.4,881.7 299.4,878.7 302.3,876.6 305.3,874.8 308.3,872.6 311.3,870.6 314.3,869 317.3,868.1 320.3,867.5 323.3,866.3 326.3,865.5 329.3,864.2 332.3,864.1 335.3,864 338.3,864.1 341.3,863.8 344.3,863.8 347.3,864 350.3,864.1 353.3,864.4 356.3,865.3 359.3,866.8 362.3,867.5 365.3,868.3 368.3,868.7 371.3,869.7 374.3,870.7 377.3,872.2 380.2,873.8 383.2,875.3 386.2,876.9 389.2,878.7 392.2,879.9 395.2,881.5 398.2,883.2 401.2,885.2 404.2,887.2 407.2,888.5 410.2,890.8 413.2,892.4 416.2,894.5 419.2,896.2 422.2,897.8 425.2,899.6 428.2,901.5 431.2,903.6 434.2,906.3 437.2,908 440.2,910.1 443.2,911.8 446.2,913.6 449.2,915.5 452.2,917.2 455.2,919.4 458.1,921.8 461.1,924 464.1,926 467.1,928.1 470.1,929.8 473.1,931.8 476.1,933.4 479.1,935.9 482.1,937.8 485.1,939.8 488.1,941.5 491.1,943.4 494.1,945.9 497.1,947.2 500.1,949.3 503.1,951.1 506.1,953.4 509.1,955.1 512.1,956.2 515.1,957.9 518.1,959.3 521.1,961.3 524.1,962.2 527.1,963.7 530.1,964.5 533.1,966.9 536,968.3 539,970.5 542,971.4 545,972.8 548,974.3 551,976 554,977.8 557,979 560,980.1 563,981.3 566,982.4 569,983.3 572,984 575,985 578,986.2 581,987.3 584,987.9 587,988.8 590,989.5 593,990.1 596,990.5 599,991.6 602,992.1 605,992.5 608,993.3 610.9,994.6 613.9,995.4 616.9,996.2 619.9,996.7 622.9,997.7" stroke="#ffd010" stroke-width="2.6" fill="none" stroke-linejoin="round"/>
<polyline points="107.6,1031.7 110.6,1031.8 113.6,1032.1 116.6,1032 119.6,1032.1 122.6,1031.3 125.6,1030.7 128.6,1029.7 131.6,1030.1 134.6,1030.1 137.6,1029.9 140.6,1029.5 143.6,1029.4 146.5,1029.7 149.5,1029.6 152.5,1029.7 155.5,1029.5 158.5,1029.6 161.5,1029 164.5,1028 167.5,1027.6 170.5,1026.8 173.5,1026.2 176.5,1025.4 179.5,1025.4 182.5,1025.1 185.5,1023.8 188.5,1022.7 191.5,1021.6 194.5,1020.2 197.5,1019 200.5,1016.9 203.5,1014.7 206.5,1012.1 209.5,1009.5 212.5,1006.9 215.5,1003.6 218.5,1000.3 221.5,996.8 224.4,993.1 227.4,989.1 230.4,984.4 233.4,979.5 236.4,974.5 239.4,969.8 242.4,964.8 245.4,959.3 248.4,953 251.4,947.2 254.4,941.8 257.4,937.2 260.4,931.8 263.4,926.4 266.4,921.1 269.4,916.2 272.4,911 275.4,906.4 278.4,901.7 281.4,897.8 284.4,893.8 287.4,890.3 290.4,887.1 293.4,884.1 296.4,881.5 299.4,879.1 302.3,876.5 305.3,874.2 308.3,871.8 311.3,870 314.3,869.3 317.3,868.3 320.3,868 323.3,866.3 326.3,865.8 329.3,864.7 332.3,863.8 335.3,863.7 338.3,863.5 341.3,864 344.3,864.3 347.3,864.5 350.3,865 353.3,865.3 356.3,866.4 359.3,866.3 362.3,867.2 365.3,868.3 368.3,870.3 371.3,871.2 374.3,871.8 377.3,872.7 380.2,874.1 383.2,875.2 386.2,876.8 389.2,878.5 392.2,880.5 395.2,882.2 398.2,883.4 401.2,884.8 404.2,886.5 407.2,888.5 410.2,890.3 413.2,891.5 416.2,893.6 419.2,895.4 422.2,897.7 425.2,899.8 428.2,901.9 431.2,904 434.2,905.9 437.2,907.9 440.2,909.7 443.2,911.4 446.2,913.6 449.2,915.8 452.2,917.5 455.2,919.7 458.1,921.7 461.1,924 464.1,925.6 467.1,927.5 470.1,929.7 473.1,931.5 476.1,933.3 479.1,935.4 482.1,937.5 485.1,939.7 488.1,941.7 491.1,943.6 494.1,945.7 497.1,947.2 500.1,948.6 503.1,949.6 506.1,951.2 509.1,953.7 512.1,955.4 515.1,957.7 518.1,959.1 521.1,960.7 524.1,962.4 527.1,963.8 530.1,965.8 533.1,967 536,968.9 539,970.3 542,971.8 545,972.6 548,973.8 551,975.3 554,977 557,978.6 560,979.8 563,981.2 566,982.2 569,983.1 572,984.3 575,985.5 578,986.3 581,987.2 584,988.2 587,988.8 590,989 593,990 596,991.6 599,992.6 602,993.3 605,993.7 608,994.7 610.9,994.9 613.9,996.2 616.9,997.3 619.9,998.4 622.9,998.4" stroke="#ff9010" stroke-width="2.6" fill="none" stroke-linejoin="round"/>
<polyline points="107.6,1031.3 110.6,1031.7 113.6,1031.8 116.6,1031.5 119.6,1031 122.6,1031.1 125.6,1031 128.6,1030.5 131.6,1030.2 134.6,1030.1 137.6,1030.2 140.6,1030.2 143.6,1030.3 146.5,1030 149.5,1029.8 152.5,1029.3 155.5,1028.8 158.5,1028.2 161.5,1027.6 164.5,1027.8 167.5,1027.3 170.5,1027.2 173.5,1026.5 176.5,1026.2 179.5,1025.2 182.5,1023.9 185.5,1022.8 188.5,1022.2 191.5,1020.9 194.5,1019.3 197.5,1016.8 200.5,1015.4 203.5,1013.8 206.5,1012.1 209.5,1009.1 212.5,1005.6 215.5,1002.1 218.5,998 221.5,994.3 224.4,990.7 227.4,987.6 230.4,983.3 233.4,978.4 236.4,973 239.4,967.4 242.4,962.1 245.4,955.9 248.4,950.5 251.4,945.3 254.4,940.7 257.4,936 260.4,930.9 263.4,925.5 266.4,919.8 269.4,913.8 272.4,909.2 275.4,904.9 278.4,901.6 281.4,897.4 284.4,893.4 287.4,889.6 290.4,886.3 293.4,883.1 296.4,880.6 299.4,878.2 302.3,876 305.3,873.5 308.3,871.8 311.3,869.7 314.3,867.9 317.3,866.3 320.3,866.1 323.3,865.8 326.3,865.3 329.3,864.6 332.3,864.2 335.3,864.5 338.3,863.7 341.3,863.3 344.3,863 347.3,863.8 350.3,864.7 353.3,865.6 356.3,866.2 359.3,867.1 362.3,867.5 365.3,868.7 368.3,869.6 371.3,870.5 374.3,871.4 377.3,872.1 380.2,873.8 383.2,875.7 386.2,877.2 389.2,879 392.2,879.9 395.2,882.1 398.2,884 401.2,885.9 404.2,887.1 407.2,888.4 410.2,890.5 413.2,892.2 416.2,894.5 419.2,896.2 422.2,898.6 425.2,900.3 428.2,902 431.2,904 434.2,905.8 437.2,907.9 440.2,910.2 443.2,912.7 446.2,915 449.2,916.7 452.2,918.3 455.2,920.7 458.1,922.3 461.1,924.2 464.1,925.7 467.1,928.2 470.1,930.4 473.1,932.4 476.1,933.9 479.1,935.9 482.1,937.5 485.1,939.7 488.1,941.2 491.1,943.8 494.1,945.8 497.1,947.9 500.1,949.5 503.1,950.8 506.1,953 509.1,954.3 512.1,956.5 515.1,958 518.1,959.7 521.1,961.1 524.1,962.7 527.1,963.8 530.1,965.4 533.1,967 536,968.8 539,970 542,970.8 545,972 548,973.7 551,975.1 554,976.5 557,977.6 560,979 563,981.2 566,982.5 569,983.3 572,984 575,985.1 578,986.4 581,986.8 584,987.2 587,988.6 590,989.5 593,990.6 596,991.3 599,992.1 602,992.6 605,992.7 608,993.2 610.9,995.1 613.9,996.2 616.9,996.9 619.9,997 622.9,997.6" stroke="#f05010" stroke-width="2.6" fill="none" stroke-linejoin="round"/>
<polyline points="107.6,1030.7 110.6,1030.7 113.6,1030.9 116.6,1031.5 119.6,1031.4 122.6,1031.1 125.6,1031 128.6,1030.6 131.6,1030.3 134.6,1030.4 137.6,1030.5 140.6,1030.2 143.6,1029.8 146.5,1029.2 149.5,1028.9 152.5,1028.7 155.5,1028.6 158.5,1027.9 161.5,1026.8 164.5,1026.5 167.5,1026.3 170.5,1026.3 173.5,1026.1 176.5,1025.6 179.5,1024.6 182.5,1023.1 185.5,1022.1 188.5,1020.7 191.5,1019.5 194.5,1017.7 197.5,1015.8 200.5,1013.8 203.5,1011.7 206.5,1010 209.5,1007.4 212.5,1004.2 215.5,999.9 218.5,996 221.5,992.6 224.4,989.4 227.4,985.3 230.4,980.9 233.4,976.2 236.4,971.1 239.4,965.7 242.4,959.7 245.4,954.5 248.4,949 251.4,944.1 254.4,938.4 257.4,933.3 260.4,928 263.4,922.9 266.4,917.6 269.4,912.5 272.4,907.7 275.4,903.8 278.4,899.6 281.4,896 284.4,892.6 287.4,888.8 290.4,885.8 293.4,882.3 296.4,880.1 299.4,877.7 302.3,875.7 305.3,873.6 308.3,871.9 311.3,870.3 314.3,868.4 317.3,867.7 320.3,866.6 323.3,866.3 326.3,865.2 329.3,864.2 332.3,863.4 335.3,863.2 338.3,863.5 341.3,863.8 344.3,863.8 347.3,864 350.3,864.6 353.3,866 356.3,866.3 359.3,866.8 362.3,867 365.3,868.4 368.3,869.6 371.3,870.9 374.3,872 377.3,873 380.2,874.1 383.2,875.8 386.2,877.3 389.2,878.6 392.2,880.1 395.2,881.7 398.2,884.1 401.2,885.8 404.2,887.5 407.2,889 410.2,891.2 413.2,892.9 416.2,894.6 419.2,896 422.2,898.2 425.2,899.8 428.2,902 431.2,904.3 434.2,906.5 437.2,908.6 440.2,910.1 443.2,912.2 446.2,914.2 449.2,916.2 452.2,917.8 455.2,919.5 458.1,921.4 461.1,923.5 464.1,925.5 467.1,927.5 470.1,929.5 473.1,931.6 476.1,933.8 479.1,935.3 482.1,937.2 485.1,939.2 488.1,941.8 491.1,943.7 494.1,945.4 497.1,947.4 500.1,949.7 503.1,951.5 506.1,953.3 509.1,954.5 512.1,956.3 515.1,957.3 518.1,958.6 521.1,960.3 524.1,962.3 527.1,964.6 530.1,966.5 533.1,967.8 536,969.5 539,970.7 542,972.1 545,972.8 548,974.2 551,975.5 554,977.1 557,978.4 560,980.1 563,981.1 566,981.7 569,982.4 572,983.4 575,985.1 578,985.7 581,987 584,987.4 587,988.7 590,989.6 593,990.3 596,991.2 599,991.7 602,992.6 605,993.3 608,994.2 610.9,994.9 613.9,995.7 616.9,996.3 619.9,997.2 622.9,997.8" stroke="#e81010" stroke-width="2.6" fill="none" stroke-linejoin="round"/>
</g>
<rect x="107.6" y="846.4" width="516" height="185.7" fill="none" stroke="#000" stroke-width="1.7"/>
<path d="M124.2 1032.1v-7M124.2 846.4v7M207.5 1032.1v-7M207.5 846.4v7M290.7 1032.1v-7M290.7 846.4v7M373.9 1032.1v-7M373.9 846.4v7M457.1 1032.1v-7M457.1 846.4v7M540.4 1032.1v-7M540.4 846.4v7M165.9 1032.1v-4M165.9 846.4v4M249.1 1032.1v-4M249.1 846.4v4M332.3 1032.1v-4M332.3 846.4v4M415.5 1032.1v-4M415.5 846.4v4M498.8 1032.1v-4M498.8 846.4v4M582 1032.1v-4M582 846.4v4M107.6 998.4h7M623.6 998.4h-7M107.6 964.7h7M623.6 964.7h-7M107.6 930.9h7M623.6 930.9h-7M107.6 897.2h7M623.6 897.2h-7M107.6 863.5h7M623.6 863.5h-7M107.6 1015.2h4M623.6 1015.2h-4M107.6 981.5h4M623.6 981.5h-4M107.6 947.8h4M623.6 947.8h-4M107.6 914.1h4M623.6 914.1h-4M107.6 880.4h4M623.6 880.4h-4" stroke="#000" stroke-width="1.5" fill="none"/>
<text x="125" y="1055.7" font-size="20" text-anchor="middle" fill="#000" stroke="#000">475</text>
<text x="208.3" y="1055.7" font-size="20" text-anchor="middle" fill="#000" stroke="#000">500</text>
<text x="291.5" y="1055.7" font-size="20" text-anchor="middle" fill="#000" stroke="#000">525</text>
<text x="374.7" y="1055.7" font-size="20" text-anchor="middle" fill="#000" stroke="#000">550</text>
<text x="457.9" y="1055.7" font-size="20" text-anchor="middle" fill="#000" stroke="#000">575</text>
<text x="541.2" y="1055.7" font-size="20" text-anchor="middle" fill="#000" stroke="#000">600</text>
<text x="624.4" y="1055.7" font-size="20" text-anchor="middle" fill="#000" stroke="#000">625</text>
<text x="101.1" y="1039.1" font-size="20" text-anchor="end" fill="#000" stroke="#000">0.0</text>
<text x="101.1" y="1005.4" font-size="20" text-anchor="end" fill="#000" stroke="#000">0.2</text>
<text x="101.1" y="971.7" font-size="20" text-anchor="end" fill="#000" stroke="#000">0.4</text>
<text x="101.1" y="937.9" font-size="20" text-anchor="end" fill="#000" stroke="#000">0.6</text>
<text x="101.1" y="904.2" font-size="20" text-anchor="end" fill="#000" stroke="#000">0.8</text>
<text x="101.1" y="870.5" font-size="20" text-anchor="end" fill="#000" stroke="#000">1.0</text>
<text x="28.7" y="947.2" font-size="27.9" text-anchor="middle" fill="#000" stroke="#000" transform="rotate(-90 28.7 947.2)">Normalised</text>
<text x="63.2" y="940.2" font-size="26.2" text-anchor="middle" fill="#000" stroke="#000" transform="rotate(-90 63.2 940.2)">PL intensity (a.u.)</text>
<text x="155" y="918" font-size="52" text-anchor="middle" fill="#000" stroke="#000">1</text>
<clipPath id="clb2"><rect x="744.8" y="846.4" width="515.7" height="187.2"/></clipPath>
<g clip-path="url(#clb2)">
<polyline points="744.8,1032.1 747.8,1032.1 750.8,1032.1 753.8,1031.6 756.8,1031.9 759.8,1031.8 762.8,1032.1 765.8,1032.1 768.8,1032.1 771.7,1032.1 774.7,1032.1 777.7,1032.1 780.7,1032.1 783.7,1031.6 786.7,1031.8 789.7,1031.3 792.7,1031.3 795.7,1031.3 798.7,1031.4 801.7,1031.1 804.7,1030.9 807.7,1030.9 810.7,1030.9 813.7,1030.5 816.7,1030.6 819.7,1030.7 822.7,1030.4 825.6,1030.2 828.6,1030 831.6,1030.1 834.6,1029.5 837.6,1028.8 840.6,1028 843.6,1027.4 846.6,1026.5 849.6,1026 852.6,1025 855.6,1023.6 858.6,1021.6 861.6,1019.8 864.6,1018.2 867.6,1016 870.6,1013.1 873.6,1009.9 876.6,1005.9 879.5,1001.7 882.5,997 885.5,992.3 888.5,987 891.5,981 894.5,974.2 897.5,967.1 900.5,959.5 903.5,952.7 906.5,945.8 909.5,939 912.5,932.3 915.5,925.6 918.5,918.7 921.5,912.2 924.5,906.3 927.5,901 930.5,896 933.4,891 936.4,885.9 939.4,880.9 942.4,876.7 945.4,873.3 948.4,870.8 951.4,868.8 954.4,867.4 957.4,865.9 960.4,864.9 963.4,864 966.4,863.9 969.4,864 972.4,863.9 975.4,864 978.4,863.8 981.4,863.7 984.4,863.6 987.3,864 990.3,864.3 993.3,865.2 996.3,866 999.3,867.4 1002.3,868.7 1005.3,870 1008.3,870.1 1011.3,870.9 1014.3,871.3 1017.3,872.4 1020.3,873.3 1023.3,874.4 1026.3,875.8 1029.3,876.9 1032.3,878.3 1035.3,880.3 1038.2,882.4 1041.2,884.5 1044.2,886.4 1047.2,888.3 1050.2,890.5 1053.2,891.6 1056.2,893.3 1059.2,894.9 1062.2,897.6 1065.2,899.4 1068.2,901.5 1071.2,903.5 1074.2,905.9 1077.2,908.3 1080.2,910.5 1083.2,912.1 1086.2,913.3 1089.2,914.9 1092.1,916.5 1095.1,918.9 1098.1,921.2 1101.1,924.1 1104.1,926.2 1107.1,928.8 1110.1,930.6 1113.1,932.3 1116.1,933.7 1119.1,935.3 1122.1,937.8 1125.1,940.3 1128.1,942.6 1131.1,944.5 1134.1,945.7 1137.1,946.8 1140.1,948.7 1143.1,950.8 1146,953 1149,954.6 1152,956.5 1155,958.1 1158,959.5 1161,960.7 1164,962.6 1167,964.2 1170,966.2 1173,967.1 1176,968.8 1179,969.8 1182,971.5 1185,972.7 1188,974.2 1191,975.8 1194,976.5 1197,977.4 1199.9,978.1 1202.9,979.2 1205.9,980.4 1208.9,981.5 1211.9,983.1 1214.9,983.8 1217.9,984.8 1220.9,985.7 1223.9,987.1 1226.9,988 1229.9,988.7 1232.9,990.1 1235.9,991.1 1238.9,992.3 1241.9,992.7 1244.9,993.9 1247.9,994.4 1250.9,995.3 1253.8,995.6 1256.8,996.7 1259.8,997.2" stroke="#1010e0" stroke-width="2.6" fill="none" stroke-linejoin="round"/>
<polyline points="744.8,1032.1 747.8,1032.1 750.8,1032.1 753.8,1032.1 756.8,1032 759.8,1031.8 762.8,1031.7 765.8,1031.2 768.8,1031 771.7,1031.3 774.7,1032 777.7,1032.1 780.7,1032 783.7,1032 786.7,1032 789.7,1031.5 792.7,1031.3 795.7,1031.2 798.7,1031.6 801.7,1031.5 804.7,1031 807.7,1030.7 810.7,1030.2 813.7,1031.1 816.7,1031 819.7,1030.8 822.7,1029.3 825.6,1029.1 828.6,1029.5 831.6,1029.4 834.6,1029 837.6,1028.4 840.6,1028 843.6,1026.8 846.6,1025.2 849.6,1023.9 852.6,1023.3 855.6,1021.7 858.6,1020.7 861.6,1018.8 864.6,1017.8 867.6,1014.6 870.6,1011.3 873.6,1007.2 876.6,1003.6 879.5,999.6 882.5,995.4 885.5,991.1 888.5,985 891.5,978.4 894.5,971.1 897.5,964.3 900.5,957.4 903.5,950.3 906.5,943.7 909.5,937 912.5,930.7 915.5,924.4 918.5,917.9 921.5,911.4 924.5,905.1 927.5,899.5 930.5,894.5 933.4,889.6 936.4,885 939.4,880.7 942.4,877 945.4,873.8 948.4,871.2 951.4,869.8 954.4,867.7 957.4,866.6 960.4,864.7 963.4,864.2 966.4,863.3 969.4,863.4 972.4,863.5 975.4,863.5 978.4,863.4 981.4,863.2 984.4,863.6 987.3,863.8 990.3,864.2 993.3,864.8 996.3,866.2 999.3,867.3 1002.3,868.2 1005.3,868.2 1008.3,868.9 1011.3,869.8 1014.3,871 1017.3,872.2 1020.3,873.5 1023.3,875.1 1026.3,876.9 1029.3,878.2 1032.3,879.7 1035.3,881.1 1038.2,883.3 1041.2,885 1044.2,886.2 1047.2,887.8 1050.2,889.9 1053.2,891.9 1056.2,894.1 1059.2,896.3 1062.2,898.5 1065.2,900.3 1068.2,901.8 1071.2,903.9 1074.2,905.7 1077.2,907.8 1080.2,909.9 1083.2,912.1 1086.2,914 1089.2,915.6 1092.1,917.3 1095.1,919.3 1098.1,922.4 1101.1,924.9 1104.1,927.2 1107.1,928.3 1110.1,930.6 1113.1,932.2 1116.1,934.2 1119.1,936 1122.1,938.3 1125.1,940.4 1128.1,942.4 1131.1,944.2 1134.1,946 1137.1,948 1140.1,950 1143.1,951.6 1146,953.3 1149,954.5 1152,956.4 1155,957.3 1158,959 1161,960.6 1164,962.5 1167,964 1170,965.3 1173,967 1176,968.7 1179,969.6 1182,971 1185,972.2 1188,974 1191,974.9 1194,976.4 1197,977.8 1199.9,978.7 1202.9,979.6 1205.9,980.9 1208.9,981.9 1211.9,983.5 1214.9,984.1 1217.9,985.4 1220.9,985.8 1223.9,986.8 1226.9,987.5 1229.9,988.7 1232.9,989.5 1235.9,990.5 1238.9,990.8 1241.9,992 1244.9,992.6 1247.9,993.8 1250.9,994.4 1253.8,995.6 1256.8,996.3 1259.8,997.1" stroke="#3030e8" stroke-width="2.6" fill="none" stroke-linejoin="round"/>
<polyline points="744.8,1032.1 747.8,1032.1 750.8,1032.1 753.8,1031.5 756.8,1031.8 759.8,1031.3 762.8,1031.6 765.8,1031.4 768.8,1031.6 771.7,1031.7 774.7,1031.8 777.7,1031.4 780.7,1031 783.7,1030.7 786.7,1030.8 789.7,1031.1 792.7,1031.8 795.7,1031.6 798.7,1031.3 801.7,1030.8 804.7,1030.6 807.7,1030.4 810.7,1030 813.7,1029.8 816.7,1029.8 819.7,1030.1 822.7,1030.1 825.6,1029.9 828.6,1028.8 831.6,1028.3 834.6,1027.6 837.6,1027.3 840.6,1026.3 843.6,1025.4 846.6,1023.9 849.6,1022.6 852.6,1021.4 855.6,1020.2 858.6,1018.8 861.6,1016.9 864.6,1014.1 867.6,1011.8 870.6,1008.6 873.6,1005.2 876.6,1000.4 879.5,996.5 882.5,992.1 885.5,986.9 888.5,980.8 891.5,974.9 894.5,968.5 897.5,961.9 900.5,954.6 903.5,948.4 906.5,941.2 909.5,934.7 912.5,928 915.5,922 918.5,915.8 921.5,909.3 924.5,903.1 927.5,897.8 930.5,892.9 933.4,888.9 936.4,884.4 939.4,879.9 942.4,876.3 945.4,873 948.4,870.8 951.4,869.1 954.4,868 957.4,867.1 960.4,865.1 963.4,864.1 966.4,863.6 969.4,863.6 972.4,863.4 975.4,863.2 978.4,863.4 981.4,863.3 984.4,863.8 987.3,863.7 990.3,864.6 993.3,865.2 996.3,866.2 999.3,866.8 1002.3,868 1005.3,869 1008.3,870.3 1011.3,870.9 1014.3,871.8 1017.3,872.8 1020.3,873.8 1023.3,875.5 1026.3,876.2 1029.3,877.9 1032.3,879.7 1035.3,882.1 1038.2,884 1041.2,885.3 1044.2,886.7 1047.2,887.9 1050.2,889.7 1053.2,891.5 1056.2,893.5 1059.2,895.5 1062.2,897.5 1065.2,899.4 1068.2,901.2 1071.2,903.4 1074.2,906.2 1077.2,908.7 1080.2,910.5 1083.2,912.8 1086.2,914.8 1089.2,916.8 1092.1,918.3 1095.1,920.4 1098.1,922.1 1101.1,923.7 1104.1,925.5 1107.1,927.7 1110.1,929.7 1113.1,932 1116.1,933.7 1119.1,936.3 1122.1,938.1 1125.1,941 1128.1,942.6 1131.1,944.8 1134.1,946.3 1137.1,947.8 1140.1,949.2 1143.1,951 1146,952.6 1149,954.6 1152,955.9 1155,958 1158,959.3 1161,961.2 1164,962.6 1167,964.2 1170,965.9 1173,967.5 1176,968.8 1179,970 1182,971.5 1185,973.1 1188,974.6 1191,975.6 1194,976.6 1197,977.6 1199.9,979 1202.9,980.2 1205.9,981.7 1208.9,983.4 1211.9,984.5 1214.9,985.6 1217.9,986.1 1220.9,987.4 1223.9,987.8 1226.9,988.8 1229.9,989.3 1232.9,990.5 1235.9,991.3 1238.9,992.6 1241.9,993.2 1244.9,993.6 1247.9,993.8 1250.9,994.2 1253.8,995 1256.8,995.8 1259.8,997" stroke="#5050e0" stroke-width="2.6" fill="none" stroke-linejoin="round"/>
<polyline points="744.8,1031.7 747.8,1031.8 750.8,1032 753.8,1031.5 756.8,1031.9 759.8,1031.6 762.8,1031.9 765.8,1031.4 768.8,1031.7 771.7,1031.9 774.7,1032 777.7,1032 780.7,1032 783.7,1031.9 786.7,1031.7 789.7,1031.5 792.7,1031.5 795.7,1031.1 798.7,1031.3 801.7,1030.8 804.7,1030.7 807.7,1030.3 810.7,1030.4 813.7,1030.4 816.7,1030.4 819.7,1029.7 822.7,1028.8 825.6,1027.7 828.6,1027.3 831.6,1026.8 834.6,1026.7 837.6,1026.4 840.6,1025.8 843.6,1024.6 846.6,1023.4 849.6,1022.5 852.6,1020.8 855.6,1019.1 858.6,1017.2 861.6,1014.4 864.6,1011.3 867.6,1007.9 870.6,1004.8 873.6,1001.4 876.6,997 879.5,993.5 882.5,988.9 885.5,983.8 888.5,977.6 891.5,970.5 894.5,964.4 897.5,957.9 900.5,952 903.5,945.3 906.5,938.5 909.5,932 912.5,925 915.5,918.9 918.5,912.7 921.5,907.1 924.5,901.6 927.5,896.9 930.5,892.6 933.4,888.2 936.4,884.2 939.4,880.2 942.4,876.9 945.4,873.6 948.4,871.6 951.4,868.9 954.4,866.8 957.4,864.7 960.4,864.1 963.4,864 966.4,863.7 969.4,863.5 972.4,863.1 975.4,863.5 978.4,863.3 981.4,863.7 984.4,863.8 987.3,864.9 990.3,865.4 993.3,866 996.3,866.4 999.3,867.2 1002.3,868 1005.3,868.8 1008.3,869.2 1011.3,870.9 1014.3,871.8 1017.3,873.1 1020.3,874.2 1023.3,876.1 1026.3,877.4 1029.3,878.9 1032.3,880.3 1035.3,882 1038.2,883.5 1041.2,884.9 1044.2,886.9 1047.2,888.5 1050.2,890.1 1053.2,891.6 1056.2,894.2 1059.2,896.2 1062.2,898.3 1065.2,900 1068.2,901.8 1071.2,904.4 1074.2,905.7 1077.2,908.3 1080.2,909.6 1083.2,912.1 1086.2,914.4 1089.2,916.8 1092.1,918.7 1095.1,920.2 1098.1,922 1101.1,924.3 1104.1,926.4 1107.1,928.5 1110.1,930.4 1113.1,932.8 1116.1,935.3 1119.1,937 1122.1,938.6 1125.1,940.5 1128.1,942.9 1131.1,944.7 1134.1,946.7 1137.1,948.1 1140.1,950.3 1143.1,952.1 1146,953.8 1149,955.4 1152,956.2 1155,957.3 1158,958.9 1161,960.6 1164,962.5 1167,964.1 1170,966 1173,967.4 1176,968.7 1179,969.9 1182,971.7 1185,973 1188,974.4 1191,975.4 1194,976.3 1197,977.5 1199.9,979.3 1202.9,980.7 1205.9,982.1 1208.9,983.1 1211.9,983.8 1214.9,983.9 1217.9,984.7 1220.9,986.2 1223.9,987.5 1226.9,989.1 1229.9,989.9 1232.9,990.6 1235.9,990.7 1238.9,991.7 1241.9,993.4 1244.9,994.1 1247.9,994.6 1250.9,995.1 1253.8,995.9 1256.8,996.8 1259.8,997.3" stroke="#7070e8" stroke-width="2.6" fill="none" stroke-linejoin="round"/>
<polyline points="744.8,1032 747.8,1032.1 750.8,1031.9 753.8,1032.1 756.8,1032.1 759.8,1032.1 762.8,1031.7 765.8,1031.8 768.8,1031.3 771.7,1031.5 774.7,1031.6 777.7,1032.1 780.7,1032.1 783.7,1032 786.7,1030.6 789.7,1030.6 792.7,1030.8 795.7,1031.4 798.7,1030.8 801.7,1030.5 804.7,1030.3 807.7,1030.6 810.7,1030.2 813.7,1029.6 816.7,1028.3 819.7,1027.7 822.7,1027.3 825.6,1027 828.6,1026 831.6,1025.1 834.6,1024.7 837.6,1024 840.6,1023 843.6,1021.9 846.6,1021.2 849.6,1020.1 852.6,1018.3 855.6,1015.8 858.6,1013.6 861.6,1011.2 864.6,1008.5 867.6,1005.5 870.6,1002.1 873.6,998.5 876.6,994.6 879.5,989.6 882.5,984.7 885.5,979 888.5,973.4 891.5,966.5 894.5,960.2 897.5,954.1 900.5,948.3 903.5,942.3 906.5,936.1 909.5,929.5 912.5,922.9 915.5,916.1 918.5,910.1 921.5,904.5 924.5,899.7 927.5,895.6 930.5,891.2 933.4,886.9 936.4,882.3 939.4,878.7 942.4,875.5 945.4,873.2 948.4,870.9 951.4,868.6 954.4,866.7 957.4,865.3 960.4,864.2 963.4,863.7 966.4,863.7 969.4,864.3 972.4,863.7 975.4,863.5 978.4,863.3 981.4,864.1 984.4,864.5 987.3,864.6 990.3,864.8 993.3,865.5 996.3,866.4 999.3,867.4 1002.3,868.2 1005.3,869.1 1008.3,869.8 1011.3,871 1014.3,872.1 1017.3,873.1 1020.3,874.2 1023.3,875.6 1026.3,877 1029.3,878.8 1032.3,880.6 1035.3,882.2 1038.2,883.3 1041.2,884.5 1044.2,886.5 1047.2,888.2 1050.2,890.2 1053.2,891.8 1056.2,893.9 1059.2,895.8 1062.2,897.3 1065.2,899.8 1068.2,901.9 1071.2,904.4 1074.2,906.3 1077.2,908.3 1080.2,910.1 1083.2,912.4 1086.2,914.8 1089.2,917 1092.1,919.1 1095.1,920.8 1098.1,922.9 1101.1,924.5 1104.1,926.7 1107.1,928.3 1110.1,930.3 1113.1,932.5 1116.1,934.6 1119.1,936.7 1122.1,938.7 1125.1,941.5 1128.1,943 1131.1,944.7 1134.1,946 1137.1,948 1140.1,949.8 1143.1,951.9 1146,953.8 1149,955.4 1152,956.8 1155,957.8 1158,959.8 1161,961.5 1164,963.7 1167,964.7 1170,966.3 1173,967.3 1176,968.7 1179,969.8 1182,971.2 1185,973.4 1188,974.8 1191,976.6 1194,977.3 1197,978.4 1199.9,979.4 1202.9,980.4 1205.9,981.4 1208.9,982.5 1211.9,983.9 1214.9,985.4 1217.9,986.3 1220.9,986.6 1223.9,987.4 1226.9,988.1 1229.9,989.7 1232.9,990.2 1235.9,991 1238.9,991.8 1241.9,993.3 1244.9,994.3 1247.9,994.7 1250.9,995.1 1253.8,995.5 1256.8,996.7 1259.8,997.3" stroke="#8888f0" stroke-width="2.6" fill="none" stroke-linejoin="round"/>
<polyline points="744.8,1032.1 747.8,1032 750.8,1031.6 753.8,1031.8 756.8,1031.8 759.8,1031.8 762.8,1031.6 765.8,1031.7 768.8,1032.1 771.7,1032.1 774.7,1032.1 777.7,1031.8 780.7,1031.5 783.7,1031.4 786.7,1030.9 789.7,1030.5 792.7,1030.2 795.7,1030.5 798.7,1030.8 801.7,1030.4 804.7,1029.7 807.7,1029.3 810.7,1029.1 813.7,1028.3 816.7,1027.4 819.7,1026.6 822.7,1026.3 825.6,1025.8 828.6,1025.3 831.6,1024.4 834.6,1024 837.6,1023.1 840.6,1022.4 843.6,1020.4 846.6,1018.7 849.6,1016.4 852.6,1014.6 855.6,1012.9 858.6,1010.5 861.6,1007.9 864.6,1004.5 867.6,1001.7 870.6,998.3 873.6,994.7 876.6,990 879.5,985.1 882.5,979.4 885.5,973.5 888.5,968 891.5,962.6 894.5,957.6 897.5,951.5 900.5,945.9 903.5,939.7 906.5,933.2 909.5,926.6 912.5,920.2 915.5,914.4 918.5,908.8 921.5,903.4 924.5,898.4 927.5,894 930.5,889.6 933.4,885.9 936.4,881.7 939.4,877.8 942.4,874.2 945.4,872.2 948.4,870.2 951.4,868.6 954.4,867.4 957.4,866.4 960.4,865.1 963.4,863.7 966.4,863.2 969.4,863.1 972.4,863.1 975.4,863.8 978.4,864.3 981.4,864.4 984.4,864 987.3,864.5 990.3,865.2 993.3,866 996.3,867 999.3,868.1 1002.3,869.1 1005.3,869.5 1008.3,870 1011.3,871.4 1014.3,872.5 1017.3,873.9 1020.3,874.5 1023.3,875.9 1026.3,877 1029.3,878.6 1032.3,880.3 1035.3,881.8 1038.2,883.4 1041.2,884.8 1044.2,886.3 1047.2,888.5 1050.2,890.2 1053.2,892.3 1056.2,894.3 1059.2,896.5 1062.2,898.7 1065.2,900.7 1068.2,902.7 1071.2,904.4 1074.2,906.4 1077.2,908.5 1080.2,911.2 1083.2,913.2 1086.2,915 1089.2,916.5 1092.1,918.4 1095.1,920.8 1098.1,923.2 1101.1,925.4 1104.1,927.6 1107.1,929.8 1110.1,931.5 1113.1,933.5 1116.1,934.7 1119.1,937.3 1122.1,938.9 1125.1,941.6 1128.1,943.1 1131.1,945.3 1134.1,946.8 1137.1,948.7 1140.1,950.3 1143.1,951.9 1146,953.2 1149,954.9 1152,956.5 1155,958.5 1158,960 1161,961.2 1164,963.3 1167,965 1170,967.5 1173,968.5 1176,969.7 1179,969.7 1182,970.9 1185,971.7 1188,973.6 1191,975.1 1194,976.7 1197,977.8 1199.9,978.8 1202.9,980.1 1205.9,981.5 1208.9,983 1211.9,984.3 1214.9,985.4 1217.9,985.9 1220.9,986.8 1223.9,988 1226.9,989 1229.9,989.7 1232.9,990.4 1235.9,991.2 1238.9,991.9 1241.9,993.2 1244.9,994.3 1247.9,995.1 1250.9,995.9 1253.8,996.3 1256.8,997.2 1259.8,997.5" stroke="#a8a8f0" stroke-width="2.6" fill="none" stroke-linejoin="round"/>
<polyline points="744.8,1031.7 747.8,1031.9 750.8,1031.9 753.8,1032.1 756.8,1032 759.8,1031.1 762.8,1031.4 765.8,1031.4 768.8,1032 771.7,1031.2 774.7,1031.1 777.7,1031.6 780.7,1031.3 783.7,1031.3 786.7,1030.6 789.7,1031 792.7,1030.8 795.7,1030.7 798.7,1029.8 801.7,1028.9 804.7,1028.4 807.7,1027.9 810.7,1027.6 813.7,1026.8 816.7,1026.3 819.7,1025.4 822.7,1025 825.6,1024.4 828.6,1023.7 831.6,1022.7 834.6,1022 837.6,1020.6 840.6,1019.7 843.6,1018 846.6,1016.8 849.6,1014.5 852.6,1013 855.6,1010 858.6,1007.6 861.6,1004.4 864.6,1001.8 867.6,997.9 870.6,994 873.6,990.5 876.6,986.8 879.5,981.7 882.5,976.4 885.5,970.8 888.5,965.5 891.5,958.9 894.5,953.3 897.5,947.4 900.5,942.4 903.5,936.6 906.5,930.6 909.5,924.1 912.5,918.3 915.5,912.5 918.5,907 921.5,901.6 924.5,897.1 927.5,892.9 930.5,888.7 933.4,884.8 936.4,881.2 939.4,877.7 942.4,874.9 945.4,872.3 948.4,870.7 951.4,868.6 954.4,867 957.4,865.6 960.4,864.4 963.4,863.4 966.4,862.7 969.4,863.2 972.4,863.3 975.4,863.5 978.4,863.2 981.4,863.8 984.4,864.2 987.3,864.3 990.3,864.6 993.3,865.4 996.3,866.7 999.3,867.8 1002.3,868.4 1005.3,868.6 1008.3,869.7 1011.3,870.7 1014.3,872.4 1017.3,873.5 1020.3,874.7 1023.3,875.9 1026.3,877.6 1029.3,879.5 1032.3,880.9 1035.3,882.2 1038.2,883.4 1041.2,885.5 1044.2,887.4 1047.2,889.1 1050.2,891 1053.2,893 1056.2,895 1059.2,896.7 1062.2,898.7 1065.2,900.4 1068.2,902.6 1071.2,904.6 1074.2,907 1077.2,909.2 1080.2,911 1083.2,912.9 1086.2,915.2 1089.2,917.8 1092.1,919.7 1095.1,921.3 1098.1,922.9 1101.1,925.1 1104.1,926.8 1107.1,929.2 1110.1,931.1 1113.1,933.7 1116.1,935.2 1119.1,937.1 1122.1,939.2 1125.1,941.2 1128.1,943.5 1131.1,945.1 1134.1,947 1137.1,949 1140.1,950.9 1143.1,952.4 1146,953.7 1149,955.3 1152,957.5 1155,958.7 1158,959.9 1161,961 1164,963.4 1167,965.4 1170,966.9 1173,968.3 1176,969.1 1179,970.5 1182,971.5 1185,973.5 1188,975.1 1191,976.6 1194,977.5 1197,978.6 1199.9,979.7 1202.9,980.8 1205.9,981.8 1208.9,982.5 1211.9,983.6 1214.9,985 1217.9,986.3 1220.9,986.9 1223.9,987.7 1226.9,988.6 1229.9,989.9 1232.9,990.6 1235.9,991.4 1238.9,992.3 1241.9,993.3 1244.9,993.9 1247.9,994.2 1250.9,994.7 1253.8,995.4 1256.8,996.5 1259.8,997.4" stroke="#d0d0f8" stroke-width="2.6" fill="none" stroke-linejoin="round"/>
<polyline points="744.8,1031.5 747.8,1031.8 750.8,1031.7 753.8,1032.1 756.8,1032.1 759.8,1032.1 762.8,1032 765.8,1031.6 768.8,1031.5 771.7,1031.2 774.7,1031.2 777.7,1031.1 780.7,1030.4 783.7,1030.3 786.7,1029.9 789.7,1030.3 792.7,1029.9 795.7,1029.6 798.7,1028.8 801.7,1028.2 804.7,1027.5 807.7,1026.5 810.7,1025.8 813.7,1025.3 816.7,1025.2 819.7,1023.9 822.7,1022.8 825.6,1021.8 828.6,1021.4 831.6,1021.1 834.6,1020.3 837.6,1019.3 840.6,1017.8 843.6,1016.4 846.6,1014.7 849.6,1012.4 852.6,1009.7 855.6,1007.4 858.6,1004.7 861.6,1001.4 864.6,997.9 867.6,994.7 870.6,991.8 873.6,987.2 876.6,982.9 879.5,977.9 882.5,972.9 885.5,966.7 888.5,961 891.5,955.8 894.5,950.9 897.5,945.4 900.5,938.9 903.5,933.5 906.5,927.9 909.5,922.4 912.5,916.2 915.5,910.1 918.5,904.4 921.5,900 924.5,896 927.5,892.1 930.5,887.5 933.4,883.3 936.4,879.7 939.4,876.9 942.4,873.9 945.4,871.3 948.4,868.5 951.4,867.1 954.4,865.4 957.4,865.1 960.4,864.3 963.4,864.5 966.4,864.1 969.4,864.1 972.4,864 975.4,863.9 978.4,863.8 981.4,863.7 984.4,864.1 987.3,864.5 990.3,864.9 993.3,865.4 996.3,866.2 999.3,867.4 1002.3,868.3 1005.3,869.1 1008.3,870.2 1011.3,870.8 1014.3,871.7 1017.3,872.4 1020.3,874.1 1023.3,876.3 1026.3,878.2 1029.3,879.7 1032.3,880.7 1035.3,882.3 1038.2,884.1 1041.2,885.6 1044.2,887.4 1047.2,888.8 1050.2,890.8 1053.2,892.8 1056.2,894.9 1059.2,897.3 1062.2,899.2 1065.2,901.8 1068.2,904.1 1071.2,905.9 1074.2,907.6 1077.2,909.2 1080.2,911.7 1083.2,913.8 1086.2,916 1089.2,918.1 1092.1,920.4 1095.1,922.2 1098.1,923.8 1101.1,925.7 1104.1,927.8 1107.1,929.8 1110.1,931.1 1113.1,933.3 1116.1,935.3 1119.1,937.2 1122.1,939 1125.1,940.7 1128.1,943.7 1131.1,945.2 1134.1,947.4 1137.1,949 1140.1,950.9 1143.1,952.3 1146,953.3 1149,954.9 1152,956.8 1155,958.9 1158,960.9 1161,962.5 1164,963.8 1167,965.3 1170,966.7 1173,968.1 1176,969.3 1179,970.1 1182,971.1 1185,972.8 1188,974.8 1191,976.9 1194,978.1 1197,979.1 1199.9,980.2 1202.9,981.3 1205.9,982.6 1208.9,983.3 1211.9,984.1 1214.9,985.2 1217.9,986.1 1220.9,986.9 1223.9,987.6 1226.9,988.5 1229.9,989.8 1232.9,990.7 1235.9,991.9 1238.9,992.2 1241.9,992.9 1244.9,993.8 1247.9,994.5 1250.9,995.7 1253.8,995.9 1256.8,996.9 1259.8,997.3" stroke="#ffff60" stroke-width="2.6" fill="none" stroke-linejoin="round"/>
<polyline points="744.8,1032.1 747.8,1032.1 750.8,1031.9 753.8,1031.7 756.8,1031.4 759.8,1031.6 762.8,1031.3 765.8,1031.3 768.8,1031.3 771.7,1031 774.7,1031.2 777.7,1031.1 780.7,1031.2 783.7,1030.6 786.7,1029.4 789.7,1028.8 792.7,1027.9 795.7,1027.2 798.7,1026.2 801.7,1025.7 804.7,1025.4 807.7,1025.3 810.7,1024.9 813.7,1024.1 816.7,1023.3 819.7,1022.8 822.7,1022.7 825.6,1021.8 828.6,1020.8 831.6,1019.7 834.6,1018.8 837.6,1017.3 840.6,1015.3 843.6,1013.2 846.6,1011.1 849.6,1009.1 852.6,1006.8 855.6,1004.2 858.6,1000.7 861.6,997.3 864.6,994.8 867.6,991.7 870.6,987.9 873.6,982.8 876.6,977.6 879.5,973.1 882.5,968.3 885.5,963.7 888.5,958 891.5,953.1 894.5,947.4 897.5,942 900.5,935.9 903.5,930.9 906.5,925.4 909.5,919.6 912.5,913.7 915.5,908.2 918.5,903.4 921.5,898.3 924.5,894 927.5,889.9 930.5,886.3 933.4,882.6 936.4,879.2 939.4,875.8 942.4,873.2 945.4,870.7 948.4,869.6 951.4,867.5 954.4,866.3 957.4,864.4 960.4,863.9 963.4,863.3 966.4,863.1 969.4,863.2 972.4,863.3 975.4,863.7 978.4,863.6 981.4,864.2 984.4,864.6 987.3,865.2 990.3,865.6 993.3,866.3 996.3,867.4 999.3,867.7 1002.3,868.4 1005.3,868.4 1008.3,869.9 1011.3,871.2 1014.3,872.7 1017.3,874.1 1020.3,875.1 1023.3,876.8 1026.3,878 1029.3,879.6 1032.3,881 1035.3,882.2 1038.2,883.7 1041.2,885.7 1044.2,887.6 1047.2,889.9 1050.2,891.4 1053.2,893.8 1056.2,895.7 1059.2,897.3 1062.2,899.2 1065.2,901.2 1068.2,903.8 1071.2,905.8 1074.2,907.4 1077.2,909.6 1080.2,912 1083.2,914.3 1086.2,916.4 1089.2,918.2 1092.1,920.1 1095.1,921.7 1098.1,923.7 1101.1,926.2 1104.1,928.5 1107.1,930.5 1110.1,932.3 1113.1,933.8 1116.1,935.4 1119.1,937.6 1122.1,940 1125.1,942 1128.1,944.2 1131.1,945.9 1134.1,948 1137.1,949.5 1140.1,951.4 1143.1,953 1146,954.8 1149,956.5 1152,958.4 1155,959.6 1158,961.3 1161,962.5 1164,964.1 1167,965.4 1170,967.2 1173,968.7 1176,970.3 1179,971.3 1182,972.4 1185,973.5 1188,974.8 1191,976.3 1194,977.4 1197,978.8 1199.9,980 1202.9,981.1 1205.9,982.6 1208.9,983.3 1211.9,984.8 1214.9,985.3 1217.9,986.1 1220.9,986.7 1223.9,987.9 1226.9,989.2 1229.9,990.3 1232.9,991.3 1235.9,992.4 1238.9,993.1 1241.9,993.5 1244.9,994.4 1247.9,995.2 1250.9,996 1253.8,996.2 1256.8,997.2 1259.8,998" stroke="#ffffa0" stroke-width="2.6" fill="none" stroke-linejoin="round"/>
<polyline points="744.8,1031.5 747.8,1031.3 750.8,1031.1 753.8,1031.2 756.8,1031.1 759.8,1031.3 762.8,1030.6 765.8,1030.7 768.8,1030.6 771.7,1030.9 774.7,1030.4 777.7,1029.9 780.7,1029.2 783.7,1029 786.7,1028.7 789.7,1028 792.7,1027.2 795.7,1026.5 798.7,1026 801.7,1025.8 804.7,1025.9 807.7,1025.3 810.7,1024 813.7,1023 816.7,1022.7 819.7,1022.2 822.7,1020.8 825.6,1019.6 828.6,1018.4 831.6,1017.5 834.6,1016.1 837.6,1014.6 840.6,1012.8 843.6,1010.5 846.6,1008.2 849.6,1005.3 852.6,1003.1 855.6,1000.3 858.6,998 861.6,994.8 864.6,992.5 867.6,988.8 870.6,984.6 873.6,979.6 876.6,974.6 879.5,970.2 882.5,964.7 885.5,959.6 888.5,954.1 891.5,949.5 894.5,944.5 897.5,938.7 900.5,933.2 903.5,927.9 906.5,922.6 909.5,916.7 912.5,910.7 915.5,905.6 918.5,901 921.5,896.9 924.5,892.6 927.5,889.3 930.5,885.7 933.4,882.1 936.4,878.5 939.4,875.2 942.4,872.3 945.4,870.3 948.4,868.6 951.4,867.6 954.4,866.2 957.4,865.1 960.4,864.6 963.4,864.8 966.4,864.3 969.4,863.9 972.4,863 975.4,863.3 978.4,863.3 981.4,863.7 984.4,863.9 987.3,864.8 990.3,865.3 993.3,866.4 996.3,866.8 999.3,867.3 1002.3,867.9 1005.3,868.5 1008.3,870.1 1011.3,870.9 1014.3,872.4 1017.3,873.4 1020.3,875.2 1023.3,876.9 1026.3,878.4 1029.3,880.2 1032.3,881.8 1035.3,883.4 1038.2,884.8 1041.2,886.5 1044.2,888.6 1047.2,890.2 1050.2,891.9 1053.2,893.5 1056.2,895.6 1059.2,897 1062.2,899.2 1065.2,901.7 1068.2,904.2 1071.2,906.2 1074.2,907.8 1077.2,910.4 1080.2,912.2 1083.2,914.3 1086.2,916 1089.2,918.6 1092.1,920.5 1095.1,922.5 1098.1,923.8 1101.1,926 1104.1,928.3 1107.1,930.7 1110.1,932.8 1113.1,934.4 1116.1,936.7 1119.1,938.5 1122.1,940.6 1125.1,942.2 1128.1,944.2 1131.1,946.1 1134.1,947.9 1137.1,949.7 1140.1,951.2 1143.1,953 1146,955.1 1149,956.8 1152,958.1 1155,959.1 1158,960.6 1161,962.4 1164,964.1 1167,966.1 1170,967.5 1173,968.5 1176,969.4 1179,970.9 1182,972.4 1185,973.8 1188,975.2 1191,976.5 1194,977.7 1197,979.2 1199.9,980.5 1202.9,981.6 1205.9,982.5 1208.9,984 1211.9,985.2 1214.9,986.7 1217.9,986.6 1220.9,987.4 1223.9,987.6 1226.9,989.1 1229.9,990.5 1232.9,991.5 1235.9,992.2 1238.9,992.9 1241.9,993.6 1244.9,994.3 1247.9,994.7 1250.9,995.7 1253.8,997.1 1256.8,998 1259.8,998.4" stroke="#ffff70" stroke-width="2.6" fill="none" stroke-linejoin="round"/>
<polyline points="744.8,1031.3 747.8,1030.8 750.8,1030.1 753.8,1030 756.8,1030 759.8,1029.8 762.8,1029.7 765.8,1029.7 768.8,1029.6 771.7,1029.2 774.7,1028.9 777.7,1028.8 780.7,1028.2 783.7,1027.7 786.7,1026.8 789.7,1026.4 792.7,1025.4 795.7,1024.8 798.7,1024.5 801.7,1024.1 804.7,1023.9 807.7,1022.7 810.7,1022.2 813.7,1021.5 816.7,1020.9 819.7,1020.3 822.7,1019.4 825.6,1018.4 828.6,1017.1 831.6,1015.6 834.6,1014.2 837.6,1012.1 840.6,1010.5 843.6,1007.8 846.6,1005.5 849.6,1002.5 852.6,1000.2 855.6,996.8 858.6,994.3 861.6,991 864.6,988.4 867.6,984 870.6,980 873.6,975.1 876.6,971 879.5,966 882.5,961.5 885.5,956.2 888.5,951.5 891.5,946.8 894.5,941.8 897.5,936.6 900.5,931.1 903.5,925.4 906.5,920 909.5,914.2 912.5,909.2 915.5,904.1 918.5,899.8 921.5,895.5 924.5,891.5 927.5,887.8 930.5,884.1 933.4,880.4 936.4,877.2 939.4,874.8 942.4,872.8 945.4,871 948.4,868.9 951.4,866.9 954.4,865.3 957.4,864.1 960.4,863.6 963.4,863.6 966.4,863.9 969.4,863.3 972.4,863.7 975.4,863.5 978.4,864 981.4,863.7 984.4,863.6 987.3,864 990.3,864.5 993.3,866 996.3,866.9 999.3,868 1002.3,868.7 1005.3,869.6 1008.3,870.5 1011.3,871.4 1014.3,872.1 1017.3,873 1020.3,874.5 1023.3,876.8 1026.3,878.4 1029.3,879.8 1032.3,881 1035.3,883 1038.2,884.8 1041.2,886.6 1044.2,888 1047.2,890.2 1050.2,892.1 1053.2,894.2 1056.2,896.3 1059.2,898 1062.2,900 1065.2,902 1068.2,903.9 1071.2,906.3 1074.2,907.9 1077.2,910.2 1080.2,912.3 1083.2,914.6 1086.2,917.1 1089.2,919.2 1092.1,921.2 1095.1,922.4 1098.1,924 1101.1,926.2 1104.1,928.4 1107.1,930.6 1110.1,932.4 1113.1,934.5 1116.1,936.3 1119.1,938.3 1122.1,940.4 1125.1,942.5 1128.1,944.4 1131.1,946.1 1134.1,948 1137.1,949.6 1140.1,951.6 1143.1,953.3 1146,954.6 1149,956 1152,958 1155,959.6 1158,961.3 1161,962.5 1164,964 1167,965.7 1170,967.4 1173,969.2 1176,970.6 1179,971.4 1182,972.4 1185,973.9 1188,975.5 1191,977.1 1194,977.7 1197,979 1199.9,980 1202.9,981.4 1205.9,982.4 1208.9,983.5 1211.9,984.6 1214.9,985.7 1217.9,986.6 1220.9,987.7 1223.9,988.6 1226.9,989.7 1229.9,990.4 1232.9,991.1 1235.9,992.2 1238.9,993 1241.9,994.1 1244.9,994.5 1247.9,995.3 1250.9,995.8 1253.8,996.5 1256.8,997.5 1259.8,998.2" stroke="#ffff30" stroke-width="2.6" fill="none" stroke-linejoin="round"/>
<polyline points="744.8,1030.9 747.8,1030.8 750.8,1030.8 753.8,1030.3 756.8,1029.8 759.8,1029.2 762.8,1029 765.8,1028.9 768.8,1028.9 771.7,1028.2 774.7,1027.2 777.7,1026.5 780.7,1026.3 783.7,1026.1 786.7,1025.7 789.7,1025 792.7,1024.8 795.7,1025 798.7,1024.6 801.7,1023.6 804.7,1022.4 807.7,1022.2 810.7,1021.7 813.7,1021.5 816.7,1019.7 819.7,1018.7 822.7,1017.5 825.6,1016.4 828.6,1015.2 831.6,1013 834.6,1011.4 837.6,1009.4 840.6,1007.2 843.6,1005.2 846.6,1002.2 849.6,999.9 852.6,997.2 855.6,995.3 858.6,991.9 861.6,987.9 864.6,984.1 867.6,980.1 870.6,976.1 873.6,971.4 876.6,967.2 879.5,962.7 882.5,957.6 885.5,952.9 888.5,948.7 891.5,943.7 894.5,938.4 897.5,932.8 900.5,927.9 903.5,922.9 906.5,917.2 909.5,911.8 912.5,906.5 915.5,902.1 918.5,898.2 921.5,894.2 924.5,890.3 927.5,885.9 930.5,882.8 933.4,879.3 936.4,876.8 939.4,874.1 942.4,871.7 945.4,869.9 948.4,868.2 951.4,867 954.4,865.5 957.4,864.6 960.4,863.6 963.4,863.5 966.4,863.2 969.4,863.1 972.4,862.8 975.4,862.6 978.4,863.1 981.4,863.3 984.4,863.6 987.3,864.4 990.3,865.5 993.3,866.6 996.3,867.3 999.3,868.5 1002.3,869.1 1005.3,869.8 1008.3,870.3 1011.3,871.2 1014.3,872.5 1017.3,873.8 1020.3,875.4 1023.3,876.9 1026.3,878.5 1029.3,880 1032.3,881.5 1035.3,882.8 1038.2,884.9 1041.2,886.5 1044.2,888.9 1047.2,890.5 1050.2,892.6 1053.2,893.9 1056.2,895.6 1059.2,897.4 1062.2,899.3 1065.2,901.2 1068.2,903.3 1071.2,906 1074.2,908.8 1077.2,911.1 1080.2,913.1 1083.2,915 1086.2,917.1 1089.2,919.4 1092.1,920.9 1095.1,923.1 1098.1,924.9 1101.1,927.1 1104.1,929.2 1107.1,930.9 1110.1,932.8 1113.1,934.5 1116.1,936.9 1119.1,939.2 1122.1,941.5 1125.1,942.8 1128.1,944.5 1131.1,946 1134.1,948.4 1137.1,950 1140.1,951.2 1143.1,953 1146,955 1149,957.5 1152,958.7 1155,960.1 1158,960.8 1161,962.6 1164,964.2 1167,966.4 1170,967.7 1173,969.4 1176,970.4 1179,971.9 1182,973 1185,974.6 1188,975.7 1191,976.4 1194,977.5 1197,978.8 1199.9,980 1202.9,981.2 1205.9,982.5 1208.9,984.3 1211.9,985.2 1214.9,986.1 1217.9,986.9 1220.9,988 1223.9,989.3 1226.9,990.4 1229.9,991.3 1232.9,991.6 1235.9,992.3 1238.9,993.1 1241.9,993.8 1244.9,994.4 1247.9,995.1 1250.9,996.1 1253.8,996.8 1256.8,997.2 1259.8,997.8" stroke="#ffd010" stroke-width="2.6" fill="none" stroke-linejoin="round"/>
<polyline points="744.8,1030.6 747.8,1030.4 750.8,1029.7 753.8,1029.7 756.8,1029.1 759.8,1028.8 762.8,1028.4 765.8,1027.8 768.8,1027.1 771.7,1026.7 774.7,1026 777.7,1026 780.7,1025.5 783.7,1025.6 786.7,1024.7 789.7,1023.9 792.7,1023.3 795.7,1022.7 798.7,1022.2 801.7,1021.2 804.7,1020.3 807.7,1019.6 810.7,1019.8 813.7,1019.8 816.7,1019.1 819.7,1017.3 822.7,1015.8 825.6,1014.3 828.6,1012.9 831.6,1011.2 834.6,1008.9 837.6,1007.2 840.6,1004.7 843.6,1002.3 846.6,999.2 849.6,996.9 852.6,994.6 855.6,991.7 858.6,988.3 861.6,984.2 864.6,980.3 867.6,976.5 870.6,972.8 873.6,968.2 876.6,963.5 879.5,958.9 882.5,955.3 885.5,951.2 888.5,947 891.5,941.2 894.5,935.8 897.5,930.2 900.5,925.2 903.5,919.3 906.5,913.6 909.5,908.8 912.5,904.8 915.5,901 918.5,897.2 921.5,893.4 924.5,888.8 927.5,884.5 930.5,881.1 933.4,878.7 936.4,876.1 939.4,873.4 942.4,871.5 945.4,870.3 948.4,868.4 951.4,866.4 954.4,864.3 957.4,863.8 960.4,863 963.4,863.4 966.4,863.3 969.4,863.2 972.4,862.7 975.4,863 978.4,863.3 981.4,864.1 984.4,864.8 987.3,865.4 990.3,865.6 993.3,865.7 996.3,867 999.3,868 1002.3,868.9 1005.3,869.5 1008.3,871.3 1011.3,872.2 1014.3,873 1017.3,873.6 1020.3,875.6 1023.3,877.7 1026.3,879.2 1029.3,880.1 1032.3,881.3 1035.3,883.3 1038.2,885.1 1041.2,887 1044.2,888.8 1047.2,890.9 1050.2,892.6 1053.2,894.5 1056.2,896.1 1059.2,898 1062.2,900.1 1065.2,902 1068.2,904.6 1071.2,906.4 1074.2,908.7 1077.2,910.2 1080.2,913 1083.2,915.1 1086.2,917.1 1089.2,918.2 1092.1,921 1095.1,923.5 1098.1,925.9 1101.1,927.4 1104.1,928.9 1107.1,931.1 1110.1,932.7 1113.1,934.8 1116.1,937 1119.1,939.5 1122.1,941.7 1125.1,943.2 1128.1,944.5 1131.1,946.2 1134.1,947.8 1137.1,950.2 1140.1,952.7 1143.1,954.7 1146,955.9 1149,956.9 1152,958.8 1155,960.4 1158,961.4 1161,962.8 1164,964.6 1167,966.8 1170,967.7 1173,969 1176,970 1179,971.5 1182,972.6 1185,974.2 1188,975.6 1191,976.9 1194,977.7 1197,978.9 1199.9,980.4 1202.9,981.7 1205.9,983.2 1208.9,983.9 1211.9,985.1 1214.9,985.8 1217.9,987.2 1220.9,988.1 1223.9,989.2 1226.9,989.8 1229.9,990.6 1232.9,991.4 1235.9,992.3 1238.9,993.6 1241.9,994.1 1244.9,995 1247.9,995.3 1250.9,996.5 1253.8,996.8 1256.8,997.6 1259.8,998.1" stroke="#ff9010" stroke-width="2.6" fill="none" stroke-linejoin="round"/>
<polyline points="744.8,1029.5 747.8,1028.7 750.8,1028.1 753.8,1027.8 756.8,1028 759.8,1027.4 762.8,1026.8 765.8,1025.8 768.8,1025.5 771.7,1025.3 774.7,1025.2 777.7,1024.7 780.7,1024 783.7,1023.7 786.7,1023.3 789.7,1023.1 792.7,1022.1 795.7,1021.7 798.7,1020.9 801.7,1020.2 804.7,1019.3 807.7,1019.2 810.7,1018.4 813.7,1017.6 816.7,1016.3 819.7,1014.9 822.7,1013.7 825.6,1011.5 828.6,1009.5 831.6,1007.3 834.6,1005.2 837.6,1003.4 840.6,1000.9 843.6,999.1 846.6,996.7 849.6,994.3 852.6,991 855.6,988.1 858.6,984.4 861.6,980.9 864.6,976.8 867.6,972.7 870.6,968.5 873.6,964.2 876.6,960.1 879.5,955.7 882.5,951.8 885.5,947.3 888.5,942.5 891.5,937.4 894.5,932.3 897.5,927.3 900.5,922.3 903.5,917.2 906.5,911.9 909.5,907 912.5,903 915.5,899.2 918.5,895.5 921.5,891 924.5,887.5 927.5,883.9 930.5,881.3 933.4,878.3 936.4,875.7 939.4,873.4 942.4,871.5 945.4,869.8 948.4,867.6 951.4,866.4 954.4,865 957.4,864.6 960.4,864.3 963.4,863.8 966.4,864 969.4,863.3 972.4,864 975.4,863.5 978.4,863.5 981.4,864 984.4,864.8 987.3,865.6 990.3,865.8 993.3,866.3 996.3,867.4 999.3,868.6 1002.3,869.3 1005.3,869.7 1008.3,870.5 1011.3,871.5 1014.3,872.8 1017.3,873.5 1020.3,875.1 1023.3,876.8 1026.3,879 1029.3,880.7 1032.3,882.5 1035.3,884.2 1038.2,886.1 1041.2,888.2 1044.2,890 1047.2,891.3 1050.2,892.4 1053.2,894.3 1056.2,896.4 1059.2,898.6 1062.2,900.3 1065.2,902.4 1068.2,904.7 1071.2,906.6 1074.2,908.8 1077.2,911 1080.2,913.9 1083.2,915.8 1086.2,917.8 1089.2,918.9 1092.1,921.1 1095.1,922.8 1098.1,925.1 1101.1,926.6 1104.1,929.1 1107.1,931 1110.1,933.3 1113.1,935 1116.1,937.4 1119.1,939.5 1122.1,941.4 1125.1,943.8 1128.1,945.4 1131.1,947.1 1134.1,948.5 1137.1,950.4 1140.1,951.6 1143.1,953 1146,954.8 1149,956.7 1152,958.6 1155,960.2 1158,962.4 1161,963.8 1164,965.1 1167,966.3 1170,967.9 1173,969.5 1176,971 1179,972.3 1182,973.6 1185,975.1 1188,976.4 1191,977.6 1194,978.9 1197,979.8 1199.9,981 1202.9,982.1 1205.9,983.5 1208.9,984.6 1211.9,985.4 1214.9,986.2 1217.9,987.1 1220.9,988.2 1223.9,988.8 1226.9,989.4 1229.9,990 1232.9,991 1235.9,992 1238.9,992.9 1241.9,993.9 1244.9,994.1 1247.9,994.5 1250.9,995 1253.8,996.5 1256.8,997.2 1259.8,998.2" stroke="#f05010" stroke-width="2.6" fill="none" stroke-linejoin="round"/>
<polyline points="744.8,1028.2 747.8,1027.4 750.8,1027.1 753.8,1026.6 756.8,1026 759.8,1025.8 762.8,1025.4 765.8,1025.5 768.8,1024.5 771.7,1024.2 774.7,1023.6 777.7,1023.5 780.7,1023.2 783.7,1022.8 786.7,1022.9 789.7,1022.2 792.7,1021.8 795.7,1020.8 798.7,1020.2 801.7,1019.6 804.7,1019 807.7,1018 810.7,1016.9 813.7,1015.3 816.7,1013.7 819.7,1012 822.7,1010.9 825.6,1009.1 828.6,1007.6 831.6,1005.3 834.6,1003.3 837.6,1000.9 840.6,998.9 843.6,996.8 846.6,993.8 849.6,990.9 852.6,987.8 855.6,984.8 858.6,981.2 861.6,977.2 864.6,973.8 867.6,970.2 870.6,965.5 873.6,961.1 876.6,956.7 879.5,953.2 882.5,948.8 885.5,944.6 888.5,939.9 891.5,935.2 894.5,929.7 897.5,924.6 900.5,919.6 903.5,915 906.5,910.8 909.5,905.8 912.5,901.7 915.5,897.4 918.5,893.7 921.5,889.9 924.5,886.2 927.5,883.4 930.5,880 933.4,877.3 936.4,874.8 939.4,872.4 942.4,870.6 945.4,869.1 948.4,867.9 951.4,866.2 954.4,865 957.4,864 960.4,863.7 963.4,862.8 966.4,863 969.4,863 972.4,863.9 975.4,863.9 978.4,864.3 981.4,864.1 984.4,864.5 987.3,865.2 990.3,866.1 993.3,866.9 996.3,867.6 999.3,868.2 1002.3,868.8 1005.3,869.5 1008.3,870.3 1011.3,871.9 1014.3,873.5 1017.3,875.1 1020.3,876.3 1023.3,877.4 1026.3,878.8 1029.3,880.3 1032.3,882.1 1035.3,883.7 1038.2,885.4 1041.2,887.2 1044.2,889.1 1047.2,890.7 1050.2,892.2 1053.2,894.3 1056.2,896.2 1059.2,898.8 1062.2,901.2 1065.2,903.5 1068.2,906.1 1071.2,907.9 1074.2,909.8 1077.2,911.2 1080.2,913.5 1083.2,915.5 1086.2,917.6 1089.2,919.3 1092.1,921 1095.1,922.8 1098.1,924.8 1101.1,927.2 1104.1,929.3 1107.1,931.5 1110.1,933.6 1113.1,935.3 1116.1,937.7 1119.1,939.8 1122.1,941.8 1125.1,943.4 1128.1,945.2 1131.1,947.3 1134.1,948.8 1137.1,950.3 1140.1,951.5 1143.1,953.3 1146,955.4 1149,957.3 1152,959 1155,960.1 1158,962.3 1161,963.9 1164,966.2 1167,967 1170,968.5 1173,969.3 1176,970.6 1179,972 1182,973.6 1185,975 1188,976 1191,977.2 1194,978.4 1197,980.2 1199.9,981 1202.9,982.3 1205.9,983.2 1208.9,984.7 1211.9,985.8 1214.9,986.6 1217.9,987.2 1220.9,987.7 1223.9,988.2 1226.9,989 1229.9,990.3 1232.9,991.4 1235.9,992.2 1238.9,992.2 1241.9,993.5 1244.9,994.9 1247.9,996.1 1250.9,996.6 1253.8,997.2 1256.8,997.9 1259.8,998.5" stroke="#e81010" stroke-width="2.6" fill="none" stroke-linejoin="round"/>
</g>
<rect x="744.8" y="846.4" width="515.7" height="185.7" fill="none" stroke="#000" stroke-width="1.7"/>
<path d="M761.4 1032.1v-7M761.4 846.4v7M844.6 1032.1v-7M844.6 846.4v7M927.8 1032.1v-7M927.8 846.4v7M1011 1032.1v-7M1011 846.4v7M1094.1 1032.1v-7M1094.1 846.4v7M1177.3 1032.1v-7M1177.3 846.4v7M803 1032.1v-4M803 846.4v4M886.2 1032.1v-4M886.2 846.4v4M969.4 1032.1v-4M969.4 846.4v4M1052.6 1032.1v-4M1052.6 846.4v4M1135.7 1032.1v-4M1135.7 846.4v4M1218.9 1032.1v-4M1218.9 846.4v4M744.8 998.4h7M1260.5 998.4h-7M744.8 964.7h7M1260.5 964.7h-7M744.8 930.9h7M1260.5 930.9h-7M744.8 897.2h7M1260.5 897.2h-7M744.8 863.5h7M1260.5 863.5h-7M744.8 1015.2h4M1260.5 1015.2h-4M744.8 981.5h4M1260.5 981.5h-4M744.8 947.8h4M1260.5 947.8h-4M744.8 914.1h4M1260.5 914.1h-4M744.8 880.4h4M1260.5 880.4h-4" stroke="#000" stroke-width="1.5" fill="none"/>
<text x="762.2" y="1055.7" font-size="20" text-anchor="middle" fill="#000" stroke="#000">475</text>
<text x="845.4" y="1055.7" font-size="20" text-anchor="middle" fill="#000" stroke="#000">500</text>
<text x="928.6" y="1055.7" font-size="20" text-anchor="middle" fill="#000" stroke="#000">525</text>
<text x="1011.8" y="1055.7" font-size="20" text-anchor="middle" fill="#000" stroke="#000">550</text>
<text x="1094.9" y="1055.7" font-size="20" text-anchor="middle" fill="#000" stroke="#000">575</text>
<text x="1178.1" y="1055.7" font-size="20" text-anchor="middle" fill="#000" stroke="#000">600</text>
<text x="1261.3" y="1055.7" font-size="20" text-anchor="middle" fill="#000" stroke="#000">625</text>
<text x="738.3" y="1039.1" font-size="20" text-anchor="end" fill="#000" stroke="#000">0.0</text>
<text x="738.3" y="1005.4" font-size="20" text-anchor="end" fill="#000" stroke="#000">0.2</text>
<text x="738.3" y="971.7" font-size="20" text-anchor="end" fill="#000" stroke="#000">0.4</text>
<text x="738.3" y="937.9" font-size="20" text-anchor="end" fill="#000" stroke="#000">0.6</text>
<text x="738.3" y="904.2" font-size="20" text-anchor="end" fill="#000" stroke="#000">0.8</text>
<text x="738.3" y="870.5" font-size="20" text-anchor="end" fill="#000" stroke="#000">1.0</text>
<text x="664.7" y="947.2" font-size="27.9" text-anchor="middle" fill="#000" stroke="#000" transform="rotate(-90 664.7 947.2)">Normalised</text>
<text x="700.2" y="940.2" font-size="26.2" text-anchor="middle" fill="#000" stroke="#000" transform="rotate(-90 700.2 940.2)">PL intensity (a.u.)</text>
<text x="791" y="918" font-size="52" text-anchor="middle" fill="#000" stroke="#000">2</text>
<path d="M1363 839.5L1391 839.5" stroke="#1010e0" stroke-width="3.4"/>
<path d="M1363 854.2L1391 854.2" stroke="#3030e8" stroke-width="3.4"/>
<path d="M1363 869L1391 869" stroke="#5050e0" stroke-width="3.4"/>
<path d="M1363 883.7L1391 883.7" stroke="#7070e8" stroke-width="3.4"/>
<path d="M1363 898.4L1391 898.4" stroke="#8888f0" stroke-width="3.4"/>
<path d="M1363 913.1L1391 913.1" stroke="#a8a8f0" stroke-width="3.4"/>
<path d="M1363 927.9L1391 927.9" stroke="#d0d0f8" stroke-width="3.4"/>
<path d="M1363 942.6L1391 942.6" stroke="#ffff60" stroke-width="3.4"/>
<path d="M1363 957.3L1391 957.3" stroke="#ffffa0" stroke-width="3.4"/>
<path d="M1363 972.1L1391 972.1" stroke="#ffff70" stroke-width="3.4"/>
<path d="M1363 986.8L1391 986.8" stroke="#ffff30" stroke-width="3.4"/>
<path d="M1363 1001.5L1391 1001.5" stroke="#ffd010" stroke-width="3.4"/>
<path d="M1363 1016.3L1391 1016.3" stroke="#ff9010" stroke-width="3.4"/>
<path d="M1363 1031L1391 1031" stroke="#f05010" stroke-width="3.4"/>
<path d="M1363 1045.7L1391 1045.7" stroke="#e81010" stroke-width="3.4"/>
<text x="1401.5" y="853" font-size="21.5" text-anchor="start" stroke="#000">10<tspan font-size="14" dy="-8.5">o</tspan><tspan dy="8.5">C</tspan></text>
<text x="1401.5" y="1051.6" font-size="21.5" text-anchor="start" stroke="#000">150<tspan font-size="14" dy="-8.5">o</tspan><tspan dy="8.5">C</tspan></text>
<path d="M1413.4 862V1013" stroke="#000" stroke-width="2.7"/><path d="M1408.2 1011.5h10.4l-5.2 16.5z" fill="#000"/>
<text x="1514.5" y="876" font-size="58.5" text-anchor="middle" fill="#000" stroke="#000">(b)</text>
<clipPath id="hcr"><rect x="108.9" y="1080.5" width="514" height="433.4"/></clipPath>
<g clip-path="url(#hcr)"><g filter="url(#bl)">
<rect x="96.9" y="1070.5" width="15.6" height="453.4" fill="#6e0073"/>
<rect x="111.9" y="1070.5" width="3.6" height="453.4" fill="#6e0073"/>
<rect x="114.9" y="1070.5" width="3.6" height="453.4" fill="#6f0074"/>
<rect x="117.9" y="1070.5" width="3.6" height="453.4" fill="#6f0074"/>
<rect x="120.9" y="1070.5" width="3.6" height="453.4" fill="url(#r0)"/>
<rect x="123.8" y="1070.5" width="3.6" height="453.4" fill="url(#r1)"/>
<rect x="126.8" y="1070.5" width="3.6" height="453.4" fill="url(#r2)"/>
<rect x="129.8" y="1070.5" width="3.6" height="453.4" fill="url(#r3)"/>
<rect x="132.8" y="1070.5" width="3.6" height="453.4" fill="url(#r4)"/>
<rect x="135.8" y="1070.5" width="3.6" height="453.4" fill="url(#r5)"/>
<rect x="138.8" y="1070.5" width="3.6" height="453.4" fill="url(#r6)"/>
<rect x="141.8" y="1070.5" width="3.6" height="453.4" fill="url(#r7)"/>
<rect x="144.8" y="1070.5" width="3.6" height="453.4" fill="url(#r8)"/>
<rect x="147.7" y="1070.5" width="3.6" height="453.4" fill="url(#r9)"/>
<rect x="150.7" y="1070.5" width="3.6" height="453.4" fill="url(#r10)"/>
<rect x="153.7" y="1070.5" width="3.6" height="453.4" fill="url(#r11)"/>
<rect x="156.7" y="1070.5" width="3.6" height="453.4" fill="url(#r12)"/>
<rect x="159.7" y="1070.5" width="3.6" height="453.4" fill="url(#r13)"/>
<rect x="162.7" y="1070.5" width="3.6" height="453.4" fill="url(#r14)"/>
<rect x="165.7" y="1070.5" width="3.6" height="453.4" fill="url(#r15)"/>
<rect x="168.7" y="1070.5" width="3.6" height="453.4" fill="url(#r16)"/>
<rect x="171.7" y="1070.5" width="3.6" height="453.4" fill="url(#r17)"/>
<rect x="174.6" y="1070.5" width="3.6" height="453.4" fill="url(#r18)"/>
<rect x="177.6" y="1070.5" width="3.6" height="453.4" fill="url(#r19)"/>
<rect x="180.6" y="1070.5" width="3.6" height="453.4" fill="url(#r20)"/>
<rect x="183.6" y="1070.5" width="3.6" height="453.4" fill="url(#r21)"/>
<rect x="186.6" y="1070.5" width="3.6" height="453.4" fill="url(#r22)"/>
<rect x="189.6" y="1070.5" width="3.6" height="453.4" fill="url(#r23)"/>
<rect x="192.6" y="1070.5" width="3.6" height="453.4" fill="url(#r24)"/>
<rect x="195.6" y="1070.5" width="3.6" height="453.4" fill="url(#r25)"/>
<rect x="198.6" y="1070.5" width="3.6" height="453.4" fill="url(#r26)"/>
<rect x="201.5" y="1070.5" width="3.6" height="453.4" fill="url(#r27)"/>
<rect x="204.5" y="1070.5" width="3.6" height="453.4" fill="url(#r28)"/>
<rect x="207.5" y="1070.5" width="3.6" height="453.4" fill="url(#r29)"/>
<rect x="210.5" y="1070.5" width="3.6" height="453.4" fill="url(#r30)"/>
<rect x="213.5" y="1070.5" width="3.6" height="453.4" fill="url(#r31)"/>
<rect x="216.5" y="1070.5" width="3.6" height="453.4" fill="url(#r32)"/>
<rect x="219.5" y="1070.5" width="3.6" height="453.4" fill="url(#r33)"/>
<rect x="222.5" y="1070.5" width="3.6" height="453.4" fill="url(#r34)"/>
<rect x="225.4" y="1070.5" width="3.6" height="453.4" fill="url(#r35)"/>
<rect x="228.4" y="1070.5" width="3.6" height="453.4" fill="url(#r36)"/>
<rect x="231.4" y="1070.5" width="3.6" height="453.4" fill="url(#r37)"/>
<rect x="234.4" y="1070.5" width="3.6" height="453.4" fill="url(#r38)"/>
<rect x="237.4" y="1070.5" width="3.6" height="453.4" fill="url(#r39)"/>
<rect x="240.4" y="1070.5" width="3.6" height="453.4" fill="url(#r40)"/>
<rect x="243.4" y="1070.5" width="3.6" height="453.4" fill="url(#r41)"/>
<rect x="246.4" y="1070.5" width="3.6" height="453.4" fill="url(#r42)"/>
<rect x="249.4" y="1070.5" width="3.6" height="453.4" fill="url(#r43)"/>
<rect x="252.3" y="1070.5" width="3.6" height="453.4" fill="url(#r44)"/>
<rect x="255.3" y="1070.5" width="3.6" height="453.4" fill="url(#r45)"/>
<rect x="258.3" y="1070.5" width="3.6" height="453.4" fill="url(#r46)"/>
<rect x="261.3" y="1070.5" width="3.6" height="453.4" fill="url(#r47)"/>
<rect x="264.3" y="1070.5" width="3.6" height="453.4" fill="url(#r48)"/>
<rect x="267.3" y="1070.5" width="3.6" height="453.4" fill="url(#r49)"/>
<rect x="270.3" y="1070.5" width="3.6" height="453.4" fill="url(#r50)"/>
<rect x="273.3" y="1070.5" width="3.6" height="453.4" fill="url(#r51)"/>
<rect x="276.2" y="1070.5" width="3.6" height="453.4" fill="url(#r52)"/>
<rect x="279.2" y="1070.5" width="3.6" height="453.4" fill="url(#r53)"/>
<rect x="282.2" y="1070.5" width="3.6" height="453.4" fill="url(#r54)"/>
<rect x="285.2" y="1070.5" width="3.6" height="453.4" fill="url(#r55)"/>
<rect x="288.2" y="1070.5" width="3.6" height="453.4" fill="url(#r56)"/>
<rect x="291.2" y="1070.5" width="3.6" height="453.4" fill="url(#r57)"/>
<rect x="294.2" y="1070.5" width="3.6" height="453.4" fill="url(#r58)"/>
<rect x="297.2" y="1070.5" width="3.6" height="453.4" fill="url(#r59)"/>
<rect x="300.2" y="1070.5" width="3.6" height="453.4" fill="url(#r60)"/>
<rect x="303.1" y="1070.5" width="3.6" height="453.4" fill="url(#r61)"/>
<rect x="306.1" y="1070.5" width="3.6" height="453.4" fill="url(#r62)"/>
<rect x="309.1" y="1070.5" width="3.6" height="453.4" fill="url(#r63)"/>
<rect x="312.1" y="1070.5" width="3.6" height="453.4" fill="url(#r64)"/>
<rect x="315.1" y="1070.5" width="3.6" height="453.4" fill="url(#r65)"/>
<rect x="318.1" y="1070.5" width="3.6" height="453.4" fill="url(#r66)"/>
<rect x="321.1" y="1070.5" width="3.6" height="453.4" fill="url(#r67)"/>
<rect x="324.1" y="1070.5" width="3.6" height="453.4" fill="url(#r68)"/>
<rect x="327.1" y="1070.5" width="3.6" height="453.4" fill="url(#r69)"/>
<rect x="330" y="1070.5" width="3.6" height="453.4" fill="url(#r70)"/>
<rect x="333" y="1070.5" width="3.6" height="453.4" fill="url(#r71)"/>
<rect x="336" y="1070.5" width="3.6" height="453.4" fill="#5e0000"/>
<rect x="339" y="1070.5" width="3.6" height="453.4" fill="#5d0000"/>
<rect x="342" y="1070.5" width="3.6" height="453.4" fill="#5c0000"/>
<rect x="345" y="1070.5" width="3.6" height="453.4" fill="#5d0000"/>
<rect x="348" y="1070.5" width="3.6" height="453.4" fill="url(#r72)"/>
<rect x="351" y="1070.5" width="3.6" height="453.4" fill="url(#r73)"/>
<rect x="353.9" y="1070.5" width="3.6" height="453.4" fill="url(#r74)"/>
<rect x="356.9" y="1070.5" width="3.6" height="453.4" fill="url(#r75)"/>
<rect x="359.9" y="1070.5" width="3.6" height="453.4" fill="url(#r76)"/>
<rect x="362.9" y="1070.5" width="3.6" height="453.4" fill="url(#r77)"/>
<rect x="365.9" y="1070.5" width="3.6" height="453.4" fill="url(#r78)"/>
<rect x="368.9" y="1070.5" width="3.6" height="453.4" fill="#780000"/>
<rect x="371.9" y="1070.5" width="3.6" height="453.4" fill="#7d0000"/>
<rect x="374.9" y="1070.5" width="3.6" height="453.4" fill="#810000"/>
<rect x="377.9" y="1070.5" width="3.6" height="453.4" fill="#860000"/>
<rect x="380.8" y="1070.5" width="3.6" height="453.4" fill="#8c0000"/>
<rect x="383.8" y="1070.5" width="3.6" height="453.4" fill="#930000"/>
<rect x="386.8" y="1070.5" width="3.6" height="453.4" fill="#9a0000"/>
<rect x="389.8" y="1070.5" width="3.6" height="453.4" fill="url(#r79)"/>
<rect x="392.8" y="1070.5" width="3.6" height="453.4" fill="url(#r80)"/>
<rect x="395.8" y="1070.5" width="3.6" height="453.4" fill="url(#r81)"/>
<rect x="398.8" y="1070.5" width="3.6" height="453.4" fill="#b90000"/>
<rect x="401.8" y="1070.5" width="3.6" height="453.4" fill="#c10000"/>
<rect x="404.7" y="1070.5" width="3.6" height="453.4" fill="#c90000"/>
<rect x="407.7" y="1070.5" width="3.6" height="453.4" fill="#d10000"/>
<rect x="410.7" y="1070.5" width="3.6" height="453.4" fill="#d90000"/>
<rect x="413.7" y="1070.5" width="3.6" height="453.4" fill="#e20000"/>
<rect x="416.7" y="1070.5" width="3.6" height="453.4" fill="#ea0000"/>
<rect x="419.7" y="1070.5" width="3.6" height="453.4" fill="#f30000"/>
<rect x="422.7" y="1070.5" width="3.6" height="453.4" fill="#fc0000"/>
<rect x="425.7" y="1070.5" width="3.6" height="453.4" fill="#ff0000"/>
<rect x="428.7" y="1070.5" width="3.6" height="453.4" fill="#ff0000"/>
<rect x="431.6" y="1070.5" width="3.6" height="453.4" fill="#ff0000"/>
<rect x="434.6" y="1070.5" width="3.6" height="453.4" fill="#ff0000"/>
<rect x="437.6" y="1070.5" width="3.6" height="453.4" fill="#ff0000"/>
<rect x="440.6" y="1070.5" width="3.6" height="453.4" fill="#ff0000"/>
<rect x="443.6" y="1070.5" width="3.6" height="453.4" fill="#ff0000"/>
<rect x="446.6" y="1070.5" width="3.6" height="453.4" fill="#ff0000"/>
<rect x="449.6" y="1070.5" width="3.6" height="453.4" fill="#ff0000"/>
<rect x="452.6" y="1070.5" width="3.6" height="453.4" fill="#ff0000"/>
<rect x="455.6" y="1070.5" width="3.6" height="453.4" fill="#ff0000"/>
<rect x="458.5" y="1070.5" width="3.6" height="453.4" fill="url(#r82)"/>
<rect x="461.5" y="1070.5" width="3.6" height="453.4" fill="url(#r83)"/>
<rect x="464.5" y="1070.5" width="3.6" height="453.4" fill="url(#r84)"/>
<rect x="467.5" y="1070.5" width="3.6" height="453.4" fill="url(#r85)"/>
<rect x="470.5" y="1070.5" width="3.6" height="453.4" fill="url(#r86)"/>
<rect x="473.5" y="1070.5" width="3.6" height="453.4" fill="url(#r87)"/>
<rect x="476.5" y="1070.5" width="3.6" height="453.4" fill="url(#r88)"/>
<rect x="479.5" y="1070.5" width="3.6" height="453.4" fill="url(#r89)"/>
<rect x="482.4" y="1070.5" width="3.6" height="453.4" fill="url(#r90)"/>
<rect x="485.4" y="1070.5" width="3.6" height="453.4" fill="url(#r91)"/>
<rect x="488.4" y="1070.5" width="3.6" height="453.4" fill="url(#r92)"/>
<rect x="491.4" y="1070.5" width="3.6" height="453.4" fill="url(#r93)"/>
<rect x="494.4" y="1070.5" width="3.6" height="453.4" fill="url(#r94)"/>
<rect x="497.4" y="1070.5" width="3.6" height="453.4" fill="url(#r95)"/>
<rect x="500.4" y="1070.5" width="3.6" height="453.4" fill="url(#r96)"/>
<rect x="503.4" y="1070.5" width="3.6" height="453.4" fill="url(#r97)"/>
<rect x="506.4" y="1070.5" width="3.6" height="453.4" fill="url(#r98)"/>
<rect x="509.3" y="1070.5" width="3.6" height="453.4" fill="url(#r99)"/>
<rect x="512.3" y="1070.5" width="3.6" height="453.4" fill="url(#r100)"/>
<rect x="515.3" y="1070.5" width="3.6" height="453.4" fill="url(#r101)"/>
<rect x="518.3" y="1070.5" width="3.6" height="453.4" fill="url(#r102)"/>
<rect x="521.3" y="1070.5" width="3.6" height="453.4" fill="url(#r103)"/>
<rect x="524.3" y="1070.5" width="3.6" height="453.4" fill="#7aff00"/>
<rect x="527.3" y="1070.5" width="3.6" height="453.4" fill="#6cff00"/>
<rect x="530.3" y="1070.5" width="3.6" height="453.4" fill="#5eff00"/>
<rect x="533.2" y="1070.5" width="3.6" height="453.4" fill="#51ff00"/>
<rect x="536.2" y="1070.5" width="3.6" height="453.4" fill="#44ff00"/>
<rect x="539.2" y="1070.5" width="3.6" height="453.4" fill="#37ff00"/>
<rect x="542.2" y="1070.5" width="3.6" height="453.4" fill="#2bff00"/>
<rect x="545.2" y="1070.5" width="3.6" height="453.4" fill="#1fff00"/>
<rect x="548.2" y="1070.5" width="3.6" height="453.4" fill="#13ff00"/>
<rect x="551.2" y="1070.5" width="3.6" height="453.4" fill="#08ff00"/>
<rect x="554.2" y="1070.5" width="3.6" height="453.4" fill="url(#r104)"/>
<rect x="557.2" y="1070.5" width="3.6" height="453.4" fill="url(#r105)"/>
<rect x="560.1" y="1070.5" width="3.6" height="453.4" fill="url(#r106)"/>
<rect x="563.1" y="1070.5" width="3.6" height="453.4" fill="url(#r107)"/>
<rect x="566.1" y="1070.5" width="3.6" height="453.4" fill="url(#r108)"/>
<rect x="569.1" y="1070.5" width="3.6" height="453.4" fill="url(#r109)"/>
<rect x="572.1" y="1070.5" width="3.6" height="453.4" fill="url(#r110)"/>
<rect x="575.1" y="1070.5" width="3.6" height="453.4" fill="url(#r111)"/>
<rect x="578.1" y="1070.5" width="3.6" height="453.4" fill="url(#r112)"/>
<rect x="581.1" y="1070.5" width="3.6" height="453.4" fill="url(#r113)"/>
<rect x="584.1" y="1070.5" width="3.6" height="453.4" fill="#00fefe"/>
<rect x="587" y="1070.5" width="3.6" height="453.4" fill="#00f4ff"/>
<rect x="590" y="1070.5" width="3.6" height="453.4" fill="#00eaff"/>
<rect x="593" y="1070.5" width="3.6" height="453.4" fill="#00dfff"/>
<rect x="596" y="1070.5" width="3.6" height="453.4" fill="#00d6ff"/>
<rect x="599" y="1070.5" width="3.6" height="453.4" fill="#00ccff"/>
<rect x="602" y="1070.5" width="3.6" height="453.4" fill="#00c3ff"/>
<rect x="605" y="1070.5" width="3.6" height="453.4" fill="#00baff"/>
<rect x="608" y="1070.5" width="3.6" height="453.4" fill="#00b1ff"/>
<rect x="610.9" y="1070.5" width="3.6" height="453.4" fill="#00a8ff"/>
<rect x="613.9" y="1070.5" width="3.6" height="453.4" fill="#00a0ff"/>
<rect x="616.9" y="1070.5" width="3.6" height="453.4" fill="#0097ff"/>
<rect x="619.9" y="1070.5" width="15.6" height="453.4" fill="#008fff"/>
</g></g>
<path d="M125.5 1513.9v-6M125.5 1080.5v6M208.4 1513.9v-6M208.4 1080.5v6M291.3 1513.9v-6M291.3 1080.5v6M374.2 1513.9v-6M374.2 1080.5v6M457.1 1513.9v-6M457.1 1080.5v6M540 1513.9v-6M540 1080.5v6M166.9 1513.9v-3.5M166.9 1080.5v3.5M249.8 1513.9v-3.5M249.8 1080.5v3.5M332.7 1513.9v-3.5M332.7 1080.5v3.5M415.6 1513.9v-3.5M415.6 1080.5v3.5M498.5 1513.9v-3.5M498.5 1080.5v3.5M581.4 1513.9v-3.5M581.4 1080.5v3.5M108.9 1452h6M622.9 1452h-6M108.9 1390.1h6M622.9 1390.1h-6M108.9 1328.2h6M622.9 1328.2h-6M108.9 1266.2h6M622.9 1266.2h-6M108.9 1204.3h6M622.9 1204.3h-6M108.9 1142.4h6M622.9 1142.4h-6M108.9 1482.9h3.5M622.9 1482.9h-3.5M108.9 1421h3.5M622.9 1421h-3.5M108.9 1359.1h3.5M622.9 1359.1h-3.5M108.9 1297.2h3.5M622.9 1297.2h-3.5M108.9 1235.3h3.5M622.9 1235.3h-3.5M108.9 1173.4h3.5M622.9 1173.4h-3.5M108.9 1111.5h3.5M622.9 1111.5h-3.5" stroke="#f4e6f4" stroke-width="1.5" fill="none"/>
<text x="125.5" y="1537.5" font-size="20" text-anchor="middle" fill="#000" stroke="#000">475</text>
<text x="208.4" y="1537.5" font-size="20" text-anchor="middle" fill="#000" stroke="#000">500</text>
<text x="291.3" y="1537.5" font-size="20" text-anchor="middle" fill="#000" stroke="#000">525</text>
<text x="374.2" y="1537.5" font-size="20" text-anchor="middle" fill="#000" stroke="#000">550</text>
<text x="457.1" y="1537.5" font-size="20" text-anchor="middle" fill="#000" stroke="#000">575</text>
<text x="540" y="1537.5" font-size="20" text-anchor="middle" fill="#000" stroke="#000">600</text>
<text x="622.9" y="1537.5" font-size="20" text-anchor="middle" fill="#000" stroke="#000">625</text>
<text x="100.4" y="1519.6" font-size="20" text-anchor="end" fill="#000" stroke="#000">10</text>
<text x="100.4" y="1459.2" font-size="20" text-anchor="end" fill="#000" stroke="#000">30</text>
<text x="100.4" y="1397.3" font-size="20" text-anchor="end" fill="#000" stroke="#000">50</text>
<text x="100.4" y="1335.4" font-size="20" text-anchor="end" fill="#000" stroke="#000">70</text>
<text x="100.4" y="1273.4" font-size="20" text-anchor="end" fill="#000" stroke="#000">90</text>
<text x="100.4" y="1211.5" font-size="20" text-anchor="end" fill="#000" stroke="#000">110</text>
<text x="100.4" y="1149.6" font-size="20" text-anchor="end" fill="#000" stroke="#000">130</text>
<text x="100.4" y="1087.7" font-size="20" text-anchor="end" fill="#000" stroke="#000">150</text>
<text x="57" y="1300.2" font-size="26.5" text-anchor="middle" fill="#000" stroke="#000" transform="rotate(-90 57 1300.2)">Temperature (Celsius)</text>
<text x="365.4" y="1569" font-size="26.9" text-anchor="middle" fill="#000" stroke="#000">Wavelength (nm)</text>
<text x="156.5" y="1162" font-size="52" text-anchor="middle" fill="#fff" stroke="#fff">3</text>
<rect x="509.1" y="1204.4" width="92.3" height="297.9" fill="#fff"/>
<rect x="524.2" y="1219.4" width="21.1" height="269.4" fill="url(#cbB3)"/>
<text x="562.5" y="1225.1" font-size="15.7" text-anchor="start" fill="#000" stroke="#000">1.0</text>
<text x="562.5" y="1292.4" font-size="15.7" text-anchor="start" fill="#000" stroke="#000">0.75</text>
<text x="562.5" y="1359.8" font-size="15.7" text-anchor="start" fill="#000" stroke="#000">0.50</text>
<text x="562.5" y="1427.1" font-size="15.7" text-anchor="start" fill="#000" stroke="#000">0.25</text>
<text x="562.5" y="1494.5" font-size="15.7" text-anchor="start" fill="#000" stroke="#000">0.0</text>
<clipPath id="hcs"><rect x="745.6" y="1080.5" width="514.1" height="433.4"/></clipPath>
<g clip-path="url(#hcs)"><g filter="url(#bl)">
<rect x="733.6" y="1070.5" width="15.6" height="453.4" fill="url(#s0)"/>
<rect x="748.6" y="1070.5" width="3.6" height="453.4" fill="url(#s1)"/>
<rect x="751.6" y="1070.5" width="3.6" height="453.4" fill="url(#s2)"/>
<rect x="754.6" y="1070.5" width="3.6" height="453.4" fill="url(#s3)"/>
<rect x="757.6" y="1070.5" width="3.6" height="453.4" fill="url(#s4)"/>
<rect x="760.5" y="1070.5" width="3.6" height="453.4" fill="url(#s5)"/>
<rect x="763.5" y="1070.5" width="3.6" height="453.4" fill="url(#s6)"/>
<rect x="766.5" y="1070.5" width="3.6" height="453.4" fill="url(#s7)"/>
<rect x="769.5" y="1070.5" width="3.6" height="453.4" fill="url(#s8)"/>
<rect x="772.5" y="1070.5" width="3.6" height="453.4" fill="url(#s9)"/>
<rect x="775.5" y="1070.5" width="3.6" height="453.4" fill="url(#s10)"/>
<rect x="778.5" y="1070.5" width="3.6" height="453.4" fill="url(#s11)"/>
<rect x="781.5" y="1070.5" width="3.6" height="453.4" fill="url(#s12)"/>
<rect x="784.5" y="1070.5" width="3.6" height="453.4" fill="url(#s13)"/>
<rect x="787.4" y="1070.5" width="3.6" height="453.4" fill="url(#s14)"/>
<rect x="790.4" y="1070.5" width="3.6" height="453.4" fill="url(#s15)"/>
<rect x="793.4" y="1070.5" width="3.6" height="453.4" fill="url(#s16)"/>
<rect x="796.4" y="1070.5" width="3.6" height="453.4" fill="url(#s17)"/>
<rect x="799.4" y="1070.5" width="3.6" height="453.4" fill="url(#s18)"/>
<rect x="802.4" y="1070.5" width="3.6" height="453.4" fill="url(#s19)"/>
<rect x="805.4" y="1070.5" width="3.6" height="453.4" fill="url(#s20)"/>
<rect x="808.4" y="1070.5" width="3.6" height="453.4" fill="url(#s21)"/>
<rect x="811.4" y="1070.5" width="3.6" height="453.4" fill="url(#s22)"/>
<rect x="814.3" y="1070.5" width="3.6" height="453.4" fill="url(#s23)"/>
<rect x="817.3" y="1070.5" width="3.6" height="453.4" fill="url(#s24)"/>
<rect x="820.3" y="1070.5" width="3.6" height="453.4" fill="url(#s25)"/>
<rect x="823.3" y="1070.5" width="3.6" height="453.4" fill="url(#s26)"/>
<rect x="826.3" y="1070.5" width="3.6" height="453.4" fill="url(#s27)"/>
<rect x="829.3" y="1070.5" width="3.6" height="453.4" fill="url(#s28)"/>
<rect x="832.3" y="1070.5" width="3.6" height="453.4" fill="url(#s29)"/>
<rect x="835.3" y="1070.5" width="3.6" height="453.4" fill="url(#s30)"/>
<rect x="838.3" y="1070.5" width="3.6" height="453.4" fill="url(#s31)"/>
<rect x="841.2" y="1070.5" width="3.6" height="453.4" fill="url(#s32)"/>
<rect x="844.2" y="1070.5" width="3.6" height="453.4" fill="url(#s33)"/>
<rect x="847.2" y="1070.5" width="3.6" height="453.4" fill="url(#s34)"/>
<rect x="850.2" y="1070.5" width="3.6" height="453.4" fill="url(#s35)"/>
<rect x="853.2" y="1070.5" width="3.6" height="453.4" fill="url(#s36)"/>
<rect x="856.2" y="1070.5" width="3.6" height="453.4" fill="url(#s37)"/>
<rect x="859.2" y="1070.5" width="3.6" height="453.4" fill="url(#s38)"/>
<rect x="862.2" y="1070.5" width="3.6" height="453.4" fill="url(#s39)"/>
<rect x="865.2" y="1070.5" width="3.6" height="453.4" fill="url(#s40)"/>
<rect x="868.1" y="1070.5" width="3.6" height="453.4" fill="url(#s41)"/>
<rect x="871.1" y="1070.5" width="3.6" height="453.4" fill="url(#s42)"/>
<rect x="874.1" y="1070.5" width="3.6" height="453.4" fill="url(#s43)"/>
<rect x="877.1" y="1070.5" width="3.6" height="453.4" fill="url(#s44)"/>
<rect x="880.1" y="1070.5" width="3.6" height="453.4" fill="url(#s45)"/>
<rect x="883.1" y="1070.5" width="3.6" height="453.4" fill="url(#s46)"/>
<rect x="886.1" y="1070.5" width="3.6" height="453.4" fill="url(#s47)"/>
<rect x="889.1" y="1070.5" width="3.6" height="453.4" fill="url(#s48)"/>
<rect x="892.1" y="1070.5" width="3.6" height="453.4" fill="url(#s49)"/>
<rect x="895" y="1070.5" width="3.6" height="453.4" fill="url(#s50)"/>
<rect x="898" y="1070.5" width="3.6" height="453.4" fill="url(#s51)"/>
<rect x="901" y="1070.5" width="3.6" height="453.4" fill="url(#s52)"/>
<rect x="904" y="1070.5" width="3.6" height="453.4" fill="url(#s53)"/>
<rect x="907" y="1070.5" width="3.6" height="453.4" fill="url(#s54)"/>
<rect x="910" y="1070.5" width="3.6" height="453.4" fill="url(#s55)"/>
<rect x="913" y="1070.5" width="3.6" height="453.4" fill="url(#s56)"/>
<rect x="916" y="1070.5" width="3.6" height="453.4" fill="url(#s57)"/>
<rect x="919" y="1070.5" width="3.6" height="453.4" fill="url(#s58)"/>
<rect x="921.9" y="1070.5" width="3.6" height="453.4" fill="url(#s59)"/>
<rect x="924.9" y="1070.5" width="3.6" height="453.4" fill="url(#s60)"/>
<rect x="927.9" y="1070.5" width="3.6" height="453.4" fill="url(#s61)"/>
<rect x="930.9" y="1070.5" width="3.6" height="453.4" fill="url(#s62)"/>
<rect x="933.9" y="1070.5" width="3.6" height="453.4" fill="url(#s63)"/>
<rect x="936.9" y="1070.5" width="3.6" height="453.4" fill="url(#s64)"/>
<rect x="939.9" y="1070.5" width="3.6" height="453.4" fill="url(#s65)"/>
<rect x="942.9" y="1070.5" width="3.6" height="453.4" fill="url(#s66)"/>
<rect x="945.9" y="1070.5" width="3.6" height="453.4" fill="url(#s67)"/>
<rect x="948.8" y="1070.5" width="3.6" height="453.4" fill="url(#s68)"/>
<rect x="951.8" y="1070.5" width="3.6" height="453.4" fill="url(#s69)"/>
<rect x="954.8" y="1070.5" width="3.6" height="453.4" fill="url(#s70)"/>
<rect x="957.8" y="1070.5" width="3.6" height="453.4" fill="url(#s71)"/>
<rect x="960.8" y="1070.5" width="3.6" height="453.4" fill="#5e0000"/>
<rect x="963.8" y="1070.5" width="3.6" height="453.4" fill="#5d0000"/>
<rect x="966.8" y="1070.5" width="3.6" height="453.4" fill="#5d0000"/>
<rect x="969.8" y="1070.5" width="3.6" height="453.4" fill="#5c0000"/>
<rect x="972.8" y="1070.5" width="3.6" height="453.4" fill="#5c0000"/>
<rect x="975.7" y="1070.5" width="3.6" height="453.4" fill="#5c0000"/>
<rect x="978.7" y="1070.5" width="3.6" height="453.4" fill="#5d0000"/>
<rect x="981.7" y="1070.5" width="3.6" height="453.4" fill="#5e0000"/>
<rect x="984.7" y="1070.5" width="3.6" height="453.4" fill="url(#s72)"/>
<rect x="987.7" y="1070.5" width="3.6" height="453.4" fill="url(#s73)"/>
<rect x="990.7" y="1070.5" width="3.6" height="453.4" fill="url(#s74)"/>
<rect x="993.7" y="1070.5" width="3.6" height="453.4" fill="url(#s75)"/>
<rect x="996.7" y="1070.5" width="3.6" height="453.4" fill="url(#s76)"/>
<rect x="999.7" y="1070.5" width="3.6" height="453.4" fill="url(#s77)"/>
<rect x="1002.7" y="1070.5" width="3.6" height="453.4" fill="url(#s78)"/>
<rect x="1005.6" y="1070.5" width="3.6" height="453.4" fill="url(#s79)"/>
<rect x="1008.6" y="1070.5" width="3.6" height="453.4" fill="url(#s80)"/>
<rect x="1011.6" y="1070.5" width="3.6" height="453.4" fill="url(#s81)"/>
<rect x="1014.6" y="1070.5" width="3.6" height="453.4" fill="url(#s82)"/>
<rect x="1017.6" y="1070.5" width="3.6" height="453.4" fill="url(#s83)"/>
<rect x="1020.6" y="1070.5" width="3.6" height="453.4" fill="url(#s84)"/>
<rect x="1023.6" y="1070.5" width="3.6" height="453.4" fill="url(#s85)"/>
<rect x="1026.6" y="1070.5" width="3.6" height="453.4" fill="url(#s86)"/>
<rect x="1029.6" y="1070.5" width="3.6" height="453.4" fill="url(#s87)"/>
<rect x="1032.5" y="1070.5" width="3.6" height="453.4" fill="url(#s88)"/>
<rect x="1035.5" y="1070.5" width="3.6" height="453.4" fill="url(#s89)"/>
<rect x="1038.5" y="1070.5" width="3.6" height="453.4" fill="url(#s90)"/>
<rect x="1041.5" y="1070.5" width="3.6" height="453.4" fill="url(#s91)"/>
<rect x="1044.5" y="1070.5" width="3.6" height="453.4" fill="url(#s92)"/>
<rect x="1047.5" y="1070.5" width="3.6" height="453.4" fill="url(#s93)"/>
<rect x="1050.5" y="1070.5" width="3.6" height="453.4" fill="url(#s94)"/>
<rect x="1053.5" y="1070.5" width="3.6" height="453.4" fill="url(#s95)"/>
<rect x="1056.5" y="1070.5" width="3.6" height="453.4" fill="url(#s96)"/>
<rect x="1059.4" y="1070.5" width="3.6" height="453.4" fill="url(#s97)"/>
<rect x="1062.4" y="1070.5" width="3.6" height="453.4" fill="url(#s98)"/>
<rect x="1065.4" y="1070.5" width="3.6" height="453.4" fill="#ff0000"/>
<rect x="1068.4" y="1070.5" width="3.6" height="453.4" fill="#ff0000"/>
<rect x="1071.4" y="1070.5" width="3.6" height="453.4" fill="#ff0000"/>
<rect x="1074.4" y="1070.5" width="3.6" height="453.4" fill="#ff0000"/>
<rect x="1077.4" y="1070.5" width="3.6" height="453.4" fill="#ff0000"/>
<rect x="1080.4" y="1070.5" width="3.6" height="453.4" fill="#ff0000"/>
<rect x="1083.4" y="1070.5" width="3.6" height="453.4" fill="#ff0000"/>
<rect x="1086.3" y="1070.5" width="3.6" height="453.4" fill="#ff0000"/>
<rect x="1089.3" y="1070.5" width="3.6" height="453.4" fill="#ff0000"/>
<rect x="1092.3" y="1070.5" width="3.6" height="453.4" fill="url(#s99)"/>
<rect x="1095.3" y="1070.5" width="3.6" height="453.4" fill="url(#s100)"/>
<rect x="1098.3" y="1070.5" width="3.6" height="453.4" fill="url(#s101)"/>
<rect x="1101.3" y="1070.5" width="3.6" height="453.4" fill="url(#s102)"/>
<rect x="1104.3" y="1070.5" width="3.6" height="453.4" fill="url(#s103)"/>
<rect x="1107.3" y="1070.5" width="3.6" height="453.4" fill="url(#s104)"/>
<rect x="1110.3" y="1070.5" width="3.6" height="453.4" fill="url(#s105)"/>
<rect x="1113.2" y="1070.5" width="3.6" height="453.4" fill="url(#s106)"/>
<rect x="1116.2" y="1070.5" width="3.6" height="453.4" fill="url(#s107)"/>
<rect x="1119.2" y="1070.5" width="3.6" height="453.4" fill="url(#s108)"/>
<rect x="1122.2" y="1070.5" width="3.6" height="453.4" fill="url(#s109)"/>
<rect x="1125.2" y="1070.5" width="3.6" height="453.4" fill="url(#s110)"/>
<rect x="1128.2" y="1070.5" width="3.6" height="453.4" fill="url(#s111)"/>
<rect x="1131.2" y="1070.5" width="3.6" height="453.4" fill="url(#s112)"/>
<rect x="1134.2" y="1070.5" width="3.6" height="453.4" fill="url(#s113)"/>
<rect x="1137.2" y="1070.5" width="3.6" height="453.4" fill="url(#s114)"/>
<rect x="1140.1" y="1070.5" width="3.6" height="453.4" fill="url(#s115)"/>
<rect x="1143.1" y="1070.5" width="3.6" height="453.4" fill="url(#s116)"/>
<rect x="1146.1" y="1070.5" width="3.6" height="453.4" fill="url(#s117)"/>
<rect x="1149.1" y="1070.5" width="3.6" height="453.4" fill="url(#s118)"/>
<rect x="1152.1" y="1070.5" width="3.6" height="453.4" fill="url(#s119)"/>
<rect x="1155.1" y="1070.5" width="3.6" height="453.4" fill="url(#s120)"/>
<rect x="1158.1" y="1070.5" width="3.6" height="453.4" fill="url(#s121)"/>
<rect x="1161.1" y="1070.5" width="3.6" height="453.4" fill="url(#s122)"/>
<rect x="1164.1" y="1070.5" width="3.6" height="453.4" fill="url(#s123)"/>
<rect x="1167" y="1070.5" width="3.6" height="453.4" fill="url(#s124)"/>
<rect x="1170" y="1070.5" width="3.6" height="453.4" fill="url(#s125)"/>
<rect x="1173" y="1070.5" width="3.6" height="453.4" fill="url(#s126)"/>
<rect x="1176" y="1070.5" width="3.6" height="453.4" fill="url(#s127)"/>
<rect x="1179" y="1070.5" width="3.6" height="453.4" fill="url(#s128)"/>
<rect x="1182" y="1070.5" width="3.6" height="453.4" fill="url(#s129)"/>
<rect x="1185" y="1070.5" width="3.6" height="453.4" fill="url(#s130)"/>
<rect x="1188" y="1070.5" width="3.6" height="453.4" fill="url(#s131)"/>
<rect x="1191" y="1070.5" width="3.6" height="453.4" fill="url(#s132)"/>
<rect x="1193.9" y="1070.5" width="3.6" height="453.4" fill="url(#s133)"/>
<rect x="1196.9" y="1070.5" width="3.6" height="453.4" fill="url(#s134)"/>
<rect x="1199.9" y="1070.5" width="3.6" height="453.4" fill="url(#s135)"/>
<rect x="1202.9" y="1070.5" width="3.6" height="453.4" fill="url(#s136)"/>
<rect x="1205.9" y="1070.5" width="3.6" height="453.4" fill="url(#s137)"/>
<rect x="1208.9" y="1070.5" width="3.6" height="453.4" fill="url(#s138)"/>
<rect x="1211.9" y="1070.5" width="3.6" height="453.4" fill="url(#s139)"/>
<rect x="1214.9" y="1070.5" width="3.6" height="453.4" fill="url(#s140)"/>
<rect x="1217.9" y="1070.5" width="3.6" height="453.4" fill="url(#s141)"/>
<rect x="1220.8" y="1070.5" width="3.6" height="453.4" fill="url(#s142)"/>
<rect x="1223.8" y="1070.5" width="3.6" height="453.4" fill="url(#s143)"/>
<rect x="1226.8" y="1070.5" width="3.6" height="453.4" fill="url(#s144)"/>
<rect x="1229.8" y="1070.5" width="3.6" height="453.4" fill="url(#s145)"/>
<rect x="1232.8" y="1070.5" width="3.6" height="453.4" fill="url(#s146)"/>
<rect x="1235.8" y="1070.5" width="3.6" height="453.4" fill="url(#s147)"/>
<rect x="1238.8" y="1070.5" width="3.6" height="453.4" fill="url(#s148)"/>
<rect x="1241.8" y="1070.5" width="3.6" height="453.4" fill="url(#s149)"/>
<rect x="1244.8" y="1070.5" width="3.6" height="453.4" fill="url(#s150)"/>
<rect x="1247.7" y="1070.5" width="3.6" height="453.4" fill="url(#s151)"/>
<rect x="1250.7" y="1070.5" width="3.6" height="453.4" fill="url(#s152)"/>
<rect x="1253.7" y="1070.5" width="3.6" height="453.4" fill="url(#s153)"/>
<rect x="1256.7" y="1070.5" width="15.6" height="453.4" fill="url(#s154)"/>
</g></g>
<path d="M762.2 1513.9v-6M762.2 1080.5v6M845.1 1513.9v-6M845.1 1080.5v6M928 1513.9v-6M928 1080.5v6M1010.9 1513.9v-6M1010.9 1080.5v6M1093.9 1513.9v-6M1093.9 1080.5v6M1176.8 1513.9v-6M1176.8 1080.5v6M803.6 1513.9v-3.5M803.6 1080.5v3.5M886.6 1513.9v-3.5M886.6 1080.5v3.5M969.5 1513.9v-3.5M969.5 1080.5v3.5M1052.4 1513.9v-3.5M1052.4 1080.5v3.5M1135.3 1513.9v-3.5M1135.3 1080.5v3.5M1218.2 1513.9v-3.5M1218.2 1080.5v3.5M745.6 1452h6M1259.7 1452h-6M745.6 1390.1h6M1259.7 1390.1h-6M745.6 1328.2h6M1259.7 1328.2h-6M745.6 1266.2h6M1259.7 1266.2h-6M745.6 1204.3h6M1259.7 1204.3h-6M745.6 1142.4h6M1259.7 1142.4h-6M745.6 1482.9h3.5M1259.7 1482.9h-3.5M745.6 1421h3.5M1259.7 1421h-3.5M745.6 1359.1h3.5M1259.7 1359.1h-3.5M745.6 1297.2h3.5M1259.7 1297.2h-3.5M745.6 1235.3h3.5M1259.7 1235.3h-3.5M745.6 1173.4h3.5M1259.7 1173.4h-3.5M745.6 1111.5h3.5M1259.7 1111.5h-3.5" stroke="#f4e6f4" stroke-width="1.5" fill="none"/>
<text x="762.2" y="1537.5" font-size="20" text-anchor="middle" fill="#000" stroke="#000">475</text>
<text x="845.1" y="1537.5" font-size="20" text-anchor="middle" fill="#000" stroke="#000">500</text>
<text x="928" y="1537.5" font-size="20" text-anchor="middle" fill="#000" stroke="#000">525</text>
<text x="1010.9" y="1537.5" font-size="20" text-anchor="middle" fill="#000" stroke="#000">550</text>
<text x="1093.9" y="1537.5" font-size="20" text-anchor="middle" fill="#000" stroke="#000">575</text>
<text x="1176.8" y="1537.5" font-size="20" text-anchor="middle" fill="#000" stroke="#000">600</text>
<text x="1259.7" y="1537.5" font-size="20" text-anchor="middle" fill="#000" stroke="#000">625</text>
<text x="737.1" y="1519.6" font-size="20" text-anchor="end" fill="#000" stroke="#000">10</text>
<text x="737.1" y="1459.2" font-size="20" text-anchor="end" fill="#000" stroke="#000">30</text>
<text x="737.1" y="1397.3" font-size="20" text-anchor="end" fill="#000" stroke="#000">50</text>
<text x="737.1" y="1335.4" font-size="20" text-anchor="end" fill="#000" stroke="#000">70</text>
<text x="737.1" y="1273.4" font-size="20" text-anchor="end" fill="#000" stroke="#000">90</text>
<text x="737.1" y="1211.5" font-size="20" text-anchor="end" fill="#000" stroke="#000">110</text>
<text x="737.1" y="1149.6" font-size="20" text-anchor="end" fill="#000" stroke="#000">130</text>
<text x="737.1" y="1087.7" font-size="20" text-anchor="end" fill="#000" stroke="#000">150</text>
<text x="693" y="1300.2" font-size="26.5" text-anchor="middle" fill="#000" stroke="#000" transform="rotate(-90 693 1300.2)">Temperature (Celsius)</text>
<text x="1002.2" y="1569" font-size="26.9" text-anchor="middle" fill="#000" stroke="#000">Wavelength (nm)</text>
<text x="791" y="1162" font-size="52" text-anchor="middle" fill="#fff" stroke="#fff">4</text>
<rect x="1149.1" y="1226.8" width="91.1" height="277.5" fill="#fff"/>
<rect x="1163" y="1241.8" width="22.3" height="249.1" fill="url(#cbB4)"/>
<text x="1202.5" y="1247.5" font-size="15.7" text-anchor="start" fill="#000" stroke="#000">1.0</text>
<text x="1202.5" y="1309.7" font-size="15.7" text-anchor="start" fill="#000" stroke="#000">0.75</text>
<text x="1202.5" y="1372" font-size="15.7" text-anchor="start" fill="#000" stroke="#000">0.50</text>
<text x="1202.5" y="1434.3" font-size="15.7" text-anchor="start" fill="#000" stroke="#000">0.25</text>
<text x="1202.5" y="1496.6" font-size="15.7" text-anchor="start" fill="#000" stroke="#000">0.0</text>
<rect x="1312.8" y="1080.2" width="234.2" height="433.7" fill="none" stroke="#000" stroke-width="1.7"/>
<path d="M1349.7 1513.9v-6M1349.7 1080.2v6M1428.6 1513.9v-6M1428.6 1080.2v6M1507.5 1513.9v-6M1507.5 1080.2v6M1389.2 1513.9v-3.5M1389.2 1080.2v3.5M1468 1513.9v-3.5M1468 1080.2v3.5M1312.8 1505h6M1547 1505h-6M1312.8 1475.3h6M1547 1475.3h-6M1312.8 1445.6h6M1547 1445.6h-6M1312.8 1415.9h6M1547 1415.9h-6M1312.8 1386.2h6M1547 1386.2h-6M1312.8 1356.5h6M1547 1356.5h-6M1312.8 1326.9h6M1547 1326.9h-6M1312.8 1297.2h6M1547 1297.2h-6M1312.8 1267.5h6M1547 1267.5h-6M1312.8 1237.8h6M1547 1237.8h-6M1312.8 1208.1h6M1547 1208.1h-6M1312.8 1178.4h6M1547 1178.4h-6M1312.8 1148.7h6M1547 1148.7h-6M1312.8 1119h6M1547 1119h-6M1312.8 1089.3h6M1547 1089.3h-6" stroke="#000" stroke-width="1.5" fill="none"/>
<text x="1349.7" y="1536.7" font-size="20" text-anchor="middle" fill="#000" stroke="#000">538</text>
<text x="1428.6" y="1536.7" font-size="20" text-anchor="middle" fill="#000" stroke="#000">540</text>
<text x="1507.5" y="1536.7" font-size="20" text-anchor="middle" fill="#000" stroke="#000">542</text>
<text x="1272.3" y="1087.4" font-size="20" text-anchor="start" fill="#000" stroke="#000">150</text>
<text x="1272.3" y="1149.6" font-size="20" text-anchor="start" fill="#000" stroke="#000">130</text>
<text x="1272.3" y="1211.5" font-size="20" text-anchor="start" fill="#000" stroke="#000">110</text>
<text x="1272.3" y="1273.4" font-size="20" text-anchor="start" fill="#000" stroke="#000">90</text>
<text x="1272.3" y="1335.3" font-size="20" text-anchor="start" fill="#000" stroke="#000">70</text>
<text x="1272.3" y="1397.2" font-size="20" text-anchor="start" fill="#000" stroke="#000">50</text>
<text x="1272.3" y="1459.1" font-size="20" text-anchor="start" fill="#000" stroke="#000">30</text>
<text x="1272.3" y="1521" font-size="20" text-anchor="start" fill="#000" stroke="#000">10</text>
<text x="1428" y="1564.5" font-size="26.5" text-anchor="middle" fill="#000" stroke="#000">Peak Wavelength (nm)</text>
<text x="1529" y="1175" font-size="52" text-anchor="middle" fill="#000" stroke="#000">5</text>
<clipPath id="cb5"><rect x="1312.8" y="1080.2" width="234.2" height="433.7"/></clipPath><g clip-path="url(#cb5)">
<path d="M1325.2 1077.3v24M1329.8 1077.3v24" stroke="#0000f0" stroke-width="2"/>
<rect x="1321" y="1082.8" width="13" height="13" fill="#0000f0"/>
<path d="M1333.7 1107v24M1338.3 1107v24" stroke="#0000f0" stroke-width="2"/>
<rect x="1329.5" y="1112.5" width="13" height="13" fill="#0000f0"/>
<path d="M1345.1 1136.7v24M1349.7 1136.7v24" stroke="#0000f0" stroke-width="2"/>
<rect x="1340.9" y="1142.2" width="13" height="13" fill="#0000f0"/>
<path d="M1356.2 1166.4v24M1360.8 1166.4v24" stroke="#0000f0" stroke-width="2"/>
<rect x="1352" y="1171.9" width="13" height="13" fill="#0000f0"/>
<path d="M1357.8 1196.1v24M1362.4 1196.1v24" stroke="#0000f0" stroke-width="2"/>
<rect x="1353.6" y="1201.6" width="13" height="13" fill="#0000f0"/>
<path d="M1368.9 1225.8v24M1373.5 1225.8v24" stroke="#0000f0" stroke-width="2"/>
<rect x="1364.7" y="1231.3" width="13" height="13" fill="#0000f0"/>
<path d="M1370.6 1255.5v24M1375.2 1255.5v24" stroke="#0000f0" stroke-width="2"/>
<rect x="1366.4" y="1261" width="13" height="13" fill="#0000f0"/>
<path d="M1375.1 1285.2v24M1379.7 1285.2v24" stroke="#0000f0" stroke-width="2"/>
<rect x="1370.9" y="1290.7" width="13" height="13" fill="#0000f0"/>
<path d="M1375.8 1314.9v24M1380.4 1314.9v24" stroke="#0000f0" stroke-width="2"/>
<rect x="1371.6" y="1320.4" width="13" height="13" fill="#0000f0"/>
<path d="M1390.5 1344.5v24M1395.1 1344.5v24" stroke="#0000f0" stroke-width="2"/>
<rect x="1386.3" y="1350" width="13" height="13" fill="#0000f0"/>
<path d="M1396.4 1374.2v24M1401 1374.2v24" stroke="#0000f0" stroke-width="2"/>
<rect x="1392.2" y="1379.7" width="13" height="13" fill="#0000f0"/>
<path d="M1421.8 1403.9v24M1426.4 1403.9v24" stroke="#0000f0" stroke-width="2"/>
<rect x="1417.6" y="1409.4" width="13" height="13" fill="#0000f0"/>
<path d="M1427.4 1433.6v24M1432 1433.6v24" stroke="#0000f0" stroke-width="2"/>
<rect x="1423.2" y="1439.1" width="13" height="13" fill="#0000f0"/>
<path d="M1432.3 1463.3v24M1436.9 1463.3v24" stroke="#0000f0" stroke-width="2"/>
<rect x="1428.1" y="1468.8" width="13" height="13" fill="#0000f0"/>
<path d="M1457.8 1493v24M1462.4 1493v24" stroke="#0000f0" stroke-width="2"/>
<rect x="1453.6" y="1498.5" width="13" height="13" fill="#0000f0"/>
<path d="M1340.2 1077.3v24M1344.8 1077.3v24" stroke="#f01010" stroke-width="2"/>
<ellipse cx="1342.5" cy="1089.3" rx="7.6" ry="6.8" fill="#f01010"/>
<path d="M1343.1 1107v24M1347.7 1107v24" stroke="#f01010" stroke-width="2"/>
<ellipse cx="1345.4" cy="1119" rx="7.6" ry="6.8" fill="#f01010"/>
<path d="M1345.1 1136.7v24M1349.7 1136.7v24" stroke="#f01010" stroke-width="2"/>
<ellipse cx="1347.4" cy="1148.7" rx="7.6" ry="6.8" fill="#f01010"/>
<path d="M1347.4 1166.4v24M1352 1166.4v24" stroke="#f01010" stroke-width="2"/>
<ellipse cx="1349.7" cy="1178.4" rx="7.6" ry="6.8" fill="#f01010"/>
<path d="M1349 1196.1v24M1353.6 1196.1v24" stroke="#f01010" stroke-width="2"/>
<ellipse cx="1351.3" cy="1208.1" rx="7.6" ry="6.8" fill="#f01010"/>
<path d="M1351.6 1225.8v24M1356.2 1225.8v24" stroke="#f01010" stroke-width="2"/>
<ellipse cx="1353.9" cy="1237.8" rx="7.6" ry="6.8" fill="#f01010"/>
<path d="M1357.2 1255.5v24M1361.8 1255.5v24" stroke="#f01010" stroke-width="2"/>
<ellipse cx="1359.5" cy="1267.5" rx="7.6" ry="6.8" fill="#f01010"/>
<path d="M1358.2 1285.2v24M1362.8 1285.2v24" stroke="#f01010" stroke-width="2"/>
<ellipse cx="1360.5" cy="1297.2" rx="7.6" ry="6.8" fill="#f01010"/>
<path d="M1362.1 1314.9v24M1366.7 1314.9v24" stroke="#f01010" stroke-width="2"/>
<ellipse cx="1364.4" cy="1326.9" rx="7.6" ry="6.8" fill="#f01010"/>
<path d="M1363.7 1344.5v24M1368.3 1344.5v24" stroke="#f01010" stroke-width="2"/>
<ellipse cx="1366" cy="1356.5" rx="7.6" ry="6.8" fill="#f01010"/>
<path d="M1366.3 1374.2v24M1370.9 1374.2v24" stroke="#f01010" stroke-width="2"/>
<ellipse cx="1368.6" cy="1386.2" rx="7.6" ry="6.8" fill="#f01010"/>
<path d="M1375.1 1403.9v24M1379.7 1403.9v24" stroke="#f01010" stroke-width="2"/>
<ellipse cx="1377.4" cy="1415.9" rx="7.6" ry="6.8" fill="#f01010"/>
<path d="M1378.4 1433.6v24M1383 1433.6v24" stroke="#f01010" stroke-width="2"/>
<ellipse cx="1380.7" cy="1445.6" rx="7.6" ry="6.8" fill="#f01010"/>
<path d="M1381 1463.3v24M1385.6 1463.3v24" stroke="#f01010" stroke-width="2"/>
<ellipse cx="1383.3" cy="1475.3" rx="7.6" ry="6.8" fill="#f01010"/>
<path d="M1383.3 1493v24M1387.9 1493v24" stroke="#f01010" stroke-width="2"/>
<ellipse cx="1385.6" cy="1505" rx="7.6" ry="6.8" fill="#f01010"/>
</g>
<rect x="1361" y="1092.5" width="11.5" height="11.5" fill="#0000f0"/>
<text x="1374.8" y="1104.7" font-size="21.4" text-anchor="start" fill="#000" stroke="#000">Microstructured</text>
<ellipse cx="1366" cy="1123.7" rx="6" ry="5.8" fill="#f01010"/>
<text x="1374.8" y="1130.9" font-size="21.4" text-anchor="start" fill="#000" stroke="#000">Film</text>
</svg>
</body></html>
